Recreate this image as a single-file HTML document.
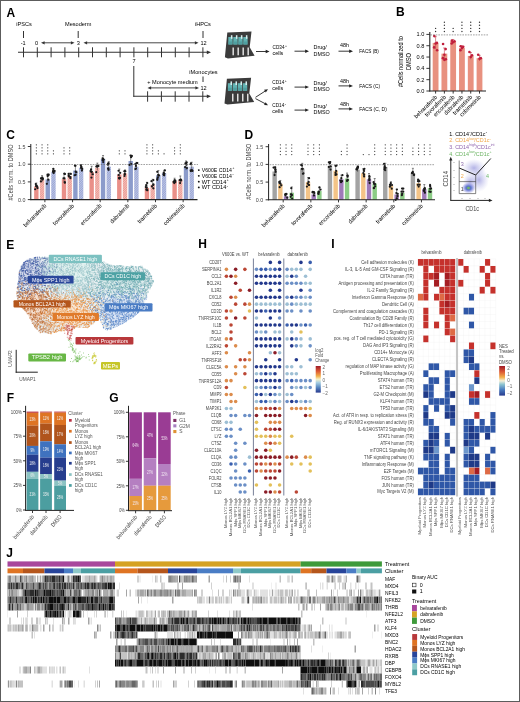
<!DOCTYPE html>
<html><head><meta charset="utf-8"><style>
html,body{margin:0;padding:0;background:#fff;overflow:hidden;}
svg{display:block;will-change:transform;font-family:"Liberation Sans", sans-serif;}
</style></head><body>
<svg width="520" height="702" viewBox="0 0 520 702">
<rect width="520" height="702" fill="#fff"/>
<defs><pattern id="hs" width="1.6" height="1.6" patternUnits="userSpaceOnUse" patternTransform="rotate(45)"><rect width="1.6" height="1.6" fill="#eb9a92"/><rect width="0.55" height="1.6" fill="#f8d0cc"/></pattern><pattern id="hb" width="1.6" height="1.6" patternUnits="userSpaceOnUse" patternTransform="rotate(45)"><rect width="1.6" height="1.6" fill="#9aa6d4"/><rect width="0.55" height="1.6" fill="#cdd3ee"/></pattern></defs>
<text x="6.4" y="16.5" font-size="12" fill="#000" font-weight="bold">A</text>
<line x1="18" y1="52.3" x2="207" y2="52.3" stroke="#333" stroke-width="1.1"/>
<path d="M211 52.3L206.8 54.19L206.8 50.41Z" fill="#333"/>
<line x1="23.5" y1="47.3" x2="23.5" y2="57.3" stroke="#333" stroke-width="1"/>
<line x1="37.3" y1="47.3" x2="37.3" y2="57.3" stroke="#333" stroke-width="1"/>
<line x1="51.1" y1="47.3" x2="51.1" y2="57.3" stroke="#333" stroke-width="1"/>
<line x1="64.9" y1="47.3" x2="64.9" y2="57.3" stroke="#333" stroke-width="1"/>
<line x1="78.7" y1="47.3" x2="78.7" y2="57.3" stroke="#333" stroke-width="1"/>
<line x1="92.5" y1="47.3" x2="92.5" y2="57.3" stroke="#333" stroke-width="1"/>
<line x1="106.3" y1="47.3" x2="106.3" y2="57.3" stroke="#333" stroke-width="1"/>
<line x1="120.1" y1="47.3" x2="120.1" y2="57.3" stroke="#333" stroke-width="1"/>
<line x1="133.9" y1="47.3" x2="133.9" y2="57.3" stroke="#333" stroke-width="1"/>
<line x1="147.7" y1="47.3" x2="147.7" y2="57.3" stroke="#333" stroke-width="1"/>
<line x1="161.5" y1="47.3" x2="161.5" y2="57.3" stroke="#333" stroke-width="1"/>
<line x1="175.3" y1="47.3" x2="175.3" y2="57.3" stroke="#333" stroke-width="1"/>
<line x1="189.1" y1="47.3" x2="189.1" y2="57.3" stroke="#333" stroke-width="1"/>
<line x1="202.9" y1="47.3" x2="202.9" y2="57.3" stroke="#333" stroke-width="1"/>
<text x="24" y="26.4" font-size="5.6" text-anchor="middle">iPSCs</text>
<text x="78.2" y="26.4" font-size="5.6" text-anchor="middle">Mesoderm</text>
<text x="203" y="26.4" font-size="5.6" text-anchor="middle">iHPCs</text>
<line x1="23.5" y1="31" x2="23.5" y2="38" stroke="#333" stroke-width="1"/>
<line x1="78.2" y1="31" x2="78.2" y2="38" stroke="#333" stroke-width="1"/>
<line x1="203" y1="31" x2="203" y2="38" stroke="#333" stroke-width="1"/>
<text x="23.2" y="44.7" font-size="5.6" text-anchor="middle">-1</text>
<text x="36.5" y="44.7" font-size="5.6" text-anchor="middle">0</text>
<text x="78.2" y="44.7" font-size="5.6" text-anchor="middle">3</text>
<text x="203.5" y="44.7" font-size="5.6" text-anchor="middle">12</text>
<line x1="44" y1="42.8" x2="71.5" y2="42.8" stroke="#333" stroke-width="0.9"/>
<path d="M41 42.8L44.6 41.18L44.6 44.42Z" fill="#333"/>
<path d="M74.5 42.8L70.9 44.42L70.9 41.18Z" fill="#333"/>
<line x1="86.5" y1="42.8" x2="195.5" y2="42.8" stroke="#333" stroke-width="0.9"/>
<path d="M83.5 42.8L87.1 41.18L87.1 44.42Z" fill="#333"/>
<path d="M198.5 42.8L194.9 44.42L194.9 41.18Z" fill="#333"/>
<text x="134" y="63.3" font-size="5.6" text-anchor="middle">7</text>
<line x1="133.8" y1="66" x2="133.8" y2="96.8" stroke="#333" stroke-width="1"/>
<line x1="133.3" y1="96.3" x2="207" y2="96.3" stroke="#333" stroke-width="1.1"/>
<path d="M211 96.3L206.8 98.19L206.8 94.41Z" fill="#333"/>
<line x1="147.6" y1="91.3" x2="147.6" y2="101.7" stroke="#333" stroke-width="1"/>
<line x1="161.4" y1="91.3" x2="161.4" y2="101.7" stroke="#333" stroke-width="1"/>
<line x1="175.2" y1="91.3" x2="175.2" y2="101.7" stroke="#333" stroke-width="1"/>
<line x1="189" y1="91.3" x2="189" y2="101.7" stroke="#333" stroke-width="1"/>
<line x1="202.8" y1="91.3" x2="202.8" y2="101.7" stroke="#333" stroke-width="1"/>
<text x="172.5" y="84.4" font-size="5.6" text-anchor="middle">+ Monocyte medium</text>
<line x1="150.5" y1="87.9" x2="196" y2="87.9" stroke="#333" stroke-width="0.9"/>
<path d="M147.5 87.9L151.1 86.28L151.1 89.52Z" fill="#333"/>
<path d="M199 87.9L195.4 89.52L195.4 86.28Z" fill="#333"/>
<text x="203.5" y="89.8" font-size="5.6" text-anchor="middle">12</text>
<text x="203.5" y="74.2" font-size="5.6" text-anchor="middle">iMonocytes</text>
<line x1="203" y1="76.5" x2="203" y2="82" stroke="#333" stroke-width="1"/>
<path d="M227.3 32.6L251.5 31.5L249.7 47.2L254.6 55.7L227.9 58.4L224.9 57.2Z" fill="#3b3b3b"/>
<rect x="228.3" y="37" width="4.3" height="7.6" fill="#62b2b2"/>
<rect x="230.9" y="35.2" width="1.5" height="3.6" fill="#d8eeee"/>
<rect x="228.6" y="41.5" width="3.6" height="2.8" fill="#4f9fa0"/>
<rect x="233.3" y="37" width="4.3" height="7.6" fill="#62b2b2"/>
<rect x="235.9" y="35.2" width="1.5" height="3.6" fill="#d8eeee"/>
<rect x="233.6" y="41.5" width="3.6" height="2.8" fill="#4f9fa0"/>
<rect x="238.3" y="37" width="4.3" height="7.6" fill="#62b2b2"/>
<rect x="240.9" y="35.2" width="1.5" height="3.6" fill="#d8eeee"/>
<rect x="238.6" y="41.5" width="3.6" height="2.8" fill="#4f9fa0"/>
<rect x="243.3" y="37" width="4.3" height="7.6" fill="#62b2b2"/>
<rect x="245.9" y="35.2" width="1.5" height="3.6" fill="#d8eeee"/>
<rect x="243.6" y="41.5" width="3.6" height="2.8" fill="#4f9fa0"/>
<rect x="232.5" y="47.5" width="1.35" height="7.8" fill="#f2f2f2"/>
<rect x="237.5" y="47.5" width="1.35" height="7.8" fill="#f2f2f2"/>
<rect x="242.5" y="47.5" width="1.35" height="7.8" fill="#f2f2f2"/>
<rect x="247.5" y="47.5" width="1.35" height="7.8" fill="#f2f2f2"/>
<path d="M226.9 78.8L251.1 77.7L249.3 93.4L254.2 101.9L227.5 104.6L224.5 103.4Z" fill="#3b3b3b"/>
<rect x="227.9" y="83.2" width="4.3" height="7.6" fill="#62b2b2"/>
<rect x="230.5" y="81.4" width="1.5" height="3.6" fill="#d8eeee"/>
<rect x="228.2" y="87.7" width="3.6" height="2.8" fill="#4f9fa0"/>
<rect x="232.9" y="83.2" width="4.3" height="7.6" fill="#62b2b2"/>
<rect x="235.5" y="81.4" width="1.5" height="3.6" fill="#d8eeee"/>
<rect x="233.2" y="87.7" width="3.6" height="2.8" fill="#4f9fa0"/>
<rect x="237.9" y="83.2" width="4.3" height="7.6" fill="#62b2b2"/>
<rect x="240.5" y="81.4" width="1.5" height="3.6" fill="#d8eeee"/>
<rect x="238.2" y="87.7" width="3.6" height="2.8" fill="#4f9fa0"/>
<rect x="242.9" y="83.2" width="4.3" height="7.6" fill="#62b2b2"/>
<rect x="245.5" y="81.4" width="1.5" height="3.6" fill="#d8eeee"/>
<rect x="243.2" y="87.7" width="3.6" height="2.8" fill="#4f9fa0"/>
<rect x="232.1" y="93.7" width="1.35" height="7.8" fill="#f2f2f2"/>
<rect x="237.1" y="93.7" width="1.35" height="7.8" fill="#f2f2f2"/>
<rect x="242.1" y="93.7" width="1.35" height="7.8" fill="#f2f2f2"/>
<rect x="247.1" y="93.7" width="1.35" height="7.8" fill="#f2f2f2"/>
<line x1="256" y1="51.5" x2="266.5" y2="51.5" stroke="#222" stroke-width="0.9"/>
<path d="M269.5 51.5L265.7 53.21L265.7 49.79Z" fill="#222"/>
<text x="272.5" y="49.2" font-size="5.4" textLength="12" lengthAdjust="spacingAndGlyphs">CD34</text>
<text x="284.9" y="46.8" font-size="3.4">+</text>
<text x="272.5" y="55.4" font-size="5.4">cells</text>
<line x1="294.5" y1="51.2" x2="306" y2="51.2" stroke="#222" stroke-width="0.9"/>
<path d="M309 51.2L305.2 52.91L305.2 49.49Z" fill="#222"/>
<text x="313.5" y="49.4" font-size="5.4">Drug/</text>
<text x="313.5" y="55.6" font-size="5.4">DMSO</text>
<line x1="338.5" y1="51.2" x2="350" y2="51.2" stroke="#222" stroke-width="0.9"/>
<path d="M353 51.2L349.2 52.91L349.2 49.49Z" fill="#222"/>
<text x="340" y="47.4" font-size="5.4">48h</text>
<text x="359.3" y="52.9" font-size="5.4" textLength="19.5" lengthAdjust="spacingAndGlyphs">FACS (B)</text>
<line x1="255.5" y1="97.3" x2="265" y2="91.2" stroke="#222" stroke-width="0.9"/>
<path d="M268 89.3L265.79 92.57L264.09 89.82Z" fill="#222"/>
<line x1="255.5" y1="98.6" x2="265" y2="103.6" stroke="#222" stroke-width="0.9"/>
<path d="M268 105.3L264.06 104.98L265.63 102.15Z" fill="#222"/>
<text x="272.3" y="84" font-size="5.4" textLength="12" lengthAdjust="spacingAndGlyphs">CD14</text>
<text x="284.7" y="81.6" font-size="3.4">+</text>
<text x="272.3" y="90.4" font-size="5.4">cells</text>
<line x1="294.5" y1="87.1" x2="306" y2="87.1" stroke="#222" stroke-width="0.9"/>
<path d="M309 87.1L305.2 88.81L305.2 85.39Z" fill="#222"/>
<text x="313.5" y="85.1" font-size="5.4">Drug/</text>
<text x="313.5" y="91.4" font-size="5.4">DMSO</text>
<line x1="338.5" y1="85.9" x2="350" y2="85.9" stroke="#222" stroke-width="0.9"/>
<path d="M353 85.9L349.2 87.61L349.2 84.19Z" fill="#222"/>
<text x="340" y="82.8" font-size="5.4">48h</text>
<text x="272.3" y="107" font-size="5.4" textLength="12" lengthAdjust="spacingAndGlyphs">CD14</text>
<text x="284.7" y="104.6" font-size="3.4">-</text>
<text x="272.3" y="113.4" font-size="5.4">cells</text>
<line x1="294.5" y1="110.1" x2="306" y2="110.1" stroke="#222" stroke-width="0.9"/>
<path d="M309 110.1L305.2 111.81L305.2 108.39Z" fill="#222"/>
<text x="313.5" y="108.1" font-size="5.4">Drug/</text>
<text x="313.5" y="114.4" font-size="5.4">DMSO</text>
<line x1="338.5" y1="108.9" x2="350" y2="108.9" stroke="#222" stroke-width="0.9"/>
<path d="M353 108.9L349.2 110.61L349.2 107.19Z" fill="#222"/>
<text x="340" y="105.8" font-size="5.4">48h</text>
<text x="359.3" y="87.6" font-size="5.4" textLength="20.8" lengthAdjust="spacingAndGlyphs">FACS (C)</text>
<text x="359.3" y="110.6" font-size="5.4" textLength="27.5" lengthAdjust="spacingAndGlyphs">FACS (C, D)</text>
<text x="396.1" y="16.2" font-size="12" fill="#000" font-weight="bold">B</text>
<rect x="432.7" y="42.89" width="5.8" height="48.11" fill="#e8917f"/>
<line x1="435.6" y1="36.66" x2="435.6" y2="49.12" stroke="#c23a48" stroke-width="0.6"/>
<line x1="434.4" y1="36.66" x2="436.8" y2="36.66" stroke="#c23a48" stroke-width="0.6"/>
<circle cx="434.3" cy="36.1" r="1.3" fill="#c01e3c"/>
<circle cx="436.9" cy="42.89" r="1.3" fill="#c01e3c"/>
<circle cx="435.6" cy="43.46" r="1.3" fill="#c01e3c"/>
<circle cx="434.1" cy="47.42" r="1.3" fill="#c01e3c"/>
<circle cx="437.1" cy="50.25" r="1.3" fill="#c01e3c"/>
<circle cx="435.6" cy="28.4" r="0.68" fill="#333"/>
<circle cx="435.6" cy="31.5" r="0.68" fill="#333"/>
<rect x="441.48" y="53.64" width="5.8" height="37.36" fill="#e8917f"/>
<line x1="444.38" y1="47.98" x2="444.38" y2="59.3" stroke="#c23a48" stroke-width="0.6"/>
<line x1="443.18" y1="47.98" x2="445.58" y2="47.98" stroke="#c23a48" stroke-width="0.6"/>
<circle cx="443.08" cy="44.02" r="1.3" fill="#c01e3c"/>
<circle cx="445.68" cy="49.12" r="1.3" fill="#c01e3c"/>
<circle cx="444.38" cy="54.78" r="1.3" fill="#c01e3c"/>
<circle cx="442.88" cy="58.17" r="1.3" fill="#c01e3c"/>
<circle cx="445.88" cy="59.3" r="1.3" fill="#c01e3c"/>
<circle cx="444.38" cy="59.87" r="1.3" fill="#c01e3c"/>
<circle cx="444.38" cy="22.2" r="0.68" fill="#333"/>
<circle cx="444.38" cy="25.3" r="0.68" fill="#333"/>
<circle cx="444.38" cy="28.4" r="0.68" fill="#333"/>
<circle cx="444.38" cy="31.5" r="0.68" fill="#333"/>
<rect x="450.26" y="41.19" width="5.8" height="49.81" fill="#e8917f"/>
<line x1="453.16" y1="39.49" x2="453.16" y2="42.89" stroke="#c23a48" stroke-width="0.6"/>
<line x1="451.96" y1="39.49" x2="454.36" y2="39.49" stroke="#c23a48" stroke-width="0.6"/>
<circle cx="451.86" cy="40.63" r="1.3" fill="#c01e3c"/>
<circle cx="454.46" cy="41.19" r="1.3" fill="#c01e3c"/>
<circle cx="453.16" cy="42.32" r="1.3" fill="#c01e3c"/>
<circle cx="451.66" cy="43.46" r="1.3" fill="#c01e3c"/>
<circle cx="453.16" cy="28.4" r="0.68" fill="#333"/>
<circle cx="453.16" cy="31.5" r="0.68" fill="#333"/>
<rect x="459.04" y="47.98" width="5.8" height="43.02" fill="#e8917f"/>
<line x1="461.94" y1="45.72" x2="461.94" y2="50.25" stroke="#c23a48" stroke-width="0.6"/>
<line x1="460.74" y1="45.72" x2="463.14" y2="45.72" stroke="#c23a48" stroke-width="0.6"/>
<circle cx="460.64" cy="46.29" r="1.3" fill="#c01e3c"/>
<circle cx="463.24" cy="46.85" r="1.3" fill="#c01e3c"/>
<circle cx="461.94" cy="47.98" r="1.3" fill="#c01e3c"/>
<circle cx="460.44" cy="50.25" r="1.3" fill="#c01e3c"/>
<circle cx="461.94" cy="22.2" r="0.68" fill="#333"/>
<circle cx="461.94" cy="25.3" r="0.68" fill="#333"/>
<circle cx="461.94" cy="28.4" r="0.68" fill="#333"/>
<circle cx="461.94" cy="31.5" r="0.68" fill="#333"/>
<rect x="467.82" y="55.91" width="5.8" height="35.09" fill="#e8917f"/>
<line x1="470.72" y1="52.51" x2="470.72" y2="59.3" stroke="#c23a48" stroke-width="0.6"/>
<line x1="469.52" y1="52.51" x2="471.92" y2="52.51" stroke="#c23a48" stroke-width="0.6"/>
<circle cx="469.42" cy="51.95" r="1.3" fill="#c01e3c"/>
<circle cx="472.02" cy="55.34" r="1.3" fill="#c01e3c"/>
<circle cx="470.72" cy="57.04" r="1.3" fill="#c01e3c"/>
<circle cx="470.72" cy="22.2" r="0.68" fill="#333"/>
<circle cx="470.72" cy="25.3" r="0.68" fill="#333"/>
<circle cx="470.72" cy="28.4" r="0.68" fill="#333"/>
<circle cx="470.72" cy="31.5" r="0.68" fill="#333"/>
<rect x="476.6" y="58.17" width="5.8" height="32.83" fill="#e8917f"/>
<line x1="479.5" y1="55.34" x2="479.5" y2="61" stroke="#c23a48" stroke-width="0.6"/>
<line x1="478.3" y1="55.34" x2="480.7" y2="55.34" stroke="#c23a48" stroke-width="0.6"/>
<circle cx="478.2" cy="54.78" r="1.3" fill="#c01e3c"/>
<circle cx="480.8" cy="58.17" r="1.3" fill="#c01e3c"/>
<circle cx="479.5" cy="58.74" r="1.3" fill="#c01e3c"/>
<circle cx="479.5" cy="22.2" r="0.68" fill="#333"/>
<circle cx="479.5" cy="25.3" r="0.68" fill="#333"/>
<circle cx="479.5" cy="28.4" r="0.68" fill="#333"/>
<circle cx="479.5" cy="31.5" r="0.68" fill="#333"/>
<line x1="429.8" y1="34.9" x2="488" y2="34.9" stroke="#666" stroke-width="1" stroke-dasharray="0.6 1.0"/>
<line x1="429.8" y1="32" x2="429.8" y2="91.5" stroke="#222" stroke-width="1.1"/>
<line x1="429.3" y1="91" x2="486" y2="91" stroke="#222" stroke-width="1.1"/>
<line x1="426.4" y1="91" x2="429.8" y2="91" stroke="#222" stroke-width="0.9"/>
<text x="424.4" y="93" font-size="5.8" text-anchor="end" textLength="7.8" lengthAdjust="spacingAndGlyphs">0.0</text>
<line x1="426.4" y1="79.68" x2="429.8" y2="79.68" stroke="#222" stroke-width="0.9"/>
<text x="424.4" y="81.68" font-size="5.8" text-anchor="end" textLength="7.8" lengthAdjust="spacingAndGlyphs">0.2</text>
<line x1="426.4" y1="68.36" x2="429.8" y2="68.36" stroke="#222" stroke-width="0.9"/>
<text x="424.4" y="70.36" font-size="5.8" text-anchor="end" textLength="7.8" lengthAdjust="spacingAndGlyphs">0.4</text>
<line x1="426.4" y1="57.04" x2="429.8" y2="57.04" stroke="#222" stroke-width="0.9"/>
<text x="424.4" y="59.04" font-size="5.8" text-anchor="end" textLength="7.8" lengthAdjust="spacingAndGlyphs">0.6</text>
<line x1="426.4" y1="45.72" x2="429.8" y2="45.72" stroke="#222" stroke-width="0.9"/>
<text x="424.4" y="47.72" font-size="5.8" text-anchor="end" textLength="7.8" lengthAdjust="spacingAndGlyphs">0.8</text>
<line x1="426.4" y1="34.4" x2="429.8" y2="34.4" stroke="#222" stroke-width="0.9"/>
<text x="424.4" y="36.4" font-size="5.8" text-anchor="end" textLength="7.8" lengthAdjust="spacingAndGlyphs">1.0</text>
<line x1="435.6" y1="91" x2="435.6" y2="93.6" stroke="#222" stroke-width="0.9"/>
<text x="437.6" y="97.6" font-size="6" text-anchor="end" transform="rotate(-45 437.6 97.6)" textLength="30" lengthAdjust="spacingAndGlyphs">belvarafenib</text>
<line x1="444.38" y1="91" x2="444.38" y2="93.6" stroke="#222" stroke-width="0.9"/>
<text x="446.38" y="97.6" font-size="6" text-anchor="end" transform="rotate(-45 446.38 97.6)" textLength="27.5" lengthAdjust="spacingAndGlyphs">tovorafenib</text>
<line x1="453.16" y1="91" x2="453.16" y2="93.6" stroke="#222" stroke-width="0.9"/>
<text x="455.16" y="97.6" font-size="6" text-anchor="end" transform="rotate(-45 455.16 97.6)" textLength="27.5" lengthAdjust="spacingAndGlyphs">encorafenib</text>
<line x1="461.94" y1="91" x2="461.94" y2="93.6" stroke="#222" stroke-width="0.9"/>
<text x="463.94" y="97.6" font-size="6" text-anchor="end" transform="rotate(-45 463.94 97.6)" textLength="25" lengthAdjust="spacingAndGlyphs">dabrafenib</text>
<line x1="470.72" y1="91" x2="470.72" y2="93.6" stroke="#222" stroke-width="0.9"/>
<text x="472.72" y="97.6" font-size="6" text-anchor="end" transform="rotate(-45 472.72 97.6)" textLength="25" lengthAdjust="spacingAndGlyphs">trametinib</text>
<line x1="479.5" y1="91" x2="479.5" y2="93.6" stroke="#222" stroke-width="0.9"/>
<text x="481.5" y="97.6" font-size="6" text-anchor="end" transform="rotate(-45 481.5 97.6)" textLength="27.5" lengthAdjust="spacingAndGlyphs">cobimetinib</text>
<text x="403.2" y="61.6" font-size="6.9" text-anchor="middle" transform="rotate(-90 403.2 61.6)" textLength="51" lengthAdjust="spacingAndGlyphs">#Cells normalized to</text>
<text x="411.2" y="61.6" font-size="6.9" text-anchor="middle" transform="rotate(-90 411.2 61.6)" textLength="17" lengthAdjust="spacingAndGlyphs">DMSO</text>
<text x="6.2" y="138.9" font-size="12" fill="#000" font-weight="bold">C</text>
<rect x="34.15" y="186.32" width="4.4" height="13.27" fill="#e98f88"/>
<line x1="36.35" y1="182.97" x2="36.35" y2="188.34" stroke="#333" stroke-width="0.55"/>
<line x1="35.35" y1="182.97" x2="37.35" y2="182.97" stroke="#333" stroke-width="0.55"/>
<circle cx="36.04" cy="186.03" r="1.1" fill="#1a1a1a"/>
<circle cx="36.65" cy="185.63" r="1.1" fill="#1a1a1a"/>
<circle cx="35.18" cy="189.24" r="1.1" fill="#1a1a1a"/>
<circle cx="35.77" cy="184.06" r="1.1" fill="#1a1a1a"/>
<circle cx="37.54" cy="188.11" r="1.1" fill="#1a1a1a"/>
<circle cx="37.16" cy="186.52" r="1.1" fill="#1a1a1a"/>
<rect x="39.85" y="179.78" width="4.4" height="19.82" fill="url(#hs)"/>
<line x1="42.05" y1="175.61" x2="42.05" y2="182.28" stroke="#333" stroke-width="0.55"/>
<line x1="41.05" y1="175.61" x2="43.05" y2="175.61" stroke="#333" stroke-width="0.55"/>
<circle cx="41.21" cy="178.62" r="1.1" fill="#1a1a1a"/>
<circle cx="42.93" cy="178.65" r="1.1" fill="#1a1a1a"/>
<circle cx="42.63" cy="179.58" r="1.1" fill="#1a1a1a"/>
<circle cx="41" cy="178.35" r="1.1" fill="#1a1a1a"/>
<circle cx="42.27" cy="177.62" r="1.1" fill="#1a1a1a"/>
<circle cx="40.92" cy="181.43" r="1.1" fill="#1a1a1a"/>
<rect x="45.55" y="179.42" width="4.4" height="20.18" fill="#8b9bcb"/>
<line x1="47.75" y1="173.93" x2="47.75" y2="182.72" stroke="#333" stroke-width="0.55"/>
<line x1="46.75" y1="173.93" x2="48.75" y2="173.93" stroke="#333" stroke-width="0.55"/>
<circle cx="48.28" cy="179.72" r="1.1" fill="#1a1a1a"/>
<circle cx="48.26" cy="175.26" r="1.1" fill="#1a1a1a"/>
<circle cx="47.5" cy="174.8" r="1.1" fill="#1a1a1a"/>
<circle cx="47.62" cy="176.12" r="1.1" fill="#1a1a1a"/>
<circle cx="48.66" cy="174.64" r="1.1" fill="#1a1a1a"/>
<circle cx="46.88" cy="183.84" r="1.1" fill="#1a1a1a"/>
<rect x="51.25" y="171.99" width="4.4" height="27.61" fill="url(#hb)"/>
<line x1="53.45" y1="168.7" x2="53.45" y2="173.96" stroke="#333" stroke-width="0.55"/>
<line x1="52.45" y1="168.7" x2="54.45" y2="168.7" stroke="#333" stroke-width="0.55"/>
<circle cx="53.3" cy="168.93" r="1.1" fill="#1a1a1a"/>
<circle cx="52.97" cy="171.16" r="1.1" fill="#1a1a1a"/>
<circle cx="53.18" cy="171.94" r="1.1" fill="#1a1a1a"/>
<circle cx="53.65" cy="172.97" r="1.1" fill="#1a1a1a"/>
<circle cx="54.42" cy="171.43" r="1.1" fill="#1a1a1a"/>
<circle cx="54.48" cy="170.79" r="1.1" fill="#1a1a1a"/>
<rect x="61.8" y="179.07" width="4.4" height="20.53" fill="#e98f88"/>
<line x1="64" y1="173.61" x2="64" y2="182.34" stroke="#333" stroke-width="0.55"/>
<line x1="63" y1="173.61" x2="65" y2="173.61" stroke="#333" stroke-width="0.55"/>
<circle cx="64.41" cy="173.71" r="1.1" fill="#1a1a1a"/>
<circle cx="64.87" cy="182.75" r="1.1" fill="#1a1a1a"/>
<circle cx="64.97" cy="173.99" r="1.1" fill="#1a1a1a"/>
<circle cx="64.51" cy="178.31" r="1.1" fill="#1a1a1a"/>
<circle cx="64.8" cy="182.22" r="1.1" fill="#1a1a1a"/>
<circle cx="63.48" cy="178.27" r="1.1" fill="#1a1a1a"/>
<rect x="67.5" y="175.88" width="4.4" height="23.72" fill="url(#hs)"/>
<line x1="69.7" y1="173.12" x2="69.7" y2="177.54" stroke="#333" stroke-width="0.55"/>
<line x1="68.7" y1="173.12" x2="70.7" y2="173.12" stroke="#333" stroke-width="0.55"/>
<circle cx="70.88" cy="173.93" r="1.1" fill="#1a1a1a"/>
<circle cx="70.42" cy="178.16" r="1.1" fill="#1a1a1a"/>
<circle cx="68.86" cy="176.38" r="1.1" fill="#1a1a1a"/>
<circle cx="70.35" cy="177.02" r="1.1" fill="#1a1a1a"/>
<circle cx="68.61" cy="173.82" r="1.1" fill="#1a1a1a"/>
<circle cx="68.61" cy="175.25" r="1.1" fill="#1a1a1a"/>
<rect x="73.2" y="170.57" width="4.4" height="29.03" fill="#8b9bcb"/>
<line x1="75.4" y1="165.58" x2="75.4" y2="173.57" stroke="#333" stroke-width="0.55"/>
<line x1="74.4" y1="165.58" x2="76.4" y2="165.58" stroke="#333" stroke-width="0.55"/>
<circle cx="76.31" cy="172.26" r="1.1" fill="#1a1a1a"/>
<circle cx="75.41" cy="165.77" r="1.1" fill="#1a1a1a"/>
<circle cx="74.94" cy="165.6" r="1.1" fill="#1a1a1a"/>
<circle cx="75.64" cy="174.79" r="1.1" fill="#1a1a1a"/>
<circle cx="74.67" cy="175.25" r="1.1" fill="#1a1a1a"/>
<circle cx="75.67" cy="171.49" r="1.1" fill="#1a1a1a"/>
<rect x="78.9" y="167.74" width="4.4" height="31.86" fill="url(#hb)"/>
<line x1="81.1" y1="164.66" x2="81.1" y2="169.59" stroke="#333" stroke-width="0.55"/>
<line x1="80.1" y1="164.66" x2="82.1" y2="164.66" stroke="#333" stroke-width="0.55"/>
<circle cx="81.98" cy="170.56" r="1.1" fill="#1a1a1a"/>
<circle cx="82.2" cy="168.89" r="1.1" fill="#1a1a1a"/>
<circle cx="80.81" cy="165.3" r="1.1" fill="#1a1a1a"/>
<circle cx="81.15" cy="167.98" r="1.1" fill="#1a1a1a"/>
<circle cx="81.33" cy="166.85" r="1.1" fill="#1a1a1a"/>
<circle cx="81.39" cy="167.37" r="1.1" fill="#1a1a1a"/>
<rect x="89.45" y="171.99" width="4.4" height="27.61" fill="#e98f88"/>
<line x1="91.65" y1="166.24" x2="91.65" y2="175.44" stroke="#333" stroke-width="0.55"/>
<line x1="90.65" y1="166.24" x2="92.65" y2="166.24" stroke="#333" stroke-width="0.55"/>
<circle cx="91.48" cy="171.91" r="1.1" fill="#1a1a1a"/>
<circle cx="91.02" cy="169.46" r="1.1" fill="#1a1a1a"/>
<circle cx="92.8" cy="174.27" r="1.1" fill="#1a1a1a"/>
<circle cx="91.77" cy="171.75" r="1.1" fill="#1a1a1a"/>
<circle cx="91.45" cy="177.6" r="1.1" fill="#1a1a1a"/>
<circle cx="90.5" cy="171.07" r="1.1" fill="#1a1a1a"/>
<rect x="95.15" y="167.74" width="4.4" height="31.86" fill="url(#hs)"/>
<line x1="97.35" y1="163.1" x2="97.35" y2="170.52" stroke="#333" stroke-width="0.55"/>
<line x1="96.35" y1="163.1" x2="98.35" y2="163.1" stroke="#333" stroke-width="0.55"/>
<circle cx="96.29" cy="166.51" r="1.1" fill="#1a1a1a"/>
<circle cx="97.27" cy="166.56" r="1.1" fill="#1a1a1a"/>
<circle cx="97" cy="166.08" r="1.1" fill="#1a1a1a"/>
<circle cx="97.92" cy="165.82" r="1.1" fill="#1a1a1a"/>
<circle cx="96.3" cy="172.18" r="1.1" fill="#1a1a1a"/>
<circle cx="98.46" cy="166.11" r="1.1" fill="#1a1a1a"/>
<rect x="100.85" y="158.89" width="4.4" height="40.71" fill="#8b9bcb"/>
<line x1="103.05" y1="155.49" x2="103.05" y2="160.93" stroke="#333" stroke-width="0.55"/>
<line x1="102.05" y1="155.49" x2="104.05" y2="155.49" stroke="#333" stroke-width="0.55"/>
<circle cx="103.27" cy="159.19" r="1.1" fill="#1a1a1a"/>
<circle cx="102.72" cy="160.11" r="1.1" fill="#1a1a1a"/>
<circle cx="102.74" cy="160.16" r="1.1" fill="#1a1a1a"/>
<circle cx="102.57" cy="158.24" r="1.1" fill="#1a1a1a"/>
<circle cx="103.7" cy="159.73" r="1.1" fill="#1a1a1a"/>
<circle cx="103.22" cy="162.11" r="1.1" fill="#1a1a1a"/>
<rect x="106.55" y="166.68" width="4.4" height="32.92" fill="url(#hb)"/>
<line x1="108.75" y1="161.63" x2="108.75" y2="169.71" stroke="#333" stroke-width="0.55"/>
<line x1="107.75" y1="161.63" x2="109.75" y2="161.63" stroke="#333" stroke-width="0.55"/>
<circle cx="108.08" cy="168.6" r="1.1" fill="#1a1a1a"/>
<circle cx="108.12" cy="163.61" r="1.1" fill="#1a1a1a"/>
<circle cx="108.59" cy="169.83" r="1.1" fill="#1a1a1a"/>
<circle cx="107.79" cy="164.68" r="1.1" fill="#1a1a1a"/>
<circle cx="108.35" cy="168.48" r="1.1" fill="#1a1a1a"/>
<circle cx="108.6" cy="163.31" r="1.1" fill="#1a1a1a"/>
<rect x="117.1" y="174.47" width="4.4" height="25.13" fill="#e98f88"/>
<line x1="119.3" y1="169.01" x2="119.3" y2="177.74" stroke="#333" stroke-width="0.55"/>
<line x1="118.3" y1="169.01" x2="120.3" y2="169.01" stroke="#333" stroke-width="0.55"/>
<circle cx="118.91" cy="178.07" r="1.1" fill="#1a1a1a"/>
<circle cx="120.22" cy="172.83" r="1.1" fill="#1a1a1a"/>
<circle cx="118.64" cy="175" r="1.1" fill="#1a1a1a"/>
<circle cx="119.37" cy="178.6" r="1.1" fill="#1a1a1a"/>
<circle cx="120.04" cy="177.84" r="1.1" fill="#1a1a1a"/>
<circle cx="118.54" cy="170.77" r="1.1" fill="#1a1a1a"/>
<rect x="122.8" y="173.4" width="4.4" height="26.2" fill="url(#hs)"/>
<line x1="125" y1="169.91" x2="125" y2="175.5" stroke="#333" stroke-width="0.55"/>
<line x1="124" y1="169.91" x2="126" y2="169.91" stroke="#333" stroke-width="0.55"/>
<circle cx="125.34" cy="171.26" r="1.1" fill="#1a1a1a"/>
<circle cx="124.63" cy="171.26" r="1.1" fill="#1a1a1a"/>
<circle cx="124.5" cy="175.99" r="1.1" fill="#1a1a1a"/>
<circle cx="124.45" cy="171.35" r="1.1" fill="#1a1a1a"/>
<circle cx="124.8" cy="174.48" r="1.1" fill="#1a1a1a"/>
<circle cx="124.78" cy="173.96" r="1.1" fill="#1a1a1a"/>
<rect x="128.5" y="161.01" width="4.4" height="38.59" fill="#8b9bcb"/>
<line x1="130.7" y1="155.34" x2="130.7" y2="164.42" stroke="#333" stroke-width="0.55"/>
<line x1="129.7" y1="155.34" x2="131.7" y2="155.34" stroke="#333" stroke-width="0.55"/>
<circle cx="129.51" cy="164.92" r="1.1" fill="#1a1a1a"/>
<circle cx="131.61" cy="155.98" r="1.1" fill="#1a1a1a"/>
<circle cx="130.54" cy="155.49" r="1.1" fill="#1a1a1a"/>
<circle cx="131.73" cy="155.9" r="1.1" fill="#1a1a1a"/>
<circle cx="131.29" cy="164.17" r="1.1" fill="#1a1a1a"/>
<circle cx="131.09" cy="157.19" r="1.1" fill="#1a1a1a"/>
<rect x="134.2" y="166.68" width="4.4" height="32.92" fill="url(#hb)"/>
<line x1="136.4" y1="162.37" x2="136.4" y2="169.27" stroke="#333" stroke-width="0.55"/>
<line x1="135.4" y1="162.37" x2="137.4" y2="162.37" stroke="#333" stroke-width="0.55"/>
<circle cx="136.02" cy="168.5" r="1.1" fill="#1a1a1a"/>
<circle cx="135.36" cy="169.03" r="1.1" fill="#1a1a1a"/>
<circle cx="135.89" cy="165.91" r="1.1" fill="#1a1a1a"/>
<circle cx="135.31" cy="164" r="1.1" fill="#1a1a1a"/>
<circle cx="136.86" cy="163.2" r="1.1" fill="#1a1a1a"/>
<circle cx="137.35" cy="163.02" r="1.1" fill="#1a1a1a"/>
<rect x="144.75" y="187.92" width="4.4" height="11.68" fill="#e98f88"/>
<line x1="146.95" y1="182.31" x2="146.95" y2="191.28" stroke="#333" stroke-width="0.55"/>
<line x1="145.95" y1="182.31" x2="147.95" y2="182.31" stroke="#333" stroke-width="0.55"/>
<circle cx="145.78" cy="187.06" r="1.1" fill="#1a1a1a"/>
<circle cx="146.16" cy="185.17" r="1.1" fill="#1a1a1a"/>
<circle cx="147.34" cy="190.16" r="1.1" fill="#1a1a1a"/>
<circle cx="146.74" cy="187.64" r="1.1" fill="#1a1a1a"/>
<circle cx="147.22" cy="183" r="1.1" fill="#1a1a1a"/>
<circle cx="146.36" cy="189.7" r="1.1" fill="#1a1a1a"/>
<rect x="150.45" y="184.73" width="4.4" height="14.87" fill="url(#hs)"/>
<line x1="152.65" y1="179.25" x2="152.65" y2="188.02" stroke="#333" stroke-width="0.55"/>
<line x1="151.65" y1="179.25" x2="153.65" y2="179.25" stroke="#333" stroke-width="0.55"/>
<circle cx="153.33" cy="184.98" r="1.1" fill="#1a1a1a"/>
<circle cx="151.92" cy="186.35" r="1.1" fill="#1a1a1a"/>
<circle cx="153.41" cy="184.35" r="1.1" fill="#1a1a1a"/>
<circle cx="153.35" cy="188.33" r="1.1" fill="#1a1a1a"/>
<circle cx="153.38" cy="180.11" r="1.1" fill="#1a1a1a"/>
<circle cx="151.47" cy="181.19" r="1.1" fill="#1a1a1a"/>
<rect x="156.15" y="175.17" width="4.4" height="24.43" fill="#8b9bcb"/>
<line x1="158.35" y1="170.49" x2="158.35" y2="177.99" stroke="#333" stroke-width="0.55"/>
<line x1="157.35" y1="170.49" x2="159.35" y2="170.49" stroke="#333" stroke-width="0.55"/>
<circle cx="157.27" cy="171.78" r="1.1" fill="#1a1a1a"/>
<circle cx="157.79" cy="177.32" r="1.1" fill="#1a1a1a"/>
<circle cx="158.17" cy="174.92" r="1.1" fill="#1a1a1a"/>
<circle cx="159.01" cy="175.43" r="1.1" fill="#1a1a1a"/>
<circle cx="157.28" cy="179.84" r="1.1" fill="#1a1a1a"/>
<circle cx="157.45" cy="178.67" r="1.1" fill="#1a1a1a"/>
<rect x="161.85" y="173.05" width="4.4" height="26.55" fill="url(#hb)"/>
<line x1="164.05" y1="170.27" x2="164.05" y2="174.72" stroke="#333" stroke-width="0.55"/>
<line x1="163.05" y1="170.27" x2="165.05" y2="170.27" stroke="#333" stroke-width="0.55"/>
<circle cx="164.9" cy="170.41" r="1.1" fill="#1a1a1a"/>
<circle cx="164.06" cy="175.35" r="1.1" fill="#1a1a1a"/>
<circle cx="163.6" cy="174.07" r="1.1" fill="#1a1a1a"/>
<circle cx="164.4" cy="173.88" r="1.1" fill="#1a1a1a"/>
<circle cx="163.72" cy="172.57" r="1.1" fill="#1a1a1a"/>
<circle cx="163.64" cy="174.77" r="1.1" fill="#1a1a1a"/>
<rect x="172.4" y="181.19" width="4.4" height="18.41" fill="#e98f88"/>
<line x1="174.6" y1="178.22" x2="174.6" y2="182.97" stroke="#333" stroke-width="0.55"/>
<line x1="173.6" y1="178.22" x2="175.6" y2="178.22" stroke="#333" stroke-width="0.55"/>
<circle cx="175.12" cy="180.86" r="1.1" fill="#1a1a1a"/>
<circle cx="173.59" cy="181.9" r="1.1" fill="#1a1a1a"/>
<circle cx="174.3" cy="183.1" r="1.1" fill="#1a1a1a"/>
<circle cx="175.28" cy="180.57" r="1.1" fill="#1a1a1a"/>
<circle cx="175.32" cy="181.9" r="1.1" fill="#1a1a1a"/>
<circle cx="174.44" cy="180.46" r="1.1" fill="#1a1a1a"/>
<rect x="178.1" y="179.78" width="4.4" height="19.82" fill="url(#hs)"/>
<line x1="180.3" y1="175.96" x2="180.3" y2="182.06" stroke="#333" stroke-width="0.55"/>
<line x1="179.3" y1="175.96" x2="181.3" y2="175.96" stroke="#333" stroke-width="0.55"/>
<circle cx="180.79" cy="179.81" r="1.1" fill="#1a1a1a"/>
<circle cx="180.77" cy="180.38" r="1.1" fill="#1a1a1a"/>
<circle cx="179.69" cy="180.07" r="1.1" fill="#1a1a1a"/>
<circle cx="180.77" cy="179.5" r="1.1" fill="#1a1a1a"/>
<circle cx="180.12" cy="183.04" r="1.1" fill="#1a1a1a"/>
<circle cx="181.21" cy="180.34" r="1.1" fill="#1a1a1a"/>
<rect x="183.8" y="166.68" width="4.4" height="32.92" fill="#8b9bcb"/>
<line x1="186" y1="160.95" x2="186" y2="170.12" stroke="#333" stroke-width="0.55"/>
<line x1="185" y1="160.95" x2="187" y2="160.95" stroke="#333" stroke-width="0.55"/>
<circle cx="186.95" cy="168.12" r="1.1" fill="#1a1a1a"/>
<circle cx="185.43" cy="163.34" r="1.1" fill="#1a1a1a"/>
<circle cx="185.1" cy="167.09" r="1.1" fill="#1a1a1a"/>
<circle cx="186.39" cy="163.09" r="1.1" fill="#1a1a1a"/>
<circle cx="186.7" cy="162.24" r="1.1" fill="#1a1a1a"/>
<circle cx="186.56" cy="164.76" r="1.1" fill="#1a1a1a"/>
<rect x="189.5" y="166.68" width="4.4" height="32.92" fill="url(#hb)"/>
<line x1="191.7" y1="162.21" x2="191.7" y2="169.36" stroke="#333" stroke-width="0.55"/>
<line x1="190.7" y1="162.21" x2="192.7" y2="162.21" stroke="#333" stroke-width="0.55"/>
<circle cx="191.91" cy="170.22" r="1.1" fill="#1a1a1a"/>
<circle cx="190.84" cy="171.1" r="1.1" fill="#1a1a1a"/>
<circle cx="190.61" cy="164.23" r="1.1" fill="#1a1a1a"/>
<circle cx="190.74" cy="170.32" r="1.1" fill="#1a1a1a"/>
<circle cx="190.93" cy="163.28" r="1.1" fill="#1a1a1a"/>
<circle cx="192.52" cy="170.93" r="1.1" fill="#1a1a1a"/>
<line x1="30.8" y1="164.5" x2="198" y2="164.5" stroke="#666" stroke-width="1" stroke-dasharray="0.6 1.0"/>
<line x1="30.8" y1="144" x2="30.8" y2="200.1" stroke="#222" stroke-width="1"/>
<line x1="27.8" y1="199.6" x2="30.8" y2="199.6" stroke="#222" stroke-width="0.9"/>
<text x="25.4" y="201.6" font-size="5.6" text-anchor="end" fill="#444" textLength="7.4" lengthAdjust="spacingAndGlyphs">0.0</text>
<line x1="27.8" y1="181.9" x2="30.8" y2="181.9" stroke="#222" stroke-width="0.9"/>
<text x="25.4" y="183.9" font-size="5.6" text-anchor="end" fill="#444" textLength="7.4" lengthAdjust="spacingAndGlyphs">0.5</text>
<line x1="27.8" y1="164.2" x2="30.8" y2="164.2" stroke="#222" stroke-width="0.9"/>
<text x="25.4" y="166.2" font-size="5.6" text-anchor="end" fill="#444" textLength="7.4" lengthAdjust="spacingAndGlyphs">1.0</text>
<line x1="27.8" y1="146.5" x2="30.8" y2="146.5" stroke="#222" stroke-width="0.9"/>
<text x="25.4" y="148.5" font-size="5.6" text-anchor="end" fill="#444" textLength="7.4" lengthAdjust="spacingAndGlyphs">1.5</text>
<line x1="30.3" y1="199.6" x2="197.5" y2="199.6" stroke="#222" stroke-width="1.1"/>
<line x1="44.9" y1="199.6" x2="44.9" y2="202.2" stroke="#222" stroke-width="0.9"/>
<text x="46.9" y="206.2" font-size="6" text-anchor="end" transform="rotate(-45 46.9 206.2)" textLength="30" lengthAdjust="spacingAndGlyphs">belvarafenib</text>
<line x1="72.55" y1="199.6" x2="72.55" y2="202.2" stroke="#222" stroke-width="0.9"/>
<text x="74.55" y="206.2" font-size="6" text-anchor="end" transform="rotate(-45 74.55 206.2)" textLength="27.5" lengthAdjust="spacingAndGlyphs">tovorafenib</text>
<line x1="100.2" y1="199.6" x2="100.2" y2="202.2" stroke="#222" stroke-width="0.9"/>
<text x="102.2" y="206.2" font-size="6" text-anchor="end" transform="rotate(-45 102.2 206.2)" textLength="27.5" lengthAdjust="spacingAndGlyphs">encorafenib</text>
<line x1="127.85" y1="199.6" x2="127.85" y2="202.2" stroke="#222" stroke-width="0.9"/>
<text x="129.85" y="206.2" font-size="6" text-anchor="end" transform="rotate(-45 129.85 206.2)" textLength="25" lengthAdjust="spacingAndGlyphs">dabrafenib</text>
<line x1="155.5" y1="199.6" x2="155.5" y2="202.2" stroke="#222" stroke-width="0.9"/>
<text x="157.5" y="206.2" font-size="6" text-anchor="end" transform="rotate(-45 157.5 206.2)" textLength="25" lengthAdjust="spacingAndGlyphs">trametinib</text>
<line x1="183.15" y1="199.6" x2="183.15" y2="202.2" stroke="#222" stroke-width="0.9"/>
<text x="185.15" y="206.2" font-size="6" text-anchor="end" transform="rotate(-45 185.15 206.2)" textLength="27.5" lengthAdjust="spacingAndGlyphs">cobimetinib</text>
<circle cx="36.35" cy="153.8" r="0.62" fill="#333"/>
<circle cx="36.35" cy="150.8" r="0.62" fill="#333"/>
<circle cx="36.35" cy="147.8" r="0.62" fill="#333"/>
<circle cx="36.35" cy="144.8" r="0.62" fill="#333"/>
<circle cx="42.05" cy="153.8" r="0.62" fill="#333"/>
<circle cx="42.05" cy="150.8" r="0.62" fill="#333"/>
<circle cx="42.05" cy="147.8" r="0.62" fill="#333"/>
<circle cx="42.05" cy="144.8" r="0.62" fill="#333"/>
<circle cx="47.75" cy="153.8" r="0.62" fill="#333"/>
<circle cx="47.75" cy="150.8" r="0.62" fill="#333"/>
<circle cx="47.75" cy="147.8" r="0.62" fill="#333"/>
<circle cx="47.75" cy="144.8" r="0.62" fill="#333"/>
<circle cx="53.45" cy="153.8" r="0.62" fill="#333"/>
<circle cx="53.45" cy="150.8" r="0.62" fill="#333"/>
<circle cx="64" cy="153.8" r="0.62" fill="#333"/>
<circle cx="64" cy="150.8" r="0.62" fill="#333"/>
<circle cx="64" cy="147.8" r="0.62" fill="#333"/>
<circle cx="69.7" cy="153.8" r="0.62" fill="#333"/>
<circle cx="69.7" cy="150.8" r="0.62" fill="#333"/>
<circle cx="69.7" cy="147.8" r="0.62" fill="#333"/>
<circle cx="119.3" cy="153.8" r="0.62" fill="#333"/>
<circle cx="119.3" cy="150.8" r="0.62" fill="#333"/>
<circle cx="125" cy="153.8" r="0.62" fill="#333"/>
<circle cx="125" cy="150.8" r="0.62" fill="#333"/>
<circle cx="146.95" cy="153.8" r="0.62" fill="#333"/>
<circle cx="146.95" cy="150.8" r="0.62" fill="#333"/>
<circle cx="146.95" cy="147.8" r="0.62" fill="#333"/>
<circle cx="146.95" cy="144.8" r="0.62" fill="#333"/>
<circle cx="152.65" cy="153.8" r="0.62" fill="#333"/>
<circle cx="152.65" cy="150.8" r="0.62" fill="#333"/>
<circle cx="152.65" cy="147.8" r="0.62" fill="#333"/>
<circle cx="152.65" cy="144.8" r="0.62" fill="#333"/>
<circle cx="158.35" cy="153.8" r="0.62" fill="#333"/>
<circle cx="158.35" cy="150.8" r="0.62" fill="#333"/>
<circle cx="164.05" cy="153.8" r="0.62" fill="#333"/>
<circle cx="174.6" cy="153.8" r="0.62" fill="#333"/>
<circle cx="174.6" cy="150.8" r="0.62" fill="#333"/>
<circle cx="174.6" cy="147.8" r="0.62" fill="#333"/>
<circle cx="180.3" cy="153.8" r="0.62" fill="#333"/>
<circle cx="180.3" cy="150.8" r="0.62" fill="#333"/>
<circle cx="180.3" cy="147.8" r="0.62" fill="#333"/>
<circle cx="180.3" cy="144.8" r="0.62" fill="#333"/>
<text x="13.2" y="172.5" font-size="7" text-anchor="middle" fill="#444" transform="rotate(-90 13.2 172.5)" textLength="56" lengthAdjust="spacingAndGlyphs">#Cells norm. to DMSO</text>
<circle cx="198.8" cy="170.1" r="0.95" fill="#111"/>
<text x="201.7" y="172" font-size="5.3" textLength="30.3" lengthAdjust="spacingAndGlyphs">V600E CD14</text>
<text x="232.4" y="169.4" font-size="3.2">+</text>
<circle cx="198.8" cy="175.87" r="0.95" fill="#111"/>
<text x="201.7" y="177.77" font-size="5.3" textLength="30.3" lengthAdjust="spacingAndGlyphs">V600E CD14</text>
<text x="232.4" y="175.17" font-size="3.2">-</text>
<circle cx="198.8" cy="181.64" r="0.95" fill="#111"/>
<text x="201.7" y="183.54" font-size="5.3" textLength="24.6" lengthAdjust="spacingAndGlyphs">WT CD14</text>
<text x="226.7" y="180.94" font-size="3.2">+</text>
<circle cx="198.8" cy="187.41" r="0.95" fill="#111"/>
<text x="201.7" y="189.31" font-size="5.3" textLength="24.6" lengthAdjust="spacingAndGlyphs">WT CD14</text>
<text x="226.7" y="186.71" font-size="3.2">-</text>
<text x="244.4" y="139.2" font-size="12" fill="#000" font-weight="bold">D</text>
<rect x="272.45" y="171.48" width="4.4" height="28.32" fill="#a3a3a3"/>
<line x1="274.65" y1="166.81" x2="274.65" y2="174.28" stroke="#333" stroke-width="0.55"/>
<line x1="273.65" y1="166.81" x2="275.65" y2="166.81" stroke="#333" stroke-width="0.55"/>
<circle cx="275.36" cy="169.22" r="1.1" fill="#1a1a1a"/>
<circle cx="275.23" cy="167.35" r="1.1" fill="#1a1a1a"/>
<circle cx="273.52" cy="167.54" r="1.1" fill="#1a1a1a"/>
<circle cx="275.71" cy="171.8" r="1.1" fill="#1a1a1a"/>
<circle cx="275.61" cy="170.09" r="1.1" fill="#1a1a1a"/>
<circle cx="274.58" cy="175.09" r="1.1" fill="#1a1a1a"/>
<rect x="278.15" y="183.87" width="4.4" height="15.93" fill="#f4c487"/>
<line x1="280.35" y1="180.48" x2="280.35" y2="185.9" stroke="#333" stroke-width="0.55"/>
<line x1="279.35" y1="180.48" x2="281.35" y2="180.48" stroke="#333" stroke-width="0.55"/>
<circle cx="280.53" cy="183.57" r="1.1" fill="#1a1a1a"/>
<circle cx="279.67" cy="187.17" r="1.1" fill="#1a1a1a"/>
<circle cx="281.35" cy="185.36" r="1.1" fill="#1a1a1a"/>
<circle cx="279.53" cy="182.07" r="1.1" fill="#1a1a1a"/>
<circle cx="279.48" cy="181.86" r="1.1" fill="#1a1a1a"/>
<circle cx="279.45" cy="183.07" r="1.1" fill="#1a1a1a"/>
<rect x="283.85" y="196.26" width="4.4" height="3.54" fill="#9e7ab8"/>
<line x1="286.05" y1="193.71" x2="286.05" y2="197.79" stroke="#333" stroke-width="0.55"/>
<line x1="285.05" y1="193.71" x2="287.05" y2="193.71" stroke="#333" stroke-width="0.55"/>
<circle cx="285.35" cy="194.36" r="1.1" fill="#1a1a1a"/>
<circle cx="287.21" cy="197.71" r="1.1" fill="#1a1a1a"/>
<circle cx="285.54" cy="194.36" r="1.1" fill="#1a1a1a"/>
<circle cx="286.14" cy="193.9" r="1.1" fill="#1a1a1a"/>
<circle cx="285.34" cy="195.35" r="1.1" fill="#1a1a1a"/>
<circle cx="286.51" cy="194.01" r="1.1" fill="#1a1a1a"/>
<rect x="289.55" y="192.72" width="4.4" height="7.08" fill="#8ccc86"/>
<line x1="291.75" y1="186.89" x2="291.75" y2="196.22" stroke="#333" stroke-width="0.55"/>
<line x1="290.75" y1="186.89" x2="292.75" y2="186.89" stroke="#333" stroke-width="0.55"/>
<circle cx="291.27" cy="188.13" r="1.1" fill="#1a1a1a"/>
<circle cx="290.95" cy="194.34" r="1.1" fill="#1a1a1a"/>
<circle cx="290.71" cy="196.85" r="1.1" fill="#1a1a1a"/>
<circle cx="292" cy="195.04" r="1.1" fill="#1a1a1a"/>
<circle cx="292.18" cy="198.51" r="1.1" fill="#1a1a1a"/>
<circle cx="291.29" cy="194.61" r="1.1" fill="#1a1a1a"/>
<rect x="300.1" y="168.65" width="4.4" height="31.15" fill="#a3a3a3"/>
<line x1="302.3" y1="163.32" x2="302.3" y2="171.85" stroke="#333" stroke-width="0.55"/>
<line x1="301.3" y1="163.32" x2="303.3" y2="163.32" stroke="#333" stroke-width="0.55"/>
<circle cx="301.86" cy="168.85" r="1.1" fill="#1a1a1a"/>
<circle cx="302.79" cy="168.85" r="1.1" fill="#1a1a1a"/>
<circle cx="303.44" cy="173.37" r="1.1" fill="#1a1a1a"/>
<circle cx="302.9" cy="173.73" r="1.1" fill="#1a1a1a"/>
<circle cx="301.14" cy="164.97" r="1.1" fill="#1a1a1a"/>
<circle cx="301.98" cy="165.58" r="1.1" fill="#1a1a1a"/>
<rect x="305.8" y="182.1" width="4.4" height="17.7" fill="#f4c487"/>
<line x1="308" y1="177.59" x2="308" y2="184.81" stroke="#333" stroke-width="0.55"/>
<line x1="307" y1="177.59" x2="309" y2="177.59" stroke="#333" stroke-width="0.55"/>
<circle cx="306.91" cy="186.53" r="1.1" fill="#1a1a1a"/>
<circle cx="309.09" cy="184.98" r="1.1" fill="#1a1a1a"/>
<circle cx="308.61" cy="184.84" r="1.1" fill="#1a1a1a"/>
<circle cx="309.06" cy="178.22" r="1.1" fill="#1a1a1a"/>
<circle cx="307.65" cy="183.51" r="1.1" fill="#1a1a1a"/>
<circle cx="308.66" cy="181.88" r="1.1" fill="#1a1a1a"/>
<rect x="311.5" y="194.49" width="4.4" height="5.31" fill="#9e7ab8"/>
<line x1="313.7" y1="191.57" x2="313.7" y2="196.24" stroke="#333" stroke-width="0.55"/>
<line x1="312.7" y1="191.57" x2="314.7" y2="191.57" stroke="#333" stroke-width="0.55"/>
<circle cx="314.41" cy="193.04" r="1.1" fill="#1a1a1a"/>
<circle cx="312.59" cy="192.39" r="1.1" fill="#1a1a1a"/>
<circle cx="312.72" cy="191.89" r="1.1" fill="#1a1a1a"/>
<circle cx="313.97" cy="195.42" r="1.1" fill="#1a1a1a"/>
<circle cx="313.32" cy="192.05" r="1.1" fill="#1a1a1a"/>
<circle cx="313.81" cy="192.02" r="1.1" fill="#1a1a1a"/>
<rect x="317.2" y="190.95" width="4.4" height="8.85" fill="#8ccc86"/>
<line x1="319.4" y1="187.34" x2="319.4" y2="193.12" stroke="#333" stroke-width="0.55"/>
<line x1="318.4" y1="187.34" x2="320.4" y2="187.34" stroke="#333" stroke-width="0.55"/>
<circle cx="318.63" cy="192.27" r="1.1" fill="#1a1a1a"/>
<circle cx="318.56" cy="194" r="1.1" fill="#1a1a1a"/>
<circle cx="320.59" cy="189.58" r="1.1" fill="#1a1a1a"/>
<circle cx="318.32" cy="193.39" r="1.1" fill="#1a1a1a"/>
<circle cx="319.48" cy="187.44" r="1.1" fill="#1a1a1a"/>
<circle cx="318.77" cy="191.63" r="1.1" fill="#1a1a1a"/>
<rect x="327.75" y="166.17" width="4.4" height="33.63" fill="#a3a3a3"/>
<line x1="329.95" y1="161.6" x2="329.95" y2="168.91" stroke="#333" stroke-width="0.55"/>
<line x1="328.95" y1="161.6" x2="330.95" y2="161.6" stroke="#333" stroke-width="0.55"/>
<circle cx="329.84" cy="163.19" r="1.1" fill="#1a1a1a"/>
<circle cx="328.88" cy="166.88" r="1.1" fill="#1a1a1a"/>
<circle cx="328.83" cy="162.37" r="1.1" fill="#1a1a1a"/>
<circle cx="330.76" cy="166.23" r="1.1" fill="#1a1a1a"/>
<circle cx="330.51" cy="169.54" r="1.1" fill="#1a1a1a"/>
<circle cx="330.26" cy="162.06" r="1.1" fill="#1a1a1a"/>
<rect x="333.45" y="170.77" width="4.4" height="29.03" fill="#f4c487"/>
<line x1="335.65" y1="165.55" x2="335.65" y2="173.91" stroke="#333" stroke-width="0.55"/>
<line x1="334.65" y1="165.55" x2="336.65" y2="165.55" stroke="#333" stroke-width="0.55"/>
<circle cx="335.49" cy="174.88" r="1.1" fill="#1a1a1a"/>
<circle cx="336.48" cy="174.44" r="1.1" fill="#1a1a1a"/>
<circle cx="335.54" cy="172.92" r="1.1" fill="#1a1a1a"/>
<circle cx="336.5" cy="165.55" r="1.1" fill="#1a1a1a"/>
<circle cx="335.54" cy="165.8" r="1.1" fill="#1a1a1a"/>
<circle cx="336.2" cy="170.9" r="1.1" fill="#1a1a1a"/>
<rect x="339.15" y="179.27" width="4.4" height="20.53" fill="#9e7ab8"/>
<line x1="341.35" y1="175.09" x2="341.35" y2="181.77" stroke="#333" stroke-width="0.55"/>
<line x1="340.35" y1="175.09" x2="342.35" y2="175.09" stroke="#333" stroke-width="0.55"/>
<circle cx="341.12" cy="181.01" r="1.1" fill="#1a1a1a"/>
<circle cx="341.05" cy="182.22" r="1.1" fill="#1a1a1a"/>
<circle cx="342.45" cy="175.19" r="1.1" fill="#1a1a1a"/>
<circle cx="341.35" cy="178.21" r="1.1" fill="#1a1a1a"/>
<circle cx="340.36" cy="180.62" r="1.1" fill="#1a1a1a"/>
<circle cx="342.03" cy="181.17" r="1.1" fill="#1a1a1a"/>
<rect x="344.85" y="178.56" width="4.4" height="21.24" fill="#8ccc86"/>
<line x1="347.05" y1="173.06" x2="347.05" y2="181.86" stroke="#333" stroke-width="0.55"/>
<line x1="346.05" y1="173.06" x2="348.05" y2="173.06" stroke="#333" stroke-width="0.55"/>
<circle cx="347.74" cy="180.08" r="1.1" fill="#1a1a1a"/>
<circle cx="347.52" cy="175.54" r="1.1" fill="#1a1a1a"/>
<circle cx="347.67" cy="176.76" r="1.1" fill="#1a1a1a"/>
<circle cx="347.54" cy="180.06" r="1.1" fill="#1a1a1a"/>
<circle cx="347.02" cy="180.97" r="1.1" fill="#1a1a1a"/>
<circle cx="347.51" cy="175.59" r="1.1" fill="#1a1a1a"/>
<rect x="355.4" y="169.71" width="4.4" height="30.09" fill="#a3a3a3"/>
<line x1="357.6" y1="166.16" x2="357.6" y2="171.84" stroke="#333" stroke-width="0.55"/>
<line x1="356.6" y1="166.16" x2="358.6" y2="166.16" stroke="#333" stroke-width="0.55"/>
<circle cx="357.96" cy="166.55" r="1.1" fill="#1a1a1a"/>
<circle cx="356.43" cy="169.14" r="1.1" fill="#1a1a1a"/>
<circle cx="357" cy="169.38" r="1.1" fill="#1a1a1a"/>
<circle cx="357.51" cy="168.49" r="1.1" fill="#1a1a1a"/>
<circle cx="357.95" cy="167.46" r="1.1" fill="#1a1a1a"/>
<circle cx="357.23" cy="167.6" r="1.1" fill="#1a1a1a"/>
<rect x="361.1" y="173.25" width="4.4" height="26.55" fill="#f4c487"/>
<line x1="363.3" y1="168.51" x2="363.3" y2="176.09" stroke="#333" stroke-width="0.55"/>
<line x1="362.3" y1="168.51" x2="364.3" y2="168.51" stroke="#333" stroke-width="0.55"/>
<circle cx="364.09" cy="171" r="1.1" fill="#1a1a1a"/>
<circle cx="364.12" cy="174.67" r="1.1" fill="#1a1a1a"/>
<circle cx="363.75" cy="169.75" r="1.1" fill="#1a1a1a"/>
<circle cx="364.4" cy="168.74" r="1.1" fill="#1a1a1a"/>
<circle cx="363.37" cy="173.08" r="1.1" fill="#1a1a1a"/>
<circle cx="364.11" cy="176.41" r="1.1" fill="#1a1a1a"/>
<rect x="366.8" y="179.27" width="4.4" height="20.53" fill="#9e7ab8"/>
<line x1="369" y1="173.53" x2="369" y2="182.71" stroke="#333" stroke-width="0.55"/>
<line x1="368" y1="173.53" x2="370" y2="173.53" stroke="#333" stroke-width="0.55"/>
<circle cx="369.46" cy="179.53" r="1.1" fill="#1a1a1a"/>
<circle cx="369.55" cy="176.75" r="1.1" fill="#1a1a1a"/>
<circle cx="369.67" cy="183.03" r="1.1" fill="#1a1a1a"/>
<circle cx="369.4" cy="178.34" r="1.1" fill="#1a1a1a"/>
<circle cx="369.3" cy="180.18" r="1.1" fill="#1a1a1a"/>
<circle cx="369.33" cy="176.12" r="1.1" fill="#1a1a1a"/>
<rect x="372.5" y="183.52" width="4.4" height="16.28" fill="#8ccc86"/>
<line x1="374.7" y1="178.52" x2="374.7" y2="186.51" stroke="#333" stroke-width="0.55"/>
<line x1="373.7" y1="178.52" x2="375.7" y2="178.52" stroke="#333" stroke-width="0.55"/>
<circle cx="373.88" cy="188.24" r="1.1" fill="#1a1a1a"/>
<circle cx="375.06" cy="184.1" r="1.1" fill="#1a1a1a"/>
<circle cx="375.15" cy="186.32" r="1.1" fill="#1a1a1a"/>
<circle cx="373.6" cy="182.21" r="1.1" fill="#1a1a1a"/>
<circle cx="374.04" cy="183.8" r="1.1" fill="#1a1a1a"/>
<circle cx="373.82" cy="187.97" r="1.1" fill="#1a1a1a"/>
<rect x="383.05" y="166.88" width="4.4" height="32.92" fill="#a3a3a3"/>
<line x1="385.25" y1="163.25" x2="385.25" y2="169.05" stroke="#333" stroke-width="0.55"/>
<line x1="384.25" y1="163.25" x2="386.25" y2="163.25" stroke="#333" stroke-width="0.55"/>
<circle cx="384.51" cy="169.19" r="1.1" fill="#1a1a1a"/>
<circle cx="385.17" cy="170.25" r="1.1" fill="#1a1a1a"/>
<circle cx="385.52" cy="167.75" r="1.1" fill="#1a1a1a"/>
<circle cx="384.62" cy="166.22" r="1.1" fill="#1a1a1a"/>
<circle cx="384.05" cy="163.95" r="1.1" fill="#1a1a1a"/>
<circle cx="384.72" cy="167.56" r="1.1" fill="#1a1a1a"/>
<rect x="388.75" y="185.64" width="4.4" height="14.16" fill="#f4c487"/>
<line x1="390.95" y1="181.7" x2="390.95" y2="188.01" stroke="#333" stroke-width="0.55"/>
<line x1="389.95" y1="181.7" x2="391.95" y2="181.7" stroke="#333" stroke-width="0.55"/>
<circle cx="391.75" cy="188.67" r="1.1" fill="#1a1a1a"/>
<circle cx="389.84" cy="186.63" r="1.1" fill="#1a1a1a"/>
<circle cx="389.98" cy="184.74" r="1.1" fill="#1a1a1a"/>
<circle cx="390.56" cy="185.28" r="1.1" fill="#1a1a1a"/>
<circle cx="392.05" cy="185" r="1.1" fill="#1a1a1a"/>
<circle cx="390.76" cy="183.13" r="1.1" fill="#1a1a1a"/>
<rect x="394.45" y="194.49" width="4.4" height="5.31" fill="#9e7ab8"/>
<line x1="396.65" y1="189.18" x2="396.65" y2="197.68" stroke="#333" stroke-width="0.55"/>
<line x1="395.65" y1="189.18" x2="397.65" y2="189.18" stroke="#333" stroke-width="0.55"/>
<circle cx="396.34" cy="192.98" r="1.1" fill="#1a1a1a"/>
<circle cx="396.88" cy="198.29" r="1.1" fill="#1a1a1a"/>
<circle cx="397.75" cy="193.81" r="1.1" fill="#1a1a1a"/>
<circle cx="396.91" cy="189.52" r="1.1" fill="#1a1a1a"/>
<circle cx="397.59" cy="196.07" r="1.1" fill="#1a1a1a"/>
<circle cx="395.71" cy="199.79" r="1.1" fill="#1a1a1a"/>
<rect x="400.15" y="192.72" width="4.4" height="7.08" fill="#8ccc86"/>
<line x1="402.35" y1="188.25" x2="402.35" y2="195.4" stroke="#333" stroke-width="0.55"/>
<line x1="401.35" y1="188.25" x2="403.35" y2="188.25" stroke="#333" stroke-width="0.55"/>
<circle cx="401.49" cy="191.69" r="1.1" fill="#1a1a1a"/>
<circle cx="403.29" cy="191.56" r="1.1" fill="#1a1a1a"/>
<circle cx="402.19" cy="193.83" r="1.1" fill="#1a1a1a"/>
<circle cx="401.85" cy="195.17" r="1.1" fill="#1a1a1a"/>
<circle cx="402.06" cy="188.49" r="1.1" fill="#1a1a1a"/>
<circle cx="403.34" cy="188.6" r="1.1" fill="#1a1a1a"/>
<rect x="410.7" y="172.9" width="4.4" height="26.9" fill="#a3a3a3"/>
<line x1="412.9" y1="168.32" x2="412.9" y2="175.64" stroke="#333" stroke-width="0.55"/>
<line x1="411.9" y1="168.32" x2="413.9" y2="168.32" stroke="#333" stroke-width="0.55"/>
<circle cx="414.05" cy="175.09" r="1.1" fill="#1a1a1a"/>
<circle cx="412.7" cy="172.93" r="1.1" fill="#1a1a1a"/>
<circle cx="414.06" cy="174.55" r="1.1" fill="#1a1a1a"/>
<circle cx="412.39" cy="172.97" r="1.1" fill="#1a1a1a"/>
<circle cx="411.99" cy="173.11" r="1.1" fill="#1a1a1a"/>
<circle cx="412.76" cy="171.78" r="1.1" fill="#1a1a1a"/>
<rect x="416.4" y="183.16" width="4.4" height="16.64" fill="#f4c487"/>
<line x1="418.6" y1="179.62" x2="418.6" y2="185.29" stroke="#333" stroke-width="0.55"/>
<line x1="417.6" y1="179.62" x2="419.6" y2="179.62" stroke="#333" stroke-width="0.55"/>
<circle cx="419.38" cy="181.16" r="1.1" fill="#1a1a1a"/>
<circle cx="418.68" cy="186.61" r="1.1" fill="#1a1a1a"/>
<circle cx="419.64" cy="184.77" r="1.1" fill="#1a1a1a"/>
<circle cx="417.99" cy="181.16" r="1.1" fill="#1a1a1a"/>
<circle cx="417.77" cy="184.81" r="1.1" fill="#1a1a1a"/>
<circle cx="418.1" cy="179.7" r="1.1" fill="#1a1a1a"/>
<rect x="422.1" y="189.18" width="4.4" height="10.62" fill="#9e7ab8"/>
<line x1="424.3" y1="184.56" x2="424.3" y2="191.95" stroke="#333" stroke-width="0.55"/>
<line x1="423.3" y1="184.56" x2="425.3" y2="184.56" stroke="#333" stroke-width="0.55"/>
<circle cx="424.65" cy="189.41" r="1.1" fill="#1a1a1a"/>
<circle cx="424.88" cy="188.22" r="1.1" fill="#1a1a1a"/>
<circle cx="424.92" cy="192.7" r="1.1" fill="#1a1a1a"/>
<circle cx="424.38" cy="191.02" r="1.1" fill="#1a1a1a"/>
<circle cx="423.81" cy="190.69" r="1.1" fill="#1a1a1a"/>
<circle cx="424.21" cy="188.9" r="1.1" fill="#1a1a1a"/>
<rect x="427.8" y="188.12" width="4.4" height="11.68" fill="#8ccc86"/>
<line x1="430" y1="184.34" x2="430" y2="190.38" stroke="#333" stroke-width="0.55"/>
<line x1="429" y1="184.34" x2="431" y2="184.34" stroke="#333" stroke-width="0.55"/>
<circle cx="430.22" cy="186.27" r="1.1" fill="#1a1a1a"/>
<circle cx="429.41" cy="191.62" r="1.1" fill="#1a1a1a"/>
<circle cx="431" cy="188.45" r="1.1" fill="#1a1a1a"/>
<circle cx="430.11" cy="185.19" r="1.1" fill="#1a1a1a"/>
<circle cx="430.67" cy="191.78" r="1.1" fill="#1a1a1a"/>
<circle cx="430.18" cy="188.66" r="1.1" fill="#1a1a1a"/>
<line x1="268.6" y1="164.7" x2="435" y2="164.7" stroke="#666" stroke-width="1" stroke-dasharray="0.6 1.0"/>
<line x1="268.6" y1="144" x2="268.6" y2="200.3" stroke="#222" stroke-width="1"/>
<line x1="265.6" y1="199.8" x2="268.6" y2="199.8" stroke="#222" stroke-width="0.9"/>
<text x="263.2" y="201.8" font-size="5.6" text-anchor="end" fill="#444" textLength="7.4" lengthAdjust="spacingAndGlyphs">0.0</text>
<line x1="265.6" y1="182.1" x2="268.6" y2="182.1" stroke="#222" stroke-width="0.9"/>
<text x="263.2" y="184.1" font-size="5.6" text-anchor="end" fill="#444" textLength="7.4" lengthAdjust="spacingAndGlyphs">0.5</text>
<line x1="265.6" y1="164.4" x2="268.6" y2="164.4" stroke="#222" stroke-width="0.9"/>
<text x="263.2" y="166.4" font-size="5.6" text-anchor="end" fill="#444" textLength="7.4" lengthAdjust="spacingAndGlyphs">1.0</text>
<line x1="265.6" y1="146.7" x2="268.6" y2="146.7" stroke="#222" stroke-width="0.9"/>
<text x="263.2" y="148.7" font-size="5.6" text-anchor="end" fill="#444" textLength="7.4" lengthAdjust="spacingAndGlyphs">1.5</text>
<line x1="268.1" y1="199.8" x2="435" y2="199.8" stroke="#222" stroke-width="1.1"/>
<line x1="283.2" y1="199.8" x2="283.2" y2="202.4" stroke="#222" stroke-width="0.9"/>
<text x="285.2" y="206.4" font-size="6" text-anchor="end" transform="rotate(-45 285.2 206.4)" textLength="30" lengthAdjust="spacingAndGlyphs">belvarafenib</text>
<line x1="310.85" y1="199.8" x2="310.85" y2="202.4" stroke="#222" stroke-width="0.9"/>
<text x="312.85" y="206.4" font-size="6" text-anchor="end" transform="rotate(-45 312.85 206.4)" textLength="27.5" lengthAdjust="spacingAndGlyphs">tovorafenib</text>
<line x1="338.5" y1="199.8" x2="338.5" y2="202.4" stroke="#222" stroke-width="0.9"/>
<text x="340.5" y="206.4" font-size="6" text-anchor="end" transform="rotate(-45 340.5 206.4)" textLength="27.5" lengthAdjust="spacingAndGlyphs">encorafenib</text>
<line x1="366.15" y1="199.8" x2="366.15" y2="202.4" stroke="#222" stroke-width="0.9"/>
<text x="368.15" y="206.4" font-size="6" text-anchor="end" transform="rotate(-45 368.15 206.4)" textLength="25" lengthAdjust="spacingAndGlyphs">dabrafenib</text>
<line x1="393.8" y1="199.8" x2="393.8" y2="202.4" stroke="#222" stroke-width="0.9"/>
<text x="395.8" y="206.4" font-size="6" text-anchor="end" transform="rotate(-45 395.8 206.4)" textLength="25" lengthAdjust="spacingAndGlyphs">trametinib</text>
<line x1="421.45" y1="199.8" x2="421.45" y2="202.4" stroke="#222" stroke-width="0.9"/>
<text x="423.45" y="206.4" font-size="6" text-anchor="end" transform="rotate(-45 423.45 206.4)" textLength="27.5" lengthAdjust="spacingAndGlyphs">cobimetinib</text>
<circle cx="280.35" cy="154.6" r="0.62" fill="#333"/>
<circle cx="280.35" cy="151.35" r="0.62" fill="#333"/>
<circle cx="280.35" cy="148.1" r="0.62" fill="#333"/>
<circle cx="280.35" cy="144.85" r="0.62" fill="#333"/>
<circle cx="286.05" cy="154.6" r="0.62" fill="#333"/>
<circle cx="286.05" cy="151.35" r="0.62" fill="#333"/>
<circle cx="286.05" cy="148.1" r="0.62" fill="#333"/>
<circle cx="286.05" cy="144.85" r="0.62" fill="#333"/>
<circle cx="291.75" cy="154.6" r="0.62" fill="#333"/>
<circle cx="291.75" cy="151.35" r="0.62" fill="#333"/>
<circle cx="291.75" cy="148.1" r="0.62" fill="#333"/>
<circle cx="291.75" cy="144.85" r="0.62" fill="#333"/>
<circle cx="308" cy="154.6" r="0.62" fill="#333"/>
<circle cx="308" cy="151.35" r="0.62" fill="#333"/>
<circle cx="308" cy="148.1" r="0.62" fill="#333"/>
<circle cx="308" cy="144.85" r="0.62" fill="#333"/>
<circle cx="313.7" cy="154.6" r="0.62" fill="#333"/>
<circle cx="313.7" cy="151.35" r="0.62" fill="#333"/>
<circle cx="313.7" cy="148.1" r="0.62" fill="#333"/>
<circle cx="313.7" cy="144.85" r="0.62" fill="#333"/>
<circle cx="319.4" cy="154.6" r="0.62" fill="#333"/>
<circle cx="319.4" cy="151.35" r="0.62" fill="#333"/>
<circle cx="319.4" cy="148.1" r="0.62" fill="#333"/>
<circle cx="319.4" cy="144.85" r="0.62" fill="#333"/>
<circle cx="341.35" cy="154.6" r="0.62" fill="#333"/>
<circle cx="341.35" cy="151.35" r="0.62" fill="#333"/>
<circle cx="347.05" cy="154.6" r="0.62" fill="#333"/>
<circle cx="347.05" cy="151.35" r="0.62" fill="#333"/>
<circle cx="347.05" cy="148.1" r="0.62" fill="#333"/>
<circle cx="347.05" cy="144.85" r="0.62" fill="#333"/>
<circle cx="363.3" cy="154.6" r="0.62" fill="#333"/>
<circle cx="369" cy="154.6" r="0.62" fill="#333"/>
<circle cx="374.7" cy="154.6" r="0.62" fill="#333"/>
<circle cx="374.7" cy="151.35" r="0.62" fill="#333"/>
<circle cx="374.7" cy="148.1" r="0.62" fill="#333"/>
<circle cx="374.7" cy="144.85" r="0.62" fill="#333"/>
<circle cx="385.25" cy="154.6" r="0.62" fill="#333"/>
<circle cx="385.25" cy="151.35" r="0.62" fill="#333"/>
<circle cx="385.25" cy="148.1" r="0.62" fill="#333"/>
<circle cx="385.25" cy="144.85" r="0.62" fill="#333"/>
<circle cx="390.95" cy="154.6" r="0.62" fill="#333"/>
<circle cx="390.95" cy="151.35" r="0.62" fill="#333"/>
<circle cx="390.95" cy="148.1" r="0.62" fill="#333"/>
<circle cx="390.95" cy="144.85" r="0.62" fill="#333"/>
<circle cx="396.65" cy="154.6" r="0.62" fill="#333"/>
<circle cx="396.65" cy="151.35" r="0.62" fill="#333"/>
<circle cx="396.65" cy="148.1" r="0.62" fill="#333"/>
<circle cx="396.65" cy="144.85" r="0.62" fill="#333"/>
<circle cx="402.35" cy="154.6" r="0.62" fill="#333"/>
<circle cx="402.35" cy="151.35" r="0.62" fill="#333"/>
<circle cx="402.35" cy="148.1" r="0.62" fill="#333"/>
<circle cx="402.35" cy="144.85" r="0.62" fill="#333"/>
<circle cx="412.9" cy="154.6" r="0.62" fill="#333"/>
<circle cx="412.9" cy="151.35" r="0.62" fill="#333"/>
<circle cx="412.9" cy="148.1" r="0.62" fill="#333"/>
<circle cx="418.6" cy="154.6" r="0.62" fill="#333"/>
<circle cx="418.6" cy="151.35" r="0.62" fill="#333"/>
<circle cx="418.6" cy="148.1" r="0.62" fill="#333"/>
<circle cx="418.6" cy="144.85" r="0.62" fill="#333"/>
<circle cx="424.3" cy="154.6" r="0.62" fill="#333"/>
<circle cx="424.3" cy="151.35" r="0.62" fill="#333"/>
<circle cx="424.3" cy="148.1" r="0.62" fill="#333"/>
<circle cx="424.3" cy="144.85" r="0.62" fill="#333"/>
<circle cx="430" cy="154.6" r="0.62" fill="#333"/>
<circle cx="430" cy="151.35" r="0.62" fill="#333"/>
<circle cx="430" cy="148.1" r="0.62" fill="#333"/>
<circle cx="430" cy="144.85" r="0.62" fill="#333"/>
<text x="250.8" y="171.7" font-size="7" text-anchor="middle" fill="#444" transform="rotate(-90 250.8 171.7)" textLength="56" lengthAdjust="spacingAndGlyphs">#Cells norm. to DMSO</text>
<text x="449.2" y="135.6" font-size="6.2" textLength="19.79" lengthAdjust="spacingAndGlyphs">1. CD14</text>
<text x="469.19" y="133.1" font-size="3.6">-</text>
<text x="470.57" y="135.6" font-size="6.2" textLength="14.99" lengthAdjust="spacingAndGlyphs">/CD1c</text>
<text x="485.75" y="133.1" font-size="3.6">-</text>
<text x="449.2" y="142.25" font-size="6.2" fill="#f0a548" textLength="19.79" lengthAdjust="spacingAndGlyphs">2. CD14</text>
<text x="469.19" y="139.75" font-size="3.6" fill="#f0a548">low</text>
<text x="474.35" y="142.25" font-size="6.2" fill="#f0a548" textLength="14.99" lengthAdjust="spacingAndGlyphs">/CD1c</text>
<text x="489.53" y="139.75" font-size="3.6" fill="#f0a548">-</text>
<text x="449.2" y="148.9" font-size="6.2" fill="#8f63ad" textLength="19.79" lengthAdjust="spacingAndGlyphs">3. CD14</text>
<text x="469.19" y="146.4" font-size="3.6" fill="#8f63ad">high</text>
<text x="475.61" y="148.9" font-size="6.2" fill="#8f63ad" textLength="14.99" lengthAdjust="spacingAndGlyphs">/CD1c</text>
<text x="490.8" y="146.4" font-size="3.6" fill="#8f63ad">int</text>
<text x="449.2" y="155.55" font-size="6.2" fill="#69b25f" textLength="19.79" lengthAdjust="spacingAndGlyphs">4. CD14</text>
<text x="469.19" y="153.05" font-size="3.6" fill="#69b25f">low</text>
<text x="474.35" y="155.55" font-size="6.2" fill="#69b25f" textLength="14.99" lengthAdjust="spacingAndGlyphs">/CD1c</text>
<text x="489.53" y="153.05" font-size="3.6" fill="#69b25f">+</text>
<defs><radialGradient id="blob1"><stop offset="0" stop-color="#8a8ad8" stop-opacity="0.65"/><stop offset="1" stop-color="#b0b0e8" stop-opacity="0"/></radialGradient><radialGradient id="blob2"><stop offset="0" stop-color="#7ad040"/><stop offset="0.35" stop-color="#5a70d0"/><stop offset="1" stop-color="#8888e0" stop-opacity="0"/></radialGradient></defs>
<ellipse cx="474" cy="168" rx="12" ry="9" fill="url(#blob1)"/>
<ellipse cx="479" cy="180" rx="10" ry="12" fill="url(#blob1)"/>
<ellipse cx="470" cy="182" rx="7" ry="9" fill="url(#blob1)"/>
<ellipse cx="468.5" cy="188" rx="7" ry="5.5" fill="url(#blob2)"/>
<line x1="450.8" y1="160" x2="450.8" y2="200.6" stroke="#222" stroke-width="1"/>
<path d="M450.8 156.8L452.42 160.4L449.18 160.4Z" fill="#222"/>
<line x1="450.3" y1="200.4" x2="489" y2="200.4" stroke="#222" stroke-width="1"/>
<path d="M492.5 200.4L488.9 202.02L488.9 198.78Z" fill="#222"/>
<line x1="459.2" y1="160.5" x2="459.2" y2="193.6" stroke="#333" stroke-width="0.6"/>
<line x1="459.2" y1="193.6" x2="475.7" y2="193.6" stroke="#333" stroke-width="0.6"/>
<line x1="459.2" y1="181.6" x2="475.7" y2="181.6" stroke="#333" stroke-width="0.6"/>
<line x1="475.7" y1="175" x2="475.7" y2="193.6" stroke="#333" stroke-width="0.6"/>
<line x1="459.2" y1="168" x2="475.7" y2="175" stroke="#222" stroke-width="1"/>
<line x1="475.7" y1="175" x2="490.8" y2="158.5" stroke="#222" stroke-width="1"/>
<text x="460.8" y="166" font-size="5.4" fill="#8a6aaa">3</text>
<text x="460.8" y="177.5" font-size="5.4" fill="#f0a850">2</text>
<text x="460.8" y="190.5" font-size="5.4" fill="#444">1</text>
<text x="486" y="178" font-size="5.4" fill="#6ab86a">4</text>
<text x="447.8" y="178.7" font-size="7" text-anchor="middle" fill="#444" transform="rotate(-90 447.8 178.7)" textLength="15.5" lengthAdjust="spacingAndGlyphs">CD14</text>
<text x="472.2" y="211.2" font-size="7" text-anchor="middle" fill="#444" textLength="13.6" lengthAdjust="spacingAndGlyphs">CD1c</text>
<text x="453" y="163" font-size="2" fill="#999">10</text>
<text x="453" y="171" font-size="2" fill="#999">10</text>
<text x="453" y="178" font-size="2" fill="#999">10</text>
<text x="453" y="185" font-size="2" fill="#999">10</text>
<text x="453" y="191" font-size="2" fill="#999">10</text>
<text x="462" y="198.5" font-size="2" text-anchor="middle" fill="#999">10</text>
<text x="470" y="198.5" font-size="2" text-anchor="middle" fill="#999">10</text>
<text x="478" y="198.5" font-size="2" text-anchor="middle" fill="#999">10</text>
<text x="485" y="198.5" font-size="2" text-anchor="middle" fill="#999">10</text>
<text x="6.3" y="248.7" font-size="12" fill="#000" font-weight="bold">E</text>
<defs><filter id="eblur" x="-0.2" y="-0.2" width="1.4" height="1.4"><feGaussianBlur stdDeviation="2.2"/></filter><clipPath id="eclip"><path d="M18 282L19 272L22 264L27 259L36 257L46 257L60 258L80 258L100 259L110 265L128 266L142 266L150 272L154 281L149 291L146 300L143 308L136 315L126 322L116 327L106 331L102 326L100 318L96 322L88 328L76 328L72 331L62 331L50 334L40 333L34 327L28 315L20 306L16 296Z"/></clipPath></defs>
<g clip-path="url(#eclip)" opacity="0.7"><g filter="url(#eblur)">
<path d="M18 282L19 272L22 264L27 259L36 257L46 257L60 258L80 258L100 259L110 265L128 266L142 266L150 272L154 281L149 291L146 300L143 308L136 315L126 322L116 327L106 331L102 326L100 318L96 322L88 328L76 328L72 331L62 331L50 334L40 333L34 327L28 315L20 306L16 296Z" fill="#dde7ea"/>
<ellipse cx="30" cy="272" rx="16.5" ry="14.3" fill="#c4cbe4"/>
<ellipse cx="70" cy="270" rx="24.2" ry="14.3" fill="#d4ebea"/>
<ellipse cx="122" cy="280" rx="22" ry="13.2" fill="#c6e0e1"/>
<ellipse cx="122" cy="312" rx="18.7" ry="14.3" fill="#c8d7ef"/>
<ellipse cx="33" cy="306" rx="14.3" ry="15.4" fill="#efd2bd"/>
<ellipse cx="70" cy="314" rx="19.8" ry="11" fill="#f6d9bd"/>
<ellipse cx="70" cy="330" rx="3.3" ry="4.4" fill="#eec4c4"/>
</g></g>
<path transform="scale(0.25)" d="M482 1099h0M465 1094h0M471 1159h0M600 1150h0M337 1141h0M577 1115h0M538 1102h0M440 1088h0M554 1159h0M574 1109h0M602 1133h0M404 1182h0M388 1098h0M448 1127h0M554 1150h0M425 1097h0M555 1187h0M428 1104h0M577 1117h0M358 1087h0M461 1185h0M339 1176h0M556 1106h0M558 1099h0M524 1179h0M584 1146h0M407 1099h0M543 1133h0M587 1161h0M516 1188h0M431 1178h0M357 1128h0M429 1149h0M496 1132h0M469 1123h0M608 1136h0M372 1078h0M584 1126h0M524 1172h0M540 1091h0M546 1083h0M500 1141h0M480 1065h0M477 1072h0M389 1110h0M451 1120h0M504 1149h0M393 1136h0M602 1124h0M368 1155h0M572 1160h0M560 1107h0M411 1114h0M402 1184h0M502 1075h0M597 1113h0M400 1100h0M532 1111h0M594 1133h0M546 1173h0M544 1067h0M483 1132h0M605 1133h0M447 1154h0M503 1214h0M565 1137h0M409 1050h0M452 1149h0M558 1104h0M342 1144h0M532 1068h0M393 1080h0M472 1066h0M434 1121h0M458 1177h0M532 1117h0M528 1066h0M566 1144h0M550 1115h0M543 1115h0M543 1205h0M425 1175h0M456 1141h0M455 1097h0M546 1136h0M463 1155h0M542 1089h0M526 1123h0M416 1048h0M390 1196h0M549 1139h0M553 1125h0M362 1119h0M563 1117h0M494 1169h0M366 1114h0M588 1142h0M457 1119h0M599 1131h0M557 1080h0M569 1097h0M562 1065h0M582 1089h0M461 1148h0M597 1107h0M417 1180h0M460 1092h0M487 1063h0M466 1116h0M485 1161h0M534 1112h0M468 1093h0M389 1074h0M414 1144h0M522 1108h0M520 1092h0M562 1125h0M554 1111h0M392 1112h0M488 1128h0M484 1075h0M605 1115h0M414 1086h0M474 1195h0M513 1100h0M536 1167h0M579 1140h0M446 1110h0M474 1106h0M574 1081h0M555 1162h0M392 1181h0M506 1126h0M524 1136h0M525 1070h0M520 1070h0M459 1138h0M482 1079h0M424 1135h0M487 1075h0M552 1088h0M436 1071h0M521 1081h0M601 1103h0M544 1188h0M413 1148h0M585 1172h0M476 1095h0M389 1125h0M407 1111h0" stroke="#62a3ab" stroke-width="3.6" stroke-linecap="round" stroke-opacity="0.78"/>
<path transform="scale(0.25)" d="M554 1069h0M575 1154h0M383 1155h0M459 1111h0M404 1140h0M586 1183h0M555 1164h0M469 1099h0M387 1151h0M518 1094h0M462 1072h0M454 1119h0M466 1077h0M576 1175h0M449 1079h0M440 1060h0M528 1183h0M526 1110h0M484 1137h0M403 1112h0M423 1114h0M565 1166h0M372 1115h0M359 1170h0M379 1090h0M528 1124h0M484 1116h0M467 1085h0M531 1192h0M439 1187h0M570 1164h0M583 1100h0M515 1086h0M558 1106h0M588 1127h0M507 1170h0M538 1173h0M488 1088h0M503 1159h0M443 1135h0M438 1081h0M574 1161h0M427 1111h0M440 1184h0M507 1133h0M489 1177h0M399 1175h0M448 1155h0M428 1073h0M526 1070h0M582 1109h0M517 1165h0M393 1130h0M600 1106h0M500 1140h0M539 1109h0M590 1089h0M483 1077h0M601 1143h0M444 1139h0M587 1117h0M512 1106h0M461 1117h0M558 1118h0M493 1065h0M503 1145h0M530 1154h0M569 1196h0M574 1106h0M598 1136h0M477 1089h0M514 1134h0M472 1207h0M373 1081h0M578 1147h0M468 1136h0M494 1130h0M483 1230h0M379 1178h0M545 1156h0M582 1165h0M608 1127h0M458 1137h0M472 1137h0M559 1101h0M271 1114h0M529 1157h0M576 1131h0M598 1096h0M341 1185h0M522 1098h0M484 1110h0M571 1107h0M490 1120h0M434 1152h0M401 1131h0M519 1187h0M486 1163h0M595 1140h0M551 1129h0M414 1062h0M399 1109h0M479 1163h0M560 1100h0M365 1150h0M578 1145h0M441 1159h0M368 1158h0M500 1154h0M595 1115h0M416 1108h0M354 1153h0M537 1106h0M552 1199h0M466 1090h0M477 1210h0M400 1138h0M342 1155h0M549 1135h0M380 1181h0M529 1152h0M480 1207h0M374 1115h0M401 1185h0M501 1099h0M358 1092h0M579 1125h0M551 1180h0M526 1189h0M428 1146h0M524 1154h0M507 1095h0M449 1104h0M413 1150h0M442 1077h0M571 1106h0M475 1082h0M479 1062h0M362 1178h0M416 1156h0M554 1099h0M407 1136h0M440 1110h0M490 1094h0M453 1063h0M536 1146h0M545 1103h0M408 1126h0M412 1114h0M345 1166h0" stroke="#62a3ab" stroke-width="3.6" stroke-linecap="round" stroke-opacity="0.78"/>
<path transform="scale(0.25)" d="M301 1260h0M266 1315h0M254 1170h0M309 1196h0M247 1283h0M298 1279h0M256 1222h0M304 1263h0M306 1286h0M320 1256h0M361 1262h0M342 1239h0M348 1310h0M301 1243h0M310 1183h0M158 1273h0M294 1170h0M186 1242h0M382 1241h0M177 1291h0M307 1297h0M282 1291h0M261 1229h0M378 1195h0M228 1282h0M188 1290h0M269 1273h0M265 1309h0M274 1283h0M237 1256h0M366 1261h0M315 1193h0M222 1267h0M294 1291h0M357 1295h0M299 1199h0M188 1225h0M241 1228h0M253 1281h0M282 1283h0M292 1196h0M307 1259h0M307 1235h0M108 1225h0M355 1292h0M224 1320h0M378 1239h0M355 1278h0M299 1212h0M214 1229h0M248 1192h0M285 1200h0M288 1177h0M311 1247h0M284 1255h0M283 1235h0M387 1218h0M190 1200h0M355 1288h0M280 1263h0M167 1253h0M214 1197h0M334 1210h0M214 1239h0M380 1257h0M272 1199h0M382 1262h0M297 1259h0M290 1201h0M164 1302h0M359 1212h0M182 1324h0M381 1231h0M208 1301h0M277 1190h0M261 1270h0M333 1200h0M254 1314h0M355 1299h0M223 1285h0M192 1305h0M231 1212h0M391 1212h0M203 1332h0M294 1310h0M262 1284h0M290 1315h0M371 1235h0M308 1184h0M303 1201h0M176 1312h0M358 1206h0M272 1247h0M247 1288h0M292 1187h0M244 1298h0M277 1188h0M342 1308h0M259 1190h0M336 1210h0M226 1227h0M242 1238h0M208 1290h0M236 1194h0M327 1208h0M207 1295h0M281 1272h0M319 1304h0M346 1291h0M258 1315h0M178 1245h0M284 1201h0M184 1302h0M257 1263h0M373 1234h0M404 1241h0M402 1217h0M314 1200h0M236 1301h0M258 1239h0M255 1322h0M225 1292h0M310 1269h0M242 1222h0M262 1289h0M328 1266h0M193 1175h0M223 1199h0M306 1304h0M222 1291h0M189 1240h0M350 1227h0M212 1254h0M221 1191h0M326 1247h0M215 1265h0M340 1243h0M301 1207h0M344 1269h0M261 1261h0M362 1224h0M225 1328h0M198 1312h0M270 1247h0M255 1310h0M195 1310h0M216 1294h0M325 1297h0M241 1193h0M257 1257h0" stroke="#e98a35" stroke-width="3.6" stroke-linecap="round" stroke-opacity="0.78"/>
<path transform="scale(0.25)" d="M376 1104h0M231 1149h0M289 1168h0M300 1074h0M307 1174h0M348 1062h0M380 1036h0M333 1088h0M321 1136h0M431 1063h0M181 1069h0M348 1049h0M334 1177h0M196 1084h0M228 1070h0M228 1106h0M311 1164h0M251 1097h0M353 1122h0M290 1071h0M229 1034h0M291 1131h0M288 1053h0M305 1079h0M288 1033h0M263 1046h0M205 1135h0M393 1088h0M409 1101h0M256 1108h0M407 1126h0M300 1149h0M323 1174h0M313 1110h0M353 1039h0M235 1150h0M160 1159h0M201 1038h0M221 1084h0M281 1063h0M231 1103h0M266 1082h0M230 1042h0M179 1051h0M216 1150h0M375 1091h0M323 1033h0M334 1159h0M311 1064h0M285 1083h0M242 1074h0M304 1138h0M325 1171h0M257 1094h0M297 1097h0M327 1042h0M241 1116h0M319 1149h0M229 1040h0M284 1162h0M363 1050h0M291 1110h0M292 1048h0M292 1082h0M225 1098h0M244 1146h0M236 1049h0M211 1034h0M258 1060h0M315 1168h0M236 1073h0M322 1034h0M159 1116h0M249 1095h0M152 1131h0M326 1088h0M280 1172h0M209 1060h0M278 1174h0M174 1097h0M210 1058h0M335 1202h0M388 1101h0M304 1042h0M222 1096h0M213 1150h0M290 1094h0M269 1073h0M257 1117h0M361 1129h0M288 1154h0M346 1066h0M268 1167h0M222 1125h0M236 1033h0M378 1058h0M313 1158h0M381 1062h0M232 1087h0M392 1218h0M187 1130h0M359 1098h0M182 1134h0M404 1070h0M398 1119h0M407 1146h0M155 1104h0M253 1104h0M290 1136h0M417 1183h0M167 1107h0M460 1190h0M358 1110h0M290 1118h0M303 1058h0M295 1069h0M198 1031h0M346 1118h0M213 1096h0M248 1139h0M194 1066h0M355 1149h0M287 1165h0M308 1054h0M286 1116h0M320 1167h0M326 1153h0M329 1046h0M261 1060h0M197 1154h0M315 1134h0M171 1098h0M238 1076h0M293 1108h0M222 1046h0M291 1093h0M375 1060h0M232 1156h0M174 1174h0M382 1064h0M349 1040h0M276 1093h0M268 1129h0M277 1062h0M195 1068h0M196 1051h0M379 1053h0M236 1118h0M265 1142h0M180 1102h0" stroke="#98c4c8" stroke-width="3.6" stroke-linecap="round" stroke-opacity="0.78"/>
<path transform="scale(0.25)" d="M539 1126h0M489 1085h0M433 1077h0M454 1125h0M409 1180h0M467 1069h0M539 1189h0M489 1090h0M436 1107h0M425 1120h0M465 1141h0M395 1173h0M406 1145h0M517 1203h0M488 1077h0M604 1106h0M592 1105h0M459 1096h0M535 1146h0M458 1089h0M402 1189h0M392 1138h0M433 1161h0M404 1154h0M504 1071h0M522 1102h0M363 1054h0M482 1196h0M463 1077h0M481 1166h0M488 1072h0M568 1192h0M559 1087h0M388 1149h0M415 1132h0M382 1172h0M590 1145h0M508 1098h0M551 1088h0M473 1082h0M583 1097h0M580 1131h0M348 1150h0M515 1103h0M591 1148h0M537 1193h0M477 1077h0M439 1061h0M442 1075h0M557 1143h0M581 1137h0M484 1178h0M514 1086h0M574 1188h0M578 1092h0M510 1151h0M541 1148h0M416 1171h0M580 1142h0M487 1165h0M454 1169h0M548 1145h0M565 1122h0M567 1196h0M496 1148h0M566 1096h0M471 1157h0M519 1077h0M589 1084h0M474 1079h0M464 1114h0M486 1149h0M530 1132h0M429 1141h0M518 1173h0M576 1101h0M461 1124h0M552 1089h0M504 1073h0M594 1084h0M450 1142h0M537 1101h0M514 1097h0M525 1091h0M482 1104h0M517 1144h0M316 1088h0M435 1083h0M378 1168h0M566 1190h0M591 1124h0M508 1142h0M525 1171h0M509 1096h0M494 1124h0M524 1085h0M531 1163h0M541 1130h0M560 1164h0M534 1126h0M545 1080h0M478 1085h0M400 1141h0M386 1124h0M553 1087h0M485 1103h0M509 1113h0M523 1129h0M561 1092h0M383 1146h0M584 1128h0M479 1090h0M509 1100h0M481 1149h0M512 1193h0M383 1171h0M461 1087h0M404 1100h0M467 1164h0M441 1079h0M501 1214h0M574 1154h0M386 1172h0M384 1140h0M534 1158h0M484 1172h0M453 1095h0M587 1141h0M372 1178h0M408 1148h0M458 1067h0M572 1161h0M561 1110h0M350 1129h0M557 1164h0M548 1089h0M438 1214h0M465 1103h0M344 1149h0M488 1065h0M400 1199h0M519 1117h0M440 1084h0M422 1068h0M603 1140h0M534 1151h0M471 1124h0M577 1161h0M598 1116h0M516 1085h0" stroke="#62a3ab" stroke-width="3.6" stroke-linecap="round" stroke-opacity="0.78"/>
<path transform="scale(0.25)" d="M449 1298h0M410 1268h0M352 1235h0M371 1239h0M416 1187h0M544 1233h0M420 1233h0M537 1180h0M446 1188h0M437 1180h0M493 1277h0M475 1279h0M369 1220h0M470 1295h0M445 1316h0M413 1309h0M425 1241h0M515 1213h0M429 1296h0M461 1232h0M446 1281h0M587 1191h0M576 1180h0M421 1300h0M440 1285h0M497 1168h0M469 1232h0M443 1239h0M549 1198h0M539 1160h0M354 1171h0M508 1183h0M421 1264h0M526 1260h0M450 1267h0M501 1246h0M434 1295h0M568 1154h0M419 1244h0M506 1254h0M404 1197h0M447 1222h0M521 1230h0M461 1207h0M521 1216h0M571 1220h0M562 1223h0M424 1227h0M453 1293h0M481 1294h0M444 1214h0M387 1236h0M477 1253h0M431 1204h0M366 1216h0M462 1245h0M507 1245h0M474 1291h0M520 1154h0M532 1158h0M500 1182h0M439 1224h0M456 1212h0M418 1248h0M444 1217h0M394 1206h0M415 1177h0M368 1185h0M466 1282h0M442 1247h0M558 1212h0M454 1308h0M400 1195h0M494 1242h0M349 1260h0M465 1165h0M463 1287h0M551 1252h0M513 1259h0M485 1212h0M423 1238h0M354 1273h0M526 1172h0M418 1294h0M460 1249h0M438 1238h0M434 1260h0M476 1224h0M561 1199h0M367 1199h0M490 1258h0M391 1256h0M574 1216h0M464 1173h0M572 1213h0M541 1219h0M469 1265h0M474 1287h0M367 1187h0M457 1296h0M553 1182h0M468 1229h0M537 1174h0M497 1243h0M491 1203h0M375 1198h0M447 1183h0M509 1247h0M458 1303h0M563 1146h0M354 1205h0M449 1181h0M524 1208h0M439 1271h0M490 1228h0M484 1201h0M456 1300h0M542 1252h0M518 1174h0M545 1225h0M492 1247h0M443 1301h0M408 1217h0M492 1284h0M389 1212h0M514 1191h0M467 1240h0M549 1196h0M586 1180h0M451 1271h0M478 1280h0M410 1278h0M446 1187h0M408 1223h0M570 1201h0M448 1242h0M504 1194h0M511 1251h0M433 1229h0M478 1206h0M426 1292h0M478 1199h0M553 1245h0M505 1236h0M469 1250h0M538 1242h0M465 1236h0M415 1240h0M479 1250h0M464 1200h0" stroke="#4f80c6" stroke-width="3.6" stroke-linecap="round" stroke-opacity="0.78"/>
<path transform="scale(0.25)" d="M438 1247h0M473 1275h0M459 1190h0M489 1259h0M528 1232h0M395 1237h0M407 1258h0M508 1203h0M394 1260h0M564 1190h0M428 1171h0M396 1210h0M468 1168h0M536 1210h0M441 1264h0M414 1311h0M539 1242h0M483 1271h0M455 1204h0M455 1227h0M380 1241h0M489 1285h0M408 1291h0M524 1207h0M447 1299h0M416 1212h0M455 1167h0M461 1233h0M470 1264h0M484 1243h0M402 1149h0M506 1195h0M452 1233h0M515 1187h0M456 1192h0M553 1168h0M555 1191h0M418 1248h0M417 1275h0M406 1195h0M400 1262h0M480 1225h0M489 1251h0M484 1258h0M384 1182h0M417 1197h0M421 1258h0M343 1228h0M532 1264h0M461 1214h0M547 1208h0M377 1270h0M401 1238h0M428 1314h0M481 1287h0M441 1249h0M464 1295h0M406 1202h0M473 1168h0M431 1259h0M556 1234h0M451 1197h0M571 1212h0M403 1159h0M473 1295h0M518 1245h0M420 1280h0M526 1235h0M424 1281h0M483 1156h0M485 1245h0M488 1270h0M562 1195h0M571 1206h0M526 1258h0M488 1244h0M541 1196h0M461 1224h0M427 1246h0M532 1268h0M433 1189h0M400 1193h0M552 1250h0M433 1288h0M409 1201h0M442 1291h0M529 1239h0M568 1172h0M519 1212h0M477 1223h0M408 1207h0M393 1210h0M449 1302h0M414 1252h0M405 1221h0M434 1286h0M477 1238h0M465 1138h0M406 1248h0M369 1270h0M485 1190h0M382 1224h0M529 1192h0M449 1216h0M538 1242h0M517 1187h0M490 1293h0M375 1243h0M571 1173h0M532 1235h0M525 1229h0M569 1230h0M519 1213h0M554 1196h0M427 1273h0M541 1204h0M550 1197h0M517 1212h0M432 1314h0M502 1217h0M415 1312h0M555 1247h0M496 1277h0M514 1193h0M362 1238h0M442 1279h0M435 1312h0M487 1249h0M560 1208h0M444 1228h0M503 1220h0M374 1260h0M420 1249h0M498 1199h0M446 1236h0M427 1223h0M546 1233h0M464 1188h0M513 1221h0M483 1298h0M425 1278h0M413 1230h0M431 1233h0M467 1217h0M438 1246h0M435 1235h0M435 1300h0M479 1211h0M512 1204h0M390 1233h0" stroke="#4f80c6" stroke-width="3.6" stroke-linecap="round" stroke-opacity="0.78"/>
<path transform="scale(0.25)" d="M173 1319h0M127 1209h0M173 1183h0M179 1240h0M143 1267h0M123 1272h0M141 1193h0M160 1268h0M108 1159h0M208 1214h0M172 1283h0M146 1216h0M88 1137h0M89 1190h0M119 1118h0M71 1170h0M139 1158h0M215 1317h0M74 1204h0M161 1211h0M136 1230h0M157 1233h0M149 1273h0M192 1167h0M109 1215h0M93 1233h0M192 1245h0M86 1183h0M161 1181h0M239 1198h0M161 1250h0M192 1167h0M102 1229h0M135 1193h0M214 1218h0M184 1167h0M198 1325h0M118 1186h0M143 1152h0M114 1165h0M116 1181h0M124 1175h0M108 1195h0M198 1193h0M181 1168h0M123 1220h0M163 1167h0M111 1237h0M106 1244h0M217 1262h0M100 1174h0M97 1227h0M166 1186h0M184 1309h0M88 1130h0M173 1191h0M174 1178h0M120 1188h0M165 1253h0M230 1153h0M170 1168h0M169 1147h0M164 1196h0M194 1332h0M99 1234h0M85 1197h0M205 1262h0M179 1219h0M88 1201h0M127 1233h0M180 1318h0M138 1281h0M190 1172h0M160 1289h0M90 1228h0M109 1193h0M133 1237h0M216 1167h0M111 1227h0M116 1173h0M106 1170h0M144 1260h0M164 1226h0M151 1172h0M163 1232h0M134 1229h0M177 1185h0M139 1276h0M166 1190h0M191 1144h0M108 1211h0M102 1243h0M183 1207h0M90 1220h0M118 1219h0M111 1212h0M170 1224h0M99 1241h0M134 1199h0M144 1153h0M126 1226h0M146 1210h0M171 1205h0M158 1275h0M168 1195h0M161 1331h0M167 1284h0M148 1300h0M80 1204h0M82 1221h0M122 1161h0M168 1188h0M153 1254h0M121 1260h0M184 1317h0M139 1302h0M84 1168h0M154 1227h0M133 1220h0M127 1169h0M180 1293h0M194 1143h0M132 1193h0M142 1232h0M103 1173h0M189 1231h0M112 1188h0M130 1222h0M133 1220h0M192 1174h0M145 1278h0M101 1210h0M171 1272h0M91 1186h0M202 1252h0M153 1260h0M120 1224h0M89 1217h0M75 1189h0M193 1185h0M127 1177h0M109 1218h0M80 1172h0M160 1314h0M206 1180h0M202 1328h0M118 1220h0M161 1251h0M79 1201h0M194 1179h0" stroke="#b95e22" stroke-width="3.6" stroke-linecap="round" stroke-opacity="0.78"/>
<path transform="scale(0.25)" d="M560 1069h0M517 1104h0M364 1069h0M557 1123h0M546 1082h0M462 1117h0M424 1134h0M419 1064h0M607 1104h0M473 1115h0M398 1168h0M475 1168h0M527 1101h0M470 1117h0M572 1135h0M491 1167h0M508 1076h0M382 1205h0M575 1120h0M504 1120h0M526 1166h0M343 1154h0M581 1120h0M584 1161h0M398 1101h0M547 1119h0M526 1110h0M479 1112h0M585 1133h0M367 1080h0M503 1098h0M361 1155h0M562 1114h0M451 1092h0M400 1103h0M533 1204h0M506 1073h0M411 1171h0M410 1145h0M360 1168h0M438 1151h0M410 1114h0M441 1151h0M455 1166h0M417 1095h0M593 1127h0M565 1111h0M378 1112h0M540 1142h0M434 1183h0M400 1124h0M528 1101h0M474 1109h0M470 1123h0M342 1172h0M481 1144h0M594 1113h0M413 1152h0M568 1140h0M591 1115h0M451 1152h0M583 1164h0M501 1122h0M520 1163h0M534 1132h0M530 1174h0M579 1105h0M475 1113h0M501 1079h0M533 1108h0M540 1103h0M363 1124h0M560 1166h0M581 1140h0M362 1173h0M470 1151h0M494 1101h0M588 1105h0M428 1215h0M539 1123h0M378 1135h0M472 1109h0M466 1156h0M535 1079h0M507 1136h0M487 1168h0M457 1153h0M288 1113h0M555 1080h0M418 1093h0M366 1065h0M388 1036h0M369 1066h0M537 1139h0M558 1105h0M472 1168h0M460 1180h0M474 1166h0M451 1129h0M561 1175h0M395 1115h0M574 1195h0M555 1130h0M428 1128h0M518 1174h0M578 1151h0M554 1094h0M540 1136h0M492 1170h0M527 1172h0M387 1196h0M511 1166h0M406 1142h0M392 1150h0M383 1126h0M556 1113h0M572 1080h0M544 1153h0M415 1161h0M564 1069h0M475 1085h0M445 1141h0M571 1110h0M419 1147h0M580 1170h0M428 1107h0M388 1105h0M448 1095h0M447 1131h0M469 1070h0M383 1223h0M463 1225h0M527 1175h0M524 1099h0M573 1096h0M467 1100h0M330 1155h0M491 1070h0M573 1121h0M465 1103h0M420 1130h0M434 1073h0M491 1085h0M444 1109h0M411 1057h0M525 1173h0M393 1170h0M431 1115h0M550 1146h0M560 1123h0" stroke="#62a3ab" stroke-width="3.6" stroke-linecap="round" stroke-opacity="0.78"/>
<path transform="scale(0.25)" d="M431 1059h0M525 1133h0M523 1089h0M416 1074h0M492 1179h0M363 1140h0M578 1149h0M542 1090h0M461 1102h0M378 1176h0M515 1147h0M570 1157h0M488 1094h0M555 1155h0M513 1074h0M538 1102h0M450 1143h0M430 1128h0M532 1065h0M415 1082h0M375 1187h0M582 1157h0M447 1061h0M542 1085h0M461 1179h0M422 1077h0M396 1093h0M459 1079h0M427 1116h0M468 1106h0M529 1115h0M522 1229h0M459 1115h0M580 1110h0M419 1064h0M500 1124h0M425 1083h0M519 1075h0M389 1037h0M505 1126h0M605 1145h0M573 1093h0M529 1119h0M427 1058h0M523 1124h0M507 1105h0M531 1172h0M593 1150h0M507 1125h0M353 1126h0M583 1180h0M399 1102h0M426 1095h0M412 1184h0M536 1146h0M593 1097h0M490 1076h0M519 1078h0M364 1187h0M610 1123h0M392 1084h0M575 1085h0M498 1100h0M489 1151h0M468 1115h0M414 1101h0M424 1198h0M429 1085h0M428 1131h0M558 1169h0M467 1150h0M605 1121h0M453 1136h0M538 1084h0M507 1115h0M428 1065h0M549 1128h0M468 1188h0M432 1089h0M489 1071h0M521 1092h0M460 1139h0M470 1078h0M573 1094h0M426 1076h0M401 1089h0M583 1175h0M492 1108h0M426 1113h0M489 1173h0M559 1169h0M464 1093h0M560 1112h0M438 1177h0M497 1198h0M451 1110h0M539 1103h0M467 1095h0M399 1160h0M484 1185h0M332 1148h0M564 1071h0M516 1113h0M552 1155h0M469 1111h0M460 1080h0M445 1074h0M577 1139h0M408 1113h0M481 1164h0M576 1116h0M433 1071h0M418 1107h0M501 1114h0M398 1130h0M527 1194h0M430 1088h0M398 1184h0M543 1086h0M483 1132h0M450 1144h0M479 1080h0M440 1091h0M429 1152h0M542 1098h0M466 1114h0M504 1172h0M420 1143h0M495 1122h0M399 1155h0M518 1122h0M390 1115h0M454 1095h0M594 1141h0M507 1158h0M595 1093h0M507 1122h0M584 1112h0M438 1114h0M533 1073h0M397 1190h0M484 1101h0M566 1089h0M511 1188h0M343 1175h0M546 1148h0M396 1089h0M410 1162h0M546 1159h0M502 1134h0" stroke="#62a3ab" stroke-width="3.6" stroke-linecap="round" stroke-opacity="0.78"/>
<path transform="scale(0.25)" d="M167 1143h0M96 1058h0M97 1068h0M81 1188h0M144 1119h0M149 1065h0M168 1119h0M95 1064h0M187 1059h0M161 1036h0M111 1184h0M101 1124h0M150 1086h0M117 1123h0M212 1053h0M154 1124h0M117 1127h0M106 1140h0M158 1052h0M184 1052h0M128 1105h0M143 1029h0M165 1116h0M147 1094h0M209 1076h0M105 1126h0M150 1128h0M222 1087h0M112 1093h0M181 1063h0M233 1039h0M115 1130h0M72 1191h0M190 1119h0M88 1073h0M151 1037h0M140 1089h0M187 1114h0M117 1155h0M186 1154h0M86 1093h0M179 1029h0M113 1106h0M196 1085h0M168 1055h0M159 1067h0M169 1171h0M115 1071h0M151 1139h0M140 1030h0M131 1066h0M103 1082h0M107 1046h0M89 1067h0M77 1143h0M167 1101h0M159 1131h0M218 1056h0M90 1151h0M137 1157h0M72 1150h0M172 1089h0M82 1124h0M166 1064h0M94 1132h0M77 1098h0M147 1170h0M98 1053h0M176 1088h0M93 1059h0M166 1135h0M168 1100h0M115 1106h0M99 1115h0M120 1155h0M93 1161h0M134 1138h0M148 1100h0M146 1060h0M98 1067h0M130 1106h0M139 1138h0M154 1097h0M123 1069h0M128 1121h0M134 1109h0M81 1078h0M226 1068h0M99 1057h0M202 1127h0M74 1124h0M164 1071h0M83 1158h0M142 1088h0M197 1126h0M162 1090h0M105 1114h0M125 1138h0M171 1087h0M105 1043h0M177 1091h0M111 1120h0M94 1143h0M168 1125h0M135 1112h0M112 1057h0M132 1122h0M153 1126h0M149 1075h0M139 1112h0M113 1060h0M119 1040h0M130 1130h0M153 1159h0M154 1131h0M116 1131h0M97 1072h0M228 1143h0M143 1102h0M118 1114h0M86 1161h0M188 1078h0M122 1082h0M88 1104h0M94 1092h0M93 1106h0M79 1094h0M96 1143h0M137 1125h0M120 1048h0M111 1168h0M195 1073h0M141 1037h0M111 1067h0M77 1101h0M75 1108h0M177 1051h0M78 1095h0M146 1085h0M117 1160h0M89 1142h0M93 1087h0M130 1051h0M120 1034h0M87 1125h0M237 1032h0M83 1145h0M110 1043h0M143 1050h0M154 1074h0" stroke="#34509e" stroke-width="3.6" stroke-linecap="round" stroke-opacity="0.78"/>
<path transform="scale(0.25)" d="M212 1180h0M223 1321h0M102 1127h0M81 1201h0M224 1161h0M98 1169h0M203 1162h0M110 1211h0M184 1215h0M160 1248h0M166 1272h0M194 1324h0M109 1255h0M129 1196h0M176 1186h0M147 1172h0M194 1278h0M177 1133h0M135 1268h0M219 1198h0M128 1184h0M192 1176h0M169 1290h0M209 1149h0M174 1161h0M177 1211h0M161 1216h0M158 1261h0M188 1210h0M175 1270h0M153 1184h0M205 1301h0M101 1156h0M120 1206h0M123 1235h0M140 1270h0M81 1182h0M209 1207h0M72 1172h0M174 1208h0M102 1204h0M164 1245h0M130 1181h0M155 1174h0M171 1178h0M177 1264h0M90 1188h0M136 1259h0M127 1200h0M89 1213h0M114 1202h0M210 1255h0M194 1208h0M131 1275h0M233 1289h0M69 1183h0M128 1222h0M111 1204h0M177 1299h0M204 1282h0M93 1180h0M162 1186h0M162 1221h0M164 1318h0M218 1253h0M172 1183h0M151 1283h0M162 1286h0M108 1226h0M76 1212h0M135 1297h0M141 1162h0M170 1291h0M143 1221h0M86 1169h0M140 1307h0M91 1217h0M129 1192h0M174 1223h0M187 1303h0M118 1224h0M122 1260h0M149 1316h0M172 1286h0M159 1185h0M139 1169h0M125 1162h0M144 1168h0M168 1170h0M87 1153h0M133 1263h0M184 1241h0M122 1222h0M66 1168h0M90 1133h0M74 1164h0M228 1157h0M195 1211h0M139 1184h0M204 1307h0M227 1133h0M258 1220h0M199 1299h0M167 1255h0M174 1214h0M140 1143h0M189 1331h0M207 1195h0M167 1254h0M92 1193h0M145 1207h0M169 1253h0M79 1190h0M203 1312h0M207 1179h0M162 1167h0M184 1243h0M126 1253h0M108 1173h0M131 1161h0M179 1179h0M113 1189h0M205 1204h0M134 1235h0M90 1179h0M115 1167h0M132 1203h0M228 1202h0M113 1178h0M120 1219h0M186 1164h0M179 1219h0M141 1248h0M224 1179h0M150 1123h0M227 1164h0M201 1268h0M213 1199h0M105 1199h0M151 1211h0M178 1274h0M125 1279h0M181 1221h0M147 1166h0M101 1170h0M136 1294h0M184 1284h0M170 1329h0M156 1204h0M224 1233h0" stroke="#b95e22" stroke-width="3.6" stroke-linecap="round" stroke-opacity="0.78"/>
<path transform="scale(0.25)" d="M149 1058h0M126 1059h0M204 1129h0M180 1142h0M173 1054h0M182 1141h0M87 1083h0M113 1044h0M149 1115h0M209 1148h0M147 1106h0M77 1088h0M127 1040h0M97 1117h0M183 1113h0M114 1119h0M182 1033h0M166 1085h0M124 1101h0M161 1098h0M141 1077h0M190 1047h0M141 1030h0M167 1083h0M142 1074h0M159 1098h0M115 1068h0M202 1049h0M168 1079h0M103 1111h0M92 1083h0M106 1079h0M86 1077h0M227 1059h0M153 1140h0M139 1036h0M141 1146h0M111 1136h0M85 1065h0M170 1065h0M124 1099h0M185 1033h0M158 1085h0M156 1093h0M180 1047h0M173 1060h0M75 1127h0M177 1033h0M151 1049h0M86 1113h0M188 1154h0M150 1121h0M147 1078h0M122 1062h0M143 1113h0M88 1158h0M133 1116h0M124 1085h0M99 1062h0M129 1120h0M157 1066h0M95 1053h0M81 1133h0M140 1167h0M126 1067h0M131 1107h0M153 1153h0M191 1037h0M73 1140h0M82 1103h0M231 1183h0M161 1037h0M115 1087h0M92 1064h0M100 1136h0M95 1134h0M136 1127h0M114 1092h0M122 1107h0M165 1090h0M163 1134h0M85 1106h0M147 1154h0M144 1049h0M122 1099h0M221 1159h0M120 1192h0M99 1153h0M92 1114h0M111 1187h0M111 1077h0M87 1076h0M72 1133h0M165 1091h0M78 1084h0M171 1046h0M199 1070h0M158 1169h0M152 1083h0M198 1107h0M127 1080h0M187 1125h0M135 1082h0M115 1060h0M110 1123h0M77 1159h0M184 1040h0M126 1103h0M170 1158h0M126 1206h0M188 1037h0M132 1074h0M176 1142h0M100 1065h0M142 1072h0M124 1087h0M94 1149h0M78 1116h0M160 1063h0M101 1182h0M106 1158h0M86 1102h0M176 1071h0M102 1140h0M123 1089h0M179 1127h0M194 1108h0M151 1127h0M173 1169h0M136 1116h0M148 1141h0M145 1091h0M162 1132h0M79 1124h0M169 1169h0M221 1079h0M156 1144h0M134 1105h0M143 1149h0M184 1188h0M172 1114h0M172 1079h0M150 1056h0M117 1042h0M199 1057h0M144 1073h0M154 1098h0M178 1142h0M145 1110h0M151 1046h0" stroke="#34509e" stroke-width="3.6" stroke-linecap="round" stroke-opacity="0.78"/>
<path transform="scale(0.25)" d="M562 1130h0M520 1073h0M497 1095h0M327 1206h0M465 1083h0M480 1191h0M531 1162h0M592 1166h0M492 1129h0M518 1080h0M515 1156h0M432 1113h0M452 1096h0M431 1127h0M404 1070h0M459 1123h0M513 1128h0M500 1140h0M596 1110h0M494 1075h0M559 1121h0M589 1140h0M496 1091h0M466 1073h0M508 1108h0M478 1115h0M563 1138h0M522 1088h0M454 1083h0M532 1119h0M522 1151h0M390 1161h0M452 1145h0M558 1066h0M474 1129h0M579 1115h0M425 1097h0M571 1109h0M579 1096h0M553 1177h0M420 1114h0M492 1163h0M515 1105h0M465 1100h0M570 1092h0M462 1095h0M320 1164h0M412 1100h0M369 1082h0M371 1158h0M613 1122h0M594 1145h0M396 1176h0M436 1112h0M311 1183h0M345 1111h0M461 1154h0M445 1168h0M569 1171h0M574 1111h0M554 1141h0M494 1148h0M366 1165h0M435 1148h0M413 1170h0M459 1103h0M522 1157h0M483 1132h0M476 1140h0M583 1100h0M515 1174h0M360 1157h0M537 1100h0M480 1139h0M402 1119h0M582 1081h0M474 1186h0M551 1086h0M446 1065h0M362 1170h0M509 1218h0M457 1105h0M400 1047h0M470 1139h0M511 1189h0M537 1122h0M405 1127h0M363 1180h0M408 1117h0M593 1127h0M450 1080h0M444 1094h0M548 1145h0M459 1105h0M585 1171h0M413 1073h0M508 1150h0M545 1117h0M471 1088h0M582 1161h0M574 1177h0M479 1146h0M520 1211h0M583 1102h0M610 1132h0" stroke="#62a3ab" stroke-width="3.6" stroke-linecap="round" stroke-opacity="0.78"/>
<path transform="scale(0.25)" d="M422 1205h0M465 1241h0M440 1153h0M484 1272h0M429 1296h0M468 1274h0M434 1183h0M487 1251h0M488 1225h0M448 1257h0M456 1211h0M470 1249h0M412 1230h0M536 1265h0M564 1197h0M521 1203h0M444 1280h0M499 1232h0M523 1229h0M510 1266h0M521 1261h0M514 1243h0M543 1238h0M403 1281h0M429 1197h0M475 1268h0M547 1218h0M413 1209h0M521 1243h0M530 1237h0M470 1160h0M451 1288h0M450 1255h0M393 1189h0M543 1187h0M497 1230h0M494 1170h0M453 1188h0M422 1201h0M444 1203h0M470 1234h0M445 1214h0M488 1186h0M401 1262h0M484 1229h0M483 1231h0M462 1282h0M380 1210h0M490 1159h0M504 1270h0M488 1277h0M437 1215h0M377 1286h0M545 1218h0M440 1231h0M445 1283h0M395 1264h0M501 1184h0M475 1283h0M401 1245h0M520 1233h0M422 1317h0M506 1274h0M530 1261h0M466 1224h0M415 1235h0M524 1214h0M522 1240h0M480 1286h0M457 1211h0M476 1256h0M414 1260h0M517 1210h0M443 1316h0M489 1295h0M528 1246h0M512 1235h0M490 1278h0M435 1204h0M445 1242h0M428 1207h0M493 1191h0M510 1251h0M429 1320h0M447 1229h0M389 1250h0M374 1201h0M409 1242h0M444 1246h0M413 1212h0M526 1261h0M541 1228h0M395 1184h0M565 1214h0M463 1195h0M505 1236h0M463 1252h0M514 1251h0M450 1205h0M448 1252h0M469 1234h0M516 1199h0M578 1165h0M566 1182h0M561 1236h0M495 1248h0M422 1284h0M387 1202h0M492 1242h0M475 1292h0M532 1252h0M503 1259h0M541 1215h0M564 1239h0M437 1288h0M572 1229h0M521 1154h0M465 1211h0M486 1182h0M461 1218h0M366 1242h0M394 1262h0M407 1264h0M534 1197h0M513 1250h0M415 1212h0M552 1207h0M537 1187h0M452 1286h0M467 1291h0M494 1269h0M448 1291h0M474 1299h0M346 1273h0M414 1261h0M433 1213h0M541 1210h0M446 1183h0M485 1234h0M491 1181h0M552 1218h0M364 1221h0M425 1254h0M391 1186h0M416 1195h0M555 1226h0M504 1263h0M514 1228h0M580 1194h0M359 1216h0" stroke="#4f80c6" stroke-width="3.6" stroke-linecap="round" stroke-opacity="0.78"/>
<path transform="scale(0.25)" d="M149 1257h0M114 1162h0M155 1300h0M136 1236h0M189 1203h0M127 1201h0M188 1235h0M172 1197h0M206 1331h0M167 1216h0M79 1212h0M166 1277h0M141 1170h0M185 1218h0M115 1203h0M166 1276h0M227 1208h0M230 1182h0M125 1190h0M186 1190h0M171 1230h0M220 1305h0M104 1209h0M158 1214h0M96 1201h0M154 1285h0M198 1259h0M160 1201h0M155 1164h0M123 1248h0M115 1206h0M150 1224h0M226 1316h0M202 1207h0M70 1173h0M87 1137h0M163 1199h0M210 1203h0M147 1158h0M146 1288h0M100 1238h0M199 1218h0M134 1279h0M198 1241h0M127 1271h0M228 1175h0M140 1195h0M175 1209h0M176 1222h0M164 1268h0M149 1305h0M162 1311h0M173 1242h0M98 1229h0M161 1216h0M86 1211h0M95 1142h0M176 1220h0M113 1241h0M157 1209h0M147 1254h0M175 1305h0M162 1308h0M149 1280h0M112 1224h0M155 1145h0M100 1156h0M167 1211h0M203 1195h0M168 1209h0M150 1207h0M151 1202h0M168 1293h0M181 1188h0M109 1167h0M128 1137h0M103 1188h0M134 1244h0M76 1171h0M119 1149h0M90 1231h0M166 1197h0M105 1205h0M124 1169h0M200 1253h0M100 1214h0M111 1223h0M164 1199h0M158 1321h0M178 1218h0M224 1156h0M220 1164h0M197 1229h0M112 1254h0M97 1217h0M101 1174h0M167 1259h0M215 1156h0M137 1168h0M200 1253h0M86 1213h0M174 1184h0M149 1220h0M131 1261h0M148 1172h0M109 1218h0M209 1234h0M96 1228h0M196 1148h0M102 1165h0M187 1219h0M189 1190h0M132 1202h0M93 1236h0M199 1185h0M72 1194h0M100 1222h0M156 1256h0M124 1259h0M153 1228h0M99 1192h0M128 1234h0M134 1213h0M206 1185h0M114 1235h0M202 1259h0M140 1275h0M81 1168h0M174 1255h0M143 1169h0M158 1287h0M80 1218h0M141 1298h0M178 1254h0M214 1175h0M77 1186h0M144 1261h0M108 1095h0M191 1169h0M223 1178h0M78 1179h0M123 1127h0M108 1238h0M161 1279h0M161 1328h0M150 1216h0M223 1325h0M186 1264h0M187 1313h0M143 1141h0" stroke="#b95e22" stroke-width="3.6" stroke-linecap="round" stroke-opacity="0.78"/>
<path transform="scale(0.25)" d="M169 1283h0M72 1157h0M155 1136h0M196 1208h0M188 1322h0M128 1175h0M125 1179h0M209 1149h0M201 1217h0M162 1247h0M177 1285h0M192 1223h0M176 1161h0M231 1164h0M129 1236h0M136 1259h0M109 1214h0M129 1276h0M111 1121h0M195 1256h0M85 1155h0M207 1217h0M141 1302h0M211 1171h0M209 1208h0M97 1203h0M181 1238h0M78 1165h0M215 1202h0M118 1178h0M196 1194h0M181 1197h0M201 1223h0M73 1156h0M148 1271h0M165 1319h0M194 1319h0M102 1206h0M153 1294h0M183 1110h0M194 1229h0M169 1290h0M166 1223h0M135 1191h0M223 1159h0M172 1245h0M98 1191h0M148 1288h0M154 1261h0M156 1228h0M124 1222h0M80 1214h0M130 1281h0M206 1236h0M186 1203h0M118 1176h0M160 1190h0M88 1211h0M100 1236h0M190 1177h0M122 1207h0M127 1259h0M163 1214h0M172 1324h0M184 1186h0M180 1215h0M150 1177h0M82 1202h0M114 1253h0M121 1236h0M81 1178h0M180 1314h0M135 1200h0M198 1299h0M127 1255h0M177 1249h0M169 1105h0M124 1207h0M162 1245h0M165 1120h0M121 1195h0" stroke="#b95e22" stroke-width="3.6" stroke-linecap="round" stroke-opacity="0.78"/>
<path transform="scale(0.25)" d="M66 1175h0M88 1140h0M218 1155h0M132 1143h0M112 1236h0M87 1215h0M157 1181h0M233 1172h0M218 1228h0M137 1268h0M124 1220h0M168 1305h0M90 1222h0M141 1296h0M158 1175h0M150 1234h0M128 1285h0M218 1147h0M171 1286h0M181 1186h0M153 1191h0M109 1220h0M107 1204h0M95 1233h0M160 1321h0M167 1256h0M86 1155h0M158 1307h0M146 1198h0M150 1287h0M164 1290h0M152 1250h0M205 1259h0M119 1219h0M88 1219h0M207 1217h0M111 1189h0M173 1234h0M152 1206h0M113 1190h0M169 1251h0M179 1226h0M201 1201h0M148 1259h0M108 1168h0M201 1212h0M138 1236h0M75 1206h0M175 1286h0M183 1240h0M121 1186h0M74 1181h0M89 1219h0M194 1267h0M104 1241h0M188 1175h0M122 1253h0M112 1197h0M90 1208h0M193 1223h0M87 1225h0M127 1207h0M100 1219h0M182 1232h0M205 1298h0M148 1304h0M200 1148h0M141 1311h0M154 1240h0M122 1233h0M137 1288h0M192 1321h0M172 1191h0M72 1182h0M69 1185h0M211 1186h0M96 1198h0M180 1238h0M146 1255h0M134 1269h0M167 1149h0M176 1295h0M205 1240h0M164 1194h0M176 1238h0M128 1278h0M220 1155h0M136 1168h0M198 1216h0M246 1172h0M201 1291h0M74 1204h0M91 1194h0M172 1175h0M150 1281h0M141 1211h0M185 1190h0M155 1203h0M147 1158h0M129 1187h0M134 1245h0M197 1184h0M114 1207h0M190 1295h0M203 1159h0M88 1147h0M134 1162h0M133 1256h0M74 1187h0M129 1197h0M137 1174h0M185 1230h0M138 1226h0M131 1207h0M85 1219h0M191 1153h0M129 1173h0M108 1174h0M149 1316h0M148 1173h0M203 1270h0M140 1210h0M161 1291h0M92 1170h0M205 1204h0M106 1247h0M139 1131h0M121 1243h0M136 1258h0M91 1176h0M184 1290h0M175 1225h0M77 1188h0M89 1201h0M100 1234h0M187 1228h0M150 1177h0M184 1294h0M160 1274h0M136 1271h0M160 1259h0M162 1253h0M177 1327h0M191 1217h0M227 1225h0M83 1183h0M199 1318h0M185 1175h0M184 1167h0M133 1212h0" stroke="#b95e22" stroke-width="3.6" stroke-linecap="round" stroke-opacity="0.78"/>
<path transform="scale(0.25)" d="M240 1096h0M197 1103h0M234 1154h0M354 1110h0M384 1081h0M325 1142h0M288 1115h0M383 1061h0M300 1126h0M298 1075h0M267 1042h0M342 1124h0M351 1156h0M266 1091h0M232 1063h0M374 1108h0M229 1111h0M182 1040h0M397 1102h0M301 1075h0M313 1043h0M227 1154h0M168 1086h0M369 1167h0M333 1158h0M294 1135h0M273 1116h0M345 1106h0M243 1034h0M278 1146h0M332 1083h0M256 1085h0M402 1040h0M411 1051h0M263 1088h0M309 1065h0M356 1040h0M276 1036h0M278 1150h0M249 1106h0M300 1120h0M282 1120h0M323 1110h0M239 1142h0M238 1138h0M220 1053h0M294 1052h0M368 1089h0M352 1094h0M327 1096h0M346 1157h0M333 1110h0M211 1125h0M305 1036h0M328 1081h0M194 1212h0M226 1181h0M336 1154h0M389 1057h0M264 1141h0M250 1126h0M239 1161h0M364 1098h0M306 1112h0M346 1033h0M286 1044h0M259 1053h0M459 1139h0M312 1061h0M315 1058h0M231 1177h0M359 1106h0M372 1058h0M301 1082h0M354 1041h0M324 1171h0M247 1175h0M313 1123h0M363 1088h0M275 1162h0M302 1082h0M360 1116h0M222 1150h0M315 1125h0M279 1059h0M253 1113h0M212 1118h0M227 1047h0M291 1112h0M261 1193h0M321 1122h0M386 1161h0M150 1051h0M305 1039h0M260 1161h0M209 1052h0M162 1183h0M290 1174h0M389 1088h0M275 1089h0M341 1116h0M245 1062h0M380 1090h0M404 1088h0M368 1163h0M277 1108h0M382 1065h0M299 1139h0M317 1173h0M239 1070h0M339 1119h0M397 1107h0M315 1072h0M391 1043h0M223 1165h0M239 1151h0M364 1173h0M341 1173h0M345 1112h0M297 1100h0M239 1122h0M402 1171h0M405 1137h0M260 1176h0M309 1053h0M180 1048h0M270 1037h0M327 1122h0M236 1135h0M290 1070h0M280 1160h0M150 1111h0M354 1102h0M225 1098h0M181 1067h0M222 1153h0M300 1070h0M294 1064h0M417 1088h0M290 1147h0M236 1124h0M338 1050h0M311 1148h0M272 1123h0M246 1123h0M177 1070h0M293 1061h0M216 1067h0M152 1068h0M328 1163h0" stroke="#98c4c8" stroke-width="3.6" stroke-linecap="round" stroke-opacity="0.78"/>
<path transform="scale(0.25)" d="M215 1240h0M323 1217h0M347 1304h0M318 1251h0M282 1230h0M313 1152h0M192 1240h0M233 1194h0M354 1298h0M202 1225h0M371 1248h0M360 1263h0M282 1256h0M202 1310h0M298 1183h0M298 1314h0M313 1278h0M221 1255h0M211 1279h0M360 1197h0M291 1261h0M231 1237h0M290 1298h0M209 1325h0M198 1252h0M210 1299h0M127 1228h0M386 1222h0M300 1186h0M197 1228h0M355 1222h0M255 1197h0M313 1251h0M249 1244h0M352 1298h0M344 1310h0M233 1265h0M263 1251h0M352 1279h0M331 1181h0M303 1279h0M297 1204h0M327 1183h0M212 1224h0M219 1330h0M256 1194h0M164 1239h0M252 1233h0M189 1299h0M288 1251h0M416 1245h0M351 1299h0M373 1213h0M254 1282h0M271 1278h0M260 1225h0M389 1238h0M191 1208h0M338 1211h0M228 1196h0M339 1310h0M171 1315h0M127 1213h0M158 1252h0M298 1274h0M274 1293h0M311 1229h0M328 1242h0M222 1259h0M262 1205h0M303 1199h0M307 1213h0M209 1217h0M244 1246h0M311 1291h0M212 1234h0M307 1296h0M237 1200h0M183 1228h0M189 1238h0M249 1267h0M244 1265h0M237 1260h0M285 1273h0M211 1299h0M175 1290h0M251 1180h0M388 1265h0M236 1238h0M200 1217h0M274 1208h0M267 1262h0M356 1306h0M371 1216h0M368 1197h0M228 1203h0M287 1297h0M306 1224h0M214 1327h0M343 1209h0M167 1267h0M206 1277h0M348 1294h0M168 1252h0M322 1207h0M170 1296h0M312 1264h0M234 1273h0M373 1275h0M248 1229h0M305 1214h0M361 1186h0M306 1278h0M293 1198h0M247 1220h0M308 1262h0M229 1317h0M331 1245h0M353 1288h0M243 1212h0M308 1186h0M321 1245h0M243 1200h0M259 1192h0M349 1248h0M399 1196h0M313 1292h0M252 1273h0M337 1268h0M260 1271h0M205 1317h0M324 1222h0M362 1205h0M351 1183h0M302 1258h0M235 1322h0M328 1277h0M288 1242h0M269 1238h0M336 1273h0M393 1268h0M262 1208h0M230 1326h0M335 1249h0M224 1199h0M335 1271h0M307 1248h0M214 1321h0M268 1247h0M241 1245h0" stroke="#e98a35" stroke-width="3.6" stroke-linecap="round" stroke-opacity="0.78"/>
<path transform="scale(0.25)" d="M358 1113h0M213 1063h0M399 1054h0M299 1136h0M188 1072h0M209 1071h0M301 1146h0M311 1140h0M196 1057h0M221 1149h0M282 1085h0M251 1032h0M181 1071h0M313 1097h0M298 1175h0M349 1072h0M220 1032h0M273 1125h0M369 1100h0M241 1122h0M388 1056h0M186 1103h0M235 1156h0M327 1109h0M82 1083h0M350 1115h0M329 1160h0M196 1063h0M254 1099h0M333 1168h0M287 1064h0M203 1178h0M184 1033h0M354 1077h0M262 1101h0M215 1114h0M383 1100h0M230 1184h0M187 1123h0M221 1136h0M364 1207h0M182 1124h0M250 1083h0M404 1083h0M362 1170h0M291 1038h0M350 1075h0M199 1067h0M251 1102h0M238 1112h0M306 1175h0M330 1096h0M255 1033h0M262 1194h0M416 1122h0M247 1090h0M275 1078h0M277 1130h0M257 1136h0M187 1089h0M321 1125h0M409 1152h0M289 1069h0M223 1069h0M262 1079h0M164 1030h0M220 1145h0M251 1111h0M172 1094h0M226 1152h0M317 1104h0M373 1042h0M295 1170h0M163 1089h0M193 1167h0M283 1050h0M401 1138h0M271 1060h0M378 1069h0M390 1061h0M226 1063h0M220 1116h0M153 1073h0M229 1057h0M359 1126h0M356 1086h0M338 1148h0M210 1121h0M376 1182h0M244 1165h0M188 1029h0M354 1037h0M355 1110h0M240 1082h0M329 1147h0M242 1137h0M328 1041h0M216 1108h0M202 1084h0M373 1128h0M308 1087h0M330 1186h0M405 1097h0M359 1088h0M228 1114h0M182 1049h0M362 1096h0M291 1156h0M260 1052h0M263 1041h0M354 1045h0M157 1127h0M229 1040h0M297 1094h0M189 1144h0M182 1108h0M176 1135h0M220 1052h0M239 1038h0M323 1054h0M217 1120h0M160 1071h0M283 1138h0M262 1139h0M304 1197h0M379 1154h0M193 1071h0M220 1072h0M254 1098h0M384 1137h0M236 1145h0M322 1120h0M276 1129h0M345 1072h0M368 1060h0M399 1110h0M291 1148h0M228 1120h0M312 1048h0M335 1044h0M320 1052h0M387 1152h0M264 1137h0M412 1090h0M354 1070h0M181 1151h0M207 1060h0M271 1050h0M252 1117h0M341 1045h0" stroke="#98c4c8" stroke-width="3.6" stroke-linecap="round" stroke-opacity="0.78"/>
<path transform="scale(0.25)" d="M405 1251h0M403 1193h0M514 1216h0M396 1266h0M441 1301h0M450 1246h0M544 1187h0M491 1270h0M514 1246h0M548 1181h0M509 1192h0M438 1181h0M514 1155h0M430 1229h0M418 1222h0M491 1245h0M515 1277h0M543 1210h0M476 1175h0M449 1188h0M431 1314h0M460 1308h0M494 1263h0M545 1246h0M461 1214h0M390 1242h0M560 1230h0M550 1176h0M476 1228h0M530 1242h0M520 1246h0M446 1287h0M430 1294h0M431 1294h0M529 1212h0M475 1277h0M517 1207h0M462 1298h0M505 1227h0M404 1278h0M544 1234h0M515 1201h0M500 1269h0M510 1212h0M430 1278h0M395 1251h0M453 1285h0M547 1204h0M384 1243h0M450 1272h0M469 1196h0M524 1220h0M442 1198h0M510 1243h0M534 1251h0M542 1218h0M418 1249h0M456 1274h0M545 1258h0M537 1222h0M424 1163h0M360 1286h0M443 1314h0M456 1196h0M395 1220h0M496 1241h0M435 1273h0M427 1257h0M547 1192h0M380 1226h0M408 1240h0M409 1251h0M519 1243h0M453 1262h0M509 1266h0M455 1275h0M416 1294h0M514 1269h0M372 1275h0M374 1177h0M440 1274h0M554 1239h0M528 1195h0M430 1220h0M530 1216h0M520 1217h0M486 1249h0M555 1219h0M500 1184h0M551 1249h0M487 1202h0M334 1201h0M407 1237h0M463 1287h0M328 1224h0M418 1239h0M507 1266h0M516 1271h0M385 1178h0M394 1258h0M546 1191h0M424 1290h0M480 1201h0M478 1204h0M452 1272h0M451 1207h0M580 1196h0M479 1279h0M456 1245h0M529 1184h0M384 1203h0M459 1171h0M578 1197h0M560 1206h0M525 1158h0M433 1256h0M481 1180h0M422 1287h0M417 1215h0M404 1245h0M403 1220h0M470 1207h0M496 1202h0M415 1244h0M481 1280h0M497 1220h0M479 1225h0M448 1239h0M408 1231h0M473 1175h0M494 1246h0M360 1230h0M465 1254h0M558 1211h0M505 1259h0M521 1266h0M493 1197h0M488 1255h0M451 1198h0M415 1308h0M428 1194h0M438 1238h0M383 1262h0M499 1241h0M455 1297h0M441 1204h0M370 1238h0M599 1134h0M364 1182h0M480 1256h0" stroke="#4f80c6" stroke-width="3.6" stroke-linecap="round" stroke-opacity="0.78"/>
<path transform="scale(0.25)" d="M406 1177h0M496 1132h0M596 1125h0M470 1084h0M386 1113h0M408 1074h0M480 1087h0M478 1136h0M468 1102h0M363 1105h0M540 1130h0M492 1157h0M412 1212h0M408 1155h0M540 1149h0M590 1137h0M342 1187h0M564 1160h0M427 1080h0M519 1155h0M443 1081h0M589 1153h0M525 1136h0M591 1119h0M606 1108h0M491 1168h0M413 1087h0M403 1174h0M531 1073h0M478 1158h0M374 1198h0M598 1091h0M436 1161h0M480 1152h0M583 1090h0M447 1185h0M432 1057h0M507 1139h0M386 1123h0M545 1098h0M365 1165h0M441 1120h0M455 1091h0M413 1069h0M594 1152h0M371 1162h0M565 1094h0M476 1114h0M605 1129h0M474 1157h0M520 1083h0M531 1127h0M399 1138h0M433 1162h0M386 1190h0M416 1165h0M410 1118h0M572 1160h0M603 1132h0M421 1105h0M595 1099h0M392 1151h0M556 1130h0M508 1149h0M555 1151h0M518 1078h0M586 1086h0M391 1179h0M564 1132h0M596 1133h0M351 1127h0M441 1149h0M467 1121h0M390 1156h0M548 1164h0M468 1065h0M399 1060h0M578 1155h0M405 1082h0M436 1181h0M555 1099h0M401 1156h0M555 1096h0M493 1105h0M538 1167h0M365 1105h0M438 1176h0M413 1173h0M440 1090h0M557 1126h0M452 1153h0M589 1087h0M331 1205h0M476 1083h0M517 1089h0M425 1108h0M468 1090h0M521 1090h0M593 1151h0M463 1130h0M396 1142h0M502 1109h0M575 1141h0M441 1170h0M412 1143h0M444 1135h0M417 1089h0M479 1159h0M350 1169h0M375 1171h0M383 1136h0M477 1093h0M340 1148h0M569 1076h0M579 1137h0M446 1137h0M407 1095h0M377 1078h0M522 1138h0M398 1052h0M528 1185h0M460 1141h0M527 1070h0M362 1172h0M558 1112h0M523 1158h0M542 1185h0M420 1070h0M528 1092h0M602 1148h0M584 1120h0M497 1131h0M521 1158h0M372 1144h0M427 1086h0M593 1089h0M399 1096h0M533 1076h0M439 1202h0M554 1107h0M525 1095h0M447 1172h0M546 1139h0M433 1099h0M431 1169h0M394 1141h0M344 1180h0M506 1067h0M518 1155h0M570 1226h0" stroke="#62a3ab" stroke-width="3.6" stroke-linecap="round" stroke-opacity="0.78"/>
<path transform="scale(0.25)" d="M135 1244h0M174 1314h0M173 1288h0M173 1309h0M121 1259h0M185 1209h0M169 1210h0M222 1185h0M142 1288h0M141 1202h0M121 1232h0M203 1274h0M151 1203h0M148 1307h0M182 1312h0M224 1201h0M121 1194h0M135 1184h0M179 1189h0M166 1229h0M92 1176h0M167 1315h0M117 1252h0M220 1290h0M161 1235h0M200 1199h0M221 1323h0M118 1272h0M147 1295h0M194 1218h0M105 1227h0M89 1222h0M123 1174h0M224 1289h0M148 1294h0M157 1193h0M142 1149h0M218 1197h0M88 1174h0M182 1328h0M189 1178h0M150 1158h0M176 1321h0M139 1170h0M70 1147h0M188 1168h0M188 1157h0M134 1159h0M144 1268h0M124 1198h0M152 1272h0M130 1229h0M133 1277h0M166 1217h0M147 1205h0M204 1190h0M121 1258h0M199 1316h0M169 1246h0M151 1298h0M90 1215h0M152 1285h0M196 1245h0M148 1228h0M83 1223h0M162 1200h0M128 1240h0M74 1200h0M197 1207h0M136 1211h0M135 1216h0M166 1228h0M128 1234h0M171 1168h0M170 1250h0M179 1293h0M70 1196h0M181 1189h0M120 1149h0M135 1245h0M99 1211h0M188 1283h0M188 1198h0M181 1268h0M142 1286h0M187 1202h0M147 1203h0M89 1190h0M164 1237h0M93 1172h0M138 1203h0M139 1231h0M160 1198h0M133 1266h0M98 1229h0M126 1204h0M187 1172h0M111 1194h0M124 1213h0M193 1183h0M142 1271h0M113 1209h0M85 1227h0M180 1149h0M131 1171h0M133 1126h0M193 1332h0M141 1260h0M109 1167h0M112 1133h0M125 1183h0M169 1317h0M107 1206h0M196 1186h0M103 1167h0M171 1326h0M128 1196h0M175 1276h0M164 1293h0M168 1221h0M157 1310h0M97 1235h0M203 1248h0M144 1269h0M167 1286h0M139 1177h0M170 1217h0M188 1253h0M206 1166h0M130 1293h0M139 1238h0M142 1260h0M99 1234h0M181 1298h0M147 1168h0M244 1313h0M124 1261h0M167 1234h0M120 1202h0M73 1169h0M123 1268h0M166 1167h0M215 1160h0M163 1317h0M205 1192h0M85 1186h0M151 1207h0M81 1181h0M190 1249h0M107 1194h0" stroke="#b95e22" stroke-width="3.6" stroke-linecap="round" stroke-opacity="0.78"/>
<path transform="scale(0.25)" d="M346 1294h0M188 1274h0M268 1222h0M183 1252h0M243 1273h0M330 1202h0M284 1259h0M350 1215h0M260 1271h0M331 1214h0M347 1266h0M294 1269h0M249 1236h0M347 1215h0M198 1299h0M205 1325h0M273 1300h0M332 1239h0M267 1225h0M286 1263h0M165 1177h0M320 1192h0M281 1281h0M188 1264h0M302 1194h0M282 1297h0M343 1202h0M313 1202h0M324 1288h0M218 1239h0M205 1224h0M360 1197h0M352 1250h0M321 1258h0M164 1295h0M251 1214h0M303 1270h0M259 1260h0M252 1241h0M326 1256h0M396 1236h0M322 1289h0M235 1186h0M252 1295h0M256 1303h0M322 1187h0M256 1287h0M191 1251h0M218 1191h0M278 1257h0M237 1312h0M374 1242h0M326 1187h0M230 1307h0M140 1306h0M285 1171h0M333 1294h0M231 1271h0M220 1302h0M306 1246h0M275 1170h0M295 1280h0M342 1253h0M238 1179h0M246 1314h0M244 1227h0M237 1200h0M281 1245h0M319 1180h0M339 1290h0M280 1291h0M263 1200h0M246 1231h0M253 1315h0M225 1327h0M209 1290h0M299 1177h0M335 1276h0M326 1298h0M341 1181h0M334 1230h0M337 1167h0M275 1207h0M328 1201h0M231 1290h0M283 1242h0M201 1292h0M221 1232h0M256 1218h0M315 1198h0M309 1237h0M287 1263h0M341 1266h0M370 1244h0M166 1231h0M261 1317h0M283 1294h0M300 1258h0M269 1184h0M384 1261h0M209 1316h0M275 1197h0M213 1292h0M328 1219h0M266 1288h0M352 1217h0M252 1310h0M274 1219h0M346 1218h0M368 1255h0M236 1306h0M351 1298h0M316 1225h0M333 1250h0M308 1303h0M338 1208h0M232 1196h0M349 1196h0M200 1238h0M246 1216h0M263 1257h0M205 1335h0M326 1209h0M194 1249h0M283 1196h0M261 1243h0M272 1163h0M321 1298h0M377 1229h0M246 1308h0M281 1212h0M184 1260h0M244 1197h0M284 1224h0M232 1243h0M338 1241h0M336 1228h0M410 1256h0M349 1242h0M178 1260h0M367 1248h0M208 1183h0M274 1269h0M232 1225h0M365 1297h0M275 1308h0M155 1280h0M337 1292h0M296 1276h0M379 1249h0" stroke="#e98a35" stroke-width="3.6" stroke-linecap="round" stroke-opacity="0.78"/>
<path transform="scale(0.25)" d="M252 1304h0M337 1275h0M404 1288h0M296 1263h0M356 1242h0M318 1216h0M208 1169h0M235 1323h0M237 1219h0M230 1290h0M242 1318h0M334 1243h0M165 1249h0M309 1237h0M240 1219h0M266 1186h0M351 1263h0M334 1247h0M335 1241h0M316 1200h0M255 1294h0M325 1258h0M204 1301h0M346 1291h0M343 1305h0M354 1262h0M269 1284h0M279 1242h0M348 1247h0M236 1235h0M292 1189h0M312 1166h0M213 1314h0M321 1184h0M219 1295h0M225 1195h0M305 1259h0M362 1228h0M230 1303h0M190 1200h0M337 1215h0M325 1219h0M358 1271h0M315 1256h0M391 1236h0M336 1176h0M289 1226h0M298 1298h0M300 1281h0M249 1316h0M340 1230h0M261 1278h0M231 1242h0M300 1204h0M296 1190h0M356 1290h0M361 1257h0M262 1255h0M292 1268h0M179 1251h0M338 1222h0M277 1226h0M294 1280h0M302 1285h0M224 1263h0M302 1269h0M398 1273h0M322 1262h0M303 1263h0M250 1234h0M146 1228h0M306 1188h0M350 1206h0M370 1235h0M267 1240h0M395 1231h0M185 1275h0M243 1274h0M349 1288h0M214 1250h0M284 1247h0M343 1259h0M345 1297h0M304 1278h0M315 1277h0M299 1184h0M191 1247h0M193 1295h0M291 1197h0M327 1208h0M376 1280h0M196 1233h0M366 1264h0M180 1253h0M372 1273h0M241 1254h0M213 1328h0M332 1310h0M364 1202h0M323 1284h0M313 1209h0M270 1184h0M337 1282h0M325 1189h0M238 1214h0M413 1205h0M381 1228h0M335 1172h0M229 1235h0M327 1189h0M304 1220h0M276 1279h0M361 1214h0M338 1299h0M226 1253h0M256 1288h0M331 1209h0M300 1309h0M277 1287h0M297 1196h0M164 1330h0M308 1270h0M257 1210h0M240 1264h0M421 1259h0M354 1209h0M311 1281h0M220 1191h0M215 1238h0M373 1197h0M264 1258h0M277 1264h0M204 1292h0M279 1228h0M276 1246h0M248 1219h0M214 1237h0M261 1184h0M217 1293h0M229 1274h0M397 1239h0M297 1274h0M215 1311h0M173 1321h0M350 1281h0M278 1205h0M265 1254h0M245 1216h0M176 1272h0M304 1210h0" stroke="#e98a35" stroke-width="3.6" stroke-linecap="round" stroke-opacity="0.78"/>
<path transform="scale(0.25)" d="M169 1103h0M97 1162h0M98 1113h0M168 1168h0M146 1106h0M152 1111h0M129 1119h0M175 1168h0M109 1095h0M154 1080h0M128 1051h0M188 1035h0M99 1103h0M192 1032h0M110 1172h0M177 1033h0M229 1128h0M145 1050h0M110 1151h0M171 1165h0M113 1123h0M168 1157h0M99 1122h0M195 1079h0M150 1154h0M192 1144h0M121 1057h0M160 1157h0M111 1082h0M75 1147h0M183 1134h0M192 1045h0M82 1118h0M77 1136h0M85 1076h0M172 1107h0M176 1135h0M140 1053h0M111 1137h0M218 1065h0M101 1118h0M84 1100h0M177 1043h0M163 1112h0M117 1080h0M180 1133h0M149 1033h0M120 1048h0M167 1069h0M157 1157h0M183 1071h0M244 1106h0M175 1050h0M128 1081h0M111 1098h0M94 1057h0M72 1182h0M102 1047h0M237 1123h0M109 1111h0M98 1057h0M141 1135h0M175 1118h0M102 1047h0M141 1122h0M151 1109h0M93 1081h0M79 1167h0M112 1180h0M91 1073h0M192 1121h0M112 1119h0M179 1093h0M80 1112h0M80 1128h0M112 1064h0M154 1091h0M169 1071h0M149 1029h0M203 1087h0M162 1069h0M171 1119h0M157 1028h0M220 1161h0M90 1123h0M160 1043h0M85 1065h0M134 1120h0M172 1084h0M113 1119h0M88 1087h0M170 1031h0M147 1087h0M82 1144h0M159 1106h0M76 1096h0M108 1081h0M85 1108h0M151 1061h0M135 1057h0M177 1067h0M139 1168h0M71 1137h0M223 1146h0M143 1069h0M137 1031h0M153 1039h0M111 1096h0M120 1075h0M119 1084h0M118 1122h0M168 1062h0M174 1065h0M92 1187h0M100 1170h0M178 1085h0M143 1093h0M112 1157h0M143 1047h0M98 1154h0M205 1105h0M140 1072h0M129 1054h0M133 1153h0M109 1152h0M164 1182h0M225 1070h0M163 1118h0M138 1113h0M143 1159h0M77 1128h0M178 1059h0M186 1073h0M157 1182h0M173 1101h0M215 1084h0M120 1098h0M198 1083h0M159 1136h0M154 1114h0M141 1153h0M90 1110h0M228 1171h0M141 1039h0M100 1074h0M226 1032h0M123 1087h0M78 1100h0M92 1061h0M114 1129h0" stroke="#34509e" stroke-width="3.6" stroke-linecap="round" stroke-opacity="0.78"/>
<path transform="scale(0.25)" d="M286 1245h0M316 1268h0M251 1237h0M211 1309h0M374 1229h0M265 1299h0M333 1209h0M214 1239h0M326 1226h0M268 1225h0M145 1256h0M334 1196h0M370 1249h0M193 1283h0M217 1206h0M291 1280h0M304 1212h0M337 1194h0M298 1271h0M182 1230h0M182 1229h0M144 1276h0M302 1271h0M367 1243h0M303 1184h0M238 1315h0M266 1231h0M264 1268h0M215 1257h0M263 1193h0M273 1181h0M215 1281h0M238 1250h0M349 1184h0M242 1263h0M307 1240h0M162 1265h0M335 1236h0M441 1289h0M259 1311h0M343 1298h0M379 1275h0M245 1324h0M146 1315h0M354 1222h0M332 1212h0M318 1286h0M308 1307h0M216 1245h0M224 1301h0M159 1278h0M213 1234h0M244 1262h0M376 1277h0M298 1213h0M230 1237h0M308 1281h0M285 1275h0M305 1305h0M332 1262h0M296 1305h0M324 1271h0M239 1300h0M289 1285h0M272 1194h0M269 1290h0M192 1319h0M245 1243h0M250 1302h0M292 1213h0M312 1303h0M328 1192h0M328 1258h0M281 1265h0M302 1221h0M325 1255h0M184 1282h0M326 1280h0M318 1305h0M369 1204h0M265 1225h0M188 1281h0M189 1265h0M170 1313h0M422 1239h0M375 1227h0M191 1259h0M212 1196h0M317 1272h0M302 1275h0M334 1262h0M365 1252h0M240 1256h0M261 1264h0M332 1181h0M239 1187h0M208 1255h0M301 1252h0M251 1203h0M331 1256h0M263 1240h0M280 1266h0M196 1257h0M246 1319h0M317 1298h0M367 1259h0M318 1269h0M253 1314h0M227 1243h0M225 1251h0M223 1324h0M321 1284h0M228 1270h0M251 1220h0M302 1289h0M296 1250h0M282 1211h0M234 1303h0M250 1231h0M316 1288h0M280 1297h0M358 1266h0M354 1256h0M271 1279h0M242 1207h0M212 1299h0M308 1234h0M255 1308h0M232 1251h0M318 1228h0M210 1249h0M248 1262h0M367 1280h0M240 1294h0M231 1307h0M347 1229h0M231 1212h0M343 1244h0M324 1230h0M214 1279h0M230 1265h0M177 1250h0M229 1189h0M297 1217h0M203 1195h0M259 1279h0M343 1296h0M318 1226h0M301 1296h0M139 1238h0" stroke="#e98a35" stroke-width="3.6" stroke-linecap="round" stroke-opacity="0.78"/>
<path transform="scale(0.25)" d="M216 1126h0M277 1052h0M332 1117h0M349 1113h0M349 1158h0M237 1163h0M403 1083h0M249 1143h0M288 1073h0M366 1057h0M145 1065h0M430 1132h0M406 1053h0M335 1166h0M299 1113h0M228 1126h0M269 1084h0M412 1099h0M240 1094h0M380 1163h0M283 1132h0M248 1158h0M326 1034h0M220 1123h0M277 1114h0M333 1135h0M105 1104h0M308 1042h0M389 1047h0M239 1072h0M243 1078h0M299 1118h0M371 1150h0M277 1145h0M324 1093h0M406 1150h0M232 1092h0M124 1041h0M324 1071h0M230 1067h0M316 1120h0M309 1104h0M391 1160h0M216 1087h0M206 1046h0M241 1092h0M274 1135h0M281 1035h0M345 1121h0M348 1138h0M246 1082h0M351 1117h0M329 1132h0M260 1185h0M374 1062h0M268 1063h0M200 1092h0M340 1034h0M149 1125h0M296 1100h0M147 1146h0M254 1065h0M284 1136h0M351 1096h0M205 1154h0M351 1091h0M125 1049h0M279 1097h0M310 1047h0M235 1153h0M282 1122h0M239 1112h0M270 1050h0M419 1070h0M265 1083h0M320 1184h0M277 1038h0M215 1138h0M209 1066h0M391 1111h0M354 1035h0M325 1178h0M287 1126h0M203 1064h0M177 1109h0M340 1077h0M277 1035h0M358 1136h0M236 1049h0M351 1101h0M232 1033h0M262 1041h0M229 1090h0M310 1045h0M306 1207h0M174 1089h0M417 1072h0M284 1066h0M297 1098h0M358 1068h0M250 1085h0M192 1125h0M292 1191h0M276 1142h0M246 1083h0M234 1103h0M292 1067h0M286 1156h0M172 1096h0M358 1065h0M224 1091h0M313 1125h0M254 1124h0M346 1038h0M276 1035h0M312 1107h0M355 1146h0M382 1070h0M212 1166h0M280 1182h0M377 1068h0M211 1128h0M211 1137h0M214 1049h0M228 1143h0M310 1145h0M230 1066h0M409 1088h0M420 1130h0M338 1111h0M138 1112h0M308 1109h0M357 1163h0M290 1082h0M264 1134h0M314 1124h0M310 1066h0M236 1153h0M429 1095h0M178 1152h0M385 1053h0M198 1059h0M330 1079h0M238 1130h0M356 1105h0M184 1131h0M356 1157h0M290 1045h0M284 1091h0M218 1051h0" stroke="#98c4c8" stroke-width="3.6" stroke-linecap="round" stroke-opacity="0.78"/>
<path transform="scale(0.25)" d="M391 1055h0M365 1129h0M368 1107h0M271 1052h0M389 1037h0M293 1146h0M277 1100h0M334 1095h0M339 1100h0M301 1086h0M235 1126h0M262 1116h0M281 1087h0M439 1100h0M271 1072h0M371 1036h0M281 1077h0M193 1108h0M266 1140h0M295 1146h0M284 1054h0M266 1155h0M292 1103h0M309 1112h0M289 1042h0M137 1036h0M272 1073h0M227 1032h0M227 1073h0M160 1135h0M308 1080h0M290 1136h0M330 1067h0M269 1136h0M275 1053h0M320 1062h0M199 1091h0M204 1056h0M352 1073h0M318 1106h0M180 1092h0M292 1103h0M221 1051h0M354 1085h0M446 1086h0M385 1040h0M295 1033h0M184 1102h0M277 1146h0M136 1047h0M267 1045h0M221 1109h0M337 1072h0M346 1105h0M296 1099h0M406 1128h0M202 1174h0M390 1078h0M286 1171h0M376 1057h0M262 1115h0M342 1067h0M254 1057h0M275 1106h0M348 1145h0M359 1096h0M214 1039h0M232 1185h0M235 1129h0M381 1098h0M281 1078h0M306 1054h0M228 1056h0M379 1040h0M442 1064h0M389 1054h0M295 1045h0M176 1080h0M460 1105h0M369 1077h0M232 1096h0M222 1152h0M366 1059h0M219 1160h0M306 1048h0M329 1120h0M315 1150h0M289 1179h0M347 1057h0M347 1087h0M296 1095h0M276 1050h0M317 1189h0M254 1156h0M395 1036h0M525 1157h0M133 1131h0M174 1048h0M316 1085h0M332 1102h0M405 1085h0M246 1119h0M287 1040h0M221 1128h0M397 1091h0M318 1078h0M371 1054h0M311 1160h0M178 1042h0M311 1126h0M236 1091h0M369 1102h0M270 1176h0M352 1164h0M180 1134h0M370 1077h0M148 1107h0M182 1111h0M200 1066h0M245 1113h0M431 1056h0M204 1047h0M202 1038h0M289 1045h0M218 1184h0M336 1146h0M304 1054h0M140 1056h0M300 1141h0M244 1087h0M309 1161h0M346 1138h0M225 1032h0M248 1146h0M218 1135h0M283 1106h0M301 1077h0M345 1044h0M264 1148h0M208 1110h0M202 1065h0M343 1155h0M204 1148h0M379 1061h0M277 1056h0M318 1153h0M180 1094h0M326 1172h0M382 1098h0M358 1055h0" stroke="#98c4c8" stroke-width="3.6" stroke-linecap="round" stroke-opacity="0.78"/>
<path transform="scale(0.25)" d="M491 1113h0M559 1092h0M352 1194h0M527 1065h0M458 1067h0M517 1148h0M417 1175h0M407 1165h0M553 1109h0M499 1166h0M394 1080h0M593 1123h0M368 1121h0M380 1111h0M448 1100h0M552 1161h0M562 1170h0M416 1113h0M461 1103h0M535 1169h0M538 1147h0M490 1118h0M543 1067h0M492 1151h0M364 1099h0M459 1144h0M521 1183h0M419 1065h0M412 1083h0M473 1063h0M585 1157h0M459 1225h0M408 1108h0M581 1077h0M556 1154h0M564 1113h0M583 1102h0M372 1153h0M460 1106h0M413 1101h0M520 1072h0M404 1111h0M399 1127h0M569 1166h0M578 1136h0M552 1106h0M462 1094h0M467 1097h0M345 1194h0M465 1136h0M397 1174h0M517 1190h0M305 1190h0M565 1102h0M494 1177h0M554 1068h0M398 1198h0M462 1149h0M521 1168h0M421 1180h0M518 1150h0M544 1070h0M511 1120h0M357 1116h0M464 1130h0M480 1118h0M465 1108h0M458 1154h0M466 1179h0M479 1137h0M347 1183h0M582 1114h0M476 1074h0M553 1099h0M519 1144h0M483 1179h0M410 1050h0M472 1136h0M519 1106h0M411 1097h0M561 1153h0M395 1118h0M468 1170h0M503 1075h0M382 1075h0M527 1178h0M518 1138h0M593 1119h0M493 1090h0M508 1098h0M416 1058h0M459 1171h0M398 1069h0M424 1140h0M354 1158h0M415 1109h0M397 1097h0M589 1114h0M438 1064h0M586 1102h0M527 1102h0M403 1114h0M574 1086h0M427 1092h0M496 1190h0M480 1123h0M435 1170h0M395 1131h0M489 1134h0M601 1096h0M391 1164h0M506 1082h0M555 1174h0M395 1116h0M555 1179h0M548 1150h0M485 1151h0M416 1083h0M603 1105h0M397 1084h0M337 1155h0M502 1145h0M432 1066h0M467 1137h0M443 1165h0M527 1100h0M438 1094h0M439 1144h0M538 1161h0M457 1076h0M358 1176h0M526 1096h0M583 1188h0M376 1081h0M332 1144h0M507 1071h0M597 1118h0M395 1149h0M451 1107h0M575 1173h0M519 1089h0M604 1108h0M568 1065h0M430 1169h0M393 1071h0M448 1084h0M441 1164h0M536 1093h0M436 1131h0M482 1064h0" stroke="#62a3ab" stroke-width="3.6" stroke-linecap="round" stroke-opacity="0.78"/>
<path transform="scale(0.25)" d="M376 1210h0M265 1228h0M264 1205h0M342 1205h0M324 1215h0M292 1246h0M312 1217h0M255 1245h0M280 1207h0M170 1218h0M176 1253h0M271 1275h0M328 1220h0M268 1204h0M297 1233h0M264 1192h0M341 1224h0M287 1287h0M392 1226h0M225 1285h0M307 1191h0M226 1192h0M242 1213h0M167 1258h0M224 1252h0M289 1251h0M306 1280h0M257 1266h0M226 1241h0M391 1223h0M290 1290h0M214 1304h0M307 1197h0M236 1245h0M265 1216h0M439 1219h0M317 1239h0M240 1291h0M240 1210h0M187 1320h0M97 1229h0M258 1256h0M239 1219h0M375 1212h0M356 1306h0M370 1193h0M256 1323h0M315 1198h0M304 1289h0M367 1288h0M432 1276h0M234 1224h0M266 1235h0M338 1292h0M215 1190h0M277 1287h0M321 1202h0M350 1195h0M202 1302h0M356 1302h0M193 1259h0M231 1241h0M288 1188h0M307 1202h0M196 1193h0M275 1223h0M229 1216h0M218 1327h0M308 1217h0M281 1249h0M386 1274h0M380 1252h0M315 1166h0M258 1291h0M188 1228h0M219 1164h0M217 1226h0M306 1265h0M353 1223h0M346 1272h0M257 1253h0M353 1260h0M318 1215h0M450 1203h0M265 1252h0M366 1292h0M191 1261h0M305 1239h0M205 1272h0M181 1228h0M286 1286h0M292 1290h0M216 1274h0M311 1254h0M261 1272h0M306 1283h0M360 1290h0M296 1312h0M324 1225h0M375 1290h0M382 1230h0M200 1298h0M396 1208h0M311 1301h0M204 1307h0M357 1245h0M416 1267h0M220 1287h0M349 1197h0M255 1255h0M388 1197h0M338 1263h0M250 1298h0M312 1210h0M164 1242h0M211 1265h0M209 1281h0M254 1231h0M203 1245h0M151 1264h0M353 1261h0M239 1304h0M304 1198h0M300 1180h0M284 1319h0M271 1203h0M321 1239h0M166 1239h0M258 1195h0M285 1219h0M366 1247h0M340 1281h0M300 1215h0M279 1269h0M196 1256h0M257 1287h0M181 1218h0M295 1248h0M417 1264h0M363 1214h0M218 1175h0M330 1294h0M237 1322h0M427 1304h0M360 1290h0M384 1273h0M335 1202h0M340 1208h0M239 1198h0M262 1176h0" stroke="#e98a35" stroke-width="3.6" stroke-linecap="round" stroke-opacity="0.78"/>
<path transform="scale(0.25)" d="M437 1237h0M453 1211h0M552 1192h0M442 1316h0M535 1188h0M417 1288h0M467 1230h0M401 1228h0M407 1204h0M431 1257h0M468 1285h0M425 1266h0M554 1228h0M416 1281h0M545 1202h0M427 1241h0M527 1208h0M438 1258h0M441 1244h0M477 1220h0M453 1299h0M557 1220h0M519 1194h0M572 1204h0M530 1219h0M411 1298h0M545 1223h0M443 1289h0M494 1243h0M506 1205h0M500 1168h0M448 1240h0M478 1284h0M463 1209h0M516 1244h0M519 1257h0M422 1267h0M375 1285h0M547 1188h0M447 1299h0M408 1244h0M566 1173h0M513 1210h0M366 1271h0M453 1180h0M495 1240h0M417 1211h0M505 1265h0M390 1188h0M445 1194h0M434 1221h0M463 1246h0M430 1195h0M486 1179h0M440 1209h0M503 1186h0M474 1239h0M405 1221h0M395 1269h0M513 1206h0M390 1250h0M410 1188h0M447 1298h0M471 1238h0M410 1175h0M485 1221h0M485 1270h0M467 1267h0M414 1197h0M422 1226h0M456 1243h0M441 1274h0M555 1208h0M464 1286h0M574 1175h0M418 1227h0M391 1189h0M379 1206h0M555 1249h0M490 1215h0M520 1181h0M378 1196h0M482 1220h0M388 1279h0M551 1252h0M381 1204h0M500 1276h0M457 1300h0M548 1181h0M494 1232h0M496 1232h0M487 1241h0M427 1263h0M558 1182h0M448 1180h0M420 1206h0M468 1306h0M507 1172h0M511 1227h0M545 1206h0M474 1218h0M522 1229h0M510 1222h0M521 1165h0M587 1187h0M469 1217h0M544 1203h0M382 1243h0M523 1214h0M559 1230h0M491 1228h0M523 1220h0M485 1199h0M515 1214h0M499 1283h0M504 1186h0M399 1174h0M490 1190h0M472 1237h0M439 1221h0M473 1242h0M495 1264h0M491 1255h0M543 1206h0M417 1275h0M425 1298h0M550 1252h0M422 1206h0M466 1131h0M544 1237h0M458 1215h0M455 1295h0M513 1195h0M511 1214h0M508 1228h0M386 1182h0M470 1137h0M506 1192h0M402 1182h0M526 1264h0M498 1256h0M512 1212h0M477 1265h0M434 1242h0M530 1180h0M403 1265h0M557 1232h0M465 1238h0M470 1198h0M460 1177h0" stroke="#4f80c6" stroke-width="3.6" stroke-linecap="round" stroke-opacity="0.78"/>
<path transform="scale(0.25)" d="M167 1080h0M151 1140h0M145 1085h0M105 1117h0M135 1062h0M88 1076h0M139 1163h0M115 1065h0M199 1085h0M93 1137h0M165 1164h0M190 1128h0M120 1141h0M178 1100h0M179 1065h0M98 1118h0M147 1063h0M200 1155h0M163 1115h0M152 1057h0M90 1069h0M240 1122h0M154 1081h0M211 1091h0M166 1064h0M98 1162h0M76 1116h0M166 1054h0M155 1061h0M100 1135h0M154 1063h0M80 1124h0M142 1087h0M69 1151h0M175 1118h0M89 1163h0M90 1163h0M99 1049h0M191 1117h0M170 1074h0M143 1179h0M102 1086h0M181 1034h0M122 1125h0M124 1098h0M169 1060h0M158 1133h0M123 1125h0M126 1054h0M186 1129h0M108 1135h0M183 1067h0M151 1127h0M132 1038h0M129 1072h0M89 1172h0M149 1119h0M143 1115h0M106 1121h0M190 1130h0M141 1031h0M108 1159h0M72 1168h0M110 1113h0M190 1090h0M97 1103h0M101 1086h0M76 1126h0M123 1102h0M172 1034h0M77 1149h0M102 1089h0M88 1084h0M103 1061h0M188 1118h0M140 1154h0M93 1082h0M82 1156h0M207 1135h0M143 1122h0M117 1040h0M148 1102h0M114 1098h0M125 1110h0M208 1042h0M222 1106h0M123 1122h0M184 1040h0M103 1119h0M168 1050h0M120 1076h0M90 1152h0M198 1117h0M95 1080h0M100 1088h0M80 1176h0M144 1043h0M134 1145h0M106 1133h0M124 1172h0M185 1118h0M135 1054h0M172 1060h0M199 1029h0M151 1045h0M79 1128h0M143 1136h0M138 1133h0M93 1060h0M131 1134h0M98 1134h0M170 1143h0M128 1071h0M142 1070h0M140 1094h0M175 1035h0M79 1132h0M92 1083h0M97 1049h0M94 1096h0M218 1138h0M89 1082h0M87 1102h0M211 1076h0M167 1033h0M160 1108h0M240 1139h0M110 1086h0M76 1145h0M161 1106h0M140 1146h0M109 1161h0M121 1126h0M136 1044h0M245 1068h0M165 1134h0M163 1107h0M132 1165h0M103 1093h0M101 1073h0M214 1088h0M84 1177h0M157 1078h0M196 1041h0M151 1085h0M150 1057h0M155 1082h0M134 1053h0M128 1040h0M187 1197h0" stroke="#34509e" stroke-width="3.6" stroke-linecap="round" stroke-opacity="0.78"/>
<path transform="scale(0.25)" d="M81 1115h0M116 1140h0M194 1164h0M138 1240h0M98 1233h0M78 1130h0M179 1237h0M206 1227h0M169 1172h0M201 1196h0M203 1215h0M130 1148h0M183 1185h0M177 1222h0M97 1194h0M202 1327h0M111 1170h0M200 1287h0M240 1127h0M123 1212h0M155 1283h0M107 1200h0M159 1261h0M137 1161h0M155 1156h0M144 1311h0M139 1268h0M110 1234h0M141 1301h0M142 1242h0M188 1307h0M109 1243h0M90 1172h0M116 1255h0M157 1198h0M163 1306h0M184 1192h0M219 1200h0M104 1139h0M136 1261h0M192 1182h0M73 1151h0M139 1306h0M119 1180h0M95 1164h0M156 1279h0M122 1194h0M139 1167h0M162 1305h0M129 1276h0M192 1264h0M84 1135h0M172 1228h0M181 1257h0M135 1175h0M278 1218h0M83 1170h0M147 1240h0M106 1190h0M202 1167h0M105 1177h0M157 1272h0M87 1201h0M188 1243h0M154 1185h0M166 1180h0M128 1153h0M217 1205h0M135 1291h0M176 1165h0M187 1272h0M183 1327h0M138 1242h0M160 1183h0M184 1170h0M115 1218h0M180 1291h0M99 1234h0M161 1179h0M154 1208h0M185 1328h0M125 1198h0M137 1215h0M103 1164h0M170 1200h0M201 1200h0M85 1229h0M136 1237h0M137 1185h0M158 1204h0M77 1091h0M121 1238h0M93 1191h0M165 1137h0M168 1324h0M117 1219h0M90 1195h0M130 1277h0M174 1263h0M95 1180h0M145 1308h0M93 1224h0M69 1153h0M164 1182h0M149 1290h0M178 1315h0M220 1251h0M178 1166h0M155 1298h0M159 1301h0M144 1251h0M149 1301h0M196 1304h0M114 1216h0M126 1181h0M167 1184h0M91 1174h0M191 1179h0M120 1174h0M155 1215h0M134 1152h0M141 1169h0M163 1139h0M175 1200h0M149 1152h0M193 1287h0M86 1152h0M113 1134h0M141 1262h0M153 1182h0M155 1324h0M190 1234h0M202 1275h0M124 1193h0M201 1293h0M193 1300h0M186 1156h0M160 1323h0M198 1247h0M143 1210h0M129 1236h0M108 1223h0M106 1196h0M129 1293h0M114 1234h0M80 1215h0M78 1190h0M88 1204h0M239 1190h0M203 1221h0" stroke="#b95e22" stroke-width="3.6" stroke-linecap="round" stroke-opacity="0.78"/>
<path transform="scale(0.25)" d="M199 1155h0M95 1074h0M131 1100h0M107 1054h0M182 1144h0M155 1093h0M171 1136h0M200 1085h0M113 1129h0M195 1105h0M176 1033h0M188 1097h0M123 1144h0M162 1162h0M141 1083h0M200 1095h0" stroke="#34509e" stroke-width="3.6" stroke-linecap="round" stroke-opacity="0.78"/>
<path transform="scale(0.25)" d="M295 1267h0M357 1304h0M241 1214h0M277 1234h0M294 1232h0M260 1184h0M314 1265h0M319 1157h0M389 1251h0M343 1268h0M318 1282h0M266 1172h0M269 1245h0M352 1197h0M253 1197h0M245 1312h0M245 1236h0M336 1213h0M300 1205h0M222 1269h0M234 1235h0M349 1234h0M276 1228h0M230 1152h0M309 1294h0M270 1221h0M235 1235h0M357 1268h0M218 1330h0M222 1253h0M308 1265h0M174 1309h0M250 1220h0M298 1257h0M372 1295h0M226 1280h0M187 1260h0M322 1207h0M319 1276h0M210 1224h0M259 1247h0M248 1313h0M306 1239h0M363 1235h0M190 1301h0M326 1252h0M265 1238h0M227 1207h0M215 1203h0M372 1220h0M300 1206h0M162 1275h0M413 1303h0M239 1254h0M259 1260h0M289 1259h0M227 1246h0M316 1184h0M378 1226h0M208 1251h0M306 1185h0M306 1216h0M244 1321h0M413 1279h0M252 1281h0M220 1234h0M256 1297h0M241 1185h0M293 1277h0M203 1219h0M266 1229h0M308 1225h0M298 1197h0M285 1298h0M288 1203h0M264 1207h0M213 1275h0M234 1230h0M290 1203h0M368 1222h0M209 1281h0M228 1257h0M235 1275h0M336 1300h0M346 1191h0M310 1236h0M244 1187h0M235 1302h0M265 1265h0M235 1262h0M232 1235h0M240 1249h0M312 1290h0M257 1250h0M303 1243h0M309 1285h0M211 1262h0M314 1280h0M329 1256h0M241 1323h0M237 1305h0M357 1252h0M263 1244h0M372 1160h0M243 1211h0M181 1245h0M280 1210h0M201 1241h0M226 1227h0M195 1279h0M208 1255h0M234 1281h0M290 1306h0M303 1218h0M181 1220h0M323 1181h0M355 1194h0M395 1190h0M323 1216h0M268 1308h0M237 1228h0M319 1264h0M359 1235h0M318 1199h0M205 1306h0M270 1234h0M288 1272h0M286 1241h0M363 1285h0M300 1194h0M319 1285h0M255 1244h0M184 1269h0M278 1268h0M258 1202h0M245 1179h0M301 1298h0M406 1193h0M394 1217h0M188 1244h0M279 1225h0M252 1232h0M285 1211h0M270 1280h0M320 1190h0M264 1221h0M261 1221h0M210 1224h0M297 1305h0M202 1232h0" stroke="#e98a35" stroke-width="3.6" stroke-linecap="round" stroke-opacity="0.78"/>
<path transform="scale(0.25)" d="M326 1073h0M250 1142h0M210 1103h0M299 1079h0M278 1070h0M339 1047h0M393 1100h0M220 1167h0M324 1127h0M263 1185h0M221 1146h0M265 1143h0M218 1157h0M355 1059h0M260 1095h0M348 1125h0M208 1127h0M238 1113h0M165 1152h0M411 1077h0M224 1157h0M329 1137h0M375 1132h0M204 1071h0M393 1041h0M266 1159h0M213 1080h0M473 1068h0M295 1095h0M367 1137h0M288 1159h0M368 1129h0M227 1143h0M279 1115h0M225 1065h0M167 1063h0M237 1143h0M378 1081h0M302 1140h0M271 1058h0M384 1106h0M330 1157h0M212 1077h0M208 1123h0M302 1069h0M191 1065h0M326 1067h0M240 1033h0M263 1095h0M266 1147h0M297 1074h0M250 1104h0M197 1110h0M354 1140h0M230 1059h0M382 1044h0M209 1061h0M322 1135h0M265 1156h0M335 1100h0M277 1087h0M297 1093h0M286 1037h0M189 1089h0M229 1106h0M328 1116h0M330 1099h0M233 1084h0M227 1074h0M208 1063h0M209 1141h0M233 1068h0M246 1054h0M310 1182h0M325 1081h0M409 1066h0M342 1077h0M290 1071h0M134 1036h0M327 1089h0M299 1140h0M204 1034h0M217 1153h0M358 1045h0M390 1116h0M321 1162h0M246 1167h0M282 1113h0M256 1069h0M271 1152h0M265 1102h0M344 1134h0M362 1039h0M361 1106h0M353 1170h0M266 1058h0M289 1073h0M317 1047h0M285 1102h0M526 1080h0M248 1055h0M314 1178h0M446 1083h0M337 1079h0M169 1055h0M378 1053h0M211 1114h0M318 1079h0M336 1158h0M379 1066h0M306 1167h0M353 1131h0M154 1099h0M242 1085h0M225 1088h0M278 1139h0M402 1084h0M194 1120h0M382 1074h0M249 1154h0M134 1083h0M359 1062h0M201 1060h0M251 1123h0M322 1079h0M162 1054h0M248 1075h0M304 1040h0M335 1163h0M285 1105h0M350 1131h0M268 1087h0M351 1140h0M271 1099h0M224 1168h0M334 1047h0M369 1056h0M306 1135h0M254 1094h0M282 1068h0M354 1042h0M313 1171h0M304 1041h0M359 1074h0M378 1071h0M242 1079h0M315 1084h0M291 1076h0M308 1049h0M412 1064h0" stroke="#98c4c8" stroke-width="3.6" stroke-linecap="round" stroke-opacity="0.78"/>
<path transform="scale(0.25)" d="M303 1439h0M282 1446h0M318 1433h0M319 1439h0M302 1439h0M295 1444h0M326 1420h0M312 1443h0M297 1440h0M292 1394h0M274 1361h0M321 1434h0M330 1428h0M305 1428h0M286 1434h0M354 1418h0M308 1440h0M313 1447h0M324 1432h0M294 1409h0M289 1401h0M303 1400h0M273 1359h0M320 1407h0M300 1406h0M282 1385h0M310 1436h0M357 1440h0M313 1443h0M289 1397h0M303 1411h0M290 1392h0M300 1423h0M318 1423h0M301 1436h0M290 1398h0M303 1415h0M287 1378h0M313 1432h0M326 1432h0M310 1445h0M306 1447h0M315 1413h0M291 1381h0M297 1404h0M309 1446h0M281 1372h0M285 1375h0M305 1442h0M311 1433h0M294 1373h0M291 1392h0M288 1388h0M310 1433h0M294 1396h0M304 1396h0M306 1436h0M316 1425h0M297 1404h0M306 1433h0M276 1389h0M281 1379h0M318 1430h0M305 1428h0M301 1427h0M321 1437h0M279 1364h0M295 1400h0M315 1435h0M309 1431h0M291 1403h0M334 1412h0M336 1426h0M311 1432h0M314 1439h0M319 1436h0M297 1409h0M285 1387h0M310 1445h0M310 1424h0M304 1431h0M320 1425h0M344 1432h0M291 1447h0M308 1443h0M356 1426h0M290 1383h0M305 1446h0M319 1437h0M345 1429h0" stroke="#63b545" stroke-width="3.6" stroke-linecap="round" stroke-opacity="0.78"/>
<path transform="scale(0.25)" d="M282 1341h0M277 1353h0M259 1333h0M261 1309h0M277 1319h0M286 1317h0M277 1323h0M275 1329h0M265 1315h0M298 1309h0M289 1317h0M293 1304h0M278 1358h0M277 1352h0M269 1349h0M295 1307h0M288 1325h0M283 1323h0M262 1316h0M284 1360h0M282 1348h0M275 1302h0M269 1339h0M272 1315h0M287 1331h0M280 1342h0M264 1302h0M285 1343h0M280 1349h0M285 1341h0M273 1293h0M277 1314h0M272 1329h0M288 1312h0M258 1311h0M270 1334h0M276 1314h0M282 1332h0M285 1334h0M291 1311h0M269 1309h0M270 1307h0M279 1304h0M279 1322h0M270 1319h0M269 1321h0M279 1352h0M274 1305h0M288 1304h0M270 1327h0M269 1308h0M278 1357h0M267 1300h0M284 1321h0M267 1307h0M286 1324h0M277 1304h0M282 1344h0M287 1319h0M271 1337h0M286 1318h0M265 1321h0M270 1332h0M274 1336h0M273 1353h0M286 1306h0M282 1353h0M289 1335h0M270 1302h0M274 1324h0M290 1319h0M285 1354h0M277 1344h0M268 1319h0" stroke="#bf3535" stroke-width="3.6" stroke-linecap="round" stroke-opacity="0.78"/>
<path transform="scale(0.25)" d="M356 1063h0M157 1069h0M291 1091h0M354 1039h0M305 1085h0M335 1046h0M270 1073h0M357 1113h0M379 1136h0M333 1039h0M280 1068h0M321 1156h0M302 1144h0M377 1073h0M188 1088h0M342 1107h0M329 1047h0M337 1170h0M279 1108h0M86 1098h0M234 1049h0M341 1124h0M165 1075h0M245 1147h0M304 1059h0M296 1126h0M205 1086h0M255 1037h0M164 1150h0M192 1114h0M204 1069h0M347 1162h0M300 1088h0M269 1063h0M388 1036h0M353 1134h0M319 1046h0M210 1142h0M223 1081h0M366 1135h0M149 1051h0M264 1137h0M368 1061h0M318 1143h0M362 1127h0M397 1158h0M373 1056h0M238 1116h0M323 1081h0M290 1171h0M283 1114h0M351 1051h0M318 1142h0M303 1134h0M251 1118h0M226 1124h0M325 1057h0M210 1068h0M379 1100h0M305 1125h0M298 1080h0M244 1058h0M313 1051h0M155 1066h0M261 1140h0M264 1084h0M247 1099h0M210 1084h0M376 1118h0M273 1102h0M417 1188h0M248 1114h0M358 1079h0M340 1168h0M295 1053h0M305 1168h0M230 1161h0M235 1051h0M260 1116h0M404 1045h0M389 1188h0M338 1165h0M262 1158h0M211 1091h0M257 1121h0M328 1125h0M286 1076h0M233 1130h0M241 1033h0M252 1066h0M249 1136h0M250 1126h0M384 1092h0M292 1081h0M293 1062h0M317 1165h0M216 1034h0" stroke="#98c4c8" stroke-width="3.6" stroke-linecap="round" stroke-opacity="0.78"/>
<path transform="scale(0.25)" d="M536 1093h0M373 1115h0M435 1120h0M515 1158h0M470 1114h0M478 1078h0M427 1166h0M392 1089h0M411 1135h0M472 1153h0M580 1191h0M569 1189h0M568 1070h0M517 1122h0M459 1067h0M614 1127h0M548 1137h0M353 1171h0M511 1066h0M428 1121h0M474 1152h0M419 1153h0M538 1128h0M550 1171h0M499 1093h0M546 1116h0M525 1161h0M454 1179h0M477 1107h0M435 1062h0M562 1143h0M478 1188h0M348 1086h0M501 1120h0M351 1120h0M600 1114h0M503 1152h0M586 1094h0M572 1141h0M482 1087h0M542 1127h0M458 1122h0M520 1147h0M589 1125h0M606 1106h0M442 1146h0M423 1147h0M478 1132h0M600 1155h0M419 1105h0M447 1156h0M571 1090h0M452 1128h0M461 1179h0M529 1088h0M536 1096h0M534 1189h0M384 1116h0M575 1164h0M461 1182h0M414 1139h0M364 1186h0M525 1106h0M554 1075h0M501 1127h0M597 1132h0M540 1138h0M418 1142h0M377 1063h0M554 1132h0M490 1080h0M416 1081h0M404 1130h0M386 1164h0M467 1191h0M502 1116h0M442 1095h0M405 1078h0M545 1073h0M472 1111h0M502 1102h0M533 1194h0M448 1105h0M565 1088h0M533 1145h0M468 1062h0M483 1065h0M520 1086h0M401 1138h0M587 1115h0M559 1127h0M456 1080h0M539 1122h0M355 1035h0M429 1079h0M555 1103h0M459 1064h0M490 1176h0M357 1161h0M433 1134h0M509 1157h0M512 1210h0M448 1155h0M396 1171h0M501 1168h0M536 1135h0M387 1150h0M408 1067h0M353 1142h0M400 1196h0M391 1147h0M484 1116h0M531 1128h0M573 1097h0M592 1170h0M367 1136h0M560 1113h0M521 1085h0M512 1086h0M522 1166h0M432 1124h0M348 1043h0M401 1167h0M613 1127h0M508 1073h0M589 1158h0M496 1120h0M377 1119h0M304 1189h0M461 1066h0M367 1166h0M360 1174h0M333 1163h0M427 1098h0M439 1064h0M376 1114h0M346 1111h0M466 1119h0M522 1176h0M591 1109h0M549 1172h0M371 1174h0M568 1071h0M460 1096h0M536 1093h0M451 1087h0M564 1178h0M508 1087h0M494 1111h0M402 1113h0" stroke="#62a3ab" stroke-width="3.6" stroke-linecap="round" stroke-opacity="0.78"/>
<path transform="scale(0.25)" d="M133 1043h0M135 1045h0M104 1110h0M148 1089h0M161 1058h0M113 1153h0M144 1111h0M192 1093h0M95 1051h0M142 1149h0M101 1091h0M149 1029h0M146 1048h0M113 1044h0M89 1084h0M96 1134h0M96 1050h0M97 1162h0M72 1167h0M87 1133h0M118 1090h0M206 1141h0M140 1034h0M122 1053h0M99 1111h0M210 1105h0M120 1046h0M109 1122h0M99 1111h0M131 1053h0M120 1051h0M126 1163h0M87 1101h0M114 1129h0M149 1105h0M115 1051h0M199 1075h0M71 1150h0M89 1128h0M203 1155h0M109 1097h0M162 1110h0M144 1068h0M130 1107h0M171 1161h0M166 1133h0M78 1172h0M138 1146h0M144 1059h0M101 1055h0M152 1095h0M135 1047h0M140 1031h0M98 1111h0M121 1178h0M122 1139h0M179 1163h0M74 1135h0M272 1141h0M181 1042h0M95 1123h0M245 1079h0M123 1091h0M99 1083h0M144 1060h0M113 1163h0M80 1112h0M143 1044h0M134 1111h0M136 1130h0M88 1121h0M123 1176h0M189 1052h0M188 1085h0M138 1099h0M129 1057h0M136 1046h0M81 1083h0M83 1153h0M102 1083h0M155 1148h0M146 1039h0M108 1081h0M107 1065h0M141 1043h0M161 1112h0M209 1047h0M199 1141h0M158 1031h0M197 1129h0M139 1090h0M107 1055h0M143 1112h0M184 1132h0M105 1081h0M114 1056h0M93 1101h0M157 1092h0M73 1132h0M102 1046h0M151 1037h0M207 1044h0M115 1144h0M83 1107h0M134 1153h0M186 1097h0M253 1172h0M155 1046h0M101 1118h0M102 1110h0M85 1070h0M121 1109h0M92 1074h0M171 1067h0M118 1177h0M109 1044h0M127 1091h0M129 1197h0M206 1171h0M159 1133h0M132 1055h0M96 1070h0M95 1099h0M181 1088h0M155 1102h0M81 1147h0M159 1097h0M94 1121h0M124 1037h0M168 1103h0M123 1041h0M143 1058h0M111 1112h0M165 1094h0M133 1053h0M111 1046h0M115 1080h0M149 1083h0M123 1108h0M131 1097h0M97 1123h0M105 1134h0M178 1160h0M106 1093h0M96 1071h0M80 1104h0M108 1071h0M101 1114h0M87 1074h0M209 1122h0" stroke="#34509e" stroke-width="3.6" stroke-linecap="round" stroke-opacity="0.78"/>
<path transform="scale(0.25)" d="M530 1234h0M464 1281h0M456 1234h0M480 1254h0M496 1275h0M499 1209h0M337 1258h0M492 1186h0M457 1302h0M430 1318h0M542 1260h0M533 1173h0M521 1264h0M530 1244h0M414 1247h0M386 1241h0M541 1249h0M508 1244h0" stroke="#4f80c6" stroke-width="3.6" stroke-linecap="round" stroke-opacity="0.78"/>
<path transform="scale(0.25)" d="M371 1133h0M259 1047h0M318 1090h0M384 1182h0M321 1084h0M361 1128h0M261 1032h0M332 1088h0M264 1167h0M278 1088h0M265 1074h0M263 1057h0M200 1062h0M347 1119h0M260 1127h0M477 1112h0M318 1067h0M424 1070h0M274 1077h0M390 1107h0M176 1064h0M217 1070h0M252 1114h0M253 1105h0M269 1090h0M276 1135h0M303 1179h0M216 1146h0M348 1036h0M266 1131h0M322 1123h0M291 1086h0M326 1125h0M267 1045h0M174 1067h0M207 1070h0M364 1070h0M352 1052h0M272 1114h0M307 1052h0M277 1160h0M192 1074h0M295 1110h0M157 1037h0M273 1107h0M215 1129h0M297 1128h0M408 1107h0M308 1124h0M231 1171h0M220 1093h0M321 1043h0M210 1133h0M113 1113h0M220 1147h0M353 1110h0M271 1080h0M214 1142h0M264 1177h0M278 1139h0M347 1116h0M289 1135h0M335 1187h0M218 1085h0M297 1063h0M352 1082h0M214 1115h0M333 1048h0M385 1081h0M215 1106h0M359 1098h0M223 1038h0M251 1089h0M349 1090h0M438 1074h0M168 1038h0M279 1100h0M279 1063h0M367 1063h0M381 1072h0M230 1099h0M379 1046h0M377 1081h0M230 1067h0M146 1150h0M261 1138h0M168 1083h0M281 1097h0M306 1067h0M269 1086h0M239 1113h0M251 1111h0M214 1116h0M353 1081h0M295 1161h0M311 1124h0M316 1178h0M290 1162h0M454 1143h0M258 1130h0M346 1160h0M291 1060h0M306 1151h0M322 1075h0M339 1089h0M220 1146h0M173 1031h0M135 1063h0M256 1056h0M323 1073h0M392 1063h0M258 1102h0M183 1055h0M275 1046h0M290 1057h0M355 1091h0M210 1062h0M236 1034h0M381 1093h0M277 1165h0M378 1069h0M253 1149h0M222 1083h0M230 1078h0M211 1087h0M381 1107h0M315 1083h0M285 1141h0M340 1061h0M353 1111h0M322 1072h0M250 1156h0M204 1100h0M220 1107h0M289 1187h0M314 1157h0M255 1156h0M190 1121h0M345 1090h0M291 1087h0M169 1028h0M295 1158h0M347 1107h0M241 1044h0M372 1092h0M232 1135h0M289 1105h0M458 1064h0M364 1157h0M347 1081h0" stroke="#98c4c8" stroke-width="3.6" stroke-linecap="round" stroke-opacity="0.78"/>
<path transform="scale(0.25)" d="M437 1153h0M547 1082h0M502 1167h0M448 1121h0M554 1075h0M547 1119h0M433 1162h0M433 1158h0M603 1136h0M384 1154h0M584 1103h0M434 1109h0M518 1180h0M476 1148h0M498 1152h0M478 1145h0M518 1145h0M434 1079h0M593 1122h0M548 1111h0M330 1178h0M568 1100h0M422 1104h0M468 1106h0M595 1096h0M458 1070h0M589 1084h0M516 1191h0M341 1113h0M467 1155h0M572 1107h0M572 1076h0M354 1140h0M504 1133h0M477 1152h0M387 1188h0M611 1124h0M502 1145h0M475 1079h0M409 1168h0M541 1105h0M524 1083h0M350 1092h0M378 1119h0M380 1190h0M381 1096h0M474 1088h0M444 1126h0M579 1146h0M414 1075h0M418 1155h0M418 1059h0M515 1138h0M535 1154h0M607 1114h0M543 1144h0M431 1180h0M549 1126h0M468 1133h0M585 1084h0M607 1142h0M522 1101h0M352 1192h0M571 1088h0M431 1075h0M337 1174h0M470 1120h0M473 1119h0M408 1064h0M475 1074h0M435 1072h0M539 1116h0M550 1168h0M500 1183h0M550 1183h0M428 1123h0M360 1182h0M513 1173h0M373 1137h0M477 1157h0M498 1129h0M534 1092h0M471 1107h0M490 1150h0M566 1142h0M363 1177h0M414 1054h0M366 1141h0M601 1139h0M519 1102h0M524 1064h0M480 1171h0M577 1077h0M402 1126h0M557 1165h0M470 1135h0M489 1126h0M534 1091h0M557 1084h0M488 1169h0M483 1197h0M516 1068h0M559 1089h0M439 1173h0M535 1114h0M498 1125h0M398 1170h0M572 1110h0M399 1108h0M596 1141h0M421 1149h0M405 1135h0M487 1151h0M382 1175h0M486 1146h0M485 1200h0M598 1092h0M398 1063h0M545 1120h0M564 1184h0M559 1119h0M483 1115h0M449 1079h0M588 1079h0M518 1128h0M441 1099h0M413 1094h0M402 1116h0M597 1121h0M529 1066h0M529 1144h0M533 1126h0M480 1063h0M437 1146h0M340 1140h0M377 1121h0M411 1153h0M535 1139h0M397 1049h0M569 1092h0M450 1068h0M368 1106h0M544 1110h0M412 1080h0M480 1112h0M445 1184h0M451 1103h0M442 1068h0M354 1132h0M489 1153h0" stroke="#62a3ab" stroke-width="3.6" stroke-linecap="round" stroke-opacity="0.78"/>
<path transform="scale(0.25)" d="M453 1204h0M509 1222h0M490 1208h0M501 1238h0M537 1260h0M379 1230h0M496 1271h0M438 1246h0M402 1271h0M419 1289h0M482 1278h0M486 1207h0M385 1202h0M452 1311h0M448 1267h0M398 1210h0M420 1174h0M486 1174h0M382 1244h0M448 1256h0M473 1229h0M540 1254h0M535 1214h0M512 1261h0M489 1260h0M523 1275h0M498 1224h0M395 1218h0M488 1225h0M514 1265h0M393 1172h0M431 1271h0M515 1177h0M534 1264h0M453 1287h0M444 1268h0M441 1309h0M536 1245h0M463 1228h0M533 1246h0M445 1311h0M469 1248h0M498 1289h0M422 1245h0M444 1190h0M515 1241h0M366 1274h0M486 1276h0M490 1241h0M425 1314h0M456 1203h0M585 1197h0M446 1305h0M425 1263h0M324 1175h0M499 1282h0M561 1227h0M552 1234h0M547 1174h0M478 1287h0M503 1278h0M377 1259h0M493 1284h0M468 1221h0M475 1272h0M472 1222h0M469 1299h0M451 1186h0M501 1213h0M451 1220h0M455 1187h0M546 1176h0M411 1298h0M405 1243h0M501 1285h0M402 1167h0M454 1260h0M537 1256h0M554 1205h0M473 1232h0M509 1207h0M442 1288h0M533 1250h0M391 1241h0M516 1188h0M574 1213h0M525 1242h0M557 1202h0M544 1200h0M436 1202h0M438 1200h0M440 1309h0M422 1281h0M503 1276h0M467 1227h0M475 1165h0M342 1214h0M530 1226h0M475 1302h0M522 1168h0M323 1232h0M376 1230h0M398 1195h0M432 1298h0M510 1229h0M497 1267h0M427 1220h0M403 1280h0M425 1278h0M450 1203h0M422 1277h0M386 1204h0M380 1197h0M514 1272h0M455 1208h0M514 1211h0M425 1272h0M521 1242h0M501 1190h0M454 1220h0M431 1301h0M493 1242h0M404 1256h0M469 1255h0M506 1265h0M426 1202h0M454 1187h0M477 1297h0M555 1200h0M476 1199h0M417 1262h0M507 1215h0M482 1198h0M472 1171h0M404 1209h0M538 1236h0M417 1189h0M396 1204h0M505 1196h0M532 1161h0M431 1295h0M493 1271h0M514 1227h0M457 1179h0M375 1193h0M393 1248h0M511 1168h0M433 1315h0M478 1178h0M517 1212h0" stroke="#4f80c6" stroke-width="3.6" stroke-linecap="round" stroke-opacity="0.78"/>
<path transform="scale(0.25)" d="M177 1304h0M353 1197h0M217 1308h0M325 1202h0M306 1282h0M296 1248h0M218 1307h0M366 1293h0M320 1309h0M200 1257h0M377 1182h0M181 1275h0M301 1306h0M265 1233h0M325 1261h0M187 1257h0M305 1216h0M386 1244h0M285 1321h0M359 1231h0M313 1238h0M277 1254h0M247 1295h0M337 1301h0M243 1321h0M324 1282h0M373 1211h0M226 1307h0M347 1243h0M267 1162h0M381 1233h0M293 1216h0M299 1206h0M346 1169h0M167 1227h0M271 1247h0M226 1205h0M249 1248h0M318 1290h0M334 1236h0M289 1228h0M347 1242h0M303 1188h0M206 1240h0M251 1208h0M310 1218h0M365 1288h0M320 1261h0M314 1212h0M267 1276h0M238 1226h0M361 1213h0M193 1297h0M192 1231h0M228 1236h0M235 1205h0M246 1251h0M189 1328h0M371 1254h0M136 1300h0M264 1189h0M367 1295h0M248 1309h0M202 1244h0M355 1282h0M351 1194h0M344 1241h0M306 1275h0M329 1295h0M225 1182h0M220 1328h0M282 1170h0M226 1242h0M332 1292h0M196 1327h0M142 1248h0M297 1247h0M360 1212h0M358 1271h0M242 1272h0M195 1283h0M376 1200h0M264 1194h0M201 1291h0M315 1189h0M366 1210h0M218 1188h0M302 1283h0M250 1280h0M353 1225h0M348 1246h0M224 1244h0M343 1300h0M342 1226h0M296 1286h0M396 1236h0M324 1303h0M372 1251h0M300 1238h0M249 1199h0M336 1255h0M286 1188h0M224 1262h0M297 1177h0M227 1262h0M332 1241h0M268 1230h0M404 1212h0M278 1281h0M202 1250h0M172 1166h0M279 1274h0M334 1309h0M358 1148h0M213 1262h0M335 1177h0M200 1307h0M285 1268h0M294 1173h0M301 1223h0M308 1190h0M229 1317h0M231 1265h0M148 1309h0M291 1160h0M264 1317h0M346 1227h0M387 1233h0M316 1310h0M286 1188h0M259 1284h0M257 1323h0M353 1309h0M275 1228h0M330 1218h0M354 1208h0M263 1231h0M351 1297h0M213 1219h0M200 1334h0M392 1211h0M213 1265h0M301 1181h0M293 1216h0M221 1261h0M320 1170h0M252 1265h0M268 1217h0M294 1168h0M250 1272h0" stroke="#e98a35" stroke-width="3.6" stroke-linecap="round" stroke-opacity="0.78"/>
<path transform="scale(0.25)" d="M385 1438h0M375 1452h0M385 1424h0M374 1415h0M381 1425h0M380 1425h0M377 1411h0M384 1444h0M367 1433h0M377 1424h0M377 1419h0M372 1431h0M381 1451h0M371 1430h0M387 1443h0M374 1425h0M370 1424h0M371 1441h0M372 1422h0M377 1448h0M382 1448h0M381 1422h0M379 1452h0M371 1443h0M371 1431h0M386 1438h0M371 1427h0M378 1452h0M383 1429h0M384 1447h0M380 1424h0M370 1435h0M379 1416h0M377 1424h0M380 1453h0M376 1423h0M379 1451h0M375 1424h0M379 1455h0M370 1442h0M369 1428h0M378 1450h0M375 1455h0M379 1421h0M371 1429h0" stroke="#c9c92a" stroke-width="3.6" stroke-linecap="round" stroke-opacity="0.78"/>
<path transform="scale(0.25)" d="M162 1256h0M352 1307h0M197 1288h0M336 1238h0M154 1296h0M183 1241h0M228 1264h0M265 1279h0M220 1256h0M367 1240h0M305 1257h0M338 1270h0M250 1299h0M284 1272h0M273 1203h0M217 1299h0M275 1210h0M217 1203h0M333 1293h0M308 1235h0M365 1254h0M141 1255h0M193 1268h0M279 1243h0M303 1283h0M362 1295h0M261 1279h0M378 1226h0M193 1315h0M306 1196h0M311 1195h0M288 1295h0M304 1250h0M305 1301h0M318 1226h0M348 1284h0M177 1228h0M250 1200h0M211 1282h0M275 1252h0M214 1259h0M329 1265h0M150 1298h0M386 1281h0M350 1231h0M333 1200h0M288 1270h0M187 1297h0M157 1292h0M330 1283h0M385 1210h0M228 1264h0M333 1266h0M263 1180h0M288 1293h0M378 1287h0M224 1321h0M203 1273h0M284 1276h0M349 1311h0M289 1208h0M257 1315h0M179 1271h0M358 1199h0M253 1216h0M197 1205h0M310 1270h0M232 1319h0M244 1319h0M224 1262h0M279 1290h0M298 1281h0M275 1282h0M303 1307h0M351 1225h0M288 1182h0M261 1223h0M262 1222h0M296 1253h0M347 1196h0M254 1259h0M205 1305h0M310 1214h0M340 1235h0M269 1209h0M231 1290h0M250 1294h0M275 1188h0M296 1313h0M315 1254h0M203 1335h0M248 1221h0M257 1262h0M412 1218h0M311 1283h0M247 1258h0M244 1218h0M248 1323h0M214 1270h0" stroke="#e98a35" stroke-width="3.6" stroke-linecap="round" stroke-opacity="0.78"/>
<path transform="scale(0.25)" d="M394 1210h0M319 1077h0M257 1056h0M306 1152h0M172 1079h0M417 1090h0M220 1163h0M255 1089h0M195 1131h0M257 1127h0M279 1092h0M282 1101h0M325 1092h0M218 1146h0M254 1155h0M324 1121h0M191 1147h0M382 1108h0M330 1073h0M369 1137h0M365 1102h0M207 1109h0M322 1073h0M228 1143h0M309 1119h0M332 1132h0M284 1154h0M231 1056h0M272 1164h0M310 1068h0M250 1174h0M201 1127h0M324 1143h0M207 1141h0M283 1124h0M335 1083h0M335 1177h0M233 1169h0M295 1118h0M275 1090h0M397 1086h0M282 1087h0M231 1170h0M316 1165h0M337 1115h0M218 1077h0M280 1101h0M294 1178h0M388 1150h0M196 1130h0M185 1150h0M310 1119h0M321 1040h0M188 1110h0M216 1116h0M314 1051h0M301 1062h0M319 1132h0M247 1073h0M335 1102h0M337 1157h0M246 1115h0M255 1141h0M325 1138h0M191 1048h0M209 1064h0M311 1163h0M244 1169h0M380 1062h0M397 1075h0M150 1109h0M260 1163h0M231 1119h0M311 1133h0M333 1037h0M301 1123h0M299 1055h0M374 1070h0M326 1173h0M246 1134h0M362 1087h0M298 1157h0M309 1155h0M263 1123h0M358 1060h0M314 1063h0M310 1155h0M186 1093h0M411 1055h0M196 1114h0M235 1085h0M290 1165h0M232 1145h0M249 1044h0M347 1052h0M288 1038h0M314 1143h0M254 1137h0M202 1031h0M181 1098h0M374 1063h0M246 1161h0M240 1125h0M355 1051h0M186 1096h0M361 1120h0M180 1028h0M321 1087h0M292 1138h0M309 1043h0M279 1036h0M340 1155h0M340 1125h0M379 1066h0M305 1051h0M370 1100h0M285 1139h0M272 1111h0M251 1105h0M404 1043h0M199 1095h0M274 1078h0M346 1056h0M406 1088h0M256 1104h0M243 1107h0M275 1042h0M189 1043h0M299 1116h0M298 1097h0M248 1039h0M312 1081h0M238 1125h0M259 1138h0M264 1110h0M388 1078h0M327 1051h0M354 1170h0M327 1138h0M194 1032h0M286 1149h0M313 1146h0M326 1065h0M344 1160h0M221 1118h0M178 1070h0M302 1139h0M245 1120h0M260 1132h0M239 1080h0" stroke="#98c4c8" stroke-width="3.6" stroke-linecap="round" stroke-opacity="0.78"/>
<path transform="scale(0.25)" d="M375 1082h0M215 1163h0M289 1034h0M335 1046h0M310 1092h0M403 1067h0M406 1070h0M264 1077h0M245 1125h0M389 1065h0M263 1066h0M315 1083h0M240 1054h0M170 1070h0M241 1140h0M212 1095h0M243 1040h0M253 1086h0M181 1121h0M353 1143h0M263 1105h0M218 1128h0M293 1153h0M329 1131h0M232 1041h0M293 1040h0M216 1072h0M297 1143h0M246 1055h0M259 1035h0M300 1084h0M291 1071h0M268 1045h0M390 1125h0M275 1197h0M379 1069h0M301 1159h0M388 1155h0M399 1087h0M367 1072h0M387 1037h0M250 1126h0M212 1138h0M270 1148h0M358 1217h0M341 1049h0M349 1147h0M161 1163h0M195 1078h0M319 1165h0M209 1148h0M170 1087h0M298 1143h0M423 1099h0M287 1101h0M206 1113h0M250 1127h0M193 1144h0M266 1168h0M293 1058h0M214 1159h0M348 1185h0M227 1041h0M292 1082h0M255 1077h0M216 1053h0M416 1098h0M263 1130h0M285 1053h0M214 1061h0M203 1125h0M409 1069h0M357 1097h0M306 1158h0M247 1133h0M276 1171h0M338 1068h0M405 1054h0M247 1065h0M156 1059h0M242 1033h0M229 1117h0M291 1065h0M211 1060h0M212 1102h0M376 1054h0M332 1086h0M345 1154h0M315 1083h0M276 1032h0M256 1062h0M269 1081h0M355 1086h0M242 1140h0M223 1077h0M326 1079h0M208 1056h0M234 1174h0M422 1061h0M204 1086h0M285 1143h0M202 1149h0M239 1132h0M211 1126h0M300 1074h0M424 1071h0M207 1095h0M291 1141h0M338 1070h0M262 1052h0M252 1083h0M406 1116h0M424 1053h0M347 1105h0M312 1081h0M308 1110h0M228 1114h0M355 1139h0M377 1147h0M259 1155h0M295 1136h0M313 1137h0M273 1103h0M292 1131h0M343 1073h0M277 1106h0M249 1123h0M217 1080h0M188 1038h0M315 1185h0M369 1063h0M390 1036h0M354 1052h0M298 1053h0M248 1142h0M231 1124h0M289 1147h0M331 1151h0M374 1116h0M342 1033h0M280 1132h0M348 1110h0M234 1109h0M340 1121h0M252 1105h0M231 1088h0M245 1151h0M212 1051h0M206 1090h0M292 1102h0" stroke="#98c4c8" stroke-width="3.6" stroke-linecap="round" stroke-opacity="0.78"/>
<path transform="scale(0.25)" d="M464 1289h0M453 1287h0M431 1219h0M536 1230h0M544 1226h0M501 1216h0M388 1248h0M437 1233h0M427 1313h0M356 1173h0M498 1220h0M509 1213h0M504 1275h0M491 1277h0M429 1300h0M423 1212h0M382 1276h0M490 1278h0M447 1279h0M548 1215h0M515 1273h0M542 1182h0M507 1187h0M567 1235h0M461 1257h0M400 1253h0M498 1182h0M500 1259h0M510 1209h0M447 1295h0M482 1249h0M469 1267h0M424 1230h0M465 1236h0M452 1160h0M504 1247h0M416 1292h0M477 1213h0M335 1185h0M445 1284h0M541 1237h0M492 1222h0M503 1230h0M520 1247h0M409 1251h0M475 1227h0M516 1207h0M410 1153h0M478 1226h0M493 1292h0M425 1218h0M524 1274h0M565 1203h0M468 1283h0M505 1182h0M390 1204h0M422 1269h0M460 1287h0M556 1219h0M479 1178h0M451 1251h0M454 1230h0M571 1232h0M499 1174h0M427 1269h0M504 1287h0M496 1250h0M456 1236h0M565 1212h0M400 1222h0M521 1263h0M454 1292h0M390 1241h0M495 1271h0M521 1267h0M560 1210h0M439 1316h0M438 1263h0M462 1247h0M506 1283h0M513 1233h0M460 1220h0M506 1281h0M448 1264h0M514 1235h0M540 1187h0M481 1202h0M422 1291h0M490 1221h0M532 1268h0M407 1224h0M402 1218h0M472 1242h0M486 1236h0M383 1237h0M420 1250h0M460 1212h0M463 1220h0M527 1254h0M414 1180h0M516 1261h0M561 1231h0M455 1310h0M555 1212h0M467 1230h0M424 1307h0M530 1212h0M498 1247h0M369 1187h0M467 1263h0M361 1229h0M468 1260h0M444 1257h0M433 1163h0M431 1171h0M534 1174h0M519 1201h0M375 1231h0M506 1217h0M392 1209h0M453 1262h0M469 1225h0M555 1186h0M500 1264h0M564 1156h0M403 1253h0M470 1245h0M422 1178h0M413 1210h0M429 1240h0M475 1261h0M442 1188h0M461 1286h0M467 1178h0M466 1300h0M412 1271h0M406 1258h0M427 1214h0M429 1305h0M552 1247h0M505 1191h0M376 1192h0M536 1235h0M444 1217h0M441 1241h0M440 1249h0M498 1247h0M420 1269h0M447 1190h0M512 1203h0" stroke="#4f80c6" stroke-width="3.6" stroke-linecap="round" stroke-opacity="0.78"/>
<path transform="scale(0.25)" d="M270 1154h0M183 1084h0M275 1082h0M346 1057h0M198 1033h0M362 1052h0M184 1034h0M196 1039h0M262 1110h0M370 1165h0M180 1077h0M250 1149h0M366 1144h0M267 1073h0M159 1079h0M354 1132h0M222 1081h0M159 1131h0M214 1068h0M229 1111h0M345 1185h0M264 1124h0M150 1088h0M375 1119h0M249 1032h0M317 1136h0M148 1038h0M337 1137h0M208 1033h0M175 1152h0M266 1116h0M268 1046h0M412 1083h0M350 1120h0M322 1142h0M220 1078h0M165 1144h0M369 1074h0M206 1152h0M364 1149h0M410 1114h0M255 1146h0M248 1119h0M179 1151h0M279 1177h0M238 1059h0M215 1161h0M349 1046h0M392 1049h0M221 1120h0M263 1041h0M368 1070h0M376 1161h0M195 1122h0M330 1116h0M348 1161h0M204 1120h0M202 1089h0M439 1083h0M316 1055h0M377 1106h0M257 1061h0M287 1080h0M332 1156h0M350 1140h0M274 1128h0M375 1169h0M219 1083h0M293 1131h0M232 1146h0M378 1045h0M269 1125h0M207 1042h0M353 1170h0M258 1048h0M243 1130h0M284 1103h0M401 1039h0M328 1111h0M308 1129h0M270 1179h0M265 1058h0M427 1101h0M214 1127h0M233 1150h0M323 1130h0M400 1049h0M226 1069h0M203 1161h0M349 1183h0M315 1182h0M369 1082h0M261 1054h0M273 1147h0M364 1107h0M259 1103h0M225 1132h0M282 1077h0M287 1101h0M315 1141h0M345 1051h0M332 1096h0M385 1051h0M256 1125h0M378 1088h0M143 1091h0M242 1127h0M298 1052h0M384 1172h0M252 1132h0M268 1121h0M288 1124h0M223 1143h0M181 1161h0M216 1094h0M265 1131h0M255 1041h0M358 1047h0M389 1162h0M200 1100h0M288 1099h0M348 1151h0M382 1040h0M222 1118h0M259 1136h0M190 1081h0M275 1051h0M267 1093h0M283 1078h0M333 1074h0M204 1064h0M227 1041h0M214 1098h0M277 1095h0M294 1035h0M213 1165h0M253 1068h0M238 1173h0M323 1046h0M315 1161h0M363 1099h0M146 1124h0M255 1137h0M306 1120h0M225 1056h0M285 1097h0M257 1092h0M357 1056h0M335 1100h0M317 1111h0" stroke="#98c4c8" stroke-width="3.6" stroke-linecap="round" stroke-opacity="0.78"/>
<rect x="48.8" y="254.7" width="53.1" height="8.3" rx="1" fill="#7cc1c1"/>
<text x="75.35" y="260.85" font-size="5.6" text-anchor="middle" fill="#fff" textLength="43.54" lengthAdjust="spacingAndGlyphs">DCs RNASE1 high</text>
<rect x="100.5" y="272.3" width="44.5" height="7.9" rx="1" fill="#4da2a4"/>
<text x="122.75" y="278.25" font-size="5.6" text-anchor="middle" fill="#fff" textLength="36.49" lengthAdjust="spacingAndGlyphs">DCs CD1C high</text>
<rect x="27.8" y="275.8" width="45.8" height="7.8" rx="1" fill="#2a479b"/>
<text x="50.7" y="281.7" font-size="5.6" text-anchor="middle" fill="#fff" textLength="37.56" lengthAdjust="spacingAndGlyphs">Mϕs SPP1 high</text>
<rect x="13.5" y="300.2" width="57.3" height="7.4" rx="1" fill="#b4561c"/>
<text x="42.15" y="305.9" font-size="5.6" text-anchor="middle" fill="#fff" textLength="46.99" lengthAdjust="spacingAndGlyphs">Monos BCL2A1 high</text>
<rect x="104.7" y="303.3" width="47.8" height="8.1" rx="1" fill="#4a7cc4"/>
<text x="128.6" y="309.35" font-size="5.6" text-anchor="middle" fill="#fff" textLength="39.2" lengthAdjust="spacingAndGlyphs">Mϕs MKI67 high</text>
<rect x="52.7" y="313.1" width="46.2" height="8" rx="1" fill="#e07b2b"/>
<text x="75.8" y="319.1" font-size="5.6" text-anchor="middle" fill="#fff" textLength="37.88" lengthAdjust="spacingAndGlyphs">Monos LYZ high</text>
<rect x="75.5" y="337" width="57.9" height="7.5" rx="1" fill="#b8383b"/>
<text x="104.45" y="342.75" font-size="5.6" text-anchor="middle" fill="#fff" textLength="47.48" lengthAdjust="spacingAndGlyphs">Myeloid Progenitors</text>
<rect x="28.3" y="353.4" width="37.7" height="8" rx="1" fill="#68b745"/>
<text x="47.15" y="359.4" font-size="5.6" text-anchor="middle" fill="#fff" textLength="30.91" lengthAdjust="spacingAndGlyphs">TPSB2 high</text>
<rect x="101" y="362" width="19" height="7.5" rx="1" fill="#c6c628"/>
<text x="110.5" y="367.75" font-size="5.6" text-anchor="middle" fill="#fff" textLength="15.58" lengthAdjust="spacingAndGlyphs">MEPs</text>
<line x1="16.2" y1="349.8" x2="16.2" y2="372.7" stroke="#222" stroke-width="1"/>
<line x1="15.7" y1="372.2" x2="37.8" y2="372.2" stroke="#222" stroke-width="1"/>
<text x="12" y="358.5" font-size="5.4" text-anchor="middle" fill="#555" transform="rotate(-90 12 358.5)" textLength="16.5" lengthAdjust="spacingAndGlyphs">UMAP2</text>
<text x="27.5" y="380.8" font-size="5.4" text-anchor="middle" fill="#555" textLength="16.5" lengthAdjust="spacingAndGlyphs">UMAP1</text>
<text x="6.7" y="402.1" font-size="12" fill="#000" font-weight="bold">F</text>
<rect x="26.6" y="411.6" width="11.8" height="1.25" fill="#b83245"/>
<rect x="26.6" y="412.8" width="11.8" height="12.85" fill="#de7424"/>
<text x="32.5" y="420.8" font-size="4.6" text-anchor="middle" fill="#f2f2f2" textLength="6" lengthAdjust="spacingAndGlyphs">13%</text>
<rect x="26.6" y="425.6" width="11.8" height="20.35" fill="#b0541c"/>
<text x="32.5" y="437.35" font-size="4.6" text-anchor="middle" fill="#f2f2f2" textLength="6" lengthAdjust="spacingAndGlyphs">20%</text>
<rect x="26.6" y="445.9" width="11.8" height="8.85" fill="#3f72bf"/>
<text x="32.5" y="451.9" font-size="4.6" text-anchor="middle" fill="#f2f2f2" textLength="4" lengthAdjust="spacingAndGlyphs">9%</text>
<rect x="26.6" y="454.7" width="11.8" height="17.15" fill="#263d8e"/>
<text x="32.5" y="464.85" font-size="4.6" text-anchor="middle" fill="#f2f2f2" textLength="6" lengthAdjust="spacingAndGlyphs">18%</text>
<rect x="26.6" y="471.8" width="11.8" height="7.25" fill="#8cc3c3"/>
<text x="32.5" y="477" font-size="4.6" text-anchor="middle" fill="#f2f2f2" textLength="4" lengthAdjust="spacingAndGlyphs">6%</text>
<rect x="26.6" y="479" width="11.8" height="31.05" fill="#4c9ea0"/>
<text x="32.5" y="496.1" font-size="4.6" text-anchor="middle" fill="#f2f2f2" textLength="6" lengthAdjust="spacingAndGlyphs">31%</text>
<rect x="40.1" y="411.6" width="11.8" height="1.05" fill="#b83245"/>
<rect x="40.1" y="412.6" width="11.8" height="11.05" fill="#de7424"/>
<text x="46" y="419.7" font-size="4.6" text-anchor="middle" fill="#f2f2f2" textLength="6" lengthAdjust="spacingAndGlyphs">11%</text>
<rect x="40.1" y="423.6" width="11.8" height="17.75" fill="#b0541c"/>
<text x="46" y="434.05" font-size="4.6" text-anchor="middle" fill="#f2f2f2" textLength="6" lengthAdjust="spacingAndGlyphs">16%</text>
<rect x="40.1" y="441.3" width="11.8" height="16.35" fill="#3f72bf"/>
<text x="46" y="451.05" font-size="4.6" text-anchor="middle" fill="#f2f2f2" textLength="6" lengthAdjust="spacingAndGlyphs">19%</text>
<rect x="40.1" y="457.6" width="11.8" height="16.45" fill="#263d8e"/>
<text x="46" y="467.4" font-size="4.6" text-anchor="middle" fill="#f2f2f2" textLength="6" lengthAdjust="spacingAndGlyphs">16%</text>
<rect x="40.1" y="474" width="11.8" height="5.05" fill="#8cc3c3"/>
<text x="46" y="478.1" font-size="4.6" text-anchor="middle" fill="#f2f2f2" textLength="4" lengthAdjust="spacingAndGlyphs">5%</text>
<rect x="40.1" y="479" width="11.8" height="31.05" fill="#4c9ea0"/>
<text x="46" y="496.1" font-size="4.6" text-anchor="middle" fill="#f2f2f2" textLength="6" lengthAdjust="spacingAndGlyphs">33%</text>
<rect x="54.2" y="411.6" width="11.8" height="1.05" fill="#b83245"/>
<rect x="54.2" y="412.6" width="11.8" height="12.45" fill="#de7424"/>
<text x="60.1" y="420.4" font-size="4.6" text-anchor="middle" fill="#f2f2f2" textLength="6" lengthAdjust="spacingAndGlyphs">12%</text>
<rect x="54.2" y="425" width="11.8" height="19.35" fill="#b0541c"/>
<text x="60.1" y="436.25" font-size="4.6" text-anchor="middle" fill="#f2f2f2" textLength="6" lengthAdjust="spacingAndGlyphs">17%</text>
<rect x="54.2" y="444.3" width="11.8" height="13.35" fill="#3f72bf"/>
<text x="60.1" y="452.55" font-size="4.6" text-anchor="middle" fill="#f2f2f2" textLength="6" lengthAdjust="spacingAndGlyphs">14%</text>
<rect x="54.2" y="457.6" width="11.8" height="23.05" fill="#263d8e"/>
<text x="60.1" y="470.7" font-size="4.6" text-anchor="middle" fill="#f2f2f2" textLength="6" lengthAdjust="spacingAndGlyphs">23%</text>
<rect x="54.2" y="480.6" width="11.8" height="5.15" fill="#8cc3c3"/>
<text x="60.1" y="484.75" font-size="4.6" text-anchor="middle" fill="#f2f2f2" textLength="4" lengthAdjust="spacingAndGlyphs">5%</text>
<rect x="54.2" y="485.7" width="11.8" height="24.35" fill="#4c9ea0"/>
<text x="60.1" y="499.45" font-size="4.6" text-anchor="middle" fill="#f2f2f2" textLength="6" lengthAdjust="spacingAndGlyphs">26%</text>
<line x1="25.6" y1="405.8" x2="25.6" y2="510.5" stroke="#222" stroke-width="1"/>
<line x1="25.1" y1="510.4" x2="74" y2="510.4" stroke="#222" stroke-width="1"/>
<line x1="23" y1="510" x2="25.6" y2="510" stroke="#222" stroke-width="0.9"/>
<text x="21.8" y="511.9" font-size="5.4" text-anchor="end" fill="#444" textLength="5.5" lengthAdjust="spacingAndGlyphs">0%</text>
<line x1="23" y1="485.4" x2="25.6" y2="485.4" stroke="#222" stroke-width="0.9"/>
<text x="21.8" y="487.3" font-size="5.4" text-anchor="end" fill="#444" textLength="8.25" lengthAdjust="spacingAndGlyphs">25%</text>
<line x1="23" y1="460.8" x2="25.6" y2="460.8" stroke="#222" stroke-width="0.9"/>
<text x="21.8" y="462.7" font-size="5.4" text-anchor="end" fill="#444" textLength="8.25" lengthAdjust="spacingAndGlyphs">50%</text>
<line x1="23" y1="436.2" x2="25.6" y2="436.2" stroke="#222" stroke-width="0.9"/>
<text x="21.8" y="438.1" font-size="5.4" text-anchor="end" fill="#444" textLength="8.25" lengthAdjust="spacingAndGlyphs">75%</text>
<line x1="23" y1="411.6" x2="25.6" y2="411.6" stroke="#222" stroke-width="0.9"/>
<text x="21.8" y="413.5" font-size="5.4" text-anchor="end" fill="#444" textLength="11" lengthAdjust="spacingAndGlyphs">100%</text>
<line x1="32.5" y1="510.5" x2="32.5" y2="513" stroke="#222" stroke-width="0.9"/>
<text x="34.5" y="517" font-size="5.8" text-anchor="end" fill="#444" transform="rotate(-50 34.5 517)" textLength="29.4" lengthAdjust="spacingAndGlyphs">belvarafenib</text>
<line x1="46" y1="510.5" x2="46" y2="513" stroke="#222" stroke-width="0.9"/>
<text x="48" y="517" font-size="5.8" text-anchor="end" fill="#444" transform="rotate(-50 48 517)" textLength="24.5" lengthAdjust="spacingAndGlyphs">dabrafenib</text>
<line x1="60.1" y1="510.5" x2="60.1" y2="513" stroke="#222" stroke-width="0.9"/>
<text x="62.1" y="517" font-size="5.8" text-anchor="end" fill="#444" transform="rotate(-50 62.1 517)" textLength="13.5" lengthAdjust="spacingAndGlyphs">DMSO</text>
<text x="68.2" y="415.2" font-size="5" fill="#555" textLength="14.5" lengthAdjust="spacingAndGlyphs">Cluster</text>
<rect x="69" y="419" width="2.7" height="2.7" fill="#b83245"/>
<text x="74.8" y="422.1" font-size="4.9" fill="#555" textLength="15.53" lengthAdjust="spacingAndGlyphs">Myeloid</text>
<text x="74.8" y="427.1" font-size="4.9" fill="#555" textLength="23.05" lengthAdjust="spacingAndGlyphs">Progenitors</text>
<rect x="69" y="429.9" width="2.7" height="2.7" fill="#de7424"/>
<text x="74.8" y="433" font-size="4.9" fill="#555" textLength="13.53" lengthAdjust="spacingAndGlyphs">Monos</text>
<text x="74.8" y="438" font-size="4.9" fill="#555" textLength="17.71" lengthAdjust="spacingAndGlyphs">LYZ high</text>
<rect x="69" y="441.2" width="2.7" height="2.7" fill="#b0541c"/>
<text x="74.8" y="444.3" font-size="4.9" fill="#555" textLength="13.53" lengthAdjust="spacingAndGlyphs">Monos</text>
<text x="74.8" y="449.3" font-size="4.9" fill="#555" textLength="26.56" lengthAdjust="spacingAndGlyphs">BCL2A1 high</text>
<rect x="69" y="451.6" width="2.7" height="2.7" fill="#3f72bf"/>
<text x="74.8" y="454.7" font-size="4.9" fill="#555" textLength="22.81" lengthAdjust="spacingAndGlyphs">Mϕs MKI67</text>
<text x="74.8" y="459.7" font-size="4.9" fill="#555" textLength="8.52" lengthAdjust="spacingAndGlyphs">high</text>
<rect x="69" y="461.9" width="2.7" height="2.7" fill="#263d8e"/>
<text x="74.8" y="465" font-size="4.9" fill="#555" textLength="21.31" lengthAdjust="spacingAndGlyphs">Mϕs SPP1</text>
<text x="74.8" y="470" font-size="4.9" fill="#555" textLength="8.52" lengthAdjust="spacingAndGlyphs">high</text>
<rect x="69" y="473.2" width="2.7" height="2.7" fill="#8cc3c3"/>
<text x="74.8" y="476.3" font-size="4.9" fill="#555" textLength="28.06" lengthAdjust="spacingAndGlyphs">DCs RNASE1</text>
<text x="74.8" y="481.3" font-size="4.9" fill="#555" textLength="8.52" lengthAdjust="spacingAndGlyphs">high</text>
<rect x="69" y="484.1" width="2.7" height="2.7" fill="#4c9ea0"/>
<text x="74.8" y="487.2" font-size="4.9" fill="#555" textLength="22.29" lengthAdjust="spacingAndGlyphs">DCs CD1C</text>
<text x="74.8" y="492.2" font-size="4.9" fill="#555" textLength="8.52" lengthAdjust="spacingAndGlyphs">high</text>
<text x="109.3" y="402.1" font-size="12" fill="#000" font-weight="bold">G</text>
<rect x="129.3" y="412.3" width="12.6" height="66.55" fill="#9a3c94"/>
<text x="135.6" y="447.15" font-size="4.6" text-anchor="middle" fill="#f4eaf4" textLength="6" lengthAdjust="spacingAndGlyphs">64%</text>
<rect x="129.3" y="478.8" width="12.6" height="17.25" fill="#b57fc1"/>
<text x="135.6" y="489" font-size="4.6" text-anchor="middle" fill="#f4eaf4" textLength="6" lengthAdjust="spacingAndGlyphs">17%</text>
<rect x="129.3" y="496" width="12.6" height="14.35" fill="#e69a3c"/>
<text x="135.6" y="504.75" font-size="4.6" text-anchor="middle" fill="#f4eaf4" textLength="6" lengthAdjust="spacingAndGlyphs">15%</text>
<rect x="143.7" y="412.3" width="12.6" height="46.05" fill="#9a3c94"/>
<text x="150" y="436.9" font-size="4.6" text-anchor="middle" fill="#f4eaf4" textLength="6" lengthAdjust="spacingAndGlyphs">47%</text>
<rect x="143.7" y="458.3" width="12.6" height="27.45" fill="#b57fc1"/>
<text x="150" y="473.6" font-size="4.6" text-anchor="middle" fill="#f4eaf4" textLength="6" lengthAdjust="spacingAndGlyphs">27%</text>
<rect x="143.7" y="485.7" width="12.6" height="24.65" fill="#e69a3c"/>
<text x="150" y="499.6" font-size="4.6" text-anchor="middle" fill="#f4eaf4" textLength="6" lengthAdjust="spacingAndGlyphs">25%</text>
<rect x="158.1" y="412.3" width="12.6" height="51.75" fill="#9a3c94"/>
<text x="164.4" y="439.75" font-size="4.6" text-anchor="middle" fill="#f4eaf4" textLength="6" lengthAdjust="spacingAndGlyphs">53%</text>
<rect x="158.1" y="464" width="12.6" height="21.75" fill="#b57fc1"/>
<text x="164.4" y="476.45" font-size="4.6" text-anchor="middle" fill="#f4eaf4" textLength="6" lengthAdjust="spacingAndGlyphs">22%</text>
<rect x="158.1" y="485.7" width="12.6" height="24.65" fill="#e69a3c"/>
<text x="164.4" y="499.6" font-size="4.6" text-anchor="middle" fill="#f4eaf4" textLength="6" lengthAdjust="spacingAndGlyphs">25%</text>
<line x1="128.5" y1="405.8" x2="128.5" y2="510.8" stroke="#222" stroke-width="1"/>
<line x1="128" y1="510.7" x2="172" y2="510.7" stroke="#222" stroke-width="1"/>
<line x1="125.9" y1="510.3" x2="128.5" y2="510.3" stroke="#222" stroke-width="0.9"/>
<text x="124.7" y="512.2" font-size="5.4" text-anchor="end" fill="#444" textLength="5.5" lengthAdjust="spacingAndGlyphs">0%</text>
<line x1="125.9" y1="485.8" x2="128.5" y2="485.8" stroke="#222" stroke-width="0.9"/>
<text x="124.7" y="487.7" font-size="5.4" text-anchor="end" fill="#444" textLength="8.25" lengthAdjust="spacingAndGlyphs">25%</text>
<line x1="125.9" y1="461.3" x2="128.5" y2="461.3" stroke="#222" stroke-width="0.9"/>
<text x="124.7" y="463.2" font-size="5.4" text-anchor="end" fill="#444" textLength="8.25" lengthAdjust="spacingAndGlyphs">50%</text>
<line x1="125.9" y1="436.8" x2="128.5" y2="436.8" stroke="#222" stroke-width="0.9"/>
<text x="124.7" y="438.7" font-size="5.4" text-anchor="end" fill="#444" textLength="8.25" lengthAdjust="spacingAndGlyphs">75%</text>
<line x1="125.9" y1="412.3" x2="128.5" y2="412.3" stroke="#222" stroke-width="0.9"/>
<text x="124.7" y="414.2" font-size="5.4" text-anchor="end" fill="#444" textLength="11" lengthAdjust="spacingAndGlyphs">100%</text>
<line x1="135.6" y1="510.8" x2="135.6" y2="513.3" stroke="#222" stroke-width="0.9"/>
<text x="137.6" y="517.3" font-size="5.8" text-anchor="end" fill="#444" transform="rotate(-50 137.6 517.3)" textLength="29.4" lengthAdjust="spacingAndGlyphs">belvarafenib</text>
<line x1="150" y1="510.8" x2="150" y2="513.3" stroke="#222" stroke-width="0.9"/>
<text x="152" y="517.3" font-size="5.8" text-anchor="end" fill="#444" transform="rotate(-50 152 517.3)" textLength="24.5" lengthAdjust="spacingAndGlyphs">dabrafenib</text>
<line x1="164.4" y1="510.8" x2="164.4" y2="513.3" stroke="#222" stroke-width="0.9"/>
<text x="166.4" y="517.3" font-size="5.8" text-anchor="end" fill="#444" transform="rotate(-50 166.4 517.3)" textLength="13.5" lengthAdjust="spacingAndGlyphs">DMSO</text>
<text x="173" y="415" font-size="5" fill="#555" textLength="12.5" lengthAdjust="spacingAndGlyphs">Phase</text>
<rect x="173.3" y="418.9" width="3.1" height="3.1" fill="#7d2f63"/>
<text x="179.3" y="422.1" font-size="4.9" fill="#555">G1</text>
<rect x="173.3" y="424.3" width="3.1" height="3.1" fill="#a77fc0"/>
<text x="179.3" y="427.5" font-size="4.9" fill="#555">G2M</text>
<rect x="173.3" y="430" width="3.1" height="3.1" fill="#de9235"/>
<text x="179.3" y="433.2" font-size="4.9" fill="#555">S</text>
<text x="198.3" y="248.2" font-size="12" fill="#000" font-weight="bold">H</text>
<line x1="253.4" y1="258.5" x2="253.4" y2="495.5" stroke="#56607e" stroke-width="0.8"/>
<line x1="283.8" y1="258.5" x2="283.8" y2="495.5" stroke="#56607e" stroke-width="0.8"/>
<text x="235.3" y="256.4" font-size="4.7" text-anchor="middle" fill="#444" textLength="26.5" lengthAdjust="spacingAndGlyphs">V600E vs. WT</text>
<text x="269" y="256.4" font-size="4.7" text-anchor="middle" fill="#444" textLength="21.5" lengthAdjust="spacingAndGlyphs">belvarafenib</text>
<text x="297.7" y="256.4" font-size="4.7" text-anchor="middle" fill="#444" textLength="20.5" lengthAdjust="spacingAndGlyphs">dabrafenib</text>
<text x="221.5" y="264.3" font-size="4.5" text-anchor="end" fill="#444" textLength="12.33" lengthAdjust="spacingAndGlyphs">CD207</text>
<circle cx="270.36" cy="262.4" r="1.78" fill="#22388c"/>
<circle cx="279.6" cy="262.4" r="1.78" fill="#22388c"/>
<circle cx="300.96" cy="262.4" r="1.78" fill="#22388c"/>
<circle cx="310.2" cy="262.4" r="1.78" fill="#3a5fae"/>
<text x="221.5" y="271.25" font-size="4.5" text-anchor="end" fill="#444" textLength="19.59" lengthAdjust="spacingAndGlyphs">SERPINA1</text>
<circle cx="226.4" cy="269.35" r="1.78" fill="#dc8c4c"/>
<circle cx="235.64" cy="269.35" r="1.78" fill="#8a1c26"/>
<circle cx="244.88" cy="269.35" r="1.78" fill="#bb4634"/>
<circle cx="256.5" cy="269.35" r="1.78" fill="#6b8fc6"/>
<circle cx="261.12" cy="269.35" r="1.78" fill="#3a5fae"/>
<circle cx="265.74" cy="269.35" r="1.78" fill="#3a5fae"/>
<circle cx="270.36" cy="269.35" r="1.78" fill="#6b8fc6"/>
<circle cx="274.98" cy="269.35" r="1.78" fill="#3a5fae"/>
<circle cx="279.6" cy="269.35" r="1.78" fill="#22388c"/>
<circle cx="287.1" cy="269.35" r="1.78" fill="#6b8fc6"/>
<circle cx="291.72" cy="269.35" r="1.78" fill="#9dbfd4"/>
<circle cx="296.34" cy="269.35" r="1.78" fill="#9dbfd4"/>
<circle cx="300.96" cy="269.35" r="1.78" fill="#9dbfd4"/>
<circle cx="310.2" cy="269.35" r="1.78" fill="#9dbfd4"/>
<text x="221.5" y="278.21" font-size="4.5" text-anchor="end" fill="#444" textLength="10.12" lengthAdjust="spacingAndGlyphs">CCL2</text>
<circle cx="226.4" cy="276.31" r="1.78" fill="#bb4634"/>
<circle cx="231.02" cy="276.31" r="1.78" fill="#8a1c26"/>
<circle cx="235.64" cy="276.31" r="1.78" fill="#dc8c4c"/>
<circle cx="256.5" cy="276.31" r="1.78" fill="#22388c"/>
<circle cx="261.12" cy="276.31" r="1.78" fill="#22388c"/>
<circle cx="265.74" cy="276.31" r="1.78" fill="#22388c"/>
<circle cx="270.36" cy="276.31" r="1.78" fill="#22388c"/>
<circle cx="274.98" cy="276.31" r="1.78" fill="#22388c"/>
<circle cx="279.6" cy="276.31" r="1.78" fill="#22388c"/>
<circle cx="287.1" cy="276.31" r="1.78" fill="#9dbfd4"/>
<circle cx="291.72" cy="276.31" r="1.78" fill="#22388c"/>
<circle cx="296.34" cy="276.31" r="1.78" fill="#6b8fc6"/>
<circle cx="305.58" cy="276.31" r="1.78" fill="#9dbfd4"/>
<text x="221.5" y="285.16" font-size="4.5" text-anchor="end" fill="#444" textLength="14.75" lengthAdjust="spacingAndGlyphs">BCL2A1</text>
<circle cx="235.64" cy="283.26" r="1.78" fill="#8a1c26"/>
<circle cx="256.5" cy="283.26" r="1.78" fill="#22388c"/>
<circle cx="261.12" cy="283.26" r="1.78" fill="#22388c"/>
<circle cx="265.74" cy="283.26" r="1.78" fill="#22388c"/>
<circle cx="270.36" cy="283.26" r="1.78" fill="#22388c"/>
<circle cx="274.98" cy="283.26" r="1.78" fill="#22388c"/>
<circle cx="279.6" cy="283.26" r="1.78" fill="#22388c"/>
<circle cx="287.1" cy="283.26" r="1.78" fill="#6b8fc6"/>
<circle cx="291.72" cy="283.26" r="1.78" fill="#6b8fc6"/>
<circle cx="296.34" cy="283.26" r="1.78" fill="#6b8fc6"/>
<circle cx="300.96" cy="283.26" r="1.78" fill="#6b8fc6"/>
<circle cx="305.58" cy="283.26" r="1.78" fill="#9dbfd4"/>
<circle cx="310.2" cy="283.26" r="1.78" fill="#9dbfd4"/>
<text x="221.5" y="292.12" font-size="4.5" text-anchor="end" fill="#444" textLength="10.57" lengthAdjust="spacingAndGlyphs">IL1R2</text>
<circle cx="240.26" cy="290.22" r="1.78" fill="#bb4634"/>
<circle cx="249.5" cy="290.22" r="1.78" fill="#8a1c26"/>
<circle cx="270.36" cy="290.22" r="1.78" fill="#22388c"/>
<circle cx="279.6" cy="290.22" r="1.78" fill="#22388c"/>
<circle cx="300.96" cy="290.22" r="1.78" fill="#22388c"/>
<circle cx="310.2" cy="290.22" r="1.78" fill="#6b8fc6"/>
<text x="221.5" y="299.07" font-size="4.5" text-anchor="end" fill="#444" textLength="12.77" lengthAdjust="spacingAndGlyphs">CXCL8</text>
<circle cx="231.02" cy="297.17" r="1.78" fill="#bb4634"/>
<circle cx="235.64" cy="297.17" r="1.78" fill="#dc8c4c"/>
<circle cx="256.5" cy="297.17" r="1.78" fill="#22388c"/>
<circle cx="261.12" cy="297.17" r="1.78" fill="#22388c"/>
<circle cx="265.74" cy="297.17" r="1.78" fill="#22388c"/>
<circle cx="270.36" cy="297.17" r="1.78" fill="#22388c"/>
<circle cx="274.98" cy="297.17" r="1.78" fill="#22388c"/>
<circle cx="279.6" cy="297.17" r="1.78" fill="#22388c"/>
<circle cx="287.1" cy="297.17" r="1.78" fill="#6b8fc6"/>
<circle cx="291.72" cy="297.17" r="1.78" fill="#22388c"/>
<circle cx="296.34" cy="297.17" r="1.78" fill="#6b8fc6"/>
<circle cx="300.96" cy="297.17" r="1.78" fill="#6b8fc6"/>
<circle cx="305.58" cy="297.17" r="1.78" fill="#9dbfd4"/>
<circle cx="310.2" cy="297.17" r="1.78" fill="#6b8fc6"/>
<text x="221.5" y="306.03" font-size="4.5" text-anchor="end" fill="#444" textLength="10.12" lengthAdjust="spacingAndGlyphs">CD52</text>
<circle cx="235.64" cy="304.13" r="1.78" fill="#bb4634"/>
<circle cx="244.88" cy="304.13" r="1.78" fill="#bb4634"/>
<circle cx="249.5" cy="304.13" r="1.78" fill="#dc8c4c"/>
<circle cx="256.5" cy="304.13" r="1.78" fill="#9dbfd4"/>
<circle cx="261.12" cy="304.13" r="1.78" fill="#9dbfd4"/>
<circle cx="265.74" cy="304.13" r="1.78" fill="#9dbfd4"/>
<circle cx="270.36" cy="304.13" r="1.78" fill="#9dbfd4"/>
<circle cx="274.98" cy="304.13" r="1.78" fill="#9dbfd4"/>
<circle cx="279.6" cy="304.13" r="1.78" fill="#9dbfd4"/>
<circle cx="287.1" cy="304.13" r="1.78" fill="#9dbfd4"/>
<circle cx="291.72" cy="304.13" r="1.78" fill="#6b8fc6"/>
<circle cx="296.34" cy="304.13" r="1.78" fill="#9dbfd4"/>
<circle cx="300.96" cy="304.13" r="1.78" fill="#9dbfd4"/>
<circle cx="305.58" cy="304.13" r="1.78" fill="#9dbfd4"/>
<circle cx="310.2" cy="304.13" r="1.78" fill="#9dbfd4"/>
<text x="221.5" y="312.98" font-size="4.5" text-anchor="end" fill="#444" textLength="10.78" lengthAdjust="spacingAndGlyphs">CD3D</text>
<circle cx="226.4" cy="311.08" r="1.78" fill="#bb4634"/>
<circle cx="231.02" cy="311.08" r="1.78" fill="#dc8c4c"/>
<circle cx="249.5" cy="311.08" r="1.78" fill="#e3c05a"/>
<circle cx="256.5" cy="311.08" r="1.78" fill="#22388c"/>
<circle cx="261.12" cy="311.08" r="1.78" fill="#22388c"/>
<circle cx="265.74" cy="311.08" r="1.78" fill="#3a5fae"/>
<circle cx="270.36" cy="311.08" r="1.78" fill="#22388c"/>
<circle cx="274.98" cy="311.08" r="1.78" fill="#22388c"/>
<circle cx="279.6" cy="311.08" r="1.78" fill="#22388c"/>
<circle cx="287.1" cy="311.08" r="1.78" fill="#6b8fc6"/>
<circle cx="291.72" cy="311.08" r="1.78" fill="#6b8fc6"/>
<circle cx="300.96" cy="311.08" r="1.78" fill="#6b8fc6"/>
<circle cx="310.2" cy="311.08" r="1.78" fill="#6b8fc6"/>
<text x="221.5" y="319.94" font-size="4.5" text-anchor="end" fill="#444" textLength="22.88" lengthAdjust="spacingAndGlyphs">TNFRSF10C</text>
<circle cx="226.4" cy="318.04" r="1.78" fill="#bb4634"/>
<circle cx="235.64" cy="318.04" r="1.78" fill="#8a1c26"/>
<circle cx="244.88" cy="318.04" r="1.78" fill="#bb4634"/>
<circle cx="256.5" cy="318.04" r="1.78" fill="#9dbfd4"/>
<circle cx="270.36" cy="318.04" r="1.78" fill="#22388c"/>
<circle cx="279.6" cy="318.04" r="1.78" fill="#6b8fc6"/>
<text x="221.5" y="326.89" font-size="4.5" text-anchor="end" fill="#444" textLength="8.15" lengthAdjust="spacingAndGlyphs">IL1B</text>
<circle cx="231.02" cy="325" r="1.78" fill="#bb4634"/>
<circle cx="256.5" cy="325" r="1.78" fill="#22388c"/>
<circle cx="261.12" cy="325" r="1.78" fill="#22388c"/>
<circle cx="265.74" cy="325" r="1.78" fill="#22388c"/>
<circle cx="270.36" cy="325" r="1.78" fill="#22388c"/>
<circle cx="274.98" cy="325" r="1.78" fill="#22388c"/>
<circle cx="279.6" cy="325" r="1.78" fill="#22388c"/>
<circle cx="287.1" cy="325" r="1.78" fill="#3a5fae"/>
<circle cx="291.72" cy="325" r="1.78" fill="#22388c"/>
<circle cx="296.34" cy="325" r="1.78" fill="#22388c"/>
<circle cx="300.96" cy="325" r="1.78" fill="#6b8fc6"/>
<circle cx="305.58" cy="325" r="1.78" fill="#3a5fae"/>
<circle cx="310.2" cy="325" r="1.78" fill="#6b8fc6"/>
<text x="221.5" y="333.85" font-size="4.5" text-anchor="end" fill="#444" textLength="9.91" lengthAdjust="spacingAndGlyphs">BCL2</text>
<circle cx="231.02" cy="331.95" r="1.78" fill="#bb4634"/>
<circle cx="256.5" cy="331.95" r="1.78" fill="#6b8fc6"/>
<circle cx="261.12" cy="331.95" r="1.78" fill="#9dbfd4"/>
<circle cx="265.74" cy="331.95" r="1.78" fill="#6b8fc6"/>
<circle cx="274.98" cy="331.95" r="1.78" fill="#9dbfd4"/>
<circle cx="279.6" cy="331.95" r="1.78" fill="#9dbfd4"/>
<circle cx="291.72" cy="331.95" r="1.78" fill="#9dbfd4"/>
<circle cx="300.96" cy="331.95" r="1.78" fill="#e3c05a"/>
<text x="221.5" y="340.8" font-size="4.5" text-anchor="end" fill="#444" textLength="11.88" lengthAdjust="spacingAndGlyphs">ITGAX</text>
<circle cx="226.4" cy="338.9" r="1.78" fill="#dc8c4c"/>
<circle cx="231.02" cy="338.9" r="1.78" fill="#bb4634"/>
<circle cx="256.5" cy="338.9" r="1.78" fill="#22388c"/>
<circle cx="261.12" cy="338.9" r="1.78" fill="#22388c"/>
<circle cx="265.74" cy="338.9" r="1.78" fill="#22388c"/>
<circle cx="270.36" cy="338.9" r="1.78" fill="#22388c"/>
<circle cx="274.98" cy="338.9" r="1.78" fill="#22388c"/>
<circle cx="279.6" cy="338.9" r="1.78" fill="#22388c"/>
<circle cx="287.1" cy="338.9" r="1.78" fill="#9dbfd4"/>
<circle cx="291.72" cy="338.9" r="1.78" fill="#22388c"/>
<circle cx="296.34" cy="338.9" r="1.78" fill="#6b8fc6"/>
<circle cx="300.96" cy="338.9" r="1.78" fill="#9dbfd4"/>
<circle cx="310.2" cy="338.9" r="1.78" fill="#9dbfd4"/>
<text x="221.5" y="347.76" font-size="4.5" text-anchor="end" fill="#444" textLength="15.41" lengthAdjust="spacingAndGlyphs">IL22RA2</text>
<circle cx="226.4" cy="345.86" r="1.78" fill="#bb4634"/>
<circle cx="235.64" cy="345.86" r="1.78" fill="#dc8c4c"/>
<circle cx="256.5" cy="345.86" r="1.78" fill="#22388c"/>
<circle cx="261.12" cy="345.86" r="1.78" fill="#22388c"/>
<circle cx="265.74" cy="345.86" r="1.78" fill="#22388c"/>
<circle cx="270.36" cy="345.86" r="1.78" fill="#22388c"/>
<circle cx="274.98" cy="345.86" r="1.78" fill="#22388c"/>
<circle cx="279.6" cy="345.86" r="1.78" fill="#22388c"/>
<circle cx="291.72" cy="345.86" r="1.78" fill="#22388c"/>
<circle cx="296.34" cy="345.86" r="1.78" fill="#6b8fc6"/>
<circle cx="300.96" cy="345.86" r="1.78" fill="#9dbfd4"/>
<circle cx="310.2" cy="345.86" r="1.78" fill="#6b8fc6"/>
<text x="221.5" y="354.71" font-size="4.5" text-anchor="end" fill="#444" textLength="9.68" lengthAdjust="spacingAndGlyphs">AFF3</text>
<circle cx="226.4" cy="352.81" r="1.78" fill="#dc8c4c"/>
<circle cx="249.5" cy="352.81" r="1.78" fill="#dc8c4c"/>
<circle cx="270.36" cy="352.81" r="1.78" fill="#9dbfd4"/>
<circle cx="274.98" cy="352.81" r="1.78" fill="#8a1c26"/>
<circle cx="279.6" cy="352.81" r="1.78" fill="#9dbfd4"/>
<text x="221.5" y="361.67" font-size="4.5" text-anchor="end" fill="#444" textLength="20.02" lengthAdjust="spacingAndGlyphs">TNFRSF18</text>
<circle cx="240.26" cy="359.77" r="1.78" fill="#bb4634"/>
<circle cx="244.88" cy="359.77" r="1.78" fill="#bb4634"/>
<circle cx="249.5" cy="359.77" r="1.78" fill="#dc8c4c"/>
<circle cx="265.74" cy="359.77" r="1.78" fill="#22388c"/>
<circle cx="279.6" cy="359.77" r="1.78" fill="#22388c"/>
<circle cx="296.34" cy="359.77" r="1.78" fill="#22388c"/>
<circle cx="310.2" cy="359.77" r="1.78" fill="#6b8fc6"/>
<text x="221.5" y="368.62" font-size="4.5" text-anchor="end" fill="#444" textLength="15.41" lengthAdjust="spacingAndGlyphs">CLEC5A</text>
<circle cx="226.4" cy="366.72" r="1.78" fill="#dc8c4c"/>
<circle cx="235.64" cy="366.72" r="1.78" fill="#dc8c4c"/>
<circle cx="244.88" cy="366.72" r="1.78" fill="#dc8c4c"/>
<circle cx="256.5" cy="366.72" r="1.78" fill="#22388c"/>
<circle cx="261.12" cy="366.72" r="1.78" fill="#22388c"/>
<circle cx="265.74" cy="366.72" r="1.78" fill="#22388c"/>
<circle cx="270.36" cy="366.72" r="1.78" fill="#22388c"/>
<circle cx="274.98" cy="366.72" r="1.78" fill="#22388c"/>
<circle cx="279.6" cy="366.72" r="1.78" fill="#22388c"/>
<circle cx="287.1" cy="366.72" r="1.78" fill="#9dbfd4"/>
<circle cx="291.72" cy="366.72" r="1.78" fill="#9dbfd4"/>
<circle cx="300.96" cy="366.72" r="1.78" fill="#9dbfd4"/>
<text x="221.5" y="375.58" font-size="4.5" text-anchor="end" fill="#444" textLength="10.12" lengthAdjust="spacingAndGlyphs">CD55</text>
<circle cx="235.64" cy="373.68" r="1.78" fill="#dc8c4c"/>
<circle cx="244.88" cy="373.68" r="1.78" fill="#bb4634"/>
<circle cx="256.5" cy="373.68" r="1.78" fill="#9dbfd4"/>
<circle cx="261.12" cy="373.68" r="1.78" fill="#6b8fc6"/>
<circle cx="265.74" cy="373.68" r="1.78" fill="#22388c"/>
<circle cx="270.36" cy="373.68" r="1.78" fill="#6b8fc6"/>
<circle cx="274.98" cy="373.68" r="1.78" fill="#22388c"/>
<circle cx="287.1" cy="373.68" r="1.78" fill="#9dbfd4"/>
<circle cx="291.72" cy="373.68" r="1.78" fill="#9dbfd4"/>
<circle cx="296.34" cy="373.68" r="1.78" fill="#9dbfd4"/>
<text x="221.5" y="382.53" font-size="4.5" text-anchor="end" fill="#444" textLength="22.66" lengthAdjust="spacingAndGlyphs">TNFRSF12A</text>
<circle cx="226.4" cy="380.63" r="1.78" fill="#dc8c4c"/>
<circle cx="231.02" cy="380.63" r="1.78" fill="#dc8c4c"/>
<circle cx="256.5" cy="380.63" r="1.78" fill="#22388c"/>
<circle cx="261.12" cy="380.63" r="1.78" fill="#22388c"/>
<circle cx="265.74" cy="380.63" r="1.78" fill="#22388c"/>
<circle cx="270.36" cy="380.63" r="1.78" fill="#22388c"/>
<circle cx="274.98" cy="380.63" r="1.78" fill="#22388c"/>
<circle cx="279.6" cy="380.63" r="1.78" fill="#22388c"/>
<circle cx="287.1" cy="380.63" r="1.78" fill="#6b8fc6"/>
<circle cx="291.72" cy="380.63" r="1.78" fill="#3a5fae"/>
<circle cx="296.34" cy="380.63" r="1.78" fill="#6b8fc6"/>
<circle cx="300.96" cy="380.63" r="1.78" fill="#6b8fc6"/>
<circle cx="305.58" cy="380.63" r="1.78" fill="#6b8fc6"/>
<circle cx="310.2" cy="380.63" r="1.78" fill="#6b8fc6"/>
<text x="221.5" y="389.49" font-size="4.5" text-anchor="end" fill="#444" textLength="7.92" lengthAdjust="spacingAndGlyphs">CD9</text>
<circle cx="226.4" cy="387.59" r="1.78" fill="#bb4634"/>
<circle cx="244.88" cy="387.59" r="1.78" fill="#e3c05a"/>
<circle cx="256.5" cy="387.59" r="1.78" fill="#9dbfd4"/>
<circle cx="261.12" cy="387.59" r="1.78" fill="#6b8fc6"/>
<circle cx="265.74" cy="387.59" r="1.78" fill="#3a5fae"/>
<circle cx="270.36" cy="387.59" r="1.78" fill="#6b8fc6"/>
<circle cx="274.98" cy="387.59" r="1.78" fill="#22388c"/>
<circle cx="279.6" cy="387.59" r="1.78" fill="#6b8fc6"/>
<circle cx="291.72" cy="387.59" r="1.78" fill="#6b8fc6"/>
<circle cx="296.34" cy="387.59" r="1.78" fill="#9dbfd4"/>
<circle cx="300.96" cy="387.59" r="1.78" fill="#6b8fc6"/>
<circle cx="305.58" cy="387.59" r="1.78" fill="#9dbfd4"/>
<circle cx="310.2" cy="387.59" r="1.78" fill="#6b8fc6"/>
<text x="221.5" y="396.44" font-size="4.5" text-anchor="end" fill="#444" textLength="11.44" lengthAdjust="spacingAndGlyphs">MMP9</text>
<circle cx="226.4" cy="394.54" r="1.78" fill="#dc8c4c"/>
<circle cx="231.02" cy="394.54" r="1.78" fill="#dc8c4c"/>
<circle cx="256.5" cy="394.54" r="1.78" fill="#3a5fae"/>
<circle cx="261.12" cy="394.54" r="1.78" fill="#22388c"/>
<circle cx="265.74" cy="394.54" r="1.78" fill="#9dbfd4"/>
<circle cx="270.36" cy="394.54" r="1.78" fill="#22388c"/>
<circle cx="274.98" cy="394.54" r="1.78" fill="#6b8fc6"/>
<circle cx="279.6" cy="394.54" r="1.78" fill="#9dbfd4"/>
<circle cx="287.1" cy="394.54" r="1.78" fill="#9dbfd4"/>
<circle cx="291.72" cy="394.54" r="1.78" fill="#6b8fc6"/>
<text x="221.5" y="403.4" font-size="4.5" text-anchor="end" fill="#444" textLength="11.66" lengthAdjust="spacingAndGlyphs">TIMP1</text>
<circle cx="231.02" cy="401.5" r="1.78" fill="#dc8c4c"/>
<circle cx="235.64" cy="401.5" r="1.78" fill="#dc8c4c"/>
<circle cx="256.5" cy="401.5" r="1.78" fill="#9dbfd4"/>
<circle cx="261.12" cy="401.5" r="1.78" fill="#3a5fae"/>
<circle cx="265.74" cy="401.5" r="1.78" fill="#3a5fae"/>
<circle cx="270.36" cy="401.5" r="1.78" fill="#9dbfd4"/>
<circle cx="274.98" cy="401.5" r="1.78" fill="#6b8fc6"/>
<circle cx="279.6" cy="401.5" r="1.78" fill="#9dbfd4"/>
<circle cx="287.1" cy="401.5" r="1.78" fill="#6b8fc6"/>
<circle cx="291.72" cy="401.5" r="1.78" fill="#22388c"/>
<circle cx="296.34" cy="401.5" r="1.78" fill="#3a5fae"/>
<circle cx="300.96" cy="401.5" r="1.78" fill="#9dbfd4"/>
<circle cx="305.58" cy="401.5" r="1.78" fill="#6b8fc6"/>
<circle cx="310.2" cy="401.5" r="1.78" fill="#9dbfd4"/>
<text x="221.5" y="410.35" font-size="4.5" text-anchor="end" fill="#444" textLength="15.63" lengthAdjust="spacingAndGlyphs">MAP3K1</text>
<circle cx="226.4" cy="408.45" r="1.78" fill="#9dbfd4"/>
<circle cx="231.02" cy="408.45" r="1.78" fill="#9dbfd4"/>
<circle cx="256.5" cy="408.45" r="1.78" fill="#dc8c4c"/>
<circle cx="261.12" cy="408.45" r="1.78" fill="#dc8c4c"/>
<circle cx="265.74" cy="408.45" r="1.78" fill="#bb4634"/>
<circle cx="270.36" cy="408.45" r="1.78" fill="#bb4634"/>
<circle cx="274.98" cy="408.45" r="1.78" fill="#8a1c26"/>
<circle cx="279.6" cy="408.45" r="1.78" fill="#dc8c4c"/>
<circle cx="291.72" cy="408.45" r="1.78" fill="#dc8c4c"/>
<circle cx="296.34" cy="408.45" r="1.78" fill="#dc8c4c"/>
<circle cx="300.96" cy="408.45" r="1.78" fill="#dc8c4c"/>
<circle cx="305.58" cy="408.45" r="1.78" fill="#dc8c4c"/>
<circle cx="310.2" cy="408.45" r="1.78" fill="#e3c05a"/>
<text x="221.5" y="417.31" font-size="4.5" text-anchor="end" fill="#444" textLength="10.78" lengthAdjust="spacingAndGlyphs">C1QB</text>
<circle cx="231.02" cy="415.41" r="1.78" fill="#6b8fc6"/>
<circle cx="235.64" cy="415.41" r="1.78" fill="#6b8fc6"/>
<circle cx="244.88" cy="415.41" r="1.78" fill="#6b8fc6"/>
<circle cx="249.5" cy="415.41" r="1.78" fill="#6b8fc6"/>
<circle cx="256.5" cy="415.41" r="1.78" fill="#8a1c26"/>
<circle cx="265.74" cy="415.41" r="1.78" fill="#8a1c26"/>
<circle cx="270.36" cy="415.41" r="1.78" fill="#8a1c26"/>
<circle cx="274.98" cy="415.41" r="1.78" fill="#8a1c26"/>
<circle cx="279.6" cy="415.41" r="1.78" fill="#8a1c26"/>
<circle cx="305.58" cy="415.41" r="1.78" fill="#8a1c26"/>
<circle cx="310.2" cy="415.41" r="1.78" fill="#dc8c4c"/>
<text x="221.5" y="424.26" font-size="4.5" text-anchor="end" fill="#444" textLength="10.12" lengthAdjust="spacingAndGlyphs">CD68</text>
<circle cx="226.4" cy="422.37" r="1.78" fill="#9dbfd4"/>
<circle cx="231.02" cy="422.37" r="1.78" fill="#9dbfd4"/>
<circle cx="256.5" cy="422.37" r="1.78" fill="#e3c05a"/>
<circle cx="270.36" cy="422.37" r="1.78" fill="#dc8c4c"/>
<circle cx="274.98" cy="422.37" r="1.78" fill="#dc8c4c"/>
<circle cx="279.6" cy="422.37" r="1.78" fill="#dc8c4c"/>
<text x="221.5" y="431.22" font-size="4.5" text-anchor="end" fill="#444" textLength="10.78" lengthAdjust="spacingAndGlyphs">CTSC</text>
<circle cx="226.4" cy="429.32" r="1.78" fill="#6b8fc6"/>
<circle cx="231.02" cy="429.32" r="1.78" fill="#6b8fc6"/>
<circle cx="240.26" cy="429.32" r="1.78" fill="#6b8fc6"/>
<circle cx="256.5" cy="429.32" r="1.78" fill="#e3c05a"/>
<circle cx="265.74" cy="429.32" r="1.78" fill="#bb4634"/>
<circle cx="270.36" cy="429.32" r="1.78" fill="#bb4634"/>
<circle cx="274.98" cy="429.32" r="1.78" fill="#8a1c26"/>
<circle cx="279.6" cy="429.32" r="1.78" fill="#8a1c26"/>
<text x="221.5" y="438.17" font-size="4.5" text-anchor="end" fill="#444" textLength="6.97" lengthAdjust="spacingAndGlyphs">LYZ</text>
<circle cx="226.4" cy="436.27" r="1.78" fill="#6b8fc6"/>
<circle cx="231.02" cy="436.27" r="1.78" fill="#6b8fc6"/>
<circle cx="256.5" cy="436.27" r="1.78" fill="#e3c05a"/>
<circle cx="261.12" cy="436.27" r="1.78" fill="#e3c05a"/>
<circle cx="265.74" cy="436.27" r="1.78" fill="#e3c05a"/>
<circle cx="270.36" cy="436.27" r="1.78" fill="#dc8c4c"/>
<circle cx="274.98" cy="436.27" r="1.78" fill="#e3c05a"/>
<circle cx="279.6" cy="436.27" r="1.78" fill="#e3c05a"/>
<circle cx="291.72" cy="436.27" r="1.78" fill="#e3c05a"/>
<text x="221.5" y="445.13" font-size="4.5" text-anchor="end" fill="#444" textLength="10.34" lengthAdjust="spacingAndGlyphs">CTSZ</text>
<circle cx="235.64" cy="443.23" r="1.78" fill="#6b8fc6"/>
<circle cx="244.88" cy="443.23" r="1.78" fill="#6b8fc6"/>
<circle cx="265.74" cy="443.23" r="1.78" fill="#dc8c4c"/>
<circle cx="270.36" cy="443.23" r="1.78" fill="#bb4634"/>
<circle cx="274.98" cy="443.23" r="1.78" fill="#dc8c4c"/>
<circle cx="279.6" cy="443.23" r="1.78" fill="#e3c05a"/>
<text x="221.5" y="452.08" font-size="4.5" text-anchor="end" fill="#444" textLength="17.61" lengthAdjust="spacingAndGlyphs">CLEC10A</text>
<circle cx="235.64" cy="450.18" r="1.78" fill="#6b8fc6"/>
<circle cx="256.5" cy="450.18" r="1.78" fill="#8a1c26"/>
<circle cx="265.74" cy="450.18" r="1.78" fill="#8a1c26"/>
<circle cx="270.36" cy="450.18" r="1.78" fill="#e3c05a"/>
<text x="221.5" y="459.04" font-size="4.5" text-anchor="end" fill="#444" textLength="10.78" lengthAdjust="spacingAndGlyphs">C1QA</text>
<circle cx="231.02" cy="457.14" r="1.78" fill="#6b8fc6"/>
<circle cx="235.64" cy="457.14" r="1.78" fill="#6b8fc6"/>
<circle cx="249.5" cy="457.14" r="1.78" fill="#9dbfd4"/>
<circle cx="256.5" cy="457.14" r="1.78" fill="#8a1c26"/>
<circle cx="261.12" cy="457.14" r="1.78" fill="#8a1c26"/>
<circle cx="265.74" cy="457.14" r="1.78" fill="#8a1c26"/>
<circle cx="270.36" cy="457.14" r="1.78" fill="#8a1c26"/>
<circle cx="274.98" cy="457.14" r="1.78" fill="#8a1c26"/>
<circle cx="279.6" cy="457.14" r="1.78" fill="#8a1c26"/>
<circle cx="287.1" cy="457.14" r="1.78" fill="#dc8c4c"/>
<circle cx="291.72" cy="457.14" r="1.78" fill="#8a1c26"/>
<circle cx="296.34" cy="457.14" r="1.78" fill="#bb4634"/>
<circle cx="305.58" cy="457.14" r="1.78" fill="#dc8c4c"/>
<circle cx="310.2" cy="457.14" r="1.78" fill="#e3c05a"/>
<text x="221.5" y="465.99" font-size="4.5" text-anchor="end" fill="#444" textLength="10.12" lengthAdjust="spacingAndGlyphs">CD36</text>
<circle cx="231.02" cy="464.09" r="1.78" fill="#3a5fae"/>
<circle cx="235.64" cy="464.09" r="1.78" fill="#6b8fc6"/>
<circle cx="244.88" cy="464.09" r="1.78" fill="#6b8fc6"/>
<circle cx="256.5" cy="464.09" r="1.78" fill="#bb4634"/>
<circle cx="261.12" cy="464.09" r="1.78" fill="#bb4634"/>
<circle cx="265.74" cy="464.09" r="1.78" fill="#dc8c4c"/>
<circle cx="270.36" cy="464.09" r="1.78" fill="#bb4634"/>
<circle cx="274.98" cy="464.09" r="1.78" fill="#dc8c4c"/>
<circle cx="279.6" cy="464.09" r="1.78" fill="#bb4634"/>
<circle cx="291.72" cy="464.09" r="1.78" fill="#e3c05a"/>
<circle cx="300.96" cy="464.09" r="1.78" fill="#e3c05a"/>
<circle cx="310.2" cy="464.09" r="1.78" fill="#e3c05a"/>
<text x="221.5" y="472.95" font-size="4.5" text-anchor="end" fill="#444" textLength="11" lengthAdjust="spacingAndGlyphs">C1QC</text>
<circle cx="235.64" cy="471.05" r="1.78" fill="#6b8fc6"/>
<circle cx="249.5" cy="471.05" r="1.78" fill="#3a5fae"/>
<circle cx="256.5" cy="471.05" r="1.78" fill="#bb4634"/>
<circle cx="261.12" cy="471.05" r="1.78" fill="#dc8c4c"/>
<circle cx="265.74" cy="471.05" r="1.78" fill="#bb4634"/>
<circle cx="270.36" cy="471.05" r="1.78" fill="#bb4634"/>
<circle cx="274.98" cy="471.05" r="1.78" fill="#bb4634"/>
<circle cx="279.6" cy="471.05" r="1.78" fill="#8a1c26"/>
<circle cx="310.2" cy="471.05" r="1.78" fill="#e3c05a"/>
<text x="221.5" y="479.9" font-size="4.5" text-anchor="end" fill="#444" textLength="12.76" lengthAdjust="spacingAndGlyphs">FOLR2</text>
<circle cx="231.02" cy="478" r="1.78" fill="#6b8fc6"/>
<circle cx="235.64" cy="478" r="1.78" fill="#6b8fc6"/>
<circle cx="240.26" cy="478" r="1.78" fill="#6b8fc6"/>
<circle cx="244.88" cy="478" r="1.78" fill="#6b8fc6"/>
<circle cx="265.74" cy="478" r="1.78" fill="#8a1c26"/>
<circle cx="270.36" cy="478" r="1.78" fill="#8a1c26"/>
<circle cx="274.98" cy="478" r="1.78" fill="#8a1c26"/>
<text x="221.5" y="486.86" font-size="4.5" text-anchor="end" fill="#444" textLength="10.56" lengthAdjust="spacingAndGlyphs">CTSB</text>
<circle cx="235.64" cy="484.96" r="1.78" fill="#6b8fc6"/>
<circle cx="240.26" cy="484.96" r="1.78" fill="#6b8fc6"/>
<circle cx="244.88" cy="484.96" r="1.78" fill="#6b8fc6"/>
<circle cx="256.5" cy="484.96" r="1.78" fill="#e3c05a"/>
<circle cx="270.36" cy="484.96" r="1.78" fill="#e3c05a"/>
<circle cx="279.6" cy="484.96" r="1.78" fill="#e3c05a"/>
<text x="221.5" y="493.81" font-size="4.5" text-anchor="end" fill="#444" textLength="7.71" lengthAdjust="spacingAndGlyphs">IL10</text>
<circle cx="240.26" cy="491.91" r="1.78" fill="#6b8fc6"/>
<circle cx="244.88" cy="491.91" r="1.78" fill="#6b8fc6"/>
<circle cx="265.74" cy="491.91" r="1.78" fill="#8a1c26"/>
<circle cx="270.36" cy="491.91" r="1.78" fill="#8a1c26"/>
<circle cx="274.98" cy="491.91" r="1.78" fill="#dc8c4c"/>
<circle cx="279.6" cy="491.91" r="1.78" fill="#bb4634"/>
<circle cx="296.34" cy="491.91" r="1.78" fill="#bb4634"/>
<text x="227.3" y="497.6" font-size="4" text-anchor="end" fill="#555" transform="rotate(-90 227.3 497.6)" textLength="30.27" lengthAdjust="spacingAndGlyphs">Monos LYZ high</text>
<text x="231.92" y="497.6" font-size="4" text-anchor="end" fill="#555" transform="rotate(-90 231.92 497.6)" textLength="38.52" lengthAdjust="spacingAndGlyphs">Monos BCL2A1 high</text>
<text x="236.54" y="497.6" font-size="4" text-anchor="end" fill="#555" transform="rotate(-90 236.54 497.6)" textLength="28.96" lengthAdjust="spacingAndGlyphs">Mϕs SPP1 high</text>
<text x="241.16" y="497.6" font-size="4" text-anchor="end" fill="#555" transform="rotate(-90 241.16 497.6)" textLength="30.36" lengthAdjust="spacingAndGlyphs">Mϕs MKI67 high</text>
<text x="245.78" y="497.6" font-size="4" text-anchor="end" fill="#555" transform="rotate(-90 245.78 497.6)" textLength="35.25" lengthAdjust="spacingAndGlyphs">DCs RNASE1 high</text>
<text x="250.4" y="497.6" font-size="4" text-anchor="end" fill="#555" transform="rotate(-90 250.4 497.6)" textLength="29.88" lengthAdjust="spacingAndGlyphs">DCs CD1C high</text>
<text x="257.4" y="497.6" font-size="4" text-anchor="end" fill="#555" transform="rotate(-90 257.4 497.6)" textLength="30.27" lengthAdjust="spacingAndGlyphs">Monos LYZ high</text>
<text x="262.02" y="497.6" font-size="4" text-anchor="end" fill="#555" transform="rotate(-90 262.02 497.6)" textLength="38.52" lengthAdjust="spacingAndGlyphs">Monos BCL2A1 high</text>
<text x="266.64" y="497.6" font-size="4" text-anchor="end" fill="#555" transform="rotate(-90 266.64 497.6)" textLength="28.96" lengthAdjust="spacingAndGlyphs">Mϕs SPP1 high</text>
<text x="271.26" y="497.6" font-size="4" text-anchor="end" fill="#555" transform="rotate(-90 271.26 497.6)" textLength="30.36" lengthAdjust="spacingAndGlyphs">Mϕs MKI67 high</text>
<text x="275.88" y="497.6" font-size="4" text-anchor="end" fill="#555" transform="rotate(-90 275.88 497.6)" textLength="35.25" lengthAdjust="spacingAndGlyphs">DCs RNASE1 high</text>
<text x="280.5" y="497.6" font-size="4" text-anchor="end" fill="#555" transform="rotate(-90 280.5 497.6)" textLength="29.88" lengthAdjust="spacingAndGlyphs">DCs CD1C high</text>
<text x="288" y="497.6" font-size="4" text-anchor="end" fill="#555" transform="rotate(-90 288 497.6)" textLength="30.27" lengthAdjust="spacingAndGlyphs">Monos LYZ high</text>
<text x="292.62" y="497.6" font-size="4" text-anchor="end" fill="#555" transform="rotate(-90 292.62 497.6)" textLength="38.52" lengthAdjust="spacingAndGlyphs">Monos BCL2A1 high</text>
<text x="297.24" y="497.6" font-size="4" text-anchor="end" fill="#555" transform="rotate(-90 297.24 497.6)" textLength="28.96" lengthAdjust="spacingAndGlyphs">Mϕs SPP1 high</text>
<text x="301.86" y="497.6" font-size="4" text-anchor="end" fill="#555" transform="rotate(-90 301.86 497.6)" textLength="30.36" lengthAdjust="spacingAndGlyphs">Mϕs MKI67 high</text>
<text x="306.48" y="497.6" font-size="4" text-anchor="end" fill="#555" transform="rotate(-90 306.48 497.6)" textLength="35.25" lengthAdjust="spacingAndGlyphs">DCs RNASE1 high</text>
<text x="311.1" y="497.6" font-size="4" text-anchor="end" fill="#555" transform="rotate(-90 311.1 497.6)" textLength="29.88" lengthAdjust="spacingAndGlyphs">DCs CD1C high</text>
<defs><linearGradient id="rdylbu" x1="0" y1="0" x2="0" y2="1"><stop offset="0" stop-color="#9e1a28"/><stop offset="0.2" stop-color="#dd5a34"/><stop offset="0.38" stop-color="#f2b04a"/><stop offset="0.5" stop-color="#f5f0c8"/><stop offset="0.62" stop-color="#a8cfe2"/><stop offset="0.8" stop-color="#5a8ac2"/><stop offset="1" stop-color="#283a8e"/></linearGradient></defs>
<rect x="315.7" y="366" width="5.1" height="26.6" fill="url(#rdylbu)"/>
<text x="322.6" y="368.6" font-size="4.6" fill="#666">2</text>
<text x="322.6" y="375.1" font-size="4.6" fill="#666">1</text>
<text x="322.6" y="381.6" font-size="4.6" fill="#666">0</text>
<text x="322.6" y="388.1" font-size="4.6" fill="#666">−1</text>
<text x="322.6" y="394.6" font-size="4.6" fill="#666">−2</text>
<text x="315.3" y="352" font-size="4.7" fill="#555" textLength="8.2" lengthAdjust="spacingAndGlyphs">log2</text>
<text x="315.3" y="357.2" font-size="4.7" fill="#555" textLength="8" lengthAdjust="spacingAndGlyphs">Fold</text>
<text x="315.3" y="362.4" font-size="4.7" fill="#555" textLength="14" lengthAdjust="spacingAndGlyphs">Change</text>
<text x="331.3" y="247.9" font-size="12" fill="#000" font-weight="bold">I</text>
<line x1="417.8" y1="258.9" x2="417.8" y2="495.37" stroke="#eeeeee" stroke-width="0.3"/>
<line x1="423.16" y1="258.9" x2="423.16" y2="495.37" stroke="#eeeeee" stroke-width="0.3"/>
<line x1="428.52" y1="258.9" x2="428.52" y2="495.37" stroke="#eeeeee" stroke-width="0.3"/>
<line x1="433.88" y1="258.9" x2="433.88" y2="495.37" stroke="#eeeeee" stroke-width="0.3"/>
<line x1="439.24" y1="258.9" x2="439.24" y2="495.37" stroke="#eeeeee" stroke-width="0.3"/>
<line x1="444.6" y1="258.9" x2="444.6" y2="495.37" stroke="#eeeeee" stroke-width="0.3"/>
<line x1="449.96" y1="258.9" x2="449.96" y2="495.37" stroke="#eeeeee" stroke-width="0.3"/>
<line x1="455.32" y1="258.9" x2="455.32" y2="495.37" stroke="#eeeeee" stroke-width="0.3"/>
<line x1="417.8" y1="258.9" x2="455.32" y2="258.9" stroke="#eeeeee" stroke-width="0.3"/>
<line x1="417.8" y1="265.85" x2="455.32" y2="265.85" stroke="#eeeeee" stroke-width="0.3"/>
<line x1="417.8" y1="272.81" x2="455.32" y2="272.81" stroke="#eeeeee" stroke-width="0.3"/>
<line x1="417.8" y1="279.76" x2="455.32" y2="279.76" stroke="#eeeeee" stroke-width="0.3"/>
<line x1="417.8" y1="286.72" x2="455.32" y2="286.72" stroke="#eeeeee" stroke-width="0.3"/>
<line x1="417.8" y1="293.67" x2="455.32" y2="293.67" stroke="#eeeeee" stroke-width="0.3"/>
<line x1="417.8" y1="300.63" x2="455.32" y2="300.63" stroke="#eeeeee" stroke-width="0.3"/>
<line x1="417.8" y1="307.58" x2="455.32" y2="307.58" stroke="#eeeeee" stroke-width="0.3"/>
<line x1="417.8" y1="314.54" x2="455.32" y2="314.54" stroke="#eeeeee" stroke-width="0.3"/>
<line x1="417.8" y1="321.5" x2="455.32" y2="321.5" stroke="#eeeeee" stroke-width="0.3"/>
<line x1="417.8" y1="328.45" x2="455.32" y2="328.45" stroke="#eeeeee" stroke-width="0.3"/>
<line x1="417.8" y1="335.4" x2="455.32" y2="335.4" stroke="#eeeeee" stroke-width="0.3"/>
<line x1="417.8" y1="342.36" x2="455.32" y2="342.36" stroke="#eeeeee" stroke-width="0.3"/>
<line x1="417.8" y1="349.31" x2="455.32" y2="349.31" stroke="#eeeeee" stroke-width="0.3"/>
<line x1="417.8" y1="356.27" x2="455.32" y2="356.27" stroke="#eeeeee" stroke-width="0.3"/>
<line x1="417.8" y1="363.22" x2="455.32" y2="363.22" stroke="#eeeeee" stroke-width="0.3"/>
<line x1="417.8" y1="370.18" x2="455.32" y2="370.18" stroke="#eeeeee" stroke-width="0.3"/>
<line x1="417.8" y1="377.13" x2="455.32" y2="377.13" stroke="#eeeeee" stroke-width="0.3"/>
<line x1="417.8" y1="384.09" x2="455.32" y2="384.09" stroke="#eeeeee" stroke-width="0.3"/>
<line x1="417.8" y1="391.04" x2="455.32" y2="391.04" stroke="#eeeeee" stroke-width="0.3"/>
<line x1="417.8" y1="398" x2="455.32" y2="398" stroke="#eeeeee" stroke-width="0.3"/>
<line x1="417.8" y1="404.95" x2="455.32" y2="404.95" stroke="#eeeeee" stroke-width="0.3"/>
<line x1="417.8" y1="411.91" x2="455.32" y2="411.91" stroke="#eeeeee" stroke-width="0.3"/>
<line x1="417.8" y1="418.87" x2="455.32" y2="418.87" stroke="#eeeeee" stroke-width="0.3"/>
<line x1="417.8" y1="425.82" x2="455.32" y2="425.82" stroke="#eeeeee" stroke-width="0.3"/>
<line x1="417.8" y1="432.77" x2="455.32" y2="432.77" stroke="#eeeeee" stroke-width="0.3"/>
<line x1="417.8" y1="439.73" x2="455.32" y2="439.73" stroke="#eeeeee" stroke-width="0.3"/>
<line x1="417.8" y1="446.68" x2="455.32" y2="446.68" stroke="#eeeeee" stroke-width="0.3"/>
<line x1="417.8" y1="453.64" x2="455.32" y2="453.64" stroke="#eeeeee" stroke-width="0.3"/>
<line x1="417.8" y1="460.59" x2="455.32" y2="460.59" stroke="#eeeeee" stroke-width="0.3"/>
<line x1="417.8" y1="467.55" x2="455.32" y2="467.55" stroke="#eeeeee" stroke-width="0.3"/>
<line x1="417.8" y1="474.5" x2="455.32" y2="474.5" stroke="#eeeeee" stroke-width="0.3"/>
<line x1="417.8" y1="481.46" x2="455.32" y2="481.46" stroke="#eeeeee" stroke-width="0.3"/>
<line x1="417.8" y1="488.41" x2="455.32" y2="488.41" stroke="#eeeeee" stroke-width="0.3"/>
<line x1="417.8" y1="495.37" x2="455.32" y2="495.37" stroke="#eeeeee" stroke-width="0.3"/>
<line x1="458.1" y1="258.9" x2="458.1" y2="495.37" stroke="#eeeeee" stroke-width="0.3"/>
<line x1="463.46" y1="258.9" x2="463.46" y2="495.37" stroke="#eeeeee" stroke-width="0.3"/>
<line x1="468.82" y1="258.9" x2="468.82" y2="495.37" stroke="#eeeeee" stroke-width="0.3"/>
<line x1="474.18" y1="258.9" x2="474.18" y2="495.37" stroke="#eeeeee" stroke-width="0.3"/>
<line x1="479.54" y1="258.9" x2="479.54" y2="495.37" stroke="#eeeeee" stroke-width="0.3"/>
<line x1="484.9" y1="258.9" x2="484.9" y2="495.37" stroke="#eeeeee" stroke-width="0.3"/>
<line x1="490.26" y1="258.9" x2="490.26" y2="495.37" stroke="#eeeeee" stroke-width="0.3"/>
<line x1="495.62" y1="258.9" x2="495.62" y2="495.37" stroke="#eeeeee" stroke-width="0.3"/>
<line x1="458.1" y1="258.9" x2="495.62" y2="258.9" stroke="#eeeeee" stroke-width="0.3"/>
<line x1="458.1" y1="265.85" x2="495.62" y2="265.85" stroke="#eeeeee" stroke-width="0.3"/>
<line x1="458.1" y1="272.81" x2="495.62" y2="272.81" stroke="#eeeeee" stroke-width="0.3"/>
<line x1="458.1" y1="279.76" x2="495.62" y2="279.76" stroke="#eeeeee" stroke-width="0.3"/>
<line x1="458.1" y1="286.72" x2="495.62" y2="286.72" stroke="#eeeeee" stroke-width="0.3"/>
<line x1="458.1" y1="293.67" x2="495.62" y2="293.67" stroke="#eeeeee" stroke-width="0.3"/>
<line x1="458.1" y1="300.63" x2="495.62" y2="300.63" stroke="#eeeeee" stroke-width="0.3"/>
<line x1="458.1" y1="307.58" x2="495.62" y2="307.58" stroke="#eeeeee" stroke-width="0.3"/>
<line x1="458.1" y1="314.54" x2="495.62" y2="314.54" stroke="#eeeeee" stroke-width="0.3"/>
<line x1="458.1" y1="321.5" x2="495.62" y2="321.5" stroke="#eeeeee" stroke-width="0.3"/>
<line x1="458.1" y1="328.45" x2="495.62" y2="328.45" stroke="#eeeeee" stroke-width="0.3"/>
<line x1="458.1" y1="335.4" x2="495.62" y2="335.4" stroke="#eeeeee" stroke-width="0.3"/>
<line x1="458.1" y1="342.36" x2="495.62" y2="342.36" stroke="#eeeeee" stroke-width="0.3"/>
<line x1="458.1" y1="349.31" x2="495.62" y2="349.31" stroke="#eeeeee" stroke-width="0.3"/>
<line x1="458.1" y1="356.27" x2="495.62" y2="356.27" stroke="#eeeeee" stroke-width="0.3"/>
<line x1="458.1" y1="363.22" x2="495.62" y2="363.22" stroke="#eeeeee" stroke-width="0.3"/>
<line x1="458.1" y1="370.18" x2="495.62" y2="370.18" stroke="#eeeeee" stroke-width="0.3"/>
<line x1="458.1" y1="377.13" x2="495.62" y2="377.13" stroke="#eeeeee" stroke-width="0.3"/>
<line x1="458.1" y1="384.09" x2="495.62" y2="384.09" stroke="#eeeeee" stroke-width="0.3"/>
<line x1="458.1" y1="391.04" x2="495.62" y2="391.04" stroke="#eeeeee" stroke-width="0.3"/>
<line x1="458.1" y1="398" x2="495.62" y2="398" stroke="#eeeeee" stroke-width="0.3"/>
<line x1="458.1" y1="404.95" x2="495.62" y2="404.95" stroke="#eeeeee" stroke-width="0.3"/>
<line x1="458.1" y1="411.91" x2="495.62" y2="411.91" stroke="#eeeeee" stroke-width="0.3"/>
<line x1="458.1" y1="418.87" x2="495.62" y2="418.87" stroke="#eeeeee" stroke-width="0.3"/>
<line x1="458.1" y1="425.82" x2="495.62" y2="425.82" stroke="#eeeeee" stroke-width="0.3"/>
<line x1="458.1" y1="432.77" x2="495.62" y2="432.77" stroke="#eeeeee" stroke-width="0.3"/>
<line x1="458.1" y1="439.73" x2="495.62" y2="439.73" stroke="#eeeeee" stroke-width="0.3"/>
<line x1="458.1" y1="446.68" x2="495.62" y2="446.68" stroke="#eeeeee" stroke-width="0.3"/>
<line x1="458.1" y1="453.64" x2="495.62" y2="453.64" stroke="#eeeeee" stroke-width="0.3"/>
<line x1="458.1" y1="460.59" x2="495.62" y2="460.59" stroke="#eeeeee" stroke-width="0.3"/>
<line x1="458.1" y1="467.55" x2="495.62" y2="467.55" stroke="#eeeeee" stroke-width="0.3"/>
<line x1="458.1" y1="474.5" x2="495.62" y2="474.5" stroke="#eeeeee" stroke-width="0.3"/>
<line x1="458.1" y1="481.46" x2="495.62" y2="481.46" stroke="#eeeeee" stroke-width="0.3"/>
<line x1="458.1" y1="488.41" x2="495.62" y2="488.41" stroke="#eeeeee" stroke-width="0.3"/>
<line x1="458.1" y1="495.37" x2="495.62" y2="495.37" stroke="#eeeeee" stroke-width="0.3"/>
<text x="413.9" y="263.98" font-size="4.5" text-anchor="end" fill="#444" textLength="52.66" lengthAdjust="spacingAndGlyphs">Cell adhesion molecules (K)</text>
<rect x="417.95" y="259.05" width="5.06" height="6.66" fill="#c5312c"/>
<rect x="423.31" y="259.05" width="5.06" height="6.66" fill="#c5312c"/>
<rect x="428.67" y="259.05" width="5.06" height="6.66" fill="#c5312c"/>
<rect x="434.03" y="259.05" width="5.06" height="6.66" fill="#c5312c"/>
<rect x="439.39" y="259.05" width="5.06" height="6.66" fill="#c5312c"/>
<rect x="444.75" y="259.05" width="5.06" height="6.66" fill="#c5312c"/>
<rect x="450.11" y="259.05" width="5.06" height="6.66" fill="#c5312c"/>
<rect x="458.25" y="259.05" width="5.06" height="6.66" fill="#c5312c"/>
<rect x="485.05" y="259.05" width="5.06" height="6.66" fill="#c5312c"/>
<text x="413.9" y="270.93" font-size="4.5" text-anchor="end" fill="#444" textLength="68.88" lengthAdjust="spacingAndGlyphs">IL-3, IL-5 And GM-CSF Signaling (R)</text>
<rect x="423.31" y="266" width="5.06" height="6.66" fill="#c5312c"/>
<rect x="434.03" y="266" width="5.06" height="6.66" fill="#c5312c"/>
<rect x="439.39" y="266" width="5.06" height="6.66" fill="#c5312c"/>
<rect x="444.75" y="266" width="5.06" height="6.66" fill="#c5312c"/>
<rect x="450.11" y="266" width="5.06" height="6.66" fill="#c5312c"/>
<rect x="463.61" y="266" width="5.06" height="6.66" fill="#c5312c"/>
<rect x="479.69" y="266" width="5.06" height="6.66" fill="#c5312c"/>
<rect x="490.41" y="266" width="5.06" height="6.66" fill="#c5312c"/>
<text x="413.9" y="277.89" font-size="4.5" text-anchor="end" fill="#444" textLength="34" lengthAdjust="spacingAndGlyphs">CIITA human (TR)</text>
<rect x="423.31" y="272.96" width="5.06" height="6.66" fill="#c5312c"/>
<rect x="428.67" y="272.96" width="5.06" height="6.66" fill="#c5312c"/>
<rect x="434.03" y="272.96" width="5.06" height="6.66" fill="#a51d22"/>
<rect x="444.75" y="272.96" width="5.06" height="6.66" fill="#a51d22"/>
<rect x="450.11" y="272.96" width="5.06" height="6.66" fill="#c5312c"/>
<rect x="485.05" y="272.96" width="5.06" height="6.66" fill="#c5312c"/>
<text x="413.9" y="284.84" font-size="4.5" text-anchor="end" fill="#444" textLength="75.48" lengthAdjust="spacingAndGlyphs">Antigen processing and presentation (K)</text>
<rect x="423.31" y="279.91" width="5.06" height="6.66" fill="#c5312c"/>
<rect x="434.03" y="279.91" width="5.06" height="6.66" fill="#a51d22"/>
<rect x="444.75" y="279.91" width="5.06" height="6.66" fill="#a51d22"/>
<rect x="450.11" y="279.91" width="5.06" height="6.66" fill="#c5312c"/>
<rect x="458.25" y="279.91" width="5.06" height="6.66" fill="#c5312c"/>
<rect x="485.05" y="279.91" width="5.06" height="6.66" fill="#c5312c"/>
<text x="413.9" y="291.8" font-size="4.5" text-anchor="end" fill="#444" textLength="46.54" lengthAdjust="spacingAndGlyphs">IL-2 Family Signaling (R)</text>
<rect x="423.31" y="286.87" width="5.06" height="6.66" fill="#c5312c"/>
<rect x="439.39" y="286.87" width="5.06" height="6.66" fill="#c5312c"/>
<rect x="444.75" y="286.87" width="5.06" height="6.66" fill="#c5312c"/>
<rect x="450.11" y="286.87" width="5.06" height="6.66" fill="#c5312c"/>
<rect x="479.69" y="286.87" width="5.06" height="6.66" fill="#c5312c"/>
<rect x="490.41" y="286.87" width="5.06" height="6.66" fill="#c5312c"/>
<text x="413.9" y="298.75" font-size="4.5" text-anchor="end" fill="#444" textLength="62.06" lengthAdjust="spacingAndGlyphs">Interferon Gamma Response (M)</text>
<rect x="417.95" y="293.82" width="5.06" height="6.66" fill="#de6a45"/>
<rect x="423.31" y="293.82" width="5.06" height="6.66" fill="#c5312c"/>
<rect x="434.03" y="293.82" width="5.06" height="6.66" fill="#c5312c"/>
<rect x="439.39" y="293.82" width="5.06" height="6.66" fill="#de6a45"/>
<rect x="444.75" y="293.82" width="5.06" height="6.66" fill="#c5312c"/>
<rect x="450.11" y="293.82" width="5.06" height="6.66" fill="#c5312c"/>
<rect x="468.97" y="293.82" width="5.06" height="6.66" fill="#2f57a7"/>
<text x="413.9" y="305.71" font-size="4.5" text-anchor="end" fill="#444" textLength="31.97" lengthAdjust="spacingAndGlyphs">Dendritic Cell (A)</text>
<rect x="439.39" y="300.78" width="5.06" height="6.66" fill="#c5312c"/>
<rect x="444.75" y="300.78" width="5.06" height="6.66" fill="#a51d22"/>
<rect x="450.11" y="300.78" width="5.06" height="6.66" fill="#c5312c"/>
<text x="413.9" y="312.66" font-size="4.5" text-anchor="end" fill="#444" textLength="80.88" lengthAdjust="spacingAndGlyphs">Complement and coagulation cascades (K)</text>
<rect x="423.31" y="307.73" width="5.06" height="6.66" fill="#c5312c"/>
<rect x="439.39" y="307.73" width="5.06" height="6.66" fill="#c5312c"/>
<rect x="444.75" y="307.73" width="5.06" height="6.66" fill="#c5312c"/>
<rect x="450.11" y="307.73" width="5.06" height="6.66" fill="#c5312c"/>
<rect x="463.61" y="307.73" width="5.06" height="6.66" fill="#2f57a7"/>
<rect x="468.97" y="307.73" width="5.06" height="6.66" fill="#2f57a7"/>
<text x="413.9" y="319.62" font-size="4.5" text-anchor="end" fill="#444" textLength="64.4" lengthAdjust="spacingAndGlyphs">Costimulation By CD28 Family (R)</text>
<rect x="423.31" y="314.69" width="5.06" height="6.66" fill="#c5312c"/>
<rect x="444.75" y="314.69" width="5.06" height="6.66" fill="#c5312c"/>
<rect x="450.11" y="314.69" width="5.06" height="6.66" fill="#de6a45"/>
<text x="413.9" y="326.57" font-size="4.5" text-anchor="end" fill="#444" textLength="50.47" lengthAdjust="spacingAndGlyphs">Th17 cell differentiation (K)</text>
<rect x="423.31" y="321.64" width="5.06" height="6.66" fill="#c5312c"/>
<rect x="434.03" y="321.64" width="5.06" height="6.66" fill="#c5312c"/>
<rect x="444.75" y="321.64" width="5.06" height="6.66" fill="#c5312c"/>
<rect x="468.97" y="321.64" width="5.06" height="6.66" fill="#2f57a7"/>
<text x="413.9" y="333.53" font-size="4.5" text-anchor="end" fill="#444" textLength="35.26" lengthAdjust="spacingAndGlyphs">PD-1 Signaling (R)</text>
<rect x="444.75" y="328.6" width="5.06" height="6.66" fill="#c5312c"/>
<rect x="450.11" y="328.6" width="5.06" height="6.66" fill="#de6a45"/>
<text x="413.9" y="340.48" font-size="4.5" text-anchor="end" fill="#444" textLength="80.01" lengthAdjust="spacingAndGlyphs">pos. reg. of T cell mediated cytotoxicity (G)</text>
<rect x="423.31" y="335.55" width="5.06" height="6.66" fill="#c5312c"/>
<rect x="450.11" y="335.55" width="5.06" height="6.66" fill="#c5312c"/>
<text x="413.9" y="347.44" font-size="4.5" text-anchor="end" fill="#444" textLength="50.78" lengthAdjust="spacingAndGlyphs">DAG And IP3 Signaling (R)</text>
<rect x="468.97" y="342.51" width="5.06" height="6.66" fill="#c5312c"/>
<rect x="490.41" y="342.51" width="5.06" height="6.66" fill="#c5312c"/>
<text x="413.9" y="354.39" font-size="4.5" text-anchor="end" fill="#444" textLength="39.61" lengthAdjust="spacingAndGlyphs">CD14+ Monocyte (A)</text>
<rect x="463.61" y="349.46" width="5.06" height="6.66" fill="#2f57a7"/>
<rect x="468.97" y="349.46" width="5.06" height="6.66" fill="#2f57a7"/>
<text x="413.9" y="361.35" font-size="4.5" text-anchor="end" fill="#444" textLength="41.85" lengthAdjust="spacingAndGlyphs">CLEC7A Signaling (R)</text>
<rect x="463.61" y="356.42" width="5.06" height="6.66" fill="#2f57a7"/>
<rect x="468.97" y="356.42" width="5.06" height="6.66" fill="#1f3a88"/>
<text x="413.9" y="368.3" font-size="4.5" text-anchor="end" fill="#444" textLength="68.33" lengthAdjust="spacingAndGlyphs">regulation of MAP kinase activity (G)</text>
<rect x="428.67" y="363.37" width="5.06" height="6.66" fill="#2f57a7"/>
<rect x="434.03" y="363.37" width="5.06" height="6.66" fill="#2f57a7"/>
<rect x="468.97" y="363.37" width="5.06" height="6.66" fill="#2f57a7"/>
<rect x="474.33" y="363.37" width="5.06" height="6.66" fill="#2f57a7"/>
<text x="413.9" y="375.26" font-size="4.5" text-anchor="end" fill="#444" textLength="54.07" lengthAdjust="spacingAndGlyphs">Proliferating Macrophage (A)</text>
<rect x="423.31" y="370.33" width="5.06" height="6.66" fill="#2f57a7"/>
<rect x="444.75" y="370.33" width="5.06" height="6.66" fill="#2f57a7"/>
<rect x="450.11" y="370.33" width="5.06" height="6.66" fill="#2f57a7"/>
<rect x="474.33" y="370.33" width="5.06" height="6.66" fill="#c5312c"/>
<text x="413.9" y="382.21" font-size="4.5" text-anchor="end" fill="#444" textLength="36.27" lengthAdjust="spacingAndGlyphs">STAT4 human (TR)</text>
<rect x="428.67" y="377.28" width="5.06" height="6.66" fill="#2f57a7"/>
<rect x="434.03" y="377.28" width="5.06" height="6.66" fill="#2f57a7"/>
<rect x="444.75" y="377.28" width="5.06" height="6.66" fill="#2f57a7"/>
<rect x="474.33" y="377.28" width="5.06" height="6.66" fill="#1f3a88"/>
<text x="413.9" y="389.17" font-size="4.5" text-anchor="end" fill="#444" textLength="34.32" lengthAdjust="spacingAndGlyphs">ETS2 human (TR)</text>
<rect x="423.31" y="384.24" width="5.06" height="6.66" fill="#2f57a7"/>
<rect x="428.67" y="384.24" width="5.06" height="6.66" fill="#2f57a7"/>
<rect x="444.75" y="384.24" width="5.06" height="6.66" fill="#2f57a7"/>
<rect x="468.97" y="384.24" width="5.06" height="6.66" fill="#6d97cc"/>
<text x="413.9" y="396.12" font-size="4.5" text-anchor="end" fill="#444" textLength="40.43" lengthAdjust="spacingAndGlyphs">G2-M Checkpoint (M)</text>
<rect x="423.31" y="391.19" width="5.06" height="6.66" fill="#1f3a88"/>
<rect x="428.67" y="391.19" width="5.06" height="6.66" fill="#2f57a7"/>
<rect x="444.75" y="391.19" width="5.06" height="6.66" fill="#2f57a7"/>
<rect x="450.11" y="391.19" width="5.06" height="6.66" fill="#1f3a88"/>
<rect x="468.97" y="391.19" width="5.06" height="6.66" fill="#c5312c"/>
<rect x="474.33" y="391.19" width="5.06" height="6.66" fill="#a51d22"/>
<rect x="485.05" y="391.19" width="5.06" height="6.66" fill="#c5312c"/>
<text x="413.9" y="403.08" font-size="4.5" text-anchor="end" fill="#444" textLength="33.85" lengthAdjust="spacingAndGlyphs">KLF4 human (TR)</text>
<rect x="428.67" y="398.15" width="5.06" height="6.66" fill="#2f57a7"/>
<rect x="434.03" y="398.15" width="5.06" height="6.66" fill="#2f57a7"/>
<rect x="439.39" y="398.15" width="5.06" height="6.66" fill="#2f57a7"/>
<rect x="444.75" y="398.15" width="5.06" height="6.66" fill="#2f57a7"/>
<rect x="468.97" y="398.15" width="5.06" height="6.66" fill="#2f57a7"/>
<rect x="474.33" y="398.15" width="5.06" height="6.66" fill="#2f57a7"/>
<text x="413.9" y="410.03" font-size="4.5" text-anchor="end" fill="#444" textLength="33.85" lengthAdjust="spacingAndGlyphs">TP53 human (TR)</text>
<rect x="423.31" y="405.1" width="5.06" height="6.66" fill="#2f57a7"/>
<rect x="434.03" y="405.1" width="5.06" height="6.66" fill="#2f57a7"/>
<rect x="444.75" y="405.1" width="5.06" height="6.66" fill="#2f57a7"/>
<rect x="450.11" y="405.1" width="5.06" height="6.66" fill="#1f3a88"/>
<text x="413.9" y="416.99" font-size="4.5" text-anchor="end" fill="#444" textLength="80.78" lengthAdjust="spacingAndGlyphs">Act. of ATR in resp. to replication stress (R)</text>
<rect x="423.31" y="412.06" width="5.06" height="6.66" fill="#1f3a88"/>
<rect x="444.75" y="412.06" width="5.06" height="6.66" fill="#1f3a88"/>
<rect x="450.11" y="412.06" width="5.06" height="6.66" fill="#1f3a88"/>
<rect x="474.33" y="412.06" width="5.06" height="6.66" fill="#c5312c"/>
<rect x="490.41" y="412.06" width="5.06" height="6.66" fill="#2f57a7"/>
<text x="413.9" y="423.94" font-size="4.5" text-anchor="end" fill="#444" textLength="80.16" lengthAdjust="spacingAndGlyphs">Reg. of RUNX3 expression and activity (R)</text>
<rect x="423.31" y="419.01" width="5.06" height="6.66" fill="#2f57a7"/>
<rect x="428.67" y="419.01" width="5.06" height="6.66" fill="#2f57a7"/>
<rect x="450.11" y="419.01" width="5.06" height="6.66" fill="#2f57a7"/>
<rect x="463.61" y="419.01" width="5.06" height="6.66" fill="#2f57a7"/>
<rect x="468.97" y="419.01" width="5.06" height="6.66" fill="#2f57a7"/>
<rect x="479.69" y="419.01" width="5.06" height="6.66" fill="#2f57a7"/>
<rect x="490.41" y="419.01" width="5.06" height="6.66" fill="#2f57a7"/>
<text x="413.9" y="430.9" font-size="4.5" text-anchor="end" fill="#444" textLength="56.02" lengthAdjust="spacingAndGlyphs">IL-6/JAK/STAT3 Signaling (M)</text>
<rect x="428.67" y="425.97" width="5.06" height="6.66" fill="#2f57a7"/>
<rect x="434.03" y="425.97" width="5.06" height="6.66" fill="#2f57a7"/>
<rect x="463.61" y="425.97" width="5.06" height="6.66" fill="#2f57a7"/>
<rect x="468.97" y="425.97" width="5.06" height="6.66" fill="#1f3a88"/>
<rect x="474.33" y="425.97" width="5.06" height="6.66" fill="#2f57a7"/>
<rect x="479.69" y="425.97" width="5.06" height="6.66" fill="#2f57a7"/>
<rect x="485.05" y="425.97" width="5.06" height="6.66" fill="#2f57a7"/>
<rect x="490.41" y="425.97" width="5.06" height="6.66" fill="#2f57a7"/>
<text x="413.9" y="437.85" font-size="4.5" text-anchor="end" fill="#444" textLength="36.27" lengthAdjust="spacingAndGlyphs">STAT1 human (TR)</text>
<rect x="428.67" y="432.92" width="5.06" height="6.66" fill="#1f3a88"/>
<rect x="434.03" y="432.92" width="5.06" height="6.66" fill="#1f3a88"/>
<rect x="444.75" y="432.92" width="5.06" height="6.66" fill="#2f57a7"/>
<rect x="463.61" y="432.92" width="5.06" height="6.66" fill="#2f57a7"/>
<rect x="468.97" y="432.92" width="5.06" height="6.66" fill="#1f3a88"/>
<rect x="474.33" y="432.92" width="5.06" height="6.66" fill="#1f3a88"/>
<rect x="485.05" y="432.92" width="5.06" height="6.66" fill="#1f3a88"/>
<text x="413.9" y="444.81" font-size="4.5" text-anchor="end" fill="#444" textLength="33.77" lengthAdjust="spacingAndGlyphs">ATF4 human (TR)</text>
<rect x="423.31" y="439.88" width="5.06" height="6.66" fill="#2f57a7"/>
<rect x="428.67" y="439.88" width="5.06" height="6.66" fill="#1f3a88"/>
<rect x="434.03" y="439.88" width="5.06" height="6.66" fill="#2f57a7"/>
<rect x="444.75" y="439.88" width="5.06" height="6.66" fill="#2f57a7"/>
<rect x="463.61" y="439.88" width="5.06" height="6.66" fill="#1f3a88"/>
<rect x="468.97" y="439.88" width="5.06" height="6.66" fill="#2f57a7"/>
<rect x="474.33" y="439.88" width="5.06" height="6.66" fill="#2f57a7"/>
<text x="413.9" y="451.76" font-size="4.5" text-anchor="end" fill="#444" textLength="43.88" lengthAdjust="spacingAndGlyphs">mTORC1 Signaling (M)</text>
<rect x="423.31" y="446.83" width="5.06" height="6.66" fill="#1f3a88"/>
<rect x="428.67" y="446.83" width="5.06" height="6.66" fill="#1f3a88"/>
<rect x="434.03" y="446.83" width="5.06" height="6.66" fill="#6d97cc"/>
<rect x="450.11" y="446.83" width="5.06" height="6.66" fill="#1f3a88"/>
<rect x="463.61" y="446.83" width="5.06" height="6.66" fill="#6d97cc"/>
<rect x="468.97" y="446.83" width="5.06" height="6.66" fill="#2f57a7"/>
<rect x="490.41" y="446.83" width="5.06" height="6.66" fill="#2f57a7"/>
<text x="413.9" y="458.72" font-size="4.5" text-anchor="end" fill="#444" textLength="49.84" lengthAdjust="spacingAndGlyphs">TNF signaling pathway (K)</text>
<rect x="423.31" y="453.79" width="5.06" height="6.66" fill="#2f57a7"/>
<rect x="428.67" y="453.79" width="5.06" height="6.66" fill="#2f57a7"/>
<rect x="434.03" y="453.79" width="5.06" height="6.66" fill="#2f57a7"/>
<rect x="444.75" y="453.79" width="5.06" height="6.66" fill="#2f57a7"/>
<rect x="463.61" y="453.79" width="5.06" height="6.66" fill="#2f57a7"/>
<rect x="468.97" y="453.79" width="5.06" height="6.66" fill="#1f3a88"/>
<rect x="474.33" y="453.79" width="5.06" height="6.66" fill="#1f3a88"/>
<rect x="485.05" y="453.79" width="5.06" height="6.66" fill="#2f57a7"/>
<text x="413.9" y="465.67" font-size="4.5" text-anchor="end" fill="#444" textLength="52.18" lengthAdjust="spacingAndGlyphs">Inflammatory Response (M)</text>
<rect x="428.67" y="460.74" width="5.06" height="6.66" fill="#2f57a7"/>
<rect x="434.03" y="460.74" width="5.06" height="6.66" fill="#2f57a7"/>
<rect x="444.75" y="460.74" width="5.06" height="6.66" fill="#2f57a7"/>
<rect x="463.61" y="460.74" width="5.06" height="6.66" fill="#2f57a7"/>
<rect x="468.97" y="460.74" width="5.06" height="6.66" fill="#1f3a88"/>
<rect x="474.33" y="460.74" width="5.06" height="6.66" fill="#1f3a88"/>
<rect x="485.05" y="460.74" width="5.06" height="6.66" fill="#2f57a7"/>
<rect x="490.41" y="460.74" width="5.06" height="6.66" fill="#2f57a7"/>
<text x="413.9" y="472.63" font-size="4.5" text-anchor="end" fill="#444" textLength="30.24" lengthAdjust="spacingAndGlyphs">E2F Targets (M)</text>
<rect x="417.95" y="467.7" width="5.06" height="6.66" fill="#2f57a7"/>
<rect x="423.31" y="467.7" width="5.06" height="6.66" fill="#2f57a7"/>
<rect x="428.67" y="467.7" width="5.06" height="6.66" fill="#2f57a7"/>
<rect x="434.03" y="467.7" width="5.06" height="6.66" fill="#2f57a7"/>
<rect x="444.75" y="467.7" width="5.06" height="6.66" fill="#2f57a7"/>
<rect x="450.11" y="467.7" width="5.06" height="6.66" fill="#2f57a7"/>
<rect x="468.97" y="467.7" width="5.06" height="6.66" fill="#de6a45"/>
<rect x="474.33" y="467.7" width="5.06" height="6.66" fill="#a51d22"/>
<rect x="485.05" y="467.7" width="5.06" height="6.66" fill="#de6a45"/>
<rect x="490.41" y="467.7" width="5.06" height="6.66" fill="#2f57a7"/>
<text x="413.9" y="479.58" font-size="4.5" text-anchor="end" fill="#444" textLength="32.43" lengthAdjust="spacingAndGlyphs">FOS human (TR)</text>
<rect x="423.31" y="474.65" width="5.06" height="6.66" fill="#2f57a7"/>
<rect x="428.67" y="474.65" width="5.06" height="6.66" fill="#2f57a7"/>
<rect x="434.03" y="474.65" width="5.06" height="6.66" fill="#2f57a7"/>
<rect x="439.39" y="474.65" width="5.06" height="6.66" fill="#2f57a7"/>
<rect x="444.75" y="474.65" width="5.06" height="6.66" fill="#2f57a7"/>
<rect x="450.11" y="474.65" width="5.06" height="6.66" fill="#2f57a7"/>
<rect x="463.61" y="474.65" width="5.06" height="6.66" fill="#2f57a7"/>
<rect x="468.97" y="474.65" width="5.06" height="6.66" fill="#2f57a7"/>
<rect x="474.33" y="474.65" width="5.06" height="6.66" fill="#2f57a7"/>
<text x="413.9" y="486.54" font-size="4.5" text-anchor="end" fill="#444" textLength="31.96" lengthAdjust="spacingAndGlyphs">JUN human (TR)</text>
<rect x="423.31" y="481.61" width="5.06" height="6.66" fill="#2f57a7"/>
<rect x="428.67" y="481.61" width="5.06" height="6.66" fill="#1f3a88"/>
<rect x="434.03" y="481.61" width="5.06" height="6.66" fill="#2f57a7"/>
<rect x="439.39" y="481.61" width="5.06" height="6.66" fill="#2f57a7"/>
<rect x="444.75" y="481.61" width="5.06" height="6.66" fill="#2f57a7"/>
<rect x="450.11" y="481.61" width="5.06" height="6.66" fill="#2f57a7"/>
<rect x="463.61" y="481.61" width="5.06" height="6.66" fill="#2f57a7"/>
<rect x="468.97" y="481.61" width="5.06" height="6.66" fill="#2f57a7"/>
<rect x="474.33" y="481.61" width="5.06" height="6.66" fill="#2f57a7"/>
<rect x="479.69" y="481.61" width="5.06" height="6.66" fill="#2f57a7"/>
<rect x="485.05" y="481.61" width="5.06" height="6.66" fill="#2f57a7"/>
<rect x="490.41" y="481.61" width="5.06" height="6.66" fill="#1f3a88"/>
<text x="413.9" y="493.49" font-size="4.5" text-anchor="end" fill="#444" textLength="36.59" lengthAdjust="spacingAndGlyphs">Myc Targets V2 (M)</text>
<rect x="417.95" y="488.56" width="5.06" height="6.66" fill="#2f57a7"/>
<rect x="423.31" y="488.56" width="5.06" height="6.66" fill="#2f57a7"/>
<rect x="428.67" y="488.56" width="5.06" height="6.66" fill="#2f57a7"/>
<rect x="434.03" y="488.56" width="5.06" height="6.66" fill="#2f57a7"/>
<rect x="439.39" y="488.56" width="5.06" height="6.66" fill="#2f57a7"/>
<rect x="444.75" y="488.56" width="5.06" height="6.66" fill="#2f57a7"/>
<rect x="450.11" y="488.56" width="5.06" height="6.66" fill="#2f57a7"/>
<rect x="463.61" y="488.56" width="5.06" height="6.66" fill="#2f57a7"/>
<rect x="468.97" y="488.56" width="5.06" height="6.66" fill="#2f57a7"/>
<rect x="474.33" y="488.56" width="5.06" height="6.66" fill="#2f57a7"/>
<rect x="479.69" y="488.56" width="5.06" height="6.66" fill="#2f57a7"/>
<rect x="490.41" y="488.56" width="5.06" height="6.66" fill="#2f57a7"/>
<line x1="457" y1="258" x2="457" y2="496.5" stroke="#a0a0a0" stroke-width="1.2"/>
<text x="431.5" y="254.3" font-size="4.7" text-anchor="middle" fill="#444" textLength="20" lengthAdjust="spacingAndGlyphs">belvarafenib</text>
<text x="472.8" y="254.3" font-size="4.7" text-anchor="middle" fill="#444" textLength="18" lengthAdjust="spacingAndGlyphs">dabrafenib</text>
<text x="421.08" y="497" font-size="4" text-anchor="end" fill="#555" transform="rotate(-90 421.08 497)" textLength="37.47" lengthAdjust="spacingAndGlyphs">Myeloid Progenitors</text>
<text x="426.44" y="497" font-size="4" text-anchor="end" fill="#555" transform="rotate(-90 426.44 497)" textLength="30.56" lengthAdjust="spacingAndGlyphs">Monos LYZ high</text>
<text x="431.8" y="497" font-size="4" text-anchor="end" fill="#555" transform="rotate(-90 431.8 497)" textLength="38.89" lengthAdjust="spacingAndGlyphs">Monos BCL2A1 high</text>
<text x="437.16" y="497" font-size="4" text-anchor="end" fill="#555" transform="rotate(-90 437.16 497)" textLength="29.24" lengthAdjust="spacingAndGlyphs">Mϕs SPP1 high</text>
<text x="442.52" y="497" font-size="4" text-anchor="end" fill="#555" transform="rotate(-90 442.52 497)" textLength="30.65" lengthAdjust="spacingAndGlyphs">Mϕs MKI67 high</text>
<text x="447.88" y="497" font-size="4" text-anchor="end" fill="#555" transform="rotate(-90 447.88 497)" textLength="30.16" lengthAdjust="spacingAndGlyphs">DCs CD1C high</text>
<text x="453.24" y="497" font-size="4" text-anchor="end" fill="#555" transform="rotate(-90 453.24 497)" textLength="35.58" lengthAdjust="spacingAndGlyphs">DCs RNASE1 high</text>
<text x="461.38" y="497" font-size="4" text-anchor="end" fill="#555" transform="rotate(-90 461.38 497)" textLength="37.47" lengthAdjust="spacingAndGlyphs">Myeloid Progenitors</text>
<text x="466.74" y="497" font-size="4" text-anchor="end" fill="#555" transform="rotate(-90 466.74 497)" textLength="30.56" lengthAdjust="spacingAndGlyphs">Monos LYZ high</text>
<text x="472.1" y="497" font-size="4" text-anchor="end" fill="#555" transform="rotate(-90 472.1 497)" textLength="38.89" lengthAdjust="spacingAndGlyphs">Monos BCL2A1 high</text>
<text x="477.46" y="497" font-size="4" text-anchor="end" fill="#555" transform="rotate(-90 477.46 497)" textLength="29.24" lengthAdjust="spacingAndGlyphs">Mϕs SPP1 high</text>
<text x="482.82" y="497" font-size="4" text-anchor="end" fill="#555" transform="rotate(-90 482.82 497)" textLength="30.65" lengthAdjust="spacingAndGlyphs">Mϕs MKI67 high</text>
<text x="488.18" y="497" font-size="4" text-anchor="end" fill="#555" transform="rotate(-90 488.18 497)" textLength="30.16" lengthAdjust="spacingAndGlyphs">DCs CD1C high</text>
<text x="493.54" y="497" font-size="4" text-anchor="end" fill="#555" transform="rotate(-90 493.54 497)" textLength="35.58" lengthAdjust="spacingAndGlyphs">DCs RNASE1 high</text>
<defs><linearGradient id="rdylbu2" x1="0" y1="0" x2="0" y2="1"><stop offset="0" stop-color="#9e1a28"/><stop offset="0.2" stop-color="#dd5a34"/><stop offset="0.38" stop-color="#f2b04a"/><stop offset="0.5" stop-color="#f5f0d8"/><stop offset="0.62" stop-color="#8ec4d0"/><stop offset="0.8" stop-color="#4a7cc0"/><stop offset="1" stop-color="#283a8e"/></linearGradient></defs>
<rect x="499.2" y="366" width="5.8" height="29.6" fill="url(#rdylbu2)"/>
<text x="507.2" y="369.7" font-size="4.6" fill="#666">2</text>
<text x="507.2" y="375.9" font-size="4.6" fill="#666">1</text>
<text x="507.2" y="382.1" font-size="4.6" fill="#666">0</text>
<text x="507.2" y="388.3" font-size="4.6" fill="#666">−1</text>
<text x="507.2" y="394.5" font-size="4.6" fill="#666">−2</text>
<text x="499" y="347.7" font-size="4.7" fill="#444" textLength="8.89" lengthAdjust="spacingAndGlyphs">NES</text>
<text x="499" y="352.8" font-size="4.7" fill="#444" textLength="14.74" lengthAdjust="spacingAndGlyphs">Treated</text>
<text x="499" y="358.3" font-size="4.7" fill="#444" textLength="5.53" lengthAdjust="spacingAndGlyphs">vs.</text>
<text x="499" y="363.5" font-size="4.7" fill="#444" textLength="12.97" lengthAdjust="spacingAndGlyphs">DMSO</text>
<text x="6.2" y="556.5" font-size="12" fill="#000" font-weight="bold">J</text>
<rect x="7.5" y="561.4" width="107.5" height="5.2" fill="#a8479c"/>
<rect x="7.5" y="568.4" width="15.5" height="4.9" fill="#df7423"/>
<rect x="23" y="568.4" width="21.5" height="4.9" fill="#b5561c"/>
<rect x="44.5" y="568.4" width="19.5" height="4.9" fill="#27449a"/>
<rect x="64" y="568.4" width="9" height="4.9" fill="#4a7dc5"/>
<rect x="73" y="568.4" width="8" height="4.9" fill="#8fc9c9"/>
<rect x="81" y="568.4" width="34" height="4.9" fill="#4b9fa3"/>
<rect x="115" y="561.4" width="185.6" height="5.2" fill="#d5a223"/>
<rect x="115" y="568.4" width="22.5" height="4.9" fill="#df7423"/>
<rect x="137.5" y="568.4" width="30.5" height="4.9" fill="#b5561c"/>
<rect x="168" y="568.4" width="29" height="4.9" fill="#27449a"/>
<rect x="197" y="568.4" width="36" height="4.9" fill="#4a7dc5"/>
<rect x="233" y="568.4" width="8" height="4.9" fill="#8fc9c9"/>
<rect x="241" y="568.4" width="59.6" height="4.9" fill="#4b9fa3"/>
<rect x="300.6" y="561.4" width="81.3" height="5.2" fill="#3e9a3a"/>
<rect x="300.6" y="568.4" width="10.6" height="4.9" fill="#df7423"/>
<rect x="311.2" y="568.4" width="15.3" height="4.9" fill="#b5561c"/>
<rect x="326.5" y="568.4" width="19.8" height="4.9" fill="#27449a"/>
<rect x="346.3" y="568.4" width="10.2" height="4.9" fill="#4a7dc5"/>
<rect x="356.5" y="568.4" width="4.5" height="4.9" fill="#8fc9c9"/>
<rect x="361" y="568.4" width="20.9" height="4.9" fill="#4b9fa3"/>
<path transform="scale(0.5)" d="M22 1151h1v14h-1zM56 1151h1v14h-1zM75 1151h5v14h-5zM82 1151h3v14h-3zM88 1151h1v14h-1zM131 1151h2v14h-2zM139 1151h3v14h-3zM164 1151h5v14h-5zM193 1151h2v14h-2zM224 1151h1v14h-1zM228 1151h1v14h-1zM279 1151h2v14h-2zM305 1151h1v14h-1zM313 1151h3v14h-3zM364 1151h1v14h-1zM446 1151h2v14h-2zM498 1151h2v14h-2zM577 1151h3v14h-3zM661 1151h2v14h-2zM674 1151h2v14h-2zM682 1151h2v14h-2zM687 1151h4v14h-4zM720 1151h2v14h-2z" fill="#e1e1e1"/>
<path transform="scale(0.5)" d="M24 1151h3v14h-3zM29 1151h1v14h-1zM33 1151h4v14h-4zM39 1151h1v14h-1zM45 1151h1v14h-1zM47 1151h1v14h-1zM54 1151h2v14h-2zM62 1151h1v14h-1zM67 1151h5v14h-5zM129 1151h2v14h-2zM133 1151h2v14h-2zM169 1151h4v14h-4zM175 1151h2v14h-2zM181 1151h2v14h-2zM185 1151h3v14h-3zM191 1151h2v14h-2zM199 1151h2v14h-2zM207 1151h1v14h-1zM211 1151h2v14h-2zM217 1151h2v14h-2zM227 1151h1v14h-1zM229 1151h1v14h-1zM310 1151h3v14h-3zM320 1151h3v14h-3zM353 1151h1v14h-1zM361 1151h3v14h-3zM367 1151h1v14h-1zM452 1151h2v14h-2zM559 1151h3v14h-3zM575 1151h2v14h-2zM583 1151h3v14h-3zM653 1151h2v14h-2zM657 1151h3v14h-3zM666 1151h5v14h-5zM676 1151h6v14h-6zM691 1151h1v14h-1zM719 1151h1v14h-1z" fill="#c3c3c3"/>
<path transform="scale(0.5)" d="M15 1151h3v14h-3zM23 1151h1v14h-1zM27 1151h2v14h-2zM37 1151h2v14h-2zM46 1151h1v14h-1zM48 1151h3v14h-3zM59 1151h3v14h-3zM80 1151h2v14h-2zM87 1151h1v14h-1zM128 1151h1v14h-1zM142 1151h4v14h-4zM173 1151h2v14h-2zM177 1151h4v14h-4zM183 1151h2v14h-2zM188 1151h3v14h-3zM203 1151h1v14h-1zM209 1151h2v14h-2zM213 1151h4v14h-4zM219 1151h5v14h-5zM275 1151h2v14h-2zM336 1151h2v14h-2zM345 1151h6v14h-6zM354 1151h2v14h-2zM365 1151h2v14h-2zM377 1151h1v14h-1zM381 1151h3v14h-3zM388 1151h5v14h-5zM417 1151h3v14h-3zM460 1151h1v14h-1zM466 1151h2v14h-2zM472 1151h2v14h-2zM476 1151h4v14h-4zM717 1151h2v14h-2z" fill="#a5a5a5"/>
<path transform="scale(0.5)" d="M18 1151h4v14h-4zM30 1151h3v14h-3zM43 1151h1v14h-1zM51 1151h3v14h-3zM57 1151h2v14h-2zM65 1151h2v14h-2zM135 1151h4v14h-4zM201 1151h2v14h-2zM204 1151h3v14h-3zM208 1151h1v14h-1zM225 1151h2v14h-2zM338 1151h5v14h-5zM351 1151h2v14h-2zM360 1151h1v14h-1zM368 1151h3v14h-3zM372 1151h3v14h-3zM379 1151h2v14h-2zM386 1151h2v14h-2zM468 1151h2v14h-2zM474 1151h2v14h-2zM480 1151h2v14h-2zM655 1151h2v14h-2zM663 1151h3v14h-3zM716 1151h1v14h-1z" fill="#868686"/>
<path transform="scale(0.5)" d="M44 1151h1v14h-1zM63 1151h2v14h-2zM74 1151h1v14h-1zM85 1151h2v14h-2zM120 1151h2v14h-2zM343 1151h2v14h-2zM371 1151h1v14h-1zM375 1151h2v14h-2zM378 1151h1v14h-1zM384 1151h2v14h-2zM393 1151h1v14h-1zM470 1151h2v14h-2zM692 1151h1v14h-1zM713 1151h3v14h-3z" fill="#686868"/>
<path transform="scale(0.5)" d="M40 1151h3v14h-3zM93 1151h3v14h-3zM97 1151h2v14h-2zM100 1151h3v14h-3zM111 1151h2v14h-2zM115 1151h2v14h-2zM122 1151h1v14h-1zM154 1151h2v14h-2zM358 1151h2v14h-2z" fill="#4a4a4a"/>
<path transform="scale(0.5)" d="M90 1151h2v14h-2zM96 1151h1v14h-1zM99 1151h1v14h-1zM103 1151h8v14h-8zM117 1151h3v14h-3zM123 1151h2v14h-2zM146 1151h3v14h-3zM151 1151h3v14h-3zM159 1151h2v14h-2z" fill="#2c2c2c"/>
<path transform="scale(0.5)" d="M89 1151h1v14h-1zM92 1151h1v14h-1zM113 1151h2v14h-2zM125 1151h3v14h-3zM149 1151h2v14h-2zM156 1151h3v14h-3zM161 1151h1v14h-1z" fill="#0e0e0e"/>
<path transform="scale(0.5)" d="M329 1165h1v14h-1zM542 1165h1v14h-1zM551 1165h2v14h-2zM644 1165h3v14h-3zM652 1165h1v14h-1zM700 1165h3v14h-3zM713 1165h1v14h-1zM717 1165h1v14h-1zM744 1165h2v14h-2z" fill="#e1e1e1"/>
<path transform="scale(0.5)" d="M238 1165h1v14h-1zM327 1165h2v14h-2zM505 1165h2v14h-2zM612 1165h2v14h-2zM640 1165h1v14h-1zM655 1165h1v14h-1zM668 1165h1v14h-1zM710 1165h1v14h-1zM741 1165h3v14h-3z" fill="#c3c3c3"/>
<path transform="scale(0.5)" d="M40 1165h1v14h-1zM49 1165h3v14h-3zM69 1165h1v14h-1zM95 1165h3v14h-3zM149 1165h3v14h-3zM323 1165h2v14h-2zM355 1165h2v14h-2zM364 1165h2v14h-2zM422 1165h1v14h-1zM477 1165h2v14h-2zM611 1165h1v14h-1zM671 1165h1v14h-1zM679 1165h1v14h-1zM685 1165h2v14h-2zM689 1165h3v14h-3zM731 1165h2v14h-2z" fill="#a5a5a5"/>
<path transform="scale(0.5)" d="M20 1165h1v14h-1zM47 1165h2v14h-2zM56 1165h3v14h-3zM60 1165h6v14h-6zM70 1165h1v14h-1zM73 1165h1v14h-1zM88 1165h1v14h-1zM144 1165h2v14h-2z" fill="#868686"/>
<path transform="scale(0.5)" d="M15 1165h3v14h-3zM24 1165h1v14h-1zM28 1165h2v14h-2zM31 1165h1v14h-1zM37 1165h3v14h-3zM55 1165h1v14h-1zM59 1165h1v14h-1zM71 1165h2v14h-2zM74 1165h1v14h-1zM83 1165h2v14h-2zM98 1165h5v14h-5zM105 1165h1v14h-1zM111 1165h3v14h-3zM116 1165h2v14h-2zM123 1165h1v14h-1zM126 1165h2v14h-2zM132 1165h1v14h-1zM137 1165h1v14h-1zM141 1165h3v14h-3zM152 1165h4v14h-4zM158 1165h1v14h-1zM160 1165h2v14h-2zM165 1165h2v14h-2zM168 1165h2v14h-2zM172 1165h2v14h-2zM178 1165h3v14h-3zM193 1165h2v14h-2zM203 1165h1v14h-1zM214 1165h1v14h-1zM225 1165h1v14h-1z" fill="#686868"/>
<path transform="scale(0.5)" d="M18 1165h2v14h-2zM25 1165h3v14h-3zM41 1165h2v14h-2zM46 1165h1v14h-1zM52 1165h3v14h-3zM66 1165h3v14h-3zM75 1165h2v14h-2zM80 1165h3v14h-3zM85 1165h3v14h-3zM89 1165h4v14h-4zM103 1165h2v14h-2zM106 1165h2v14h-2zM110 1165h1v14h-1zM114 1165h2v14h-2zM120 1165h3v14h-3zM133 1165h4v14h-4zM138 1165h3v14h-3zM156 1165h2v14h-2zM159 1165h1v14h-1zM162 1165h3v14h-3zM181 1165h3v14h-3zM186 1165h1v14h-1zM190 1165h3v14h-3zM196 1165h3v14h-3zM201 1165h2v14h-2zM204 1165h6v14h-6zM215 1165h1v14h-1z" fill="#4a4a4a"/>
<path transform="scale(0.5)" d="M21 1165h3v14h-3zM30 1165h1v14h-1zM32 1165h5v14h-5zM43 1165h3v14h-3zM77 1165h3v14h-3zM93 1165h2v14h-2zM108 1165h2v14h-2zM118 1165h2v14h-2zM124 1165h2v14h-2zM128 1165h4v14h-4zM146 1165h3v14h-3zM167 1165h1v14h-1zM170 1165h2v14h-2zM174 1165h4v14h-4zM184 1165h2v14h-2zM187 1165h3v14h-3zM195 1165h1v14h-1zM199 1165h2v14h-2zM210 1165h4v14h-4zM218 1165h2v14h-2zM222 1165h3v14h-3zM226 1165h4v14h-4z" fill="#2c2c2c"/>
<path transform="scale(0.5)" d="M216 1165h2v14h-2zM220 1165h2v14h-2z" fill="#0e0e0e"/>
<path transform="scale(0.5)" d="M38 1179h5v14h-5zM188 1179h1v14h-1zM233 1179h1v14h-1zM277 1179h1v14h-1zM292 1179h2v14h-2zM298 1179h1v14h-1zM347 1179h3v14h-3zM461 1179h3v14h-3zM472 1179h2v14h-2zM482 1179h8v14h-8zM492 1179h2v14h-2zM498 1179h6v14h-6zM507 1179h1v14h-1zM512 1179h2v14h-2zM515 1179h2v14h-2zM520 1179h16v14h-16zM541 1179h2v14h-2zM546 1179h1v14h-1zM549 1179h7v14h-7zM566 1179h3v14h-3zM575 1179h1v14h-1zM577 1179h1v14h-1zM580 1179h3v14h-3zM590 1179h2v14h-2zM595 1179h3v14h-3zM666 1179h2v14h-2zM695 1179h1v14h-1zM706 1179h2v14h-2zM709 1179h1v14h-1zM723 1179h2v14h-2zM731 1179h1v14h-1zM737 1179h2v14h-2zM746 1179h3v14h-3zM750 1179h3v14h-3zM755 1179h3v14h-3zM760 1179h2v14h-2z" fill="#e1e1e1"/>
<path transform="scale(0.5)" d="M16 1179h1v14h-1zM21 1179h1v14h-1zM35 1179h3v14h-3zM132 1179h1v14h-1zM135 1179h1v14h-1zM143 1179h3v14h-3zM163 1179h1v14h-1zM168 1179h2v14h-2zM172 1179h1v14h-1zM192 1179h1v14h-1zM196 1179h1v14h-1zM216 1179h1v14h-1zM219 1179h1v14h-1zM226 1179h3v14h-3zM259 1179h3v14h-3zM271 1179h2v14h-2zM278 1179h1v14h-1zM288 1179h2v14h-2zM304 1179h2v14h-2zM344 1179h2v14h-2zM352 1179h1v14h-1zM361 1179h3v14h-3zM373 1179h6v14h-6zM381 1179h4v14h-4zM424 1179h1v14h-1zM436 1179h2v14h-2zM468 1179h2v14h-2zM476 1179h5v14h-5zM497 1179h1v14h-1zM508 1179h3v14h-3zM538 1179h1v14h-1zM556 1179h1v14h-1zM559 1179h7v14h-7zM570 1179h3v14h-3zM578 1179h2v14h-2zM594 1179h1v14h-1zM617 1179h1v14h-1zM693 1179h2v14h-2zM699 1179h3v14h-3zM708 1179h1v14h-1zM725 1179h2v14h-2zM732 1179h5v14h-5zM741 1179h1v14h-1zM745 1179h1v14h-1zM749 1179h1v14h-1z" fill="#c3c3c3"/>
<path transform="scale(0.5)" d="M17 1179h1v14h-1zM27 1179h2v14h-2zM31 1179h4v14h-4zM43 1179h3v14h-3zM136 1179h2v14h-2zM139 1179h1v14h-1zM146 1179h2v14h-2zM162 1179h1v14h-1zM167 1179h1v14h-1zM170 1179h2v14h-2zM174 1179h2v14h-2zM178 1179h6v14h-6zM189 1179h3v14h-3zM197 1179h1v14h-1zM200 1179h3v14h-3zM206 1179h1v14h-1zM209 1179h2v14h-2zM213 1179h3v14h-3zM217 1179h2v14h-2zM229 1179h1v14h-1zM235 1179h2v14h-2zM252 1179h2v14h-2zM279 1179h8v14h-8zM290 1179h2v14h-2zM301 1179h1v14h-1zM306 1179h1v14h-1zM312 1179h1v14h-1zM315 1179h2v14h-2zM318 1179h2v14h-2zM324 1179h4v14h-4zM336 1179h3v14h-3zM343 1179h1v14h-1zM360 1179h1v14h-1zM364 1179h5v14h-5zM371 1179h2v14h-2zM379 1179h2v14h-2zM390 1179h4v14h-4zM403 1179h2v14h-2zM445 1179h2v14h-2zM459 1179h1v14h-1zM470 1179h1v14h-1zM474 1179h2v14h-2zM481 1179h1v14h-1zM494 1179h3v14h-3zM544 1179h2v14h-2zM557 1179h1v14h-1zM573 1179h2v14h-2zM583 1179h3v14h-3zM589 1179h1v14h-1zM615 1179h2v14h-2zM618 1179h1v14h-1zM662 1179h2v14h-2zM675 1179h1v14h-1zM698 1179h1v14h-1zM702 1179h2v14h-2zM716 1179h2v14h-2zM722 1179h1v14h-1zM739 1179h2v14h-2zM742 1179h3v14h-3zM758 1179h2v14h-2z" fill="#a5a5a5"/>
<path transform="scale(0.5)" d="M15 1179h1v14h-1zM18 1179h3v14h-3zM23 1179h4v14h-4zM29 1179h2v14h-2zM128 1179h4v14h-4zM133 1179h1v14h-1zM138 1179h1v14h-1zM155 1179h1v14h-1zM160 1179h2v14h-2zM176 1179h2v14h-2zM184 1179h4v14h-4zM194 1179h2v14h-2zM207 1179h2v14h-2zM211 1179h2v14h-2zM221 1179h5v14h-5zM287 1179h1v14h-1zM297 1179h1v14h-1zM299 1179h2v14h-2zM302 1179h2v14h-2zM307 1179h5v14h-5zM313 1179h2v14h-2zM317 1179h1v14h-1zM320 1179h4v14h-4zM329 1179h2v14h-2zM333 1179h3v14h-3zM339 1179h4v14h-4zM346 1179h1v14h-1zM353 1179h3v14h-3zM357 1179h3v14h-3zM369 1179h2v14h-2zM388 1179h2v14h-2zM466 1179h2v14h-2zM471 1179h1v14h-1zM632 1179h1v14h-1zM720 1179h2v14h-2z" fill="#868686"/>
<path transform="scale(0.5)" d="M22 1179h1v14h-1zM47 1179h2v14h-2zM134 1179h1v14h-1zM148 1179h3v14h-3zM156 1179h1v14h-1zM173 1179h1v14h-1zM193 1179h1v14h-1zM220 1179h1v14h-1zM275 1179h2v14h-2zM294 1179h3v14h-3zM328 1179h1v14h-1zM331 1179h2v14h-2zM350 1179h2v14h-2zM385 1179h1v14h-1z" fill="#686868"/>
<path transform="scale(0.5)" d="M52 1179h8v14h-8zM69 1179h1v14h-1zM72 1179h2v14h-2zM79 1179h2v14h-2zM83 1179h2v14h-2zM103 1179h1v14h-1zM106 1179h5v14h-5zM113 1179h4v14h-4zM140 1179h3v14h-3zM153 1179h2v14h-2zM157 1179h3v14h-3zM198 1179h2v14h-2zM356 1179h1v14h-1z" fill="#4a4a4a"/>
<path transform="scale(0.5)" d="M46 1179h1v14h-1zM60 1179h9v14h-9zM74 1179h3v14h-3zM81 1179h2v14h-2zM85 1179h2v14h-2zM91 1179h9v14h-9zM104 1179h2v14h-2zM111 1179h2v14h-2zM117 1179h2v14h-2zM121 1179h3v14h-3zM125 1179h1v14h-1zM151 1179h2v14h-2z" fill="#2c2c2c"/>
<path transform="scale(0.5)" d="M49 1179h3v14h-3zM70 1179h2v14h-2zM77 1179h2v14h-2zM87 1179h4v14h-4zM100 1179h3v14h-3zM119 1179h2v14h-2zM124 1179h1v14h-1zM126 1179h2v14h-2z" fill="#0e0e0e"/>
<path transform="scale(0.5)" d="M295 1193h1v14h-1zM395 1193h2v14h-2zM408 1193h2v14h-2zM412 1193h6v14h-6zM420 1193h5v14h-5zM435 1193h3v14h-3zM440 1193h2v14h-2zM444 1193h1v14h-1zM449 1193h3v14h-3zM457 1193h4v14h-4zM463 1193h1v14h-1zM482 1193h2v14h-2zM488 1193h3v14h-3zM493 1193h1v14h-1zM498 1193h2v14h-2zM504 1193h1v14h-1zM510 1193h1v14h-1zM525 1193h1v14h-1zM531 1193h2v14h-2zM539 1193h1v14h-1zM544 1193h4v14h-4zM554 1193h2v14h-2zM558 1193h2v14h-2zM589 1193h3v14h-3zM597 1193h2v14h-2zM611 1193h2v14h-2zM622 1193h3v14h-3zM632 1193h1v14h-1zM698 1193h3v14h-3z" fill="#e1e1e1"/>
<path transform="scale(0.5)" d="M282 1193h1v14h-1zM397 1193h8v14h-8zM407 1193h1v14h-1zM430 1193h5v14h-5zM438 1193h2v14h-2zM442 1193h2v14h-2zM453 1193h4v14h-4zM484 1193h4v14h-4zM507 1193h3v14h-3zM515 1193h1v14h-1zM518 1193h1v14h-1zM524 1193h1v14h-1zM526 1193h5v14h-5zM540 1193h3v14h-3zM548 1193h6v14h-6zM556 1193h2v14h-2zM560 1193h1v14h-1zM565 1193h3v14h-3zM569 1193h4v14h-4zM578 1193h2v14h-2zM592 1193h5v14h-5zM599 1193h2v14h-2zM617 1193h1v14h-1zM631 1193h1v14h-1zM633 1193h1v14h-1zM636 1193h3v14h-3zM641 1193h3v14h-3zM646 1193h1v14h-1zM650 1193h1v14h-1zM673 1193h3v14h-3zM681 1193h1v14h-1zM690 1193h1v14h-1zM693 1193h2v14h-2zM701 1193h4v14h-4zM712 1193h1v14h-1zM722 1193h2v14h-2z" fill="#c3c3c3"/>
<path transform="scale(0.5)" d="M276 1193h2v14h-2zM344 1193h3v14h-3zM394 1193h1v14h-1zM425 1193h2v14h-2zM446 1193h1v14h-1zM452 1193h1v14h-1zM462 1193h1v14h-1zM505 1193h1v14h-1zM513 1193h2v14h-2zM516 1193h2v14h-2zM519 1193h3v14h-3zM533 1193h2v14h-2zM543 1193h1v14h-1zM561 1193h4v14h-4zM576 1193h2v14h-2zM581 1193h3v14h-3zM587 1193h1v14h-1zM606 1193h3v14h-3zM613 1193h4v14h-4zM634 1193h2v14h-2zM639 1193h2v14h-2zM644 1193h2v14h-2zM651 1193h6v14h-6zM660 1193h1v14h-1zM663 1193h1v14h-1zM665 1193h2v14h-2zM671 1193h2v14h-2zM678 1193h2v14h-2zM682 1193h3v14h-3zM688 1193h2v14h-2zM696 1193h2v14h-2zM705 1193h7v14h-7zM724 1193h1v14h-1zM746 1193h2v14h-2z" fill="#a5a5a5"/>
<path transform="scale(0.5)" d="M84 1193h1v14h-1zM418 1193h2v14h-2zM494 1193h2v14h-2zM506 1193h1v14h-1zM511 1193h2v14h-2zM522 1193h2v14h-2zM580 1193h1v14h-1zM588 1193h1v14h-1zM604 1193h2v14h-2zM609 1193h2v14h-2zM625 1193h6v14h-6zM649 1193h1v14h-1zM657 1193h3v14h-3zM661 1193h1v14h-1zM664 1193h1v14h-1zM676 1193h2v14h-2zM685 1193h3v14h-3zM691 1193h2v14h-2zM725 1193h2v14h-2zM731 1193h1v14h-1zM738 1193h1v14h-1zM743 1193h3v14h-3zM756 1193h1v14h-1zM761 1193h2v14h-2z" fill="#868686"/>
<path transform="scale(0.5)" d="M15 1193h2v14h-2zM18 1193h2v14h-2zM23 1193h1v14h-1zM29 1193h2v14h-2zM34 1193h1v14h-1zM37 1193h2v14h-2zM40 1193h3v14h-3zM47 1193h2v14h-2zM64 1193h2v14h-2zM74 1193h1v14h-1zM140 1193h3v14h-3zM180 1193h1v14h-1zM196 1193h1v14h-1zM201 1193h1v14h-1zM205 1193h3v14h-3zM215 1193h2v14h-2zM227 1193h2v14h-2zM601 1193h3v14h-3zM618 1193h4v14h-4zM647 1193h2v14h-2zM667 1193h1v14h-1zM680 1193h1v14h-1zM695 1193h1v14h-1zM717 1193h3v14h-3zM733 1193h5v14h-5zM739 1193h4v14h-4zM757 1193h4v14h-4z" fill="#686868"/>
<path transform="scale(0.5)" d="M17 1193h1v14h-1zM24 1193h1v14h-1zM27 1193h2v14h-2zM31 1193h1v14h-1zM35 1193h2v14h-2zM39 1193h1v14h-1zM46 1193h1v14h-1zM49 1193h1v14h-1zM55 1193h1v14h-1zM59 1193h2v14h-2zM78 1193h4v14h-4zM88 1193h2v14h-2zM125 1193h1v14h-1zM134 1193h2v14h-2zM152 1193h3v14h-3zM173 1193h1v14h-1zM187 1193h1v14h-1zM197 1193h2v14h-2zM204 1193h1v14h-1zM208 1193h1v14h-1zM211 1193h2v14h-2zM496 1193h2v14h-2zM662 1193h1v14h-1zM668 1193h3v14h-3zM727 1193h4v14h-4zM732 1193h1v14h-1zM748 1193h6v14h-6z" fill="#4a4a4a"/>
<path transform="scale(0.5)" d="M20 1193h3v14h-3zM25 1193h2v14h-2zM32 1193h2v14h-2zM43 1193h2v14h-2zM50 1193h2v14h-2zM54 1193h1v14h-1zM57 1193h2v14h-2zM61 1193h3v14h-3zM68 1193h1v14h-1zM72 1193h2v14h-2zM75 1193h3v14h-3zM90 1193h1v14h-1zM92 1193h3v14h-3zM97 1193h1v14h-1zM106 1193h2v14h-2zM113 1193h1v14h-1zM121 1193h2v14h-2zM126 1193h1v14h-1zM133 1193h1v14h-1zM136 1193h3v14h-3zM143 1193h2v14h-2zM151 1193h1v14h-1zM162 1193h11v14h-11zM177 1193h2v14h-2zM181 1193h1v14h-1zM186 1193h1v14h-1zM189 1193h7v14h-7zM202 1193h2v14h-2zM209 1193h2v14h-2zM213 1193h2v14h-2zM217 1193h3v14h-3zM226 1193h1v14h-1zM713 1193h4v14h-4zM763 1193h1v14h-1z" fill="#2c2c2c"/>
<path transform="scale(0.5)" d="M45 1193h1v14h-1zM52 1193h2v14h-2zM56 1193h1v14h-1zM66 1193h2v14h-2zM69 1193h3v14h-3zM82 1193h2v14h-2zM85 1193h3v14h-3zM91 1193h1v14h-1zM95 1193h2v14h-2zM98 1193h8v14h-8zM108 1193h5v14h-5zM114 1193h7v14h-7zM123 1193h2v14h-2zM127 1193h6v14h-6zM139 1193h1v14h-1zM145 1193h6v14h-6zM155 1193h7v14h-7zM174 1193h3v14h-3zM179 1193h1v14h-1zM182 1193h4v14h-4zM188 1193h1v14h-1zM199 1193h2v14h-2zM220 1193h6v14h-6zM229 1193h1v14h-1zM720 1193h2v14h-2zM754 1193h2v14h-2z" fill="#0e0e0e"/>
<path transform="scale(0.5)" d="M49 1207h2v14h-2zM67 1207h3v14h-3zM73 1207h1v14h-1zM81 1207h1v14h-1zM611 1207h1v14h-1zM680 1207h3v14h-3zM687 1207h3v14h-3zM692 1207h1v14h-1z" fill="#e1e1e1"/>
<path transform="scale(0.5)" d="M52 1207h1v14h-1zM143 1207h2v14h-2zM504 1207h1v14h-1zM596 1207h3v14h-3zM659 1207h1v14h-1zM667 1207h3v14h-3zM673 1207h4v14h-4zM684 1207h1v14h-1zM691 1207h1v14h-1zM706 1207h3v14h-3zM727 1207h3v14h-3zM740 1207h3v14h-3z" fill="#c3c3c3"/>
<path transform="scale(0.5)" d="M27 1207h3v14h-3zM43 1207h6v14h-6zM51 1207h1v14h-1zM58 1207h8v14h-8zM72 1207h1v14h-1zM82 1207h2v14h-2zM86 1207h3v14h-3zM138 1207h2v14h-2zM145 1207h1v14h-1zM154 1207h2v14h-2zM605 1207h3v14h-3zM612 1207h3v14h-3zM623 1207h2v14h-2zM629 1207h1v14h-1zM640 1207h2v14h-2zM650 1207h1v14h-1zM655 1207h1v14h-1zM658 1207h1v14h-1zM664 1207h3v14h-3zM670 1207h3v14h-3zM695 1207h1v14h-1zM698 1207h1v14h-1zM709 1207h1v14h-1zM738 1207h2v14h-2zM750 1207h1v14h-1zM754 1207h2v14h-2zM758 1207h3v14h-3z" fill="#a5a5a5"/>
<path transform="scale(0.5)" d="M15 1207h3v14h-3zM21 1207h2v14h-2zM31 1207h1v14h-1zM33 1207h1v14h-1zM36 1207h3v14h-3zM42 1207h1v14h-1zM53 1207h5v14h-5zM66 1207h1v14h-1zM70 1207h2v14h-2zM74 1207h7v14h-7zM84 1207h2v14h-2zM131 1207h5v14h-5zM140 1207h3v14h-3zM608 1207h1v14h-1zM656 1207h2v14h-2zM660 1207h3v14h-3zM678 1207h2v14h-2zM683 1207h1v14h-1zM685 1207h2v14h-2zM690 1207h1v14h-1zM693 1207h2v14h-2zM696 1207h2v14h-2zM699 1207h6v14h-6zM710 1207h3v14h-3zM720 1207h4v14h-4zM730 1207h7v14h-7zM747 1207h3v14h-3zM751 1207h2v14h-2zM756 1207h2v14h-2zM761 1207h3v14h-3z" fill="#868686"/>
<path transform="scale(0.5)" d="M23 1207h1v14h-1zM26 1207h1v14h-1zM30 1207h1v14h-1zM32 1207h1v14h-1zM39 1207h3v14h-3zM117 1207h1v14h-1zM130 1207h1v14h-1zM146 1207h3v14h-3zM152 1207h1v14h-1zM156 1207h8v14h-8zM169 1207h3v14h-3zM212 1207h2v14h-2zM228 1207h2v14h-2zM653 1207h2v14h-2zM677 1207h1v14h-1zM713 1207h2v14h-2zM724 1207h3v14h-3zM737 1207h1v14h-1zM743 1207h4v14h-4z" fill="#686868"/>
<path transform="scale(0.5)" d="M34 1207h2v14h-2zM93 1207h3v14h-3zM107 1207h6v14h-6zM118 1207h2v14h-2zM128 1207h2v14h-2zM149 1207h3v14h-3zM153 1207h1v14h-1zM164 1207h5v14h-5zM178 1207h2v14h-2zM186 1207h4v14h-4zM194 1207h1v14h-1zM197 1207h1v14h-1zM201 1207h4v14h-4zM208 1207h1v14h-1zM217 1207h1v14h-1zM226 1207h2v14h-2zM663 1207h1v14h-1zM705 1207h1v14h-1zM715 1207h5v14h-5zM753 1207h1v14h-1z" fill="#4a4a4a"/>
<path transform="scale(0.5)" d="M18 1207h3v14h-3zM24 1207h2v14h-2zM89 1207h4v14h-4zM96 1207h4v14h-4zM113 1207h4v14h-4zM120 1207h4v14h-4zM126 1207h2v14h-2zM136 1207h2v14h-2zM172 1207h1v14h-1zM175 1207h3v14h-3zM181 1207h2v14h-2zM191 1207h1v14h-1zM193 1207h1v14h-1zM195 1207h2v14h-2zM209 1207h3v14h-3zM215 1207h2v14h-2zM223 1207h3v14h-3z" fill="#2c2c2c"/>
<path transform="scale(0.5)" d="M100 1207h7v14h-7zM124 1207h2v14h-2zM173 1207h2v14h-2zM180 1207h1v14h-1zM183 1207h3v14h-3zM190 1207h1v14h-1zM192 1207h1v14h-1zM198 1207h3v14h-3zM205 1207h3v14h-3zM214 1207h1v14h-1zM218 1207h5v14h-5z" fill="#0e0e0e"/>
<path transform="scale(0.5)" d="M15 1221h1v14h-1zM128 1221h3v14h-3zM135 1221h4v14h-4zM142 1221h3v14h-3zM174 1221h1v14h-1zM225 1221h2v14h-2zM252 1221h1v14h-1zM271 1221h3v14h-3zM275 1221h2v14h-2zM288 1221h1v14h-1zM292 1221h1v14h-1zM305 1221h2v14h-2zM315 1221h1v14h-1zM333 1221h1v14h-1zM355 1221h1v14h-1zM373 1221h1v14h-1zM378 1221h2v14h-2zM381 1221h3v14h-3zM458 1221h2v14h-2zM469 1221h3v14h-3zM475 1221h3v14h-3zM733 1221h1v14h-1z" fill="#e1e1e1"/>
<path transform="scale(0.5)" d="M131 1221h1v14h-1zM162 1221h2v14h-2zM166 1221h2v14h-2zM188 1221h1v14h-1zM210 1221h2v14h-2zM214 1221h1v14h-1zM224 1221h1v14h-1zM242 1221h2v14h-2zM277 1221h7v14h-7zM285 1221h1v14h-1zM297 1221h2v14h-2zM301 1221h4v14h-4zM309 1221h1v14h-1zM316 1221h2v14h-2zM322 1221h5v14h-5zM330 1221h2v14h-2zM334 1221h4v14h-4zM345 1221h1v14h-1zM349 1221h5v14h-5zM356 1221h1v14h-1zM365 1221h3v14h-3zM370 1221h3v14h-3zM374 1221h2v14h-2zM387 1221h2v14h-2zM434 1221h1v14h-1zM466 1221h3v14h-3zM478 1221h2v14h-2zM481 1221h1v14h-1zM602 1221h3v14h-3z" fill="#c3c3c3"/>
<path transform="scale(0.5)" d="M34 1221h2v14h-2zM54 1221h1v14h-1zM139 1221h2v14h-2zM193 1221h1v14h-1zM209 1221h1v14h-1zM247 1221h1v14h-1zM284 1221h1v14h-1zM287 1221h1v14h-1zM310 1221h2v14h-2zM340 1221h5v14h-5zM346 1221h2v14h-2zM354 1221h1v14h-1zM357 1221h8v14h-8zM376 1221h2v14h-2zM384 1221h3v14h-3zM389 1221h5v14h-5zM417 1221h1v14h-1zM472 1221h3v14h-3zM480 1221h1v14h-1z" fill="#a5a5a5"/>
<path transform="scale(0.5)" d="M123 1221h2v14h-2zM293 1221h2v14h-2zM318 1221h1v14h-1zM327 1221h2v14h-2zM348 1221h1v14h-1zM368 1221h2v14h-2z" fill="#868686"/>
<path transform="scale(0.5)" d="M116 1221h1v14h-1zM119 1221h1v14h-1zM338 1221h2v14h-2z" fill="#686868"/>
<path transform="scale(0.5)" d="M89 1221h3v14h-3zM95 1221h4v14h-4zM102 1221h4v14h-4zM112 1221h1v14h-1zM150 1221h2v14h-2zM158 1221h3v14h-3z" fill="#4a4a4a"/>
<path transform="scale(0.5)" d="M106 1221h4v14h-4zM120 1221h3v14h-3zM152 1221h2v14h-2z" fill="#2c2c2c"/>
<path transform="scale(0.5)" d="M92 1221h3v14h-3zM99 1221h3v14h-3zM110 1221h2v14h-2zM113 1221h3v14h-3zM117 1221h2v14h-2zM125 1221h3v14h-3zM146 1221h4v14h-4zM154 1221h4v14h-4zM161 1221h1v14h-1z" fill="#0e0e0e"/>
<path transform="scale(0.5)" d="M53 1235h3v14h-3zM76 1235h1v14h-1zM147 1235h5v14h-5zM181 1235h3v14h-3zM279 1235h2v14h-2zM284 1235h4v14h-4zM296 1235h1v14h-1zM305 1235h1v14h-1z" fill="#e1e1e1"/>
<path transform="scale(0.5)" d="M42 1235h1v14h-1zM51 1235h2v14h-2zM79 1235h2v14h-2zM90 1235h3v14h-3zM106 1235h1v14h-1zM128 1235h2v14h-2zM146 1235h1v14h-1zM275 1235h2v14h-2zM281 1235h1v14h-1zM288 1235h1v14h-1zM292 1235h4v14h-4zM297 1235h2v14h-2zM301 1235h2v14h-2zM306 1235h2v14h-2zM310 1235h1v14h-1zM312 1235h2v14h-2zM322 1235h2v14h-2zM328 1235h3v14h-3zM332 1235h4v14h-4zM644 1235h3v14h-3zM691 1235h2v14h-2z" fill="#c3c3c3"/>
<path transform="scale(0.5)" d="M19 1235h2v14h-2zM46 1235h1v14h-1zM63 1235h2v14h-2zM95 1235h1v14h-1zM124 1235h3v14h-3zM136 1235h3v14h-3zM176 1235h3v14h-3zM245 1235h1v14h-1zM249 1235h3v14h-3zM277 1235h2v14h-2zM282 1235h2v14h-2zM289 1235h3v14h-3zM299 1235h2v14h-2zM303 1235h2v14h-2zM311 1235h1v14h-1zM319 1235h3v14h-3zM324 1235h4v14h-4z" fill="#a5a5a5"/>
<path transform="scale(0.5)" d="M73 1235h2v14h-2zM233 1235h1v14h-1zM237 1235h1v14h-1zM243 1235h2v14h-2zM246 1235h1v14h-1zM252 1235h2v14h-2zM262 1235h1v14h-1zM308 1235h2v14h-2zM475 1235h1v14h-1zM481 1235h1v14h-1z" fill="#868686"/>
<path transform="scale(0.5)" d="M235 1235h2v14h-2zM239 1235h4v14h-4zM247 1235h2v14h-2zM254 1235h4v14h-4zM272 1235h3v14h-3zM336 1235h2v14h-2zM341 1235h3v14h-3zM346 1235h1v14h-1zM376 1235h1v14h-1zM391 1235h2v14h-2zM422 1235h1v14h-1zM452 1235h1v14h-1zM479 1235h2v14h-2z" fill="#686868"/>
<path transform="scale(0.5)" d="M230 1235h3v14h-3zM234 1235h1v14h-1zM258 1235h1v14h-1zM263 1235h9v14h-9zM339 1235h2v14h-2zM347 1235h3v14h-3zM359 1235h2v14h-2zM368 1235h3v14h-3zM378 1235h1v14h-1zM383 1235h1v14h-1zM385 1235h3v14h-3zM393 1235h1v14h-1zM400 1235h3v14h-3zM406 1235h3v14h-3zM411 1235h3v14h-3zM415 1235h2v14h-2zM426 1235h2v14h-2zM443 1235h2v14h-2zM449 1235h3v14h-3zM453 1235h3v14h-3zM463 1235h3v14h-3zM470 1235h5v14h-5zM493 1235h3v14h-3zM506 1235h3v14h-3zM553 1235h2v14h-2zM590 1235h2v14h-2zM594 1235h3v14h-3z" fill="#4a4a4a"/>
<path transform="scale(0.5)" d="M238 1235h1v14h-1zM259 1235h3v14h-3zM338 1235h1v14h-1zM344 1235h2v14h-2zM350 1235h9v14h-9zM364 1235h1v14h-1zM371 1235h3v14h-3zM377 1235h1v14h-1zM379 1235h2v14h-2zM384 1235h1v14h-1zM388 1235h3v14h-3zM394 1235h6v14h-6zM403 1235h3v14h-3zM409 1235h2v14h-2zM414 1235h1v14h-1zM417 1235h5v14h-5zM432 1235h3v14h-3zM439 1235h1v14h-1zM459 1235h2v14h-2zM462 1235h1v14h-1zM466 1235h3v14h-3zM476 1235h3v14h-3zM485 1235h3v14h-3zM499 1235h3v14h-3zM503 1235h2v14h-2zM511 1235h2v14h-2zM514 1235h6v14h-6zM522 1235h3v14h-3zM535 1235h2v14h-2zM558 1235h3v14h-3zM573 1235h3v14h-3zM580 1235h6v14h-6zM597 1235h3v14h-3z" fill="#2c2c2c"/>
<path transform="scale(0.5)" d="M361 1235h3v14h-3zM365 1235h3v14h-3zM374 1235h2v14h-2zM381 1235h2v14h-2zM423 1235h3v14h-3zM428 1235h4v14h-4zM435 1235h4v14h-4zM440 1235h3v14h-3zM445 1235h4v14h-4zM456 1235h3v14h-3zM461 1235h1v14h-1zM469 1235h1v14h-1zM482 1235h3v14h-3zM488 1235h5v14h-5zM496 1235h3v14h-3zM502 1235h1v14h-1zM505 1235h1v14h-1zM509 1235h2v14h-2zM513 1235h1v14h-1zM520 1235h2v14h-2zM525 1235h10v14h-10zM537 1235h16v14h-16zM555 1235h3v14h-3zM561 1235h12v14h-12zM576 1235h4v14h-4zM586 1235h4v14h-4zM592 1235h2v14h-2zM600 1235h1v14h-1z" fill="#0e0e0e"/>
<path transform="scale(0.5)" d="M19 1249h1v14h-1zM22 1249h4v14h-4zM35 1249h1v14h-1zM61 1249h3v14h-3zM77 1249h1v14h-1zM80 1249h3v14h-3zM119 1249h1v14h-1zM123 1249h1v14h-1zM361 1249h2v14h-2zM422 1249h2v14h-2zM603 1249h5v14h-5zM613 1249h3v14h-3zM663 1249h2v14h-2z" fill="#e1e1e1"/>
<path transform="scale(0.5)" d="M15 1249h2v14h-2zM20 1249h2v14h-2zM26 1249h2v14h-2zM30 1249h5v14h-5zM39 1249h5v14h-5zM46 1249h2v14h-2zM50 1249h3v14h-3zM59 1249h2v14h-2zM67 1249h2v14h-2zM71 1249h5v14h-5zM100 1249h1v14h-1zM124 1249h3v14h-3zM199 1249h3v14h-3zM397 1249h1v14h-1zM401 1249h2v14h-2zM439 1249h2v14h-2zM461 1249h1v14h-1zM608 1249h4v14h-4zM616 1249h2v14h-2zM658 1249h1v14h-1zM755 1249h2v14h-2z" fill="#c3c3c3"/>
<path transform="scale(0.5)" d="M17 1249h2v14h-2zM29 1249h1v14h-1zM36 1249h3v14h-3zM44 1249h2v14h-2zM69 1249h2v14h-2zM86 1249h3v14h-3zM98 1249h2v14h-2zM105 1249h2v14h-2zM121 1249h1v14h-1zM366 1249h2v14h-2zM379 1249h2v14h-2zM382 1249h1v14h-1zM394 1249h3v14h-3zM403 1249h3v14h-3zM408 1249h2v14h-2zM412 1249h1v14h-1zM420 1249h2v14h-2zM426 1249h2v14h-2zM429 1249h2v14h-2zM433 1249h2v14h-2zM436 1249h3v14h-3zM443 1249h10v14h-10zM465 1249h3v14h-3zM472 1249h1v14h-1zM474 1249h3v14h-3zM505 1249h1v14h-1zM618 1249h3v14h-3zM622 1249h2v14h-2zM641 1249h1v14h-1zM748 1249h3v14h-3z" fill="#a5a5a5"/>
<path transform="scale(0.5)" d="M53 1249h2v14h-2zM64 1249h3v14h-3zM194 1249h3v14h-3zM340 1249h2v14h-2zM356 1249h2v14h-2zM364 1249h2v14h-2zM378 1249h1v14h-1zM383 1249h3v14h-3zM392 1249h2v14h-2zM398 1249h3v14h-3zM410 1249h2v14h-2zM413 1249h3v14h-3zM428 1249h1v14h-1zM435 1249h1v14h-1zM441 1249h2v14h-2zM453 1249h8v14h-8zM469 1249h3v14h-3zM473 1249h1v14h-1zM477 1249h5v14h-5zM490 1249h1v14h-1zM501 1249h1v14h-1zM512 1249h1v14h-1zM517 1249h3v14h-3zM524 1249h1v14h-1zM529 1249h2v14h-2zM539 1249h2v14h-2zM542 1249h3v14h-3zM550 1249h3v14h-3zM558 1249h5v14h-5z" fill="#868686"/>
<path transform="scale(0.5)" d="M336 1249h4v14h-4zM349 1249h5v14h-5zM358 1249h3v14h-3zM363 1249h1v14h-1zM368 1249h4v14h-4zM373 1249h3v14h-3zM388 1249h3v14h-3zM406 1249h2v14h-2zM416 1249h2v14h-2zM431 1249h2v14h-2zM462 1249h2v14h-2zM468 1249h1v14h-1zM485 1249h3v14h-3zM491 1249h2v14h-2zM497 1249h1v14h-1zM503 1249h2v14h-2zM506 1249h2v14h-2zM509 1249h3v14h-3zM513 1249h4v14h-4zM531 1249h3v14h-3zM537 1249h2v14h-2zM545 1249h5v14h-5zM554 1249h4v14h-4zM563 1249h1v14h-1zM566 1249h5v14h-5zM580 1249h2v14h-2zM594 1249h3v14h-3zM599 1249h2v14h-2z" fill="#686868"/>
<path transform="scale(0.5)" d="M256 1249h1v14h-1zM270 1249h1v14h-1zM280 1249h1v14h-1zM291 1249h1v14h-1zM310 1249h1v14h-1zM325 1249h3v14h-3zM342 1249h2v14h-2zM345 1249h4v14h-4zM354 1249h2v14h-2zM372 1249h1v14h-1zM376 1249h2v14h-2zM381 1249h1v14h-1zM391 1249h1v14h-1zM418 1249h2v14h-2zM424 1249h2v14h-2zM482 1249h3v14h-3zM488 1249h2v14h-2zM508 1249h1v14h-1zM520 1249h4v14h-4zM525 1249h4v14h-4zM534 1249h1v14h-1zM536 1249h1v14h-1zM553 1249h1v14h-1zM564 1249h2v14h-2zM575 1249h5v14h-5zM582 1249h6v14h-6zM589 1249h1v14h-1zM592 1249h2v14h-2z" fill="#4a4a4a"/>
<path transform="scale(0.5)" d="M230 1249h3v14h-3zM241 1249h2v14h-2zM245 1249h1v14h-1zM251 1249h2v14h-2zM254 1249h2v14h-2zM258 1249h1v14h-1zM271 1249h2v14h-2zM287 1249h3v14h-3zM292 1249h12v14h-12zM307 1249h1v14h-1zM312 1249h3v14h-3zM321 1249h1v14h-1zM335 1249h1v14h-1zM344 1249h1v14h-1zM386 1249h2v14h-2zM493 1249h4v14h-4zM498 1249h3v14h-3zM502 1249h1v14h-1zM541 1249h1v14h-1zM571 1249h4v14h-4zM588 1249h1v14h-1zM590 1249h2v14h-2z" fill="#2c2c2c"/>
<path transform="scale(0.5)" d="M233 1249h8v14h-8zM243 1249h2v14h-2zM246 1249h5v14h-5zM253 1249h1v14h-1zM257 1249h1v14h-1zM259 1249h11v14h-11zM273 1249h7v14h-7zM281 1249h6v14h-6zM290 1249h1v14h-1zM304 1249h3v14h-3zM308 1249h2v14h-2zM311 1249h1v14h-1zM315 1249h6v14h-6zM322 1249h3v14h-3zM328 1249h7v14h-7zM535 1249h1v14h-1zM597 1249h2v14h-2z" fill="#0e0e0e"/>
<path transform="scale(0.5)" d="M68 1263h2v14h-2zM334 1263h12v14h-12zM357 1263h3v14h-3zM369 1263h3v14h-3zM376 1263h1v14h-1zM386 1263h2v14h-2zM390 1263h4v14h-4zM487 1263h2v14h-2zM495 1263h1v14h-1zM505 1263h6v14h-6zM518 1263h1v14h-1zM526 1263h3v14h-3zM540 1263h7v14h-7zM554 1263h3v14h-3zM562 1263h1v14h-1zM576 1263h2v14h-2zM582 1263h3v14h-3zM601 1263h1v14h-1zM612 1263h3v14h-3zM618 1263h1v14h-1zM628 1263h1v14h-1zM642 1263h3v14h-3zM652 1263h1v14h-1zM658 1263h3v14h-3zM663 1263h3v14h-3zM669 1263h5v14h-5zM688 1263h3v14h-3zM745 1263h1v14h-1zM763 1263h1v14h-1z" fill="#e1e1e1"/>
<path transform="scale(0.5)" d="M63 1263h3v14h-3zM315 1263h1v14h-1zM353 1263h4v14h-4zM360 1263h2v14h-2zM377 1263h5v14h-5zM388 1263h2v14h-2zM512 1263h3v14h-3zM522 1263h2v14h-2zM547 1263h2v14h-2zM550 1263h4v14h-4zM557 1263h3v14h-3zM561 1263h1v14h-1zM563 1263h2v14h-2zM566 1263h4v14h-4zM578 1263h4v14h-4zM585 1263h4v14h-4zM593 1263h1v14h-1zM596 1263h1v14h-1zM602 1263h4v14h-4zM615 1263h2v14h-2zM619 1263h6v14h-6zM633 1263h2v14h-2zM641 1263h1v14h-1zM647 1263h1v14h-1zM653 1263h2v14h-2zM674 1263h6v14h-6zM686 1263h2v14h-2zM691 1263h2v14h-2zM699 1263h3v14h-3z" fill="#c3c3c3"/>
<path transform="scale(0.5)" d="M188 1263h2v14h-2zM220 1263h3v14h-3zM227 1263h2v14h-2zM309 1263h4v14h-4zM348 1263h3v14h-3zM375 1263h1v14h-1zM383 1263h3v14h-3zM476 1263h2v14h-2zM484 1263h3v14h-3zM489 1263h6v14h-6zM498 1263h3v14h-3zM502 1263h3v14h-3zM511 1263h1v14h-1zM515 1263h3v14h-3zM519 1263h3v14h-3zM524 1263h2v14h-2zM536 1263h4v14h-4zM570 1263h1v14h-1zM575 1263h1v14h-1zM590 1263h3v14h-3zM598 1263h3v14h-3zM611 1263h1v14h-1zM617 1263h1v14h-1zM625 1263h2v14h-2zM629 1263h2v14h-2zM635 1263h3v14h-3zM645 1263h2v14h-2zM648 1263h2v14h-2zM680 1263h5v14h-5zM697 1263h2v14h-2z" fill="#a5a5a5"/>
<path transform="scale(0.5)" d="M191 1263h2v14h-2zM233 1263h1v14h-1zM237 1263h2v14h-2zM252 1263h2v14h-2zM270 1263h2v14h-2zM482 1263h2v14h-2zM496 1263h2v14h-2zM501 1263h1v14h-1zM532 1263h1v14h-1zM549 1263h1v14h-1zM560 1263h1v14h-1zM565 1263h1v14h-1zM571 1263h4v14h-4zM589 1263h1v14h-1zM597 1263h1v14h-1zM609 1263h2v14h-2zM631 1263h2v14h-2z" fill="#868686"/>
<path transform="scale(0.5)" d="M230 1263h3v14h-3zM239 1263h3v14h-3zM250 1263h2v14h-2zM254 1263h1v14h-1zM259 1263h2v14h-2zM266 1263h4v14h-4zM274 1263h1v14h-1zM529 1263h2v14h-2zM533 1263h3v14h-3zM638 1263h3v14h-3zM650 1263h2v14h-2z" fill="#686868"/>
<path transform="scale(0.5)" d="M242 1263h2v14h-2zM248 1263h2v14h-2zM256 1263h3v14h-3zM272 1263h2v14h-2zM424 1263h2v14h-2z" fill="#4a4a4a"/>
<path transform="scale(0.5)" d="M234 1263h3v14h-3zM244 1263h4v14h-4zM255 1263h1v14h-1zM261 1263h2v14h-2zM264 1263h2v14h-2zM399 1263h1v14h-1zM404 1263h5v14h-5zM413 1263h3v14h-3zM428 1263h5v14h-5zM450 1263h2v14h-2z" fill="#2c2c2c"/>
<path transform="scale(0.5)" d="M263 1263h1v14h-1zM394 1263h5v14h-5zM400 1263h4v14h-4zM409 1263h4v14h-4zM416 1263h8v14h-8zM426 1263h2v14h-2zM433 1263h17v14h-17zM452 1263h14v14h-14z" fill="#0e0e0e"/>
<path transform="scale(0.5)" d="M241 1277h3v14h-3zM272 1277h2v14h-2zM394 1277h1v14h-1zM541 1277h1v14h-1zM580 1277h1v14h-1z" fill="#e1e1e1"/>
<path transform="scale(0.5)" d="M422 1277h2v14h-2zM440 1277h1v14h-1zM505 1277h2v14h-2zM567 1277h2v14h-2zM579 1277h1v14h-1zM588 1277h2v14h-2zM626 1277h3v14h-3z" fill="#c3c3c3"/>
<path transform="scale(0.5)" d="M232 1277h3v14h-3zM249 1277h2v14h-2zM428 1277h1v14h-1zM482 1277h1v14h-1zM513 1277h2v14h-2zM574 1277h2v14h-2zM594 1277h2v14h-2z" fill="#a5a5a5"/>
<path transform="scale(0.5)" d="M276 1277h1v14h-1zM305 1277h2v14h-2zM315 1277h2v14h-2zM330 1277h1v14h-1z" fill="#868686"/>
<path transform="scale(0.5)" d="M280 1277h1v14h-1zM283 1277h2v14h-2zM287 1277h3v14h-3zM296 1277h1v14h-1zM299 1277h3v14h-3zM319 1277h2v14h-2zM322 1277h2v14h-2zM328 1277h1v14h-1zM334 1277h2v14h-2zM472 1277h1v14h-1z" fill="#686868"/>
<path transform="scale(0.5)" d="M275 1277h1v14h-1zM277 1277h3v14h-3zM281 1277h2v14h-2zM290 1277h6v14h-6zM297 1277h2v14h-2zM302 1277h3v14h-3zM307 1277h8v14h-8zM317 1277h1v14h-1zM321 1277h1v14h-1zM325 1277h3v14h-3zM329 1277h1v14h-1zM331 1277h3v14h-3zM348 1277h1v14h-1zM362 1277h2v14h-2zM393 1277h1v14h-1zM477 1277h2v14h-2zM480 1277h2v14h-2z" fill="#4a4a4a"/>
<path transform="scale(0.5)" d="M285 1277h1v14h-1zM318 1277h1v14h-1zM324 1277h1v14h-1zM339 1277h2v14h-2zM352 1277h1v14h-1zM354 1277h1v14h-1zM365 1277h3v14h-3zM377 1277h3v14h-3zM466 1277h6v14h-6zM473 1277h4v14h-4zM479 1277h1v14h-1z" fill="#2c2c2c"/>
<path transform="scale(0.5)" d="M286 1277h1v14h-1zM336 1277h3v14h-3zM341 1277h7v14h-7zM349 1277h3v14h-3zM353 1277h1v14h-1zM355 1277h7v14h-7zM364 1277h1v14h-1zM368 1277h9v14h-9zM380 1277h13v14h-13z" fill="#0e0e0e"/>
<path transform="scale(0.5)" d="M645 1291h1v14h-1z" fill="#e1e1e1"/>
<path transform="scale(0.5)" d="M288 1291h3v14h-3zM300 1291h2v14h-2zM342 1291h2v14h-2zM349 1291h2v14h-2zM385 1291h6v14h-6zM392 1291h2v14h-2zM406 1291h2v14h-2zM409 1291h2v14h-2zM436 1291h3v14h-3zM466 1291h4v14h-4zM471 1291h1v14h-1zM475 1291h1v14h-1zM479 1291h3v14h-3zM526 1291h2v14h-2zM574 1291h1v14h-1zM623 1291h1v14h-1z" fill="#c3c3c3"/>
<path transform="scale(0.5)" d="M254 1291h1v14h-1zM275 1291h5v14h-5zM293 1291h1v14h-1zM306 1291h4v14h-4zM314 1291h2v14h-2zM318 1291h2v14h-2zM322 1291h2v14h-2zM331 1291h3v14h-3zM336 1291h4v14h-4zM346 1291h1v14h-1zM356 1291h3v14h-3zM361 1291h4v14h-4zM366 1291h3v14h-3zM371 1291h6v14h-6zM378 1291h3v14h-3zM391 1291h1v14h-1zM394 1291h1v14h-1zM398 1291h3v14h-3zM408 1291h1v14h-1zM416 1291h4v14h-4zM421 1291h3v14h-3zM439 1291h3v14h-3zM447 1291h2v14h-2zM450 1291h2v14h-2zM458 1291h4v14h-4zM472 1291h3v14h-3zM477 1291h2v14h-2zM489 1291h4v14h-4zM510 1291h2v14h-2zM546 1291h1v14h-1zM551 1291h2v14h-2zM709 1291h3v14h-3z" fill="#a5a5a5"/>
<path transform="scale(0.5)" d="M230 1291h3v14h-3zM235 1291h1v14h-1zM243 1291h6v14h-6zM255 1291h1v14h-1zM257 1291h1v14h-1zM268 1291h1v14h-1zM280 1291h8v14h-8zM291 1291h1v14h-1zM297 1291h3v14h-3zM302 1291h4v14h-4zM313 1291h1v14h-1zM320 1291h2v14h-2zM324 1291h7v14h-7zM334 1291h2v14h-2zM340 1291h2v14h-2zM344 1291h2v14h-2zM351 1291h2v14h-2zM359 1291h2v14h-2zM365 1291h1v14h-1zM369 1291h2v14h-2zM377 1291h1v14h-1zM381 1291h2v14h-2zM401 1291h2v14h-2zM411 1291h5v14h-5zM420 1291h1v14h-1zM424 1291h6v14h-6zM431 1291h3v14h-3zM452 1291h1v14h-1zM457 1291h1v14h-1zM463 1291h3v14h-3zM470 1291h1v14h-1zM476 1291h1v14h-1zM485 1291h1v14h-1zM487 1291h1v14h-1zM493 1291h1v14h-1zM507 1291h1v14h-1zM515 1291h4v14h-4zM523 1291h3v14h-3zM528 1291h3v14h-3zM533 1291h4v14h-4zM540 1291h1v14h-1zM542 1291h4v14h-4zM565 1291h1v14h-1zM572 1291h1v14h-1zM576 1291h3v14h-3zM600 1291h1v14h-1z" fill="#868686"/>
<path transform="scale(0.5)" d="M233 1291h2v14h-2zM236 1291h2v14h-2zM241 1291h2v14h-2zM250 1291h4v14h-4zM258 1291h8v14h-8zM269 1291h2v14h-2zM292 1291h1v14h-1zM294 1291h3v14h-3zM310 1291h1v14h-1zM347 1291h2v14h-2zM353 1291h3v14h-3zM383 1291h2v14h-2zM403 1291h3v14h-3zM430 1291h1v14h-1zM434 1291h2v14h-2zM442 1291h2v14h-2zM449 1291h1v14h-1zM454 1291h3v14h-3zM462 1291h1v14h-1zM482 1291h2v14h-2zM488 1291h1v14h-1zM494 1291h4v14h-4zM504 1291h3v14h-3zM508 1291h2v14h-2zM512 1291h3v14h-3zM519 1291h1v14h-1zM539 1291h1v14h-1zM554 1291h6v14h-6zM561 1291h3v14h-3zM566 1291h4v14h-4zM579 1291h1v14h-1zM582 1291h1v14h-1zM588 1291h2v14h-2zM594 1291h1v14h-1zM599 1291h1v14h-1z" fill="#686868"/>
<path transform="scale(0.5)" d="M249 1291h1v14h-1zM256 1291h1v14h-1zM266 1291h2v14h-2zM271 1291h4v14h-4zM311 1291h2v14h-2zM316 1291h2v14h-2zM395 1291h3v14h-3zM444 1291h3v14h-3zM484 1291h1v14h-1zM498 1291h6v14h-6zM531 1291h2v14h-2zM541 1291h1v14h-1zM547 1291h2v14h-2zM560 1291h1v14h-1zM564 1291h1v14h-1zM570 1291h2v14h-2zM573 1291h1v14h-1zM575 1291h1v14h-1zM583 1291h5v14h-5zM592 1291h2v14h-2zM595 1291h4v14h-4z" fill="#4a4a4a"/>
<path transform="scale(0.5)" d="M238 1291h3v14h-3zM453 1291h1v14h-1zM486 1291h1v14h-1zM520 1291h3v14h-3zM537 1291h2v14h-2zM549 1291h2v14h-2zM553 1291h1v14h-1zM580 1291h2v14h-2zM590 1291h2v14h-2z" fill="#2c2c2c"/>
<path transform="scale(0.5)" d="M238 1305h1v14h-1zM254 1305h2v14h-2zM400 1305h1v14h-1zM402 1305h1v14h-1zM412 1305h1v14h-1zM427 1305h2v14h-2zM430 1305h1v14h-1zM452 1305h3v14h-3zM464 1305h2v14h-2zM501 1305h2v14h-2zM505 1305h1v14h-1zM513 1305h1v14h-1zM515 1305h1v14h-1zM517 1305h2v14h-2zM531 1305h4v14h-4zM562 1305h1v14h-1zM597 1305h2v14h-2zM660 1305h1v14h-1z" fill="#e1e1e1"/>
<path transform="scale(0.5)" d="M232 1305h6v14h-6zM242 1305h12v14h-12zM260 1305h2v14h-2zM263 1305h6v14h-6zM273 1305h2v14h-2zM397 1305h3v14h-3zM403 1305h2v14h-2zM414 1305h4v14h-4zM420 1305h7v14h-7zM445 1305h2v14h-2zM457 1305h7v14h-7zM482 1305h3v14h-3zM487 1305h3v14h-3zM497 1305h4v14h-4zM509 1305h4v14h-4zM522 1305h3v14h-3zM530 1305h1v14h-1zM535 1305h2v14h-2zM539 1305h1v14h-1zM546 1305h4v14h-4zM553 1305h3v14h-3zM557 1305h3v14h-3zM563 1305h1v14h-1zM567 1305h3v14h-3zM571 1305h2v14h-2zM578 1305h3v14h-3zM584 1305h1v14h-1zM587 1305h4v14h-4zM595 1305h2v14h-2z" fill="#c3c3c3"/>
<path transform="scale(0.5)" d="M256 1305h3v14h-3zM394 1305h2v14h-2zM401 1305h1v14h-1zM405 1305h3v14h-3zM409 1305h3v14h-3zM413 1305h1v14h-1zM418 1305h2v14h-2zM431 1305h3v14h-3zM444 1305h1v14h-1zM447 1305h5v14h-5zM455 1305h2v14h-2zM492 1305h5v14h-5zM503 1305h2v14h-2zM506 1305h3v14h-3zM514 1305h1v14h-1zM516 1305h1v14h-1zM519 1305h3v14h-3zM525 1305h3v14h-3zM543 1305h3v14h-3zM550 1305h3v14h-3zM556 1305h1v14h-1zM560 1305h2v14h-2zM564 1305h1v14h-1zM566 1305h1v14h-1zM576 1305h2v14h-2zM581 1305h3v14h-3zM585 1305h2v14h-2zM594 1305h1v14h-1zM599 1305h2v14h-2zM656 1305h1v14h-1z" fill="#a5a5a5"/>
<path transform="scale(0.5)" d="M230 1305h2v14h-2zM259 1305h1v14h-1zM262 1305h1v14h-1zM269 1305h4v14h-4zM286 1305h3v14h-3zM330 1305h2v14h-2zM343 1305h2v14h-2zM356 1305h3v14h-3zM408 1305h1v14h-1zM436 1305h3v14h-3zM475 1305h1v14h-1zM485 1305h2v14h-2zM490 1305h2v14h-2zM528 1305h2v14h-2zM540 1305h3v14h-3zM565 1305h1v14h-1zM570 1305h1v14h-1zM573 1305h3v14h-3zM591 1305h3v14h-3z" fill="#868686"/>
<path transform="scale(0.5)" d="M281 1305h5v14h-5zM298 1305h3v14h-3zM312 1305h2v14h-2zM316 1305h3v14h-3zM326 1305h1v14h-1zM332 1305h2v14h-2zM353 1305h1v14h-1zM371 1305h3v14h-3zM385 1305h1v14h-1zM468 1305h3v14h-3zM473 1305h2v14h-2zM480 1305h1v14h-1z" fill="#686868"/>
<path transform="scale(0.5)" d="M239 1305h3v14h-3zM289 1305h4v14h-4zM301 1305h1v14h-1zM308 1305h1v14h-1zM314 1305h2v14h-2zM325 1305h1v14h-1zM339 1305h3v14h-3zM345 1305h3v14h-3zM368 1305h3v14h-3zM377 1305h3v14h-3zM384 1305h1v14h-1zM386 1305h3v14h-3zM391 1305h1v14h-1zM466 1305h2v14h-2zM471 1305h2v14h-2zM476 1305h4v14h-4zM481 1305h1v14h-1z" fill="#4a4a4a"/>
<path transform="scale(0.5)" d="M275 1305h5v14h-5zM293 1305h3v14h-3zM302 1305h2v14h-2zM307 1305h1v14h-1zM309 1305h3v14h-3zM319 1305h6v14h-6zM327 1305h3v14h-3zM335 1305h3v14h-3zM342 1305h1v14h-1zM348 1305h2v14h-2zM352 1305h1v14h-1zM354 1305h2v14h-2zM360 1305h8v14h-8zM374 1305h3v14h-3zM380 1305h4v14h-4zM389 1305h2v14h-2zM392 1305h2v14h-2z" fill="#2c2c2c"/>
<path transform="scale(0.5)" d="M280 1305h1v14h-1zM296 1305h2v14h-2zM304 1305h3v14h-3zM334 1305h1v14h-1zM338 1305h1v14h-1zM350 1305h2v14h-2zM359 1305h1v14h-1z" fill="#0e0e0e"/>
<path transform="scale(0.5)" d="M731 1319h4v14h-4zM741 1319h4v14h-4zM749 1319h3v14h-3zM754 1319h1v14h-1zM757 1319h4v14h-4z" fill="#e1e1e1"/>
<path transform="scale(0.5)" d="M695 1319h1v14h-1zM698 1319h2v14h-2zM709 1319h4v14h-4zM722 1319h6v14h-6zM729 1319h2v14h-2zM755 1319h2v14h-2zM763 1319h1v14h-1z" fill="#c3c3c3"/>
<path transform="scale(0.5)" d="M666 1319h2v14h-2zM669 1319h1v14h-1zM682 1319h2v14h-2zM693 1319h2v14h-2zM701 1319h2v14h-2zM721 1319h1v14h-1zM728 1319h1v14h-1zM735 1319h6v14h-6zM745 1319h4v14h-4zM752 1319h2v14h-2zM761 1319h2v14h-2z" fill="#a5a5a5"/>
<path transform="scale(0.5)" d="M618 1319h1v14h-1zM657 1319h2v14h-2zM668 1319h1v14h-1zM696 1319h1v14h-1zM703 1319h3v14h-3zM719 1319h2v14h-2z" fill="#868686"/>
<path transform="scale(0.5)" d="M246 1319h2v14h-2zM253 1319h3v14h-3zM297 1319h1v14h-1zM401 1319h3v14h-3zM418 1319h1v14h-1zM422 1319h1v14h-1zM433 1319h1v14h-1zM457 1319h1v14h-1zM463 1319h2v14h-2zM518 1319h3v14h-3zM527 1319h2v14h-2zM612 1319h3v14h-3zM653 1319h2v14h-2zM663 1319h3v14h-3zM675 1319h3v14h-3zM688 1319h3v14h-3zM697 1319h1v14h-1zM700 1319h1v14h-1zM706 1319h3v14h-3zM713 1319h5v14h-5z" fill="#686868"/>
<path transform="scale(0.5)" d="M248 1319h2v14h-2zM256 1319h2v14h-2zM265 1319h2v14h-2zM269 1319h2v14h-2zM287 1319h2v14h-2zM294 1319h2v14h-2zM363 1319h1v14h-1zM368 1319h2v14h-2zM371 1319h1v14h-1zM393 1319h1v14h-1zM404 1319h3v14h-3zM416 1319h2v14h-2zM423 1319h1v14h-1zM427 1319h3v14h-3zM434 1319h2v14h-2zM437 1319h3v14h-3zM445 1319h4v14h-4zM466 1319h1v14h-1zM476 1319h2v14h-2zM490 1319h1v14h-1zM530 1319h2v14h-2zM587 1319h2v14h-2zM592 1319h2v14h-2zM603 1319h3v14h-3zM608 1319h1v14h-1zM611 1319h1v14h-1zM626 1319h2v14h-2zM659 1319h4v14h-4zM672 1319h3v14h-3zM680 1319h2v14h-2zM684 1319h2v14h-2zM718 1319h1v14h-1z" fill="#4a4a4a"/>
<path transform="scale(0.5)" d="M232 1319h1v14h-1zM234 1319h3v14h-3zM241 1319h1v14h-1zM250 1319h2v14h-2zM258 1319h2v14h-2zM271 1319h1v14h-1zM273 1319h1v14h-1zM289 1319h5v14h-5zM298 1319h2v14h-2zM305 1319h3v14h-3zM313 1319h5v14h-5zM325 1319h3v14h-3zM329 1319h2v14h-2zM335 1319h1v14h-1zM342 1319h3v14h-3zM347 1319h2v14h-2zM354 1319h2v14h-2zM364 1319h2v14h-2zM370 1319h1v14h-1zM377 1319h1v14h-1zM385 1319h5v14h-5zM394 1319h2v14h-2zM398 1319h3v14h-3zM407 1319h1v14h-1zM410 1319h2v14h-2zM415 1319h1v14h-1zM420 1319h2v14h-2zM424 1319h3v14h-3zM431 1319h1v14h-1zM436 1319h1v14h-1zM440 1319h3v14h-3zM444 1319h1v14h-1zM469 1319h3v14h-3zM474 1319h2v14h-2zM478 1319h5v14h-5zM487 1319h1v14h-1zM508 1319h1v14h-1zM524 1319h3v14h-3zM534 1319h5v14h-5zM548 1319h3v14h-3zM570 1319h2v14h-2zM574 1319h3v14h-3zM578 1319h4v14h-4zM584 1319h3v14h-3zM597 1319h3v14h-3zM615 1319h3v14h-3zM619 1319h2v14h-2zM622 1319h4v14h-4zM628 1319h3v14h-3zM633 1319h3v14h-3zM639 1319h2v14h-2zM651 1319h2v14h-2zM655 1319h2v14h-2zM670 1319h2v14h-2zM678 1319h2v14h-2zM686 1319h2v14h-2zM691 1319h2v14h-2z" fill="#2c2c2c"/>
<path transform="scale(0.5)" d="M230 1319h2v14h-2zM233 1319h1v14h-1zM237 1319h4v14h-4zM242 1319h4v14h-4zM252 1319h1v14h-1zM260 1319h5v14h-5zM267 1319h2v14h-2zM272 1319h1v14h-1zM274 1319h13v14h-13zM296 1319h1v14h-1zM300 1319h5v14h-5zM308 1319h5v14h-5zM318 1319h7v14h-7zM328 1319h1v14h-1zM331 1319h4v14h-4zM336 1319h6v14h-6zM345 1319h2v14h-2zM349 1319h5v14h-5zM356 1319h7v14h-7zM366 1319h2v14h-2zM372 1319h5v14h-5zM378 1319h7v14h-7zM390 1319h3v14h-3zM396 1319h2v14h-2zM408 1319h2v14h-2zM412 1319h3v14h-3zM419 1319h1v14h-1zM430 1319h1v14h-1zM432 1319h1v14h-1zM443 1319h1v14h-1zM449 1319h8v14h-8zM458 1319h5v14h-5zM465 1319h1v14h-1zM467 1319h2v14h-2zM472 1319h2v14h-2zM483 1319h4v14h-4zM488 1319h2v14h-2zM491 1319h17v14h-17zM509 1319h9v14h-9zM521 1319h3v14h-3zM529 1319h1v14h-1zM532 1319h2v14h-2zM539 1319h9v14h-9zM551 1319h19v14h-19zM572 1319h2v14h-2zM577 1319h1v14h-1zM582 1319h2v14h-2zM589 1319h3v14h-3zM594 1319h3v14h-3zM600 1319h3v14h-3zM606 1319h2v14h-2zM609 1319h2v14h-2zM621 1319h1v14h-1zM631 1319h2v14h-2zM636 1319h3v14h-3zM641 1319h10v14h-10z" fill="#0e0e0e"/>
<path transform="scale(0.5)" d="M45 1333h1v14h-1zM71 1333h1v14h-1zM85 1333h5v14h-5zM98 1333h1v14h-1zM105 1333h3v14h-3zM109 1333h1v14h-1zM112 1333h3v14h-3zM124 1333h2v14h-2zM418 1333h1v14h-1zM430 1333h2v14h-2zM473 1333h3v14h-3zM722 1333h5v14h-5zM729 1333h3v14h-3zM739 1333h6v14h-6zM748 1333h1v14h-1zM754 1333h1v14h-1zM759 1333h3v14h-3z" fill="#e1e1e1"/>
<path transform="scale(0.5)" d="M39 1333h1v14h-1zM41 1333h1v14h-1zM46 1333h3v14h-3zM54 1333h6v14h-6zM68 1333h3v14h-3zM73 1333h2v14h-2zM81 1333h4v14h-4zM91 1333h2v14h-2zM101 1333h1v14h-1zM103 1333h2v14h-2zM108 1333h1v14h-1zM119 1333h3v14h-3zM126 1333h2v14h-2zM129 1333h2v14h-2zM178 1333h1v14h-1zM291 1333h4v14h-4zM300 1333h1v14h-1zM304 1333h2v14h-2zM310 1333h1v14h-1zM315 1333h2v14h-2zM382 1333h2v14h-2zM489 1333h3v14h-3zM694 1333h4v14h-4zM711 1333h2v14h-2zM732 1333h1v14h-1zM749 1333h4v14h-4zM755 1333h1v14h-1zM757 1333h1v14h-1zM763 1333h1v14h-1z" fill="#c3c3c3"/>
<path transform="scale(0.5)" d="M51 1333h3v14h-3zM75 1333h6v14h-6zM99 1333h1v14h-1zM326 1333h2v14h-2zM350 1333h2v14h-2zM367 1333h2v14h-2zM391 1333h1v14h-1zM451 1333h2v14h-2zM459 1333h2v14h-2zM564 1333h2v14h-2zM693 1333h1v14h-1zM700 1333h6v14h-6zM709 1333h2v14h-2zM733 1333h3v14h-3zM756 1333h1v14h-1zM762 1333h1v14h-1z" fill="#a5a5a5"/>
<path transform="scale(0.5)" d="M49 1333h2v14h-2zM60 1333h2v14h-2zM698 1333h2v14h-2z" fill="#868686"/>
<path transform="scale(0.5)" d="M706 1333h3v14h-3zM727 1333h2v14h-2z" fill="#686868"/>
<path transform="scale(0.5)" d="M635 1333h1v14h-1zM667 1333h3v14h-3zM684 1333h1v14h-1z" fill="#4a4a4a"/>
<path transform="scale(0.5)" d="M615 1333h1v14h-1zM619 1333h5v14h-5zM636 1333h2v14h-2zM648 1333h2v14h-2zM653 1333h4v14h-4zM660 1333h3v14h-3zM672 1333h6v14h-6zM681 1333h1v14h-1zM685 1333h2v14h-2z" fill="#2c2c2c"/>
<path transform="scale(0.5)" d="M601 1333h14v14h-14zM616 1333h3v14h-3zM624 1333h11v14h-11zM638 1333h10v14h-10zM650 1333h3v14h-3zM657 1333h3v14h-3zM663 1333h4v14h-4zM670 1333h2v14h-2zM678 1333h3v14h-3zM682 1333h2v14h-2zM687 1333h6v14h-6zM713 1333h9v14h-9z" fill="#0e0e0e"/>
<path transform="scale(0.5)" d="M745 1347h2v14h-2z" fill="#e1e1e1"/>
<path transform="scale(0.5)" d="M713 1347h2v14h-2zM732 1347h2v14h-2z" fill="#c3c3c3"/>
<path transform="scale(0.5)" d="M704 1347h1v14h-1zM706 1347h4v14h-4zM715 1347h2v14h-2zM730 1347h1v14h-1zM734 1347h2v14h-2zM738 1347h1v14h-1zM744 1347h1v14h-1z" fill="#a5a5a5"/>
<path transform="scale(0.5)" d="M653 1347h2v14h-2zM657 1347h5v14h-5zM671 1347h1v14h-1zM690 1347h1v14h-1zM705 1347h1v14h-1zM712 1347h1v14h-1zM717 1347h3v14h-3zM725 1347h5v14h-5zM739 1347h3v14h-3zM750 1347h2v14h-2zM754 1347h5v14h-5z" fill="#868686"/>
<path transform="scale(0.5)" d="M613 1347h2v14h-2zM622 1347h1v14h-1zM633 1347h1v14h-1zM655 1347h1v14h-1zM664 1347h5v14h-5zM677 1347h1v14h-1zM682 1347h7v14h-7zM693 1347h2v14h-2zM698 1347h3v14h-3zM710 1347h2v14h-2zM720 1347h5v14h-5zM736 1347h2v14h-2zM743 1347h1v14h-1zM747 1347h3v14h-3zM752 1347h2v14h-2zM759 1347h5v14h-5z" fill="#686868"/>
<path transform="scale(0.5)" d="M607 1347h2v14h-2zM612 1347h1v14h-1zM624 1347h3v14h-3zM637 1347h4v14h-4zM642 1347h1v14h-1zM650 1347h1v14h-1zM652 1347h1v14h-1zM656 1347h1v14h-1zM670 1347h1v14h-1zM674 1347h3v14h-3zM678 1347h2v14h-2zM691 1347h2v14h-2zM695 1347h3v14h-3zM701 1347h3v14h-3zM731 1347h1v14h-1z" fill="#4a4a4a"/>
<path transform="scale(0.5)" d="M601 1347h4v14h-4zM611 1347h1v14h-1zM616 1347h3v14h-3zM623 1347h1v14h-1zM627 1347h6v14h-6zM634 1347h3v14h-3zM643 1347h3v14h-3zM647 1347h3v14h-3zM651 1347h1v14h-1zM662 1347h2v14h-2zM672 1347h2v14h-2zM689 1347h1v14h-1zM742 1347h1v14h-1z" fill="#2c2c2c"/>
<path transform="scale(0.5)" d="M605 1347h2v14h-2zM609 1347h2v14h-2zM615 1347h1v14h-1zM619 1347h3v14h-3zM641 1347h1v14h-1zM646 1347h1v14h-1zM669 1347h1v14h-1zM680 1347h2v14h-2z" fill="#0e0e0e"/>
<path transform="scale(0.5)" d="M15 1361h1v14h-1zM18 1361h2v14h-2zM23 1361h2v14h-2zM27 1361h5v14h-5zM103 1361h3v14h-3zM118 1361h2v14h-2zM149 1361h1v14h-1zM156 1361h2v14h-2zM167 1361h3v14h-3zM287 1361h3v14h-3zM321 1361h2v14h-2zM482 1361h2v14h-2zM490 1361h3v14h-3zM501 1361h1v14h-1zM519 1361h3v14h-3zM546 1361h1v14h-1zM558 1361h2v14h-2zM566 1361h3v14h-3zM585 1361h2v14h-2zM589 1361h1v14h-1zM600 1361h1v14h-1zM625 1361h3v14h-3zM682 1361h1v14h-1z" fill="#e1e1e1"/>
<path transform="scale(0.5)" d="M20 1361h2v14h-2zM25 1361h2v14h-2zM34 1361h1v14h-1zM37 1361h9v14h-9zM194 1361h2v14h-2zM235 1361h2v14h-2zM305 1361h3v14h-3zM316 1361h2v14h-2zM469 1361h2v14h-2zM494 1361h6v14h-6zM502 1361h2v14h-2zM513 1361h2v14h-2zM544 1361h2v14h-2zM549 1361h4v14h-4zM555 1361h1v14h-1zM560 1361h3v14h-3zM564 1361h2v14h-2zM571 1361h3v14h-3zM575 1361h3v14h-3zM590 1361h3v14h-3zM596 1361h1v14h-1zM684 1361h2v14h-2zM715 1361h3v14h-3z" fill="#c3c3c3"/>
<path transform="scale(0.5)" d="M22 1361h1v14h-1zM120 1361h5v14h-5zM128 1361h1v14h-1zM131 1361h3v14h-3zM191 1361h1v14h-1zM198 1361h2v14h-2zM251 1361h2v14h-2zM285 1361h2v14h-2zM313 1361h1v14h-1zM346 1361h3v14h-3zM351 1361h2v14h-2zM377 1361h1v14h-1zM389 1361h1v14h-1zM426 1361h2v14h-2zM486 1361h4v14h-4zM493 1361h1v14h-1zM500 1361h1v14h-1zM508 1361h2v14h-2zM515 1361h3v14h-3zM526 1361h9v14h-9zM539 1361h3v14h-3zM547 1361h2v14h-2zM553 1361h2v14h-2zM556 1361h2v14h-2zM569 1361h2v14h-2zM574 1361h1v14h-1zM578 1361h7v14h-7zM598 1361h2v14h-2zM632 1361h3v14h-3zM636 1361h1v14h-1zM663 1361h1v14h-1zM718 1361h2v14h-2z" fill="#a5a5a5"/>
<path transform="scale(0.5)" d="M16 1361h1v14h-1zM32 1361h2v14h-2zM36 1361h1v14h-1zM129 1361h1v14h-1zM134 1361h1v14h-1zM136 1361h2v14h-2zM231 1361h1v14h-1zM237 1361h3v14h-3zM242 1361h3v14h-3zM247 1361h4v14h-4zM255 1361h4v14h-4zM261 1361h3v14h-3zM271 1361h2v14h-2zM394 1361h2v14h-2zM441 1361h2v14h-2zM471 1361h3v14h-3zM484 1361h2v14h-2zM504 1361h4v14h-4zM510 1361h3v14h-3zM518 1361h1v14h-1zM522 1361h4v14h-4zM536 1361h3v14h-3zM587 1361h2v14h-2zM597 1361h1v14h-1z" fill="#868686"/>
<path transform="scale(0.5)" d="M17 1361h1v14h-1zM142 1361h4v14h-4zM230 1361h1v14h-1zM232 1361h3v14h-3zM240 1361h2v14h-2zM259 1361h2v14h-2zM264 1361h6v14h-6zM396 1361h3v14h-3zM401 1361h3v14h-3zM412 1361h2v14h-2zM421 1361h1v14h-1zM428 1361h1v14h-1zM430 1361h3v14h-3zM464 1361h2v14h-2zM542 1361h2v14h-2zM593 1361h3v14h-3zM601 1361h1v14h-1zM604 1361h5v14h-5zM616 1361h4v14h-4zM621 1361h1v14h-1zM730 1361h1v14h-1zM762 1361h2v14h-2z" fill="#686868"/>
<path transform="scale(0.5)" d="M138 1361h4v14h-4zM245 1361h2v14h-2zM253 1361h2v14h-2zM273 1361h2v14h-2zM399 1361h2v14h-2zM404 1361h4v14h-4zM411 1361h1v14h-1zM416 1361h2v14h-2zM422 1361h1v14h-1zM436 1361h4v14h-4zM443 1361h8v14h-8zM453 1361h7v14h-7zM602 1361h2v14h-2zM609 1361h4v14h-4zM726 1361h2v14h-2zM731 1361h9v14h-9zM742 1361h6v14h-6zM749 1361h4v14h-4zM759 1361h3v14h-3z" fill="#4a4a4a"/>
<path transform="scale(0.5)" d="M130 1361h1v14h-1zM135 1361h1v14h-1zM270 1361h1v14h-1zM408 1361h3v14h-3zM414 1361h2v14h-2zM418 1361h3v14h-3zM423 1361h3v14h-3zM429 1361h1v14h-1zM451 1361h1v14h-1zM460 1361h4v14h-4zM613 1361h3v14h-3zM693 1361h2v14h-2zM702 1361h3v14h-3zM707 1361h3v14h-3zM712 1361h1v14h-1zM722 1361h4v14h-4zM728 1361h1v14h-1zM740 1361h1v14h-1zM748 1361h1v14h-1zM753 1361h2v14h-2zM758 1361h1v14h-1z" fill="#2c2c2c"/>
<path transform="scale(0.5)" d="M433 1361h3v14h-3zM440 1361h1v14h-1zM452 1361h1v14h-1zM620 1361h1v14h-1zM695 1361h7v14h-7zM705 1361h2v14h-2zM710 1361h2v14h-2zM729 1361h1v14h-1zM741 1361h1v14h-1zM755 1361h3v14h-3z" fill="#0e0e0e"/>
<path transform="scale(0.5)" d="M622 1375h1v14h-1zM676 1375h2v14h-2zM696 1375h3v14h-3z" fill="#e1e1e1"/>
<path transform="scale(0.5)" d="M606 1375h1v14h-1zM631 1375h1v14h-1zM635 1375h3v14h-3zM646 1375h4v14h-4zM651 1375h2v14h-2zM665 1375h5v14h-5zM704 1375h1v14h-1zM710 1375h3v14h-3zM714 1375h3v14h-3zM743 1375h3v14h-3zM759 1375h1v14h-1z" fill="#c3c3c3"/>
<path transform="scale(0.5)" d="M628 1375h3v14h-3zM632 1375h3v14h-3zM639 1375h2v14h-2zM700 1375h1v14h-1zM717 1375h2v14h-2zM724 1375h2v14h-2zM736 1375h1v14h-1z" fill="#a5a5a5"/>
<path transform="scale(0.5)" d="M626 1375h2v14h-2zM638 1375h1v14h-1zM641 1375h5v14h-5zM650 1375h1v14h-1zM660 1375h2v14h-2zM750 1375h2v14h-2z" fill="#868686"/>
<path transform="scale(0.5)" d="M623 1375h3v14h-3z" fill="#686868"/>
<text x="385" y="565.6" font-size="5.3" textLength="24.2" lengthAdjust="spacingAndGlyphs">Treatment</text>
<text x="385" y="573.2" font-size="5.3" textLength="18.5" lengthAdjust="spacingAndGlyphs">Cluster</text>
<text x="385" y="580.7" font-size="5.3" textLength="10.29" lengthAdjust="spacingAndGlyphs">MAF</text>
<text x="385" y="587.7" font-size="5.3" textLength="13.55" lengthAdjust="spacingAndGlyphs">MXD4</text>
<text x="385" y="594.7" font-size="5.3" textLength="13.28" lengthAdjust="spacingAndGlyphs">NFIL3</text>
<text x="385" y="601.7" font-size="5.3" textLength="15.72" lengthAdjust="spacingAndGlyphs">NFKB2</text>
<text x="385" y="608.7" font-size="5.3" textLength="13.27" lengthAdjust="spacingAndGlyphs">THRB</text>
<text x="385" y="615.7" font-size="5.3" textLength="17.89" lengthAdjust="spacingAndGlyphs">NFE2L2</text>
<text x="385" y="622.7" font-size="5.3" textLength="11.56" lengthAdjust="spacingAndGlyphs">ATF3</text>
<text x="385" y="629.7" font-size="5.3" textLength="11.65" lengthAdjust="spacingAndGlyphs">KLF4</text>
<text x="385" y="636.7" font-size="5.3" textLength="13.55" lengthAdjust="spacingAndGlyphs">MXD3</text>
<text x="385" y="643.7" font-size="5.3" textLength="13.01" lengthAdjust="spacingAndGlyphs">BNC2</text>
<text x="385" y="650.7" font-size="5.3" textLength="16.53" lengthAdjust="spacingAndGlyphs">HDAC2</text>
<text x="385" y="657.7" font-size="5.3" textLength="13.55" lengthAdjust="spacingAndGlyphs">RXRB</text>
<text x="385" y="664.7" font-size="5.3" textLength="10.03" lengthAdjust="spacingAndGlyphs">DBP</text>
<text x="385" y="671.7" font-size="5.3" textLength="16.53" lengthAdjust="spacingAndGlyphs">CEBPB</text>
<text x="385" y="678.7" font-size="5.3" textLength="16.53" lengthAdjust="spacingAndGlyphs">FOXO4</text>
<text x="385" y="685.7" font-size="5.3" textLength="15.99" lengthAdjust="spacingAndGlyphs">MYBL2</text>
<text x="385" y="692.7" font-size="5.3" textLength="11.92" lengthAdjust="spacingAndGlyphs">TFE3</text>
<text x="412" y="579" font-size="5.3" textLength="25.5" lengthAdjust="spacingAndGlyphs">Binary AUC</text>
<rect x="412.4" y="583.2" width="3.6" height="3.6" fill="#fff" stroke="#222" stroke-width="0.6"/>
<text x="419.8" y="587" font-size="5.3">0</text>
<rect x="412.1" y="589.5" width="4.2" height="4" fill="#111"/>
<text x="419.8" y="593.4" font-size="5.3">1</text>
<text x="412" y="603" font-size="5.3" textLength="24.2" lengthAdjust="spacingAndGlyphs">Treatment</text>
<rect x="412" y="605" width="4.9" height="6.3" fill="#a8479c"/>
<text x="420.2" y="609.9" font-size="5.3" textLength="26.56" lengthAdjust="spacingAndGlyphs">belvarafenib</text>
<rect x="412" y="611.3" width="4.9" height="6.3" fill="#d5a223"/>
<text x="420.2" y="616.2" font-size="5.3" textLength="23.04" lengthAdjust="spacingAndGlyphs">dabrafenib</text>
<rect x="412" y="617.6" width="4.9" height="6.3" fill="#3e9a3a"/>
<text x="420.2" y="622.5" font-size="5.3" textLength="14.63" lengthAdjust="spacingAndGlyphs">DMSO</text>
<text x="412" y="631" font-size="5.3" textLength="18.5" lengthAdjust="spacingAndGlyphs">Cluster</text>
<rect x="412.2" y="634.06" width="4.9" height="5.9" fill="#b8383b"/>
<text x="420.2" y="638.9" font-size="5.3" textLength="43.09" lengthAdjust="spacingAndGlyphs">Myeloid Progenitors</text>
<rect x="412.2" y="639.94" width="4.9" height="5.9" fill="#df7423"/>
<text x="420.2" y="644.78" font-size="5.3" textLength="35.14" lengthAdjust="spacingAndGlyphs">Monos LYZ high</text>
<rect x="412.2" y="645.82" width="4.9" height="5.9" fill="#b5561c"/>
<text x="420.2" y="650.66" font-size="5.3" textLength="44.72" lengthAdjust="spacingAndGlyphs">Monos BCL2A1 high</text>
<rect x="412.2" y="651.7" width="4.9" height="5.9" fill="#27449a"/>
<text x="420.2" y="656.54" font-size="5.3" textLength="33.63" lengthAdjust="spacingAndGlyphs">Mϕs SPP1 high</text>
<rect x="412.2" y="657.58" width="4.9" height="5.9" fill="#4a7dc5"/>
<text x="420.2" y="662.42" font-size="5.3" textLength="35.25" lengthAdjust="spacingAndGlyphs">Mϕs MKI67 high</text>
<rect x="412.2" y="663.46" width="4.9" height="5.9" fill="#8fc9c9"/>
<text x="420.2" y="668.3" font-size="5.3" textLength="40.92" lengthAdjust="spacingAndGlyphs">DCs RNASE1 high</text>
<rect x="412.2" y="669.34" width="4.9" height="5.9" fill="#4b9fa3"/>
<text x="420.2" y="674.18" font-size="5.3" textLength="34.68" lengthAdjust="spacingAndGlyphs">DCs CD1C high</text>
<rect x="0.5" y="0.5" width="519" height="701" fill="none" stroke="#5c5c5c" stroke-width="1"/>
</svg></body></html>
